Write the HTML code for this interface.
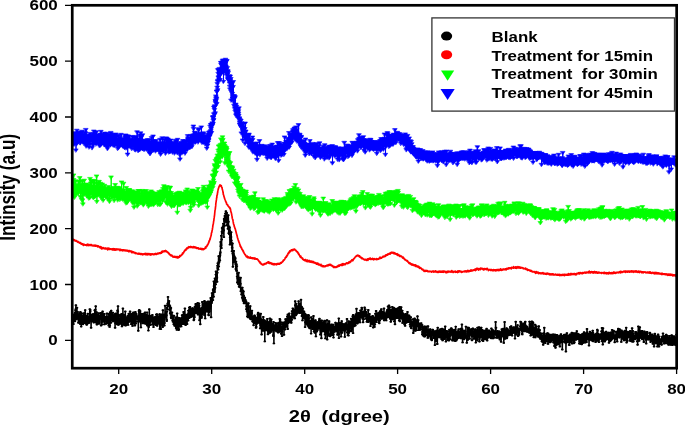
<!DOCTYPE html>
<html><head><meta charset="utf-8"><title>XRD</title><style>html,body{margin:0;padding:0;background:#fff;}svg{display:block;will-change:transform;}body{font-family:"Liberation Sans",sans-serif;}</style></head><body>
<svg width="685" height="426" viewBox="0 0 685 426">
<rect width="685" height="426" fill="#fff"/>
<clipPath id="c"><rect x="72" y="5" width="605" height="363"/></clipPath>
<g clip-path="url(#c)" fill="none" stroke-linejoin="round" stroke-linecap="round">
<path d="M72.2 239.2l0.2 0.9l0.2 -0.9l0.1 0.5l0.2 -0.2l0.2 0.5l0.2 0l0.2 -0.2l0.2 -0.4l0.1 0.5l0.2 0.7l0.2 -0.4l0.2 0.4l0.2 -0.3l0.2 -0.4l0.1 0.8l0.2 0.1l0.2 -0.2l0.2 0.1l0.2 0.3l0.2 -0.2l0.1 0.4l0.2 -0.1l0.2 -0.6l0.2 0.8l0.2 -0.1l0.2 0l0.1 0.5l0.2 -0.2l0.2 0.5l0.2 0.2l0.2 -0.2l0.2 -0.5l0.1 0.4l0.2 0.6l0.2 -0.3l0.2 -0.1l0.2 0.3l0.2 0.3l0.1 0l0.2 0.3l0.2 -0.5l0.2 0.3l0.2 0.1l0.2 0.2l0.1 -0.6l0.2 0.7l0.2 -0.3l0.2 1.1l0.2 0.1l0.2 0.1l0.1 -0.2l0.2 -0.4l0.2 0.6l0.2 -0.3l0.2 0.4l0.2 -0.5l0.1 0.2l0.2 0.4l0.2 0.5l0.2 -0.5l0.2 0.8l0.2 0.2l0.1 -1.3l0.2 0.5l0.2 -0.3l0.2 0.3l0.2 -0.1l0.2 0.2l0.1 0.3l0.2 0.1l0.2 -0.2l0.2 -0.1l0.2 0.1l0.2 0l0.1 0.2l0.2 -0.2l0.2 0.2l0.2 -0.6l0.2 0.7l0.2 0.4l0.1 -0.5l0.2 -0.6l0.2 1l0.2 -0.6l0.2 -0.9l0.2 1l0.1 0.3l0.2 -0.1l0.2 0.3l0.2 -0.2l0.2 -0.1l0.2 -0.7l0.1 0.3l0.2 0.5l0.2 0.1l0.2 -0.5l0.2 0.1l0.2 0.4l0.1 -0.8l0.2 0l0.2 0.6l0.2 0.2l0.2 -0.3l0.2 -0.6l0.1 0.8l0.2 -0.4l0.2 0.7l0.2 -0.3l0.2 0.2l0.2 0.1l0.1 -0.4l0.2 0.5l0.2 0.2l0.2 -0.3l0.2 0.3l0.2 -0.6l0.1 0.5l0.2 -0.2l0.2 -0.4l0.2 0.4l0.2 -0.2l0.2 0l0.1 0.3l0.2 0.3l0.2 -0.4l0.2 0.2l0.2 -0.6l0.2 0.6l0.1 0.4l0.2 -0.1l0.2 -0.1l0.2 -0.3l0.2 -0.1l0.1 0.4l0.2 -0.4l0.2 0l0.2 0.9l0.2 -0.6l0.2 1l0.1 -1.1l0.2 0.7l0.2 -0.5l0.2 0.5l0.2 -0.3l0.2 0.4l0.1 0l0.2 0l0.2 0.4l0.2 0.4l0.2 -0.7l0.2 0.6l0.1 -0.2l0.2 0l0.2 0.9l0.2 -1.5l0.2 0.6l0.2 -0.3l0.1 0.6l0.2 0.1l0.2 1.4l0.2 -1.1l0.2 0.6l0.2 -0.1l0.1 -0.6l0.2 0.4l0.2 0.5l0.2 -0.5l0.2 0.1l0.2 0.1l0.1 -0.6l0.2 0.3l0.2 0.4l0.2 0.1l0.2 -0.4l0.2 0.2l0.1 0.1l0.2 0.1l0.2 0.3l0.2 -0.2l0.2 0.1l0.2 -0.6l0.1 0.2l0.2 0.5l0.2 -0.7l0.2 0.7l0.2 -0.3l0.2 0l0.1 0.5l0.2 -0.5l0.2 0l0.2 0.1l0.2 0.2l0.2 1l0.1 -1.7l0.2 0.8l0.2 -0.1l0.2 0.4l0.2 -0.4l0.2 -0.7l0.1 1.3l0.2 -0.8l0.2 0.3l0.2 -0.4l0.2 0.1l0.2 0.2l0.1 0.5l0.2 0l0.2 -0.5l0.2 0.4l0.2 -0.3l0.2 0.2l0.1 0l0.2 0.2l0.2 -0.4l0.2 0.2l0.2 0.1l0.2 0l0.1 -0.3l0.2 0.9l0.2 -0.8l0.2 0.4l0.2 -0.1l0.2 0.3l0.1 -1.1l0.2 1.4l0.2 -0.7l0.2 -0.4l0.2 0.5l0.2 0.8l0.1 -0.6l0.2 -0.6l0.2 0.2l0.2 0.7l0.2 -1l0.2 0.5l0.1 0l0.2 0.8l0.2 -0.8l0.2 0.6l0.2 -0.7l0.2 0l0.1 0.6l0.2 -0.1l0.2 -0.8l0.2 0.8l0.2 0l0.2 -0.4l0.1 0.3l0.2 0.1l0.2 -0.3l0.2 0l0.2 0l0.2 0.2l0.1 -0.4l0.2 0.5l0.2 -0.5l0.2 0.6l0.2 -0.1l0.2 -0.3l0.1 0.7l0.2 0.4l0.2 -0.2l0.2 -0.9l0.2 0.9l0.1 -0.3l0.2 -0.1l0.2 -0.2l0.2 0.2l0.2 0.6l0.2 -0.3l0.1 -0.3l0.2 -0.1l0.2 0.1l0.2 0.4l0.2 0.5l0.2 -1l0.1 0.3l0.2 -0.1l0.2 -0.1l0.2 0.5l0.2 0l0.2 -0.6l0.1 0.1l0.2 0.8l0.2 -0.3l0.2 0.1l0.2 -0.3l0.2 0.1l0.1 0.3l0.2 -0.3l0.2 -0.2l0.2 0.4l0.2 0.4l0.2 -0.7l0.1 0.8l0.2 -0.1l0.2 -0.5l0.2 0.3l0.2 0l0.2 0.3l0.1 0l0.2 -0.7l0.2 0.1l0.2 0.8l0.2 -0.3l0.2 0.2l0.1 0l0.2 0.4l0.2 -0.9l0.2 0.8l0.2 -0.6l0.2 0.6l0.1 0.2l0.2 -0.9l0.2 0.7l0.2 -0.2l0.2 0l0.2 0.2l0.1 -0.3l0.2 0l0.2 0.7l0.2 0.1l0.2 -0.5l0.2 -0.2l0.1 1.4l0.2 -0.4l0.2 -0.2l0.2 -0.4l0.2 0.2l0.2 0.3l0.1 -0.3l0.2 0.9l0.2 -0.4l0.2 0.1l0.2 -0.4l0.2 0.1l0.1 0.1l0.2 0.4l0.2 -0.1l0.2 0.1l0.2 0.2l0.2 0.1l0.1 0.5l0.2 -0.6l0.2 -0.2l0.2 0.4l0.2 0.6l0.2 -0.6l0.1 0.2l0.2 -0.1l0.2 0.3l0.2 0l0.2 -0.3l0.2 0.3l0.1 0.4l0.2 0.1l0.2 0l0.2 0l0.2 -0.3l0.2 0l0.1 0.5l0.2 -0.7l0.2 0.4l0.2 -0.6l0.2 0.5l0.2 0l0.1 -0.2l0.2 0.6l0.2 -0.4l0.2 0.1l0.2 0.1l0.2 -0.2l0.1 0.8l0.2 -0.7l0.2 0.3l0.2 -0.5l0.2 0.3l0.2 0l0.1 0l0.2 -0.1l0.2 0.3l0.2 0.5l0.2 -0.6l0.2 0l0.1 -0.1l0.2 1l0.2 -0.3l0.2 -0.3l0.2 0l0.2 -0.5l0.1 0.2l0.2 0.2l0.2 -0.1l0.2 -0.3l0.2 0l0.1 0.5l0.2 -0.1l0.2 -0.8l0.2 0.7l0.2 0.5l0.2 -0.7l0.1 0.3l0.2 -0.6l0.2 0.8l0.2 -0.6l0.2 -0.1l0.2 0.3l0.1 1l0.2 -1.1l0.2 -0.2l0.2 0.6l0.2 -0.1l0.2 0.5l0.1 -1l0.2 -0.1l0.2 0.5l0.2 0.2l0.2 0l0.2 0.2l0.1 -0.8l0.2 0.2l0.2 0.2l0.2 0.4l0.2 -0.2l0.2 -0.3l0.1 -0.2l0.2 0.7l0.2 0l0.2 0.6l0.2 -1l0.2 0.6l0.1 -0.9l0.2 0.2l0.2 0l0.2 0l0.2 -0.1l0.2 0.1l0.1 0.2l0.2 -0.2l0.2 0.4l0.2 -0.3l0.2 0.1l0.2 0.5l0.1 -0.4l0.2 -0.1l0.2 -0.1l0.2 0l0.2 0.2l0.2 -0.5l0.1 0.7l0.2 0.1l0.2 -0.1l0.2 -0.6l0.2 -0.4l0.2 0.4l0.1 0.1l0.2 0.2l0.2 -0.3l0.2 -0.1l0.2 0.6l0.2 -0.8l0.1 0.6l0.2 -0.1l0.2 -0.8l0.2 0.6l0.2 -0.3l0.2 -0.2l0.1 -0.3l0.2 0l0.2 0.7l0.2 -0.3l0.2 0.2l0.2 -0.5l0.1 0.2l0.2 0l0.2 -0.5l0.2 -0.1l0.2 0.6l0.2 -0.1l0.1 -0.5l0.2 0.2l0.2 0.1l0.2 0.3l0.2 -1l0.2 0.4l0.1 0.4l0.2 -0.8l0.2 0.4l0.2 -1.5l0.2 1.2l0.2 -0.6l0.1 -0.7l0.2 0.8l0.2 0.1l0.2 -0.1l0.2 -0.1l0.2 -0.5l0.1 -0.3l0.2 0l0.2 0.1l0.2 0.1l0.2 -0.4l0.2 0.1l0.1 0.2l0.2 -0.2l0.2 0.7l0.2 -0.1l0.2 -1.1l0.2 0.3l0.1 -0.3l0.2 0.2l0.2 0.6l0.2 -0.4l0.2 0.1l0.2 0.4l0.1 0.4l0.2 -0.2l0.2 0.1l0.2 0.6l0.2 0l0.2 0.1l0.1 0.3l0.2 -0.5l0.2 0.5l0.2 -0.1l0.2 0.8l0.2 0.1l0.1 -0.4l0.2 1.1l0.2 -0.7l0.2 1.1l0.2 -0.1l0.1 -0.1l0.2 0.1l0.2 0.5l0.2 0.2l0.2 0l0.2 0.5l0.1 -0.6l0.2 0.6l0.2 0.1l0.2 -0.6l0.2 0.8l0.2 -0.4l0.1 -0.4l0.2 0.7l0.2 0.2l0.2 0.5l0.2 -0.4l0.2 0.7l0.1 0l0.2 0l0.2 0.1l0.2 -0.3l0.2 -0.2l0.2 0.5l0.1 0.1l0.2 -0.2l0.2 -0.1l0.2 -0.4l0.2 0.8l0.2 -0.1l0.1 -0.5l0.2 0.5l0.2 0.2l0.2 -0.2l0.2 0.3l0.2 0l0.1 -0.7l0.2 0.4l0.2 0.3l0.2 0.2l0.2 0.2l0.2 -1.2l0.1 0.7l0.2 0.2l0.2 0.2l0.2 0.2l0.2 -1l0.2 0.2l0.1 -0.3l0.2 0.5l0.2 -0.8l0.2 0.8l0.2 -0.2l0.2 -0.3l0.1 -1.1l0.2 0.4l0.2 0.4l0.2 -0.9l0.2 0.2l0.2 -0.1l0.1 0.2l0.2 -0.3l0.2 -0.2l0.2 -0.4l0.2 -0.1l0.2 -0.2l0.1 0.1l0.2 -0.6l0.2 0.2l0.2 -1.2l0.2 0.8l0.2 -0.8l0.1 0.2l0.2 -0.6l0.2 0.1l0.2 0l0.2 -1l0.2 0l0.1 -0.3l0.2 -0.1l0.2 -0.8l0.2 0.2l0.2 -0.2l0.2 -0.4l0.1 -0.1l0.2 -0.6l0.2 0.8l0.2 -0.6l0.2 0.3l0.2 -1.1l0.1 -0.3l0.2 0.3l0.2 -0.9l0.2 0.6l0.2 -0.5l0.2 0l0.1 0l0.2 -0.2l0.2 0.5l0.2 -0.5l0.2 -0.8l0.2 0.6l0.1 -0.9l0.2 0.4l0.2 -0.6l0.2 0.1l0.2 0.7l0.2 -0.7l0.1 0l0.2 0l0.2 0.1l0.2 0.6l0.2 -0.9l0.2 0l0.1 0.6l0.2 -0.7l0.2 0.4l0.2 0.6l0.2 -0.4l0.2 -0.1l0.1 -0.1l0.2 -0.1l0.2 0.2l0.2 0.3l0.2 0.4l0.2 -0.1l0.1 -0.5l0.2 -0.1l0.2 0.6l0.2 -0.9l0.2 0.5l0.1 0.1l0.2 -0.3l0.2 0.1l0.2 0.5l0.2 -0.7l0.2 0.3l0.1 0.1l0.2 0.3l0.2 -0.5l0.2 0.9l0.2 -0.4l0.2 0l0.1 0l0.2 0l0.2 -0.1l0.2 0.8l0.2 -0.3l0.2 -0.1l0.1 0.4l0.2 -0.5l0.2 0.5l0.2 -0.1l0.2 -0.3l0.2 0.6l0.1 -0.7l0.2 0.8l0.2 -0.4l0.2 0.5l0.2 0.4l0.2 -0.3l0.1 -0.3l0.2 0.2l0.2 0l0.2 -0.2l0.2 0l0.2 0.5l0.1 0.2l0.2 -0.8l0.2 0.6l0.2 0.2l0.2 -0.1l0.2 -0.4l0.1 0.8l0.2 -0.8l0.2 0.7l0.2 0.3l0.2 -1.2l0.2 0.8l0.1 0l0.2 0l0.2 -0.3l0.2 0.2l0.2 -0.4l0.2 0.5l0.1 0.2l0.2 -0.5l0.2 -0.1l0.2 0l0.2 0l0.2 -0.1l0.1 -0.2l0.2 -0.2l0.2 -0.7l0.2 -0.7l0.2 0.9l0.2 0.1l0.1 -1.3l0.2 0l0.2 0.1l0.2 0l0.2 -0.3l0.2 -0.1l0.1 -0.7l0.2 -0.1l0.2 -0.4l0.2 -0.6l0.2 0.3l0.2 -0.6l0.1 -0.2l0.2 -0.8l0.2 0.1l0.2 -1.2l0.2 0.1l0.2 -1.5l0.1 0.1l0.2 0.2l0.2 -0.9l0.2 -0.3l0.2 -1.2l0.2 0.5l0.1 -0.9l0.2 -0.9l0.2 -0.6l0.2 -0.7l0.2 -0.4l0.2 -1.2l0.1 -1.4l0.2 -0.4l0.2 -0.4l0.2 -1.1l0.2 -1.2l0.2 -0.6l0.1 -1.2l0.2 -0.8l0.2 -1.9l0.2 -0.9l0.2 -0.6l0.2 -1.5l0.1 -1l0.2 -0.7l0.2 -2l0.2 -1.1l0.2 -1.5l0.2 -1.4l0.1 -1.3l0.2 -2l0.2 -1.8l0.2 -0.5l0.2 -2.1l0.2 -1.2l0.1 -1.9l0.2 -1.5l0.2 -1.3l0.2 -1.3l0.2 -1.9l0.2 -0.4l0.1 -1.8l0.2 -0.8l0.2 -0.2l0.2 -1.9l0.2 -0.5l0.1 -1.6l0.2 -0.5l0.2 -0.9l0.2 -0.5l0.2 -0.9l0.2 -0.6l0.1 0l0.2 -1.1l0.2 -0.2l0.2 0.1l0.2 -0.7l0.2 -0.4l0.1 -0.2l0.2 0.3l0.2 -0.1l0.2 0.2l0.2 0.1l0.2 1l0.1 -0.5l0.2 -0.2l0.2 1.2l0.2 0.3l0.2 0.5l0.2 -0.1l0.1 1.5l0.2 0.3l0.2 0.9l0.2 0.3l0.2 1.7l0.2 0.8l0.1 1.4l0.2 0.2l0.2 0.5l0.2 1.1l0.2 0.3l0.2 1l0.1 0.1l0.2 0.9l0.2 0.4l0.2 0.6l0.2 0.3l0.2 0.4l0.1 0.8l0.2 0.3l0.2 0.7l0.2 0.3l0.2 -0.3l0.2 1.2l0.1 0.8l0.2 0l0.2 0.4l0.2 0.2l0.2 -0.1l0.2 0l0.1 0.9l0.2 0.3l0.2 0.1l0.2 0.2l0.2 0.3l0.2 0.1l0.1 0.3l0.2 0.2l0.2 0.4l0.2 -0.2l0.2 0.4l0.2 0.7l0.1 0l0.2 -0.3l0.2 1.3l0.2 -0.3l0.2 2l0.2 0.3l0.1 0.7l0.2 0.4l0.2 0.7l0.2 1.1l0.2 1l0.2 0.7l0.1 1.2l0.2 1.1l0.2 0.9l0.2 0.3l0.2 0.5l0.2 1.5l0.1 0.5l0.2 1.1l0.2 1l0.2 0.7l0.2 0.2l0.2 0.9l0.1 0.8l0.2 0.1l0.2 0.7l0.2 0.8l0.2 0.3l0.2 0.5l0.1 0.5l0.2 0.9l0.2 0.4l0.2 1.2l0.2 0.3l0.2 1.3l0.1 0.6l0.2 -0.1l0.2 1.4l0.2 0.2l0.2 1.3l0.2 0.4l0.1 0.5l0.2 0.8l0.2 0.3l0.2 0.9l0.2 0.6l0.2 0.4l0.1 0.7l0.2 0.1l0.2 1l0.2 -0.1l0.2 1.1l0.2 0.4l0.1 0.6l0.2 0l0.2 1.6l0.2 -0.6l0.2 0.5l0.2 0.1l0.1 1.2l0.2 -0.3l0.2 0.9l0.2 -0.3l0.2 0.8l0.1 0.1l0.2 0.8l0.2 0l0.2 0.1l0.2 0.8l0.2 -0.2l0.1 0.4l0.2 0.9l0.2 -0.6l0.2 1.3l0.2 -0.1l0.2 0.2l0.1 0.7l0.2 0.4l0.2 0l0.2 0.4l0.2 0.6l0.2 0.3l0.1 0l0.2 0l0.2 0.2l0.2 0.4l0.2 0.6l0.2 0.2l0.1 0.1l0.2 0.5l0.2 -0.4l0.2 0.1l0.2 0.1l0.2 0.9l0.1 -1.3l0.2 0.9l0.2 0.1l0.2 0l0.2 0.8l0.2 -0.3l0.1 -0.1l0.2 -0.5l0.2 0.5l0.2 -0.2l0.2 0.2l0.2 0.1l0.1 -0.2l0.2 0.4l0.2 0.4l0.2 -0.2l0.2 -0.2l0.2 -0.7l0.1 1.1l0.2 0l0.2 -0.3l0.2 -0.1l0.2 0.4l0.2 -0.4l0.1 0.6l0.2 -0.6l0.2 0.1l0.2 0.3l0.2 -0.4l0.2 0.5l0.1 0.2l0.2 -0.6l0.2 0.8l0.2 -0.5l0.2 0.4l0.2 0l0.1 -0.2l0.2 0l0.2 -0.4l0.2 0.4l0.2 0l0.2 0.8l0.1 -0.2l0.2 -0.7l0.2 0.7l0.2 -0.1l0.2 -0.2l0.2 0.4l0.1 0.1l0.2 -0.4l0.2 0.2l0.2 0.2l0.2 -0.3l0.2 0.4l0.1 0l0.2 -0.1l0.2 0l0.2 0.5l0.2 0.4l0.2 0l0.1 -0.1l0.2 0.7l0.2 0.1l0.2 0.4l0.2 0.4l0.2 -0.4l0.1 0.5l0.2 0.1l0.2 0.1l0.2 1.1l0.2 -0.1l0.2 -0.7l0.1 0.9l0.2 -0.1l0.2 0.8l0.2 -0.2l0.2 0.1l0.2 0.3l0.1 0.3l0.2 0l0.2 0.1l0.2 0.1l0.2 0.3l0.2 -0.5l0.1 0.4l0.2 -0.1l0.2 -0.1l0.2 0.4l0.2 -0.7l0.2 0.2l0.1 -0.2l0.2 0.3l0.2 -0.4l0.2 0.1l0.2 0l0.2 -0.7l0.1 0.5l0.2 -0.5l0.2 0.1l0.2 -0.1l0.2 0.2l0.1 -0.1l0.2 0.2l0.2 -0.6l0.2 -0.3l0.2 -0.1l0.2 0.3l0.1 0.2l0.2 -0.5l0.2 -0.3l0.2 0.2l0.2 0l0.2 -0.1l0.1 -0.2l0.2 -0.6l0.2 0.7l0.2 0.5l0.2 -0.2l0.2 -0.8l0.1 0.8l0.2 -0.6l0.2 1.3l0.2 -0.5l0.2 -0.4l0.2 0.7l0.1 -0.4l0.2 0.5l0.2 -0.1l0.2 -0.4l0.2 0.7l0.2 -0.6l0.1 1l0.2 -0.4l0.2 -0.3l0.2 -0.2l0.2 1.2l0.2 0l0.1 -0.8l0.2 1l0.2 -0.4l0.2 -0.1l0.2 0.1l0.2 -0.1l0.1 0.6l0.2 -0.4l0.2 -0.6l0.2 1.3l0.2 -0.4l0.2 -0.7l0.1 0.3l0.2 -0.2l0.2 0.3l0.2 0.1l0.2 -0.1l0.2 -0.3l0.1 0l0.2 0.5l0.2 -0.3l0.2 0.7l0.2 -1l0.2 0.5l0.1 -0.3l0.2 -0.3l0.2 0.7l0.2 -0.4l0.2 -0.4l0.2 0.1l0.1 0.4l0.2 -0.7l0.2 0.8l0.2 -0.3l0.2 -0.3l0.2 0.5l0.1 0.1l0.2 -0.5l0.2 -0.1l0.2 0.5l0.2 -0.2l0.2 -0.8l0.1 0.1l0.2 0l0.2 -0.1l0.2 -0.5l0.2 0.7l0.2 -0.4l0.1 -0.1l0.2 0.3l0.2 -0.8l0.2 0l0.2 -0.1l0.2 -0.4l0.1 -0.1l0.2 0.1l0.2 -0.5l0.2 0.3l0.2 -0.9l0.2 0.1l0.1 -0.8l0.2 0.2l0.2 -0.4l0.2 0.4l0.2 -0.4l0.2 -0.3l0.1 0.2l0.2 -0.4l0.2 -0.5l0.2 -0.7l0.2 -0.4l0.2 0.2l0.1 -0.3l0.2 -0.3l0.2 -0.2l0.2 -0.7l0.2 0.8l0.2 -1.2l0.1 -0.1l0.2 0.1l0.2 -1l0.2 0.5l0.2 -0.3l0.2 -0.7l0.1 -0.6l0.2 -0.1l0.2 -0.8l0.2 0.8l0.2 -0.7l0.2 -0.6l0.1 -0.3l0.2 0.2l0.2 0.1l0.2 -1.1l0.2 0l0.1 -0.6l0.2 0.6l0.2 -0.3l0.2 0.5l0.2 -0.9l0.2 -0.2l0.1 -0.2l0.2 0.5l0.2 -0.9l0.2 0.7l0.2 -0.3l0.2 -0.3l0.1 -0.2l0.2 0.6l0.2 0.2l0.2 -0.9l0.2 0.3l0.2 0.4l0.1 -0.9l0.2 0.1l0.2 -0.3l0.2 0.3l0.2 0l0.2 -0.1l0.1 -0.1l0.2 -0.3l0.2 0.1l0.2 0.2l0.2 0.7l0.2 -0.3l0.1 0l0.2 0.6l0.2 0.2l0.2 -0.3l0.2 0.2l0.2 0.6l0.1 0.1l0.2 -0.2l0.2 0.5l0.2 0.1l0.2 0.6l0.2 -0.5l0.1 0.8l0.2 0.1l0.2 -0.2l0.2 1l0.2 0.2l0.2 -0.4l0.1 1.3l0.2 -0.7l0.2 0.4l0.2 0.4l0.2 0.7l0.2 0.2l0.1 0l0.2 0.8l0.2 -0.1l0.2 0.6l0.2 0.6l0.2 -0.6l0.1 -0.7l0.2 0.9l0.2 0l0.2 0.6l0.2 0.3l0.2 -0.3l0.1 0.3l0.2 0.5l0.2 0.2l0.2 -0.6l0.2 1.3l0.2 -0.1l0.1 0.1l0.2 0.3l0.2 -0.4l0.2 0.5l0.2 0.4l0.2 0.1l0.1 -0.1l0.2 -0.2l0.2 -0.1l0.2 0.8l0.2 -0.2l0.2 -0.3l0.1 -0.5l0.2 0.5l0.2 -0.4l0.2 1.2l0.2 -0.3l0.2 -0.3l0.1 0.2l0.2 1l0.2 -0.4l0.2 -0.9l0.2 0.5l0.2 -0.4l0.1 -0.1l0.2 0.7l0.2 0.8l0.2 -0.3l0.2 -0.5l0.2 -0.1l0.1 0.3l0.2 0.3l0.2 -0.8l0.2 -0.1l0.2 1.3l0.2 -0.5l0.1 0.5l0.2 -0.5l0.2 0.5l0.2 -0.7l0.2 0.5l0.2 0.4l0.1 -0.2l0.2 -0.4l0.2 0.5l0.2 -0.5l0.2 -0.2l0.2 0.7l0.1 0.4l0.2 -0.1l0.2 -0.7l0.2 0.8l0.2 0l0.2 -0.3l0.1 -0.7l0.2 1.3l0.2 0l0.2 -0.1l0.2 -0.7l0.2 0.2l0.1 0.9l0.2 0l0.2 0l0.2 -0.2l0.2 0.3l0.1 -0.3l0.2 0.2l0.2 -0.2l0.2 0.5l0.2 -0.2l0.2 0.6l0.1 -0.1l0.2 -0.4l0.2 1l0.2 -1l0.2 0.6l0.2 0.3l0.1 0.1l0.2 -1.1l0.2 1.2l0.2 0.1l0.2 0.2l0.2 -1.2l0.1 0.6l0.2 0.3l0.2 0l0.2 0.7l0.2 -0.6l0.2 0.7l0.1 -0.1l0.2 -0.7l0.2 0.3l0.2 0.2l0.2 0.3l0.2 0.4l0.1 -0.3l0.2 0.4l0.2 -0.7l0.2 -0.5l0.2 1l0.2 0.4l0.1 -0.2l0.2 -0.2l0.2 0.6l0.2 0.6l0.2 -0.7l0.2 -0.2l0.1 0.1l0.2 1l0.2 -0.7l0.2 0.3l0.2 0.3l0.2 -0.1l0.1 -0.6l0.2 0.7l0.2 -0.1l0.2 -0.1l0.2 0.2l0.2 -0.5l0.1 0.2l0.2 -0.2l0.2 0.4l0.2 -0.5l0.2 0.4l0.2 -0.6l0.1 0.3l0.2 -0.2l0.2 0.1l0.2 0l0.2 -0.2l0.2 -0.1l0.1 -0.7l0.2 1l0.2 -0.7l0.2 0.1l0.2 -0.3l0.2 0.5l0.1 -0.7l0.2 0.4l0.2 0.2l0.2 0.1l0.2 -0.3l0.2 -0.2l0.1 -0.7l0.2 0.8l0.2 0l0.2 -0.2l0.2 0l0.2 -0.3l0.1 -0.2l0.2 0.6l0.2 0.2l0.2 -0.8l0.2 0.8l0.2 -0.1l0.1 0.3l0.2 0l0.2 0.4l0.2 0.1l0.2 0.1l0.2 -0.6l0.1 0.9l0.2 -0.1l0.2 -0.3l0.2 0.8l0.2 -0.6l0.2 0.9l0.1 0.4l0.2 -0.7l0.2 0.5l0.2 -0.1l0.2 0.1l0.2 -0.7l0.1 0.7l0.2 -0.2l0.2 0.2l0.2 -0.3l0.2 0.4l0.2 -0.3l0.1 0.1l0.2 0.1l0.2 -0.4l0.2 0.2l0.2 -0.3l0.2 0l0.1 -0.4l0.2 0.3l0.2 0.1l0.2 -0.5l0.2 0.2l0.2 -0.2l0.1 -0.6l0.2 0.4l0.2 0.2l0.2 -0.7l0.2 -0.5l0.1 0.6l0.2 -0.4l0.2 0.8l0.2 -0.7l0.2 -0.1l0.2 -0.3l0.1 0.3l0.2 -0.4l0.2 -0.1l0.2 0.2l0.2 -0.3l0.2 0.7l0.1 -0.9l0.2 0.3l0.2 -0.3l0.2 -0.2l0.2 1l0.2 -1.4l0.1 1.2l0.2 -1l0.2 0.5l0.2 0.7l0.2 -1.6l0.2 0.2l0.1 0.9l0.2 -0.4l0.2 -0.3l0.2 0.1l0.2 -0.3l0.2 0.3l0.1 0.4l0.2 -0.6l0.2 0.1l0.2 0.3l0.2 0.2l0.2 -0.9l0.1 0.3l0.2 -0.4l0.2 -0.1l0.2 0l0.2 -0.1l0.2 -0.4l0.1 -0.2l0.2 0.4l0.2 0.2l0.2 0.3l0.2 -0.7l0.2 0.1l0.1 0.2l0.2 -0.1l0.2 -0.4l0.2 -0.1l0.2 0.6l0.2 -0.9l0.1 -0.1l0.2 -0.5l0.2 0.6l0.2 -0.3l0.2 0.6l0.2 -0.9l0.1 0.3l0.2 -0.1l0.2 0.2l0.2 -1.2l0.2 0.9l0.2 -0.6l0.1 -0.2l0.2 -0.2l0.2 -0.1l0.2 -0.1l0.2 -0.8l0.2 0.8l0.1 -0.3l0.2 -0.4l0.2 0.1l0.2 0.7l0.2 -0.9l0.2 -0.4l0.1 0.5l0.2 -1l0.2 0l0.2 -0.4l0.2 0l0.2 0.1l0.1 -0.3l0.2 -0.6l0.2 0l0.2 -0.2l0.2 -0.4l0.2 0l0.1 -0.5l0.2 -0.1l0.2 0l0.2 -0.5l0.2 0.3l0.2 -0.3l0.1 -0.4l0.2 0l0.2 -0.1l0.2 0l0.2 0l0.2 -0.2l0.1 -0.2l0.2 0.7l0.2 -0.2l0.2 -0.2l0.2 0.3l0.2 -0.2l0.1 -0.1l0.2 0.2l0.2 1l0.2 -0.5l0.2 0.2l0.2 -0.4l0.1 0.5l0.2 0.7l0.2 -0.5l0.2 0.4l0.2 0.2l0.2 0l0.1 0.5l0.2 -0.4l0.2 0.3l0.2 -0.3l0.2 1.3l0.2 -0.7l0.1 0.1l0.2 0.5l0.2 -0.5l0.2 0.3l0.2 -0.1l0.1 0.4l0.2 0l0.2 0.4l0.2 -0.1l0.2 0l0.2 0.2l0.1 0.2l0.2 -0.1l0.2 0.6l0.2 0l0.2 -0.1l0.2 -0.4l0.1 0.6l0.2 -0.6l0.2 0.5l0.2 -0.1l0.2 -0.2l0.2 -0.1l0.1 0l0.2 0.9l0.2 -0.9l0.2 0l0.2 0.3l0.2 -0.2l0.1 0.2l0.2 -0.9l0.2 0l0.2 1.5l0.2 -1.2l0.2 -0.2l0.1 0.1l0.2 0.3l0.2 -0.8l0.2 0.4l0.2 -0.1l0.2 0.2l0.1 -0.2l0.2 -0.3l0.2 -0.1l0.2 -0.5l0.2 1.1l0.2 -0.8l0.1 0.4l0.2 0.7l0.2 -0.7l0.2 0.4l0.2 -0.3l0.2 0.3l0.1 -0.2l0.2 -0.1l0.2 0.6l0.2 -0.5l0.2 -0.4l0.2 0.4l0.1 0.3l0.2 -0.5l0.2 0.6l0.2 0l0.2 0.5l0.2 -0.9l0.1 0.5l0.2 -0.8l0.2 0.4l0.2 0.2l0.2 0.1l0.2 -0.1l0.1 0l0.2 -0.2l0.2 0.1l0.2 0.2l0.2 0.1l0.2 0l0.1 0.1l0.2 0.1l0.2 -1.1l0.2 0.4l0.2 0.1l0.2 -0.2l0.1 0.6l0.2 -0.2l0.2 -0.3l0.2 0l0.2 0.4l0.2 -0.6l0.1 -0.1l0.2 0.4l0.2 -0.2l0.2 0.2l0.2 -0.4l0.2 0.1l0.1 -0.6l0.2 -0.2l0.2 0.3l0.2 -1l0.2 1l0.2 0.1l0.1 -0.4l0.2 -0.2l0.2 0.4l0.2 -0.5l0.2 0.3l0.2 0.3l0.1 -0.6l0.2 0l0.2 -0.2l0.2 -0.2l0.2 0l0.2 -0.2l0.1 0.3l0.2 -1l0.2 0.4l0.2 0.2l0.2 -0.6l0.2 0.2l0.1 -0.3l0.2 0.3l0.2 0.1l0.2 0.1l0.2 -0.4l0.2 -0.5l0.1 0.3l0.2 0l0.2 0.2l0.2 -1.3l0.2 0.8l0.2 -0.9l0.1 0.8l0.2 -0.2l0.2 -0.1l0.2 0l0.2 -0.2l0.1 -0.5l0.2 0.3l0.2 0.1l0.2 -0.5l0.2 -0.1l0.2 -0.5l0.1 0.7l0.2 -0.7l0.2 -0.1l0.2 0l0.2 -0.3l0.2 0.1l0.1 0.5l0.2 -0.3l0.2 0.1l0.2 0l0.2 -0.9l0.2 0.4l0.1 0.3l0.2 0.2l0.2 -1.4l0.2 0l0.2 0.6l0.2 -0.3l0.1 -0.3l0.2 0.4l0.2 -0.4l0.2 -0.5l0.2 0.7l0.2 0.1l0.1 0.1l0.2 0.1l0.2 -0.2l0.2 -0.1l0.2 -0.1l0.2 -0.3l0.1 0.4l0.2 0.6l0.2 -0.1l0.2 0.5l0.2 -0.6l0.2 -0.5l0.1 1l0.2 0.1l0.2 -0.6l0.2 -0.1l0.2 0.7l0.2 0.3l0.1 -0.6l0.2 0.4l0.2 -0.1l0.2 0l0.2 0l0.2 0.6l0.1 -0.1l0.2 0l0.2 -0.6l0.2 1.6l0.2 -0.9l0.2 0.4l0.1 -0.3l0.2 0.6l0.2 -0.5l0.2 0.6l0.2 0l0.2 0.4l0.1 -0.5l0.2 0.2l0.2 0.2l0.2 0.9l0.2 -1.1l0.2 0.7l0.1 -0.2l0.2 0.4l0.2 0.2l0.2 -0.1l0.2 0.2l0.2 0.1l0.1 -0.2l0.2 0.2l0.2 -0.4l0.2 0.6l0.2 0l0.2 0.2l0.1 0.5l0.2 0l0.2 0.1l0.2 0.4l0.2 -1l0.2 1l0.1 0l0.2 0.1l0.2 -0.2l0.2 0.7l0.2 0.4l0.2 0.1l0.1 -0.2l0.2 0.4l0.2 0.2l0.2 0.5l0.2 -0.1l0.2 -0.2l0.1 0.2l0.2 0.2l0.2 0.1l0.2 0l0.2 0.5l0.2 -0.3l0.1 0.1l0.2 0.6l0.2 -0.2l0.2 0.3l0.2 -0.5l0.2 1.1l0.1 -0.1l0.2 0.1l0.2 0.4l0.2 0l0.2 -0.1l0.2 1l0.1 -0.7l0.2 0.6l0.2 0.5l0.2 -0.7l0.2 0.3l0.2 -0.2l0.1 0.8l0.2 -0.4l0.2 -0.1l0.2 0.9l0.2 0l0.1 -0.6l0.2 0.8l0.2 -0.2l0.2 0.9l0.2 -0.2l0.2 -0.7l0.1 0.2l0.2 -0.1l0.2 0.4l0.2 0l0.2 0.4l0.2 -0.2l0.1 -0.4l0.2 0.3l0.2 0.8l0.2 0l0.2 -0.4l0.2 0.1l0.1 0l0.2 0.2l0.2 -0.5l0.2 0.9l0.2 -0.4l0.2 0.3l0.1 -0.8l0.2 1l0.2 0.4l0.2 -1.1l0.2 1.3l0.2 -0.3l0.1 -0.3l0.2 -0.2l0.2 1l0.2 -0.3l0.2 0.2l0.2 -0.2l0.1 -0.1l0.2 0.7l0.2 -0.6l0.2 0.7l0.2 -0.7l0.2 0.3l0.1 -0.1l0.2 1l0.2 -0.9l0.2 0.3l0.2 0.7l0.2 -0.1l0.1 0.8l0.2 0l0.2 -0.3l0.2 0.1l0.2 -0.7l0.2 0.5l0.1 0.3l0.2 0.2l0.2 -0.3l0.2 0.3l0.2 0.2l0.2 0.7l0.1 0l0.2 -0.2l0.2 0.2l0.2 0.3l0.2 -0.2l0.2 0.3l0.1 -0.4l0.2 0.9l0.2 0.3l0.2 -0.1l0.2 0.1l0.2 0.1l0.1 0.6l0.2 -0.5l0.2 -0.5l0.2 0.2l0.2 0.6l0.2 0.2l0.1 -0.1l0.2 0l0.2 -0.2l0.2 -0.5l0.2 0.3l0.2 -0.4l0.1 0.5l0.2 -0.3l0.2 0.6l0.2 -0.1l0.2 -0.6l0.2 0.9l0.1 0.1l0.2 -0.7l0.2 0.5l0.2 0.2l0.2 -0.3l0.2 0.4l0.1 -0.2l0.2 0.3l0.2 -0.3l0.2 -0.1l0.2 0.3l0.2 0.1l0.1 -0.2l0.2 -0.2l0.2 -0.1l0.2 0.2l0.2 -0.1l0.2 0.3l0.1 0l0.2 -0.1l0.2 0.1l0.2 0l0.2 0.5l0.2 -0.1l0.1 -0.6l0.2 0.4l0.2 -0.3l0.2 0.1l0.2 0l0.2 -0.1l0.1 -0.3l0.2 -0.3l0.2 0.9l0.2 0.3l0.2 -0.7l0.2 0.5l0.1 -0.3l0.2 0.2l0.2 -0.3l0.2 0.2l0.2 0l0.1 -0.7l0.2 0.8l0.2 -0.1l0.2 -0.8l0.2 1.1l0.2 -0.2l0.1 0.1l0.2 0l0.2 -0.2l0.2 -0.3l0.2 0.2l0.2 0l0.1 0.9l0.2 -0.1l0.2 -0.8l0.2 0.1l0.2 0.2l0.2 0.1l0.1 -0.4l0.2 -0.1l0.2 0.9l0.2 -0.3l0.2 -0.8l0.2 -0.1l0.1 0.3l0.2 0.4l0.2 0.1l0.2 -0.3l0.2 -0.5l0.2 0.7l0.1 0.1l0.2 -0.2l0.2 -0.2l0.2 0.4l0.2 -0.2l0.2 -0.4l0.1 0.4l0.2 -0.5l0.2 0.8l0.2 -0.2l0.2 -0.5l0.2 0.5l0.1 0.3l0.2 -1.2l0.2 0.7l0.2 0.6l0.2 -1.1l0.2 0.5l0.1 -0.4l0.2 0.4l0.2 -0.7l0.2 0.2l0.2 0.4l0.2 0.2l0.1 0.1l0.2 0l0.2 0.3l0.2 -0.2l0.2 0l0.2 -0.6l0.1 0.3l0.2 1.1l0.2 -0.3l0.2 -0.5l0.2 0l0.2 0.1l0.1 -0.5l0.2 0.8l0.2 -0.8l0.2 0.1l0.2 0.8l0.2 -1.5l0.1 0.9l0.2 -0.7l0.2 0.3l0.2 0.2l0.2 -0.1l0.2 0.2l0.1 -0.3l0.2 0.2l0.2 -0.4l0.2 0.3l0.2 -0.3l0.2 0.7l0.1 -0.7l0.2 0.7l0.2 -0.4l0.2 0l0.2 0.5l0.2 -0.3l0.1 -0.7l0.2 0.8l0.2 -1.2l0.2 1.1l0.2 -0.2l0.2 -0.4l0.1 0.5l0.2 -0.1l0.2 0.8l0.2 -0.9l0.2 0.9l0.2 -0.2l0.1 -0.7l0.2 -0.1l0.2 0.7l0.2 -0.5l0.2 0.1l0.2 -0.1l0.1 -0.3l0.2 0.2l0.2 -0.2l0.2 -0.2l0.2 0.5l0.2 0.7l0.1 -0.1l0.2 -0.6l0.2 0.1l0.2 0.1l0.2 0.3l0.2 -0.3l0.1 -0.3l0.2 0l0.2 0.5l0.2 0.5l0.2 -1.1l0.2 -0.5l0.1 1l0.2 -0.3l0.2 0.1l0.2 0.4l0.2 -0.5l0.2 -0.4l0.1 -0.3l0.2 0.7l0.2 -0.4l0.2 0.5l0.2 -0.5l0.1 0.3l0.2 -0.4l0.2 0.4l0.2 -0.1l0.2 0.4l0.2 0.3l0.1 -0.6l0.2 -0.2l0.2 1l0.2 -0.6l0.2 0.1l0.2 0l0.1 0.3l0.2 -0.2l0.2 -0.1l0.2 0l0.2 -0.5l0.2 0l0.1 0.2l0.2 0.1l0.2 -0.1l0.2 0.1l0.2 -0.1l0.2 -0.1l0.1 -0.4l0.2 0.8l0.2 -0.1l0.2 -0.5l0.2 0.5l0.2 -0.1l0.1 -0.1l0.2 -0.6l0.2 0.2l0.2 0.2l0.2 0.7l0.2 -0.8l0.1 0.1l0.2 -0.2l0.2 0.2l0.2 0.2l0.2 -0.8l0.2 -0.3l0.1 1.2l0.2 -0.3l0.2 -0.2l0.2 0.5l0.2 0l0.2 -1.1l0.1 0.6l0.2 0.4l0.2 -0.6l0.2 0.1l0.2 0.4l0.2 -0.5l0.1 -0.4l0.2 0.2l0.2 -0.3l0.2 0.6l0.2 -0.8l0.2 0.9l0.1 -1l0.2 0.6l0.2 -0.6l0.2 0.3l0.2 0.5l0.2 0l0.1 0l0.2 -0.6l0.2 0.1l0.2 -0.1l0.2 0.1l0.2 -0.4l0.1 0.5l0.2 -0.3l0.2 0.2l0.2 -0.3l0.2 0.1l0.2 -0.6l0.1 0.1l0.2 -0.4l0.2 0.3l0.2 0l0.2 0.3l0.2 -0.8l0.1 1.6l0.2 -1.2l0.2 0.4l0.2 -0.1l0.2 -1.3l0.2 0.7l0.1 0.6l0.2 -1.4l0.2 1.1l0.2 -0.7l0.2 0.2l0.2 0.2l0.1 -0.8l0.2 0.7l0.2 -0.3l0.2 -0.1l0.2 0.5l0.2 1l0.1 -1.2l0.2 0.1l0.2 -0.3l0.2 -0.2l0.2 0.3l0.2 0.5l0.1 -0.5l0.2 0.2l0.2 -0.4l0.2 1l0.2 -1.5l0.2 0.8l0.1 0l0.2 -0.1l0.2 -0.5l0.2 0l0.2 0.3l0.2 0.2l0.1 -0.5l0.2 0.1l0.2 0.5l0.2 0.2l0.2 -0.5l0.2 -0.1l0.1 0.1l0.2 1.1l0.2 -0.7l0.2 -0.2l0.2 0.4l0.1 0.5l0.2 -0.4l0.2 -0.9l0.2 0.5l0.2 -0.1l0.2 0.1l0.1 -0.3l0.2 0.3l0.2 -0.2l0.2 0.5l0.2 -0.1l0.2 -0.4l0.1 -0.1l0.2 0.4l0.2 0.5l0.2 -0.1l0.2 -0.1l0.2 -1.1l0.1 1l0.2 -0.1l0.2 0.2l0.2 -0.3l0.2 0.3l0.2 0l0.1 1.2l0.2 -0.7l0.2 -0.3l0.2 0.1l0.2 0l0.2 0.1l0.1 -0.2l0.2 0.2l0.2 0.4l0.2 0l0.2 -0.2l0.2 0.4l0.1 -0.4l0.2 -0.4l0.2 -0.2l0.2 0.4l0.2 0.2l0.2 0.2l0.1 0.3l0.2 -0.6l0.2 -0.1l0.2 0.6l0.2 0.2l0.2 -0.6l0.1 0.3l0.2 0.4l0.2 -0.4l0.2 -0.1l0.2 -0.7l0.2 1.2l0.1 -0.2l0.2 -0.2l0.2 -0.2l0.2 -0.3l0.2 0.4l0.2 0l0.1 0.5l0.2 -0.8l0.2 0.9l0.2 -0.5l0.2 0.4l0.2 -0.8l0.1 0.5l0.2 0.3l0.2 -0.4l0.2 -0.6l0.2 0.4l0.2 0.3l0.1 -0.7l0.2 0l0.2 0.6l0.2 -0.4l0.2 0.5l0.2 -0.7l0.1 -0.2l0.2 0.4l0.2 0.7l0.2 -0.8l0.2 0.3l0.2 0l0.1 -0.4l0.2 0.7l0.2 -0.3l0.2 0l0.2 -0.7l0.2 -0.1l0.1 -0.4l0.2 0.9l0.2 0l0.2 0.3l0.2 0.2l0.2 -0.6l0.1 0l0.2 0.2l0.2 0.3l0.2 -0.8l0.2 0.5l0.2 -0.4l0.1 0l0.2 0.3l0.2 -0.6l0.2 -0.1l0.2 0.6l0.2 -0.3l0.1 -0.1l0.2 0l0.2 0.2l0.2 -0.3l0.2 0.3l0.2 -0.1l0.1 0.3l0.2 -0.1l0.2 -0.2l0.2 -0.4l0.2 0.1l0.2 -0.3l0.1 1.2l0.2 -1.1l0.2 0.2l0.2 0.3l0.2 -1l0.2 0.1l0.1 0.1l0.2 -0.2l0.2 -0.1l0.2 0.2l0.2 0.6l0.1 -0.2l0.2 -0.3l0.2 0l0.2 -0.7l0.2 0.8l0.2 -0.1l0.1 -0.6l0.2 0.5l0.2 -0.2l0.2 -0.2l0.2 -0.2l0.2 0.1l0.1 -0.1l0.2 0.5l0.2 -0.1l0.2 -0.1l0.2 -0.2l0.2 -0.1l0.1 0.9l0.2 -1.4l0.2 1l0.2 -0.3l0.2 -0.1l0.2 -0.3l0.1 0.1l0.2 -0.4l0.2 -0.1l0.2 0.5l0.2 -0.6l0.2 0.8l0.1 0.1l0.2 -1.6l0.2 0.6l0.2 0.7l0.2 -0.1l0.2 0l0.1 0l0.2 0.1l0.2 0.1l0.2 0.3l0.2 -0.7l0.2 0.3l0.1 -0.9l0.2 0.5l0.2 -0.4l0.2 1l0.2 0.3l0.2 -0.7l0.1 -0.6l0.2 0.4l0.2 0l0.2 0.1l0.2 0.3l0.2 -0.1l0.1 -1.2l0.2 1.4l0.2 -0.7l0.2 0l0.2 0.7l0.2 -0.6l0.1 -0.4l0.2 0l0.2 0.5l0.2 0.4l0.2 0.2l0.2 -0.6l0.1 -0.1l0.2 0.8l0.2 -0.7l0.2 0.7l0.2 -0.4l0.2 0l0.1 -0.1l0.2 0.2l0.2 -0.2l0.2 0l0.2 0.2l0.2 -0.1l0.1 0.3l0.2 0l0.2 -0.1l0.2 0.1l0.2 0l0.2 0.8l0.1 -0.6l0.2 -0.1l0.2 0.1l0.2 0.4l0.2 -0.2l0.2 0.1l0.1 0l0.2 0.2l0.2 0.2l0.2 0l0.2 -0.6l0.2 0.2l0.1 -0.4l0.2 1.2l0.2 0.2l0.2 0.1l0.2 -0.3l0.2 0.4l0.1 -0.3l0.2 0l0.2 -0.4l0.2 0.3l0.2 0.2l0.2 0.6l0.1 0.3l0.2 -0.7l0.2 0.4l0.2 0.1l0.2 -0.3l0.2 -0.3l0.1 0.4l0.2 -0.2l0.2 0.5l0.2 0.1l0.2 0.1l0.2 0.1l0.1 0.3l0.2 -0.5l0.2 0.7l0.2 -0.8l0.2 0.7l0.2 0.2l0.1 -0.4l0.2 -0.2l0.2 0.9l0.2 -0.4l0.2 0.5l0.1 0.1l0.2 -0.2l0.2 0l0.2 0.4l0.2 -0.1l0.2 -0.4l0.1 0.4l0.2 0.2l0.2 -0.1l0.2 0.1l0.2 -0.1l0.2 0.1l0.1 -0.3l0.2 -0.1l0.2 0.9l0.2 -0.6l0.2 0.4l0.2 -0.6l0.1 0.6l0.2 -0.3l0.2 1.4l0.2 -1.4l0.2 0l0.2 0.7l0.1 0.1l0.2 -1.1l0.2 0.9l0.2 0.3l0.2 -0.7l0.2 0.6l0.1 -0.3l0.2 -0.2l0.2 0.3l0.2 0l0.2 -0.3l0.2 1.3l0.1 -0.9l0.2 -0.1l0.2 0.6l0.2 -0.3l0.2 0.5l0.2 -0.5l0.1 0.2l0.2 0l0.2 0l0.2 -0.1l0.2 0.1l0.2 0.6l0.1 -0.8l0.2 0.1l0.2 0.1l0.2 0.3l0.2 0l0.2 0.2l0.1 -0.8l0.2 0.6l0.2 -0.1l0.2 0l0.2 0.2l0.2 -0.8l0.1 0.8l0.2 0l0.2 -0.5l0.2 0.5l0.2 0.6l0.2 -0.7l0.1 0.4l0.2 -0.3l0.2 -0.1l0.2 -0.1l0.2 0.2l0.2 0.6l0.1 -0.1l0.2 -0.5l0.2 0.6l0.2 -0.4l0.2 -0.1l0.2 0.4l0.1 -0.5l0.2 -0.2l0.2 1l0.2 -1l0.2 0.8l0.2 -0.7l0.1 0.5l0.2 0l0.2 -0.1l0.2 -0.6l0.2 0.8l0.2 0l0.1 -0.3l0.2 0.3l0.2 0.4l0.2 -0.6l0.2 0.4l0.2 -0.5l0.1 0.6l0.2 0.1l0.2 0.6l0.2 -0.5l0.2 -0.1l0.2 0.3l0.1 -0.8l0.2 0.7l0.2 -0.5l0.2 0l0.2 0.6l0.2 -0.3l0.1 0.4l0.2 -0.9l0.2 0.6l0.2 -0.3l0.2 0.1l0.2 -0.5l0.1 1l0.2 -0.3l0.2 -0.4l0.2 -0.1l0.2 0.2l0.2 0.8l0.1 -0.5l0.2 -0.1l0.2 0.3l0.2 -0.1l0.2 0.1l0.2 0.2l0.1 -0.2l0.2 0.2l0.2 -0.7l0.2 0.5l0.2 -0.2l0.1 0.2l0.2 0l0.2 -0.2l0.2 0.1l0.2 0.4l0.2 -0.5l0.1 -0.2l0.2 0.7l0.2 0.1l0.2 -0.4l0.2 0.1l0.2 -0.3l0.1 0.2l0.2 0.5l0.2 -0.1l0.2 -0.2l0.2 -0.2l0.2 -0.4l0.1 0.7l0.2 0l0.2 0.2l0.2 0.4l0.2 -0.6l0.2 0.2l0.1 -0.7l0.2 0.8l0.2 -0.1l0.2 0.2l0.2 -0.3l0.2 0l0.1 0.3l0.2 -0.7l0.2 0.4l0.2 0.2l0.2 -0.7l0.2 -0.1l0.1 0.5l0.2 -0.1l0.2 0.2l0.2 0l0.2 -0.5l0.2 0.4l0.1 0.3l0.2 -0.6l0.2 0.1l0.2 -0.3l0.2 0.6l0.2 0.4l0.1 -1.1l0.2 0.7l0.2 0l0.2 -0.5l0.2 0.1l0.2 -0.3l0.1 0.1l0.2 0.3l0.2 0.2l0.2 -0.2l0.2 0.2l0.2 -0.2l0.1 -0.5l0.2 0.9l0.2 -0.2l0.2 -0.6l0.2 0.8l0.2 -0.4l0.1 -0.2l0.2 0.6l0.2 -1.5l0.2 0.3l0.2 0.7l0.2 -0.3l0.1 -0.3l0.2 0.9l0.2 -0.4l0.2 -0.6l0.2 0.2l0.2 0.5l0.1 0.3l0.2 -1.4l0.2 0.8l0.2 -0.2l0.2 -0.5l0.2 0.5l0.1 -0.5l0.2 0.3l0.2 0.7l0.2 -0.4l0.2 0.1l0.2 -0.1l0.1 -0.1l0.2 0.2l0.2 -0.7l0.2 0.2l0.2 0.4l0.2 -0.6l0.1 0.1l0.2 0.6l0.2 0.1l0.2 -0.8l0.2 -0.1l0.2 0.5l0.1 -0.2l0.2 -0.3l0.2 0.4l0.2 0l0.2 -0.2l0.2 1l0.1 -0.6l0.2 -0.2l0.2 0l0.2 0.7l0.2 -0.7l0.2 -0.6l0.1 0.3l0.2 -0.1l0.2 -0.2l0.2 0.3l0.2 -0.1l0.2 -0.1l0.1 -0.2l0.2 0.5l0.2 -0.9l0.2 0.8l0.2 -0.3l0.2 0.1l0.1 -0.9l0.2 1.4l0.2 -1.2l0.2 0.2l0.2 0.5l0.1 -0.4l0.2 0l0.2 -0.6l0.2 0.6l0.2 0.2l0.2 0.1l0.1 -0.3l0.2 0.1l0.2 0.1l0.2 -0.4l0.2 -0.1l0.2 0.9l0.1 -1l0.2 0.7l0.2 -0.4l0.2 0.5l0.2 -0.8l0.2 0.4l0.1 -0.1l0.2 -0.2l0.2 0.2l0.2 -0.4l0.2 0.2l0.2 -0.2l0.1 0.4l0.2 -0.3l0.2 -0.5l0.2 0.4l0.2 0l0.2 -0.3l0.1 0.8l0.2 -0.3l0.2 0.1l0.2 -0.6l0.2 0.1l0.2 0.5l0.1 -0.9l0.2 0.6l0.2 -0.1l0.2 -0.2l0.2 0.2l0.2 -0.4l0.1 0.4l0.2 -0.5l0.2 -0.1l0.2 0.9l0.2 -0.7l0.2 -0.5l0.1 1.1l0.2 -0.7l0.2 -0.9l0.2 1.2l0.2 0.3l0.2 -0.2l0.1 0.5l0.2 -0.7l0.2 0.3l0.2 -0.6l0.2 0.4l0.2 0.5l0.1 -0.4l0.2 -0.1l0.2 -0.8l0.2 0.6l0.2 -0.3l0.2 0.7l0.1 -0.5l0.2 0.3l0.2 -0.4l0.2 1l0.2 -1.1l0.2 0.5l0.1 0.8l0.2 -0.8l0.2 -0.3l0.2 0.5l0.2 0.1l0.2 0l0.1 -1l0.2 0.8l0.2 -0.8l0.2 1.4l0.2 -0.7l0.2 -0.1l0.1 0.4l0.2 -0.1l0.2 -0.5l0.2 0.9l0.2 -0.6l0.2 -0.5l0.1 1.1l0.2 0.1l0.2 -0.1l0.2 -0.2l0.2 -0.5l0.2 0.6l0.1 0.4l0.2 -0.4l0.2 0.3l0.2 -0.8l0.2 0.6l0.2 0l0.1 -0.8l0.2 0l0.2 0.3l0.2 0.3l0.2 0.1l0.2 -0.2l0.1 0.1l0.2 0l0.2 0.1l0.2 0.2l0.2 0l0.2 -0.2l0.1 0.1l0.2 -0.2l0.2 0.4l0.2 -0.4l0.2 0.7l0.2 -0.5l0.1 0.1l0.2 -0.3l0.2 0.1l0.2 0.2l0.2 0l0.2 -0.2l0.1 -0.2l0.2 0.4l0.2 0.1l0.2 0.1l0.2 0.3l0.2 -0.5l0.1 -0.6l0.2 0.6l0.2 -0.5l0.2 0.2l0.2 0.8l0.1 -0.2l0.2 -0.4l0.2 0l0.2 0.2l0.2 -0.5l0.2 0.7l0.1 -0.2l0.2 0.7l0.2 -1l0.2 0.8l0.2 -0.6l0.2 0.6l0.1 -0.7l0.2 0.6l0.2 -0.4l0.2 -0.2l0.2 0.3l0.2 0.2l0.1 0l0.2 0.4l0.2 -0.3l0.2 -1.2l0.2 0.8l0.2 -0.6l0.1 0.6l0.2 0.3l0.2 -0.7l0.2 0.1l0.2 0.4l0.2 -0.1l0.1 0.6l0.2 -0.5l0.2 0.1l0.2 0.4l0.2 -0.8l0.2 0.2l0.1 -0.4l0.2 0.5l0.2 0.2l0.2 0.1l0.2 -0.5l0.2 -0.2l0.1 -0.1l0.2 -0.2l0.2 0.5l0.2 0.4l0.2 -1.3l0.2 0l0.1 1.3l0.2 -1.1l0.2 0.7l0.2 -0.6l0.2 0.7l0.2 0l0.1 -0.3l0.2 0.2l0.2 -0.3l0.2 0.2l0.2 0.4l0.2 -0.2l0.1 -0.7l0.2 -0.1l0.2 0.2l0.2 0l0.2 0.1l0.2 -0.3l0.1 0.4l0.2 -0.2l0.2 0.1l0.2 -0.1l0.2 0.1l0.2 -0.6l0.1 0.9l0.2 -0.4l0.2 0l0.2 0l0.2 0.2l0.2 -0.2l0.1 -0.2l0.2 -0.1l0.2 -0.6l0.2 0.7l0.2 -0.3l0.2 0l0.1 1l0.2 -1.6l0.2 0.7l0.2 0.4l0.2 -0.1l0.2 0l0.1 -0.9l0.2 0.1l0.2 0.6l0.2 -0.4l0.2 0.7l0.2 -0.5l0.1 -0.1l0.2 0.1l0.2 -0.3l0.2 0.1l0.2 -0.3l0.2 0.2l0.1 -0.1l0.2 0.2l0.2 -0.6l0.2 0l0.2 0.6l0.2 -0.1l0.1 -0.4l0.2 0.3l0.2 -0.4l0.2 1.1l0.2 -1.3l0.2 1.2l0.1 -0.9l0.2 0.4l0.2 -0.3l0.2 0l0.2 0.4l0.2 0l0.1 -0.4l0.2 -0.2l0.2 1l0.2 -0.2l0.2 -0.5l0.2 -0.1l0.1 0.2l0.2 -0.1l0.2 0.4l0.2 -0.8l0.2 0.3l0.1 -0.2l0.2 0.7l0.2 0.2l0.2 -0.7l0.2 0.2l0.2 0.3l0.1 -0.6l0.2 -0.2l0.2 0.7l0.2 -0.2l0.2 -0.2l0.2 0.6l0.1 -0.5l0.2 -0.7l0.2 0.8l0.2 -0.2l0.2 0.7l0.2 -0.6l0.1 -0.1l0.2 0.2l0.2 0l0.2 -0.6l0.2 0.5l0.2 -0.1l0.1 0.6l0.2 0.3l0.2 -1.2l0.2 0.1l0.2 0l0.2 0.1l0.1 0l0.2 0.3l0.2 0.3l0.2 -0.8l0.2 -0.1l0.2 -0.1l0.1 1.1l0.2 0.1l0.2 -1l0.2 -0.1l0.2 0.7l0.2 0.3l0.1 0l0.2 -0.3l0.2 0.2l0.2 -0.1l0.2 -0.3l0.2 0.9l0.1 -0.7l0.2 -0.4l0.2 0.3l0.2 -0.4l0.2 0.6l0.2 0.4l0.1 -0.9l0.2 0.9l0.2 0.3l0.2 -0.5l0.2 -0.6l0.2 0.1l0.1 0.2l0.2 -0.3l0.2 0l0.2 0.4l0.2 0.1l0.2 0.2l0.1 -0.6l0.2 1.1l0.2 -0.3l0.2 0l0.2 -0.5l0.2 0.8l0.1 -0.7l0.2 0.8l0.2 -0.3l0.2 -0.6l0.2 0.1l0.2 0.9l0.1 -0.3l0.2 -0.4l0.2 0.1l0.2 0l0.2 -0.3l0.2 0.2l0.1 -0.1l0.2 0.1l0.2 0.3l0.2 -0.5l0.2 0.6l0.2 -0.2l0.1 0.3l0.2 0l0.2 0.2l0.2 -0.2l0.2 0l0.2 -0.3l0.1 0.3l0.2 -0.5l0.2 0.2l0.2 0.4l0.2 -0.3l0.2 0.2l0.1 -0.5l0.2 0.9l0.2 -0.7l0.2 0.4l0.2 -0.2l0.2 0.4l0.1 -0.5l0.2 -0.2l0.2 -0.3l0.2 0.6l0.2 -0.3l0.2 0.6l0.1 0.4l0.2 -1.3l0.2 0.3l0.2 0.6l0.2 0.3l0.2 -0.3l0.1 0.1l0.2 0l0.2 0.1l0.2 0.4l0.2 -0.4l0.2 -0.6l0.1 0.3l0.2 0.2l0.2 -0.3l0.2 0.2l0.2 -0.1l0.1 0l0.2 0.5l0.2 -0.4l0.2 -0.2l0.2 0.1l0.2 0.3l0.1 0.8l0.2 -0.7l0.2 0.5l0.2 -0.3l0.2 -1l0.2 0.9l0.1 -0.4l0.2 -0.1l0.2 0.1l0.2 1l0.2 -1.1l0.2 0.3l0.1 0.7l0.2 -0.2l0.2 -0.8l0.2 0.6l0.2 -0.2l0.2 0.2l0.1 0.3l0.2 -0.4l0.2 0.1l0.2 0.6l0.2 -1.1l0.2 0.5l0.1 0.4l0.2 -0.6l0.2 0.2l0.2 -0.2l0.2 0.5l0.2 -0.2l0.1 0.5l0.2 0.1l0.2 -0.3l0.2 -0.1l0.2 0.2l0.2 -0.1l0.1 -0.4l0.2 0.8l0.2 -0.2l0.2 0.2l0.2 -0.7l0.2 0.8l0.1 0.4l0.2 -0.5l0.2 -0.7l0.2 0.6l0.2 -0.1l0.2 0.2l0.1 -0.2l0.2 0.3l0.2 -0.3l0.2 0.3l0.2 -0.4l0.2 0.3l0.1 0.4l0.2 -0.5l0.2 0.4l0.2 -0.5l0.2 0.2l0.2 0.1l0.1 0.5l0.2 -0.7l0.2 0.7l0.2 -0.9l0.2 0.5l0.2 0.4l0.1 -0.1l0.2 -0.6l0.2 0l0.2 0.8l0.2 -0.8l0.2 0.7l0.1 -0.4l0.2 0.2l0.2 0.9l0.2 -0.3l0.2 -0.2l0.2 -0.8l0.1 0.7l0.2 -0.1l0.2 -0.1l0.2 0.6l0.2 -1.1l0.2 0.8l0.1 -0.1l0.2 -0.3l0.2 0.9l0.2 -1l0.2 0.5l0.2 0l0.1 -0.8l0.2 0.3l0.2 0.2l0.2 0.6l0.2 0.1l0.2 -0.1l0.1 -0.1l0.2 -0.8l0.2 0.9l0.2 -0.3l0.2 0.6l0.2 0.1l0.1 0.4l0.2 -0.6l0.2 0.1l0.2 -0.6l0.2 0.4l0.2 -0.5l0.1 0.8l0.2 -0.7l0.2 0.4l0.2 -0.2l0.2 0.1l0.2 0.4l0.1 -0.4l0.2 0.3l0.2 -0.4l0.2 0.9l0.2 -0.7l0.2 0.6l0.1 0.4l0.2 -1.6l0.2 0.6" stroke="#f00" stroke-width="1.7"/>
<path d="M72.2 318.7l0.2 1.2l0.2 -2.4l0.1 -2.6l0.2 1.8l0.2 -2.3l0.2 4.4l0.2 5.3l0.2 -7.6l0.1 -0.6l0.2 4.6l0.2 -0.6l0.2 -1l0.2 -4.4l0.2 3.8l0.1 3l0.2 -8.5l0.2 3.6l0.2 -6l0.2 -1.2l0.2 -3.9l0.1 12l0.2 -4.3l0.2 6.4l0.2 -0.4l0.2 -1.5l0.2 -9.7l0.1 8.3l0.2 1.9l0.2 0.8l0.2 -6.9l0.2 4.4l0.2 -2.1l0.1 0.7l0.2 7.8l0.2 -7.8l0.2 3.3l0.2 3.8l0.2 -6.1l0.1 1.9l0.2 1l0.2 0l0.2 -5.6l0.2 5.4l0.2 5.4l0.1 -12.1l0.2 10l0.2 -3.1l0.2 -3.2l0.2 11l0.2 -5.1l0.1 -8.2l0.2 5.3l0.2 2.1l0.2 -3.2l0.2 5.7l0.2 -5.2l0.1 3.1l0.2 3.2l0.2 -8.8l0.2 3.7l0.2 -2.8l0.2 2.5l0.1 -5.5l0.2 2.5l0.2 1.6l0.2 4.6l0.2 1l0.2 -10.3l0.1 2.2l0.2 6l0.2 -10.9l0.2 6.3l0.2 1.6l0.2 5.6l0.1 -2.4l0.2 -4.2l0.2 -1.2l0.2 1.5l0.2 7.4l0.2 -8.1l0.1 0.5l0.2 3.8l0.2 -3l0.2 -0.3l0.2 -3.8l0.2 4.5l0.1 -1.8l0.2 6.7l0.2 -2.1l0.2 -2.8l0.2 2.9l0.2 -4.2l0.1 5.8l0.2 -4.4l0.2 2.4l0.2 -11.5l0.2 11.6l0.2 -9.5l0.1 -1.4l0.2 7.2l0.2 -2.5l0.2 4.4l0.2 8.6l0.2 -12.7l0.1 0.8l0.2 3.5l0.2 1.2l0.2 -2.8l0.2 -0.1l0.2 3.8l0.1 -0.8l0.2 -6.4l0.2 3.9l0.2 0.5l0.2 -4.5l0.2 5.4l0.1 -4.6l0.2 7.6l0.2 -3.2l0.2 -0.5l0.2 -2.8l0.2 2l0.1 -7.8l0.2 3.6l0.2 6.2l0.2 -10.3l0.2 12.3l0.2 -15.8l0.1 15.4l0.2 -6.6l0.2 6.7l0.2 -2.6l0.2 -6.9l0.1 11.5l0.2 0.8l0.2 -6.2l0.2 -0.9l0.2 0.5l0.2 -3.4l0.1 8.6l0.2 -6.8l0.2 2.1l0.2 -3.1l0.2 0.7l0.2 -2.7l0.1 10.5l0.2 -5.8l0.2 4.6l0.2 -3.9l0.2 -2.9l0.2 1.5l0.1 -1l0.2 2.4l0.2 -1.6l0.2 0.3l0.2 -4.4l0.2 2.4l0.1 10.1l0.2 -9.6l0.2 -1.5l0.2 6.7l0.2 3.4l0.2 -11.7l0.1 5.1l0.2 -3.6l0.2 -2.8l0.2 10.3l0.2 -3.1l0.2 0.6l0.1 -3.6l0.2 5l0.2 -4.1l0.2 1.7l0.2 -4l0.2 -0.4l0.1 10.5l0.2 -7.6l0.2 3.3l0.2 -1.3l0.2 -1.7l0.2 -0.3l0.1 4.7l0.2 -3.8l0.2 0.6l0.2 0.8l0.2 4.7l0.2 -2l0.1 -1.2l0.2 -3.9l0.2 -3.3l0.2 9.5l0.2 0.1l0.2 -4.5l0.1 2.8l0.2 1l0.2 0.2l0.2 0.4l0.2 -5.7l0.2 8.2l0.1 -11.4l0.2 8.7l0.2 -1.5l0.2 1.6l0.2 4.1l0.2 -1.6l0.1 -10.8l0.2 -2.2l0.2 10.3l0.2 -7.5l0.2 4.1l0.2 3.5l0.1 -10.2l0.2 -1.9l0.2 9.7l0.2 -0.8l0.2 -1.2l0.2 1.2l0.1 -3.7l0.2 -2.7l0.2 5.6l0.2 -3.3l0.2 -2.8l0.2 8.8l0.1 -2.3l0.2 1.9l0.2 -5.7l0.2 1.4l0.2 -1.4l0.2 0.5l0.1 4.4l0.2 -4l0.2 4.7l0.2 -0.1l0.2 6.9l0.2 -14l0.1 9.4l0.2 -4l0.2 0.3l0.2 -5.9l0.2 4.1l0.2 4.9l0.1 -3.4l0.2 0.7l0.2 -1.5l0.2 5.9l0.2 -4.8l0.2 -8.9l0.1 6.2l0.2 -5.3l0.2 -5.2l0.2 11.1l0.2 7.6l0.2 -5.2l0.1 -5l0.2 1l0.2 8.4l0.2 -4l0.2 -0.4l0.2 -0.4l0.1 0.3l0.2 3.2l0.2 -1.1l0.2 -1.4l0.2 -5.1l0.1 6.3l0.2 -4.9l0.2 7.3l0.2 -9.7l0.2 4.6l0.2 0.5l0.1 -5.4l0.2 12.5l0.2 -1.1l0.2 -7.9l0.2 5l0.2 -1.6l0.1 -12.3l0.2 11.7l0.2 -1.3l0.2 0.6l0.2 -4.8l0.2 3.3l0.1 0.3l0.2 5.6l0.2 -3.5l0.2 -1.4l0.2 6.2l0.2 -8.5l0.1 0.6l0.2 -5.9l0.2 13.8l0.2 0.3l0.2 -3l0.2 -1l0.1 -2.4l0.2 0.4l0.2 -1.9l0.2 0.2l0.2 1l0.2 5.9l0.1 -3.9l0.2 -2.6l0.2 -2.1l0.2 -0.3l0.2 9.1l0.2 -4.5l0.1 -1.8l0.2 -1.7l0.2 -3.2l0.2 4.2l0.2 3.8l0.2 -5.2l0.1 0.7l0.2 0l0.2 1.3l0.2 -7l0.2 5.5l0.2 -2.5l0.1 7.1l0.2 -6.8l0.2 5.4l0.2 3.9l0.2 -7.5l0.2 -1.2l0.1 3.2l0.2 -0.8l0.2 -4.1l0.2 5.9l0.2 6.3l0.2 -9.3l0.1 0.2l0.2 -3.4l0.2 5.5l0.2 -6.4l0.2 0.6l0.2 9.7l0.1 -8.9l0.2 8.1l0.2 1.8l0.2 -5.2l0.2 1.2l0.2 5.7l0.1 -8.8l0.2 -1.6l0.2 -3.1l0.2 5.7l0.2 5.8l0.2 -2.1l0.1 -7.7l0.2 0.3l0.2 1.5l0.2 3.2l0.2 -2l0.2 1.7l0.1 0.4l0.2 -2.4l0.2 0.9l0.2 1.2l0.2 -1.2l0.2 2.4l0.1 11l0.2 -8.9l0.2 -3.8l0.2 -7l0.2 8.4l0.2 -9.4l0.1 2.2l0.2 9.2l0.2 -0.5l0.2 -3.5l0.2 -6.3l0.2 5.5l0.1 -1.2l0.2 5.4l0.2 6.6l0.2 -8.2l0.2 -4l0.2 -1.5l0.1 4.5l0.2 -0.4l0.2 -3.9l0.2 5.2l0.2 -5.1l0.2 9.2l0.1 -0.1l0.2 0.1l0.2 -6.2l0.2 4l0.2 -2.6l0.2 -0.9l0.1 -0.7l0.2 -2.9l0.2 -0.5l0.2 9.1l0.2 -4l0.1 1.7l0.2 3.3l0.2 -11l0.2 3.9l0.2 3.9l0.2 0.9l0.1 -3l0.2 5.7l0.2 -3.2l0.2 -5.7l0.2 1.2l0.2 7l0.1 -1.3l0.2 -9.5l0.2 13.2l0.2 -3l0.2 3l0.2 -6.9l0.1 0.4l0.2 -3.3l0.2 14.8l0.2 -10.9l0.2 7.2l0.2 -9l0.1 3.3l0.2 -12l0.2 8.8l0.2 6.6l0.2 -8.9l0.2 9.4l0.1 -3l0.2 -5.5l0.2 2.2l0.2 0.2l0.2 1.7l0.2 -1.9l0.1 -1.2l0.2 2.1l0.2 -2.8l0.2 -1.1l0.2 5l0.2 3.8l0.1 -9.7l0.2 6.2l0.2 -2.6l0.2 -1.3l0.2 7.3l0.2 -5.5l0.1 8.1l0.2 -9.1l0.2 4.7l0.2 -2.5l0.2 -2.1l0.2 5.4l0.1 -2.9l0.2 3l0.2 -2.6l0.2 -4.1l0.2 3.9l0.2 0.7l0.1 3.6l0.2 -7.5l0.2 3.5l0.2 -6.7l0.2 9.5l0.2 -6.9l0.1 -2.9l0.2 7l0.2 4.7l0.2 -10.5l0.2 1.7l0.2 1.4l0.1 -1.5l0.2 6l0.2 -4.7l0.2 0.3l0.2 5.2l0.2 -5.3l0.1 4.8l0.2 -5.7l0.2 -0.9l0.2 -2.5l0.2 14.8l0.2 -8.7l0.1 2.2l0.2 -1.1l0.2 0.8l0.2 -0.4l0.2 7.4l0.2 -14.7l0.1 0.9l0.2 -0.7l0.2 1.6l0.2 8.3l0.2 0.3l0.2 -7.1l0.1 -1.8l0.2 4.2l0.2 7l0.2 -16.9l0.2 13.3l0.2 -6.5l0.1 8.3l0.2 -8.6l0.2 3l0.2 -5.1l0.2 1.8l0.2 9.2l0.1 -2.6l0.2 -5.2l0.2 -2.3l0.2 -9.8l0.2 11l0.2 0.9l0.1 -0.5l0.2 -0.5l0.2 -4.6l0.2 3.8l0.2 -0.5l0.2 4.5l0.1 1.2l0.2 -9.4l0.2 -4l0.2 1.4l0.2 -3.7l0.2 -1.9l0.1 1.6l0.2 -8.1l0.2 9.1l0.2 -3.4l0.2 1.5l0.2 -1.5l0.1 -1.6l0.2 0.1l0.2 4.1l0.2 0l0.2 4.6l0.1 0.5l0.2 -4.1l0.2 7.1l0.2 -4.5l0.2 3.9l0.2 2l0.1 -6.7l0.2 9.2l0.2 1.1l0.2 -1.2l0.2 -0.6l0.2 0.6l0.1 -4.7l0.2 5.2l0.2 -1.5l0.2 4.5l0.2 -4.8l0.2 6l0.1 0l0.2 -1.2l0.2 -0.5l0.2 4.2l0.2 -8.6l0.2 8.7l0.1 -0.7l0.2 0.4l0.2 1.6l0.2 -5.1l0.2 1.7l0.2 3.6l0.1 -0.7l0.2 -0.9l0.2 -6.8l0.2 8.1l0.2 2.5l0.2 -0.6l0.1 -3.1l0.2 -7.1l0.2 12.5l0.2 -7l0.2 -9.4l0.2 11.4l0.1 -7.4l0.2 0.8l0.2 2.5l0.2 7.5l0.2 -6.5l0.2 2.5l0.1 5.8l0.2 -0.7l0.2 -6.7l0.2 -0.6l0.2 -4.1l0.2 2.2l0.1 4.3l0.2 -0.2l0.2 -1.2l0.2 3.5l0.2 -7.1l0.2 2.8l0.1 3l0.2 -0.6l0.2 1.8l0.2 -2.7l0.2 -2.9l0.2 2.6l0.1 -5.5l0.2 -2.6l0.2 8.7l0.2 -2.6l0.2 1.4l0.2 -8l0.1 5.1l0.2 -1.1l0.2 -1.2l0.2 -5.6l0.2 7.4l0.2 4.7l0.1 -2.3l0.2 -4.1l0.2 2.1l0.2 2.8l0.2 -14.2l0.2 10.2l0.1 2.4l0.2 0.3l0.2 3.8l0.2 -2.5l0.2 -3.5l0.2 -0.4l0.1 1.7l0.2 -5.6l0.2 1.7l0.2 3.6l0.2 3.9l0.2 -8.7l0.1 0.2l0.2 0.7l0.2 4.3l0.2 -5.7l0.2 5.8l0.2 -10l0.1 2.9l0.2 -0.2l0.2 3.8l0.2 0.9l0.2 -10.5l0.2 2.3l0.1 4.9l0.2 -4.1l0.2 -3.6l0.2 10.3l0.2 -2.3l0.2 -0.1l0.1 -4.1l0.2 6l0.2 -5.2l0.2 5.3l0.2 -8.2l0.2 0.1l0.1 4.2l0.2 -3.7l0.2 5.4l0.2 -1.8l0.2 -4.8l0.2 3.9l0.1 -1.8l0.2 5l0.2 -6.3l0.2 0.7l0.2 6.6l0.1 4.1l0.2 -1.1l0.2 -7.9l0.2 0.6l0.2 5.2l0.2 -7.1l0.1 -3.2l0.2 4.4l0.2 1.3l0.2 -5.3l0.2 -3.3l0.2 0.8l0.1 8.4l0.2 -5.8l0.2 2.5l0.2 1.4l0.2 1.6l0.2 -3.9l0.1 3.3l0.2 -8.2l0.2 4.7l0.2 -5.7l0.2 11.6l0.2 -4.7l0.1 -2.9l0.2 1.6l0.2 0.5l0.2 3.7l0.2 -9.3l0.2 2.3l0.1 2.7l0.2 11.7l0.2 -6.3l0.2 -4.3l0.2 3.3l0.2 11.3l0.1 -15.1l0.2 -0.5l0.2 6.4l0.2 -2.9l0.2 0.7l0.2 -4.7l0.1 9.8l0.2 -0.9l0.2 -4.6l0.2 0.5l0.2 -10.9l0.2 12.6l0.1 -5.2l0.2 2.6l0.2 1l0.2 -4.1l0.2 -5.4l0.2 8.3l0.1 -4.5l0.2 1.7l0.2 -1.1l0.2 0.1l0.2 -7l0.2 14.3l0.1 -3.9l0.2 3.5l0.2 3.5l0.2 -7.9l0.2 -7.4l0.2 3.7l0.1 -1.3l0.2 1.5l0.2 3.7l0.2 -8.5l0.2 9.3l0.2 -7.6l0.1 7.1l0.2 -1.8l0.2 -1.9l0.2 1.6l0.2 -3.7l0.2 0.9l0.1 -4.7l0.2 6.4l0.2 7.2l0.2 0.2l0.2 -3l0.2 -2.9l0.1 -6.1l0.2 8.2l0.2 -6.5l0.2 -0.5l0.2 -1.3l0.2 1.1l0.1 -2.6l0.2 1l0.2 -4.6l0.2 2.4l0.2 16.9l0.2 -16.9l0.1 -1.4l0.2 4l0.2 -1.6l0.2 -8.3l0.2 3l0.2 3.8l0.1 -3.5l0.2 -1.4l0.2 5.1l0.2 -10.1l0.2 2.3l0.2 -3.3l0.1 7.7l0.2 -15.3l0.2 4.7l0.2 -0.2l0.2 4.4l0.2 -1l0.1 2.6l0.2 -13.4l0.2 9.2l0.2 -5.3l0.2 -2.4l0.2 4.4l0.1 -9.8l0.2 -3.1l0.2 6.5l0.2 -5.8l0.2 2.7l0.2 3.5l0.1 -1.2l0.2 4.5l0.2 -8.9l0.2 -7l0.2 2.2l0.1 -4.8l0.2 0.3l0.2 6l0.2 -6.1l0.2 -7.3l0.2 10.5l0.1 -5l0.2 0.7l0.2 -2.5l0.2 0.9l0.2 -4.1l0.2 4l0.1 -5.2l0.2 -1.7l0.2 -1.5l0.2 -10.3l0.2 4.3l0.2 -2.1l0.1 1.2l0.2 -9.6l0.2 12.4l0.2 -8.6l0.2 -7.7l0.2 -3.8l0.1 5.4l0.2 -0.5l0.2 -4.3l0.2 2.5l0.2 -4.7l0.2 4.5l0.1 -7.2l0.2 2.3l0.2 4.2l0.2 6.9l0.2 -18.1l0.2 1.9l0.1 -2.5l0.2 7.4l0.2 -9.8l0.2 3.1l0.2 2.3l0.2 -8l0.1 3.4l0.2 2.4l0.2 -7.9l0.2 3.2l0.2 5l0.2 2.7l0.1 -1.6l0.2 -7.7l0.2 6.3l0.2 6.3l0.2 -0.9l0.2 -2.7l0.1 -3.4l0.2 10.2l0.2 -7.3l0.2 -6.1l0.2 6.5l0.2 11.5l0.1 -5.2l0.2 5.3l0.2 -7l0.2 7.8l0.2 -6.4l0.2 2.6l0.1 14.2l0.2 -7.1l0.2 -5l0.2 3.1l0.2 4l0.2 4.2l0.1 -6.8l0.2 -4.7l0.2 8.1l0.2 2.6l0.2 1.6l0.2 6.7l0.1 -3.5l0.2 3.4l0.2 -7.8l0.2 10.1l0.2 13.3l0.2 -11.8l0.1 -1.5l0.2 0.5l0.2 8.3l0.2 -11.4l0.2 4.6l0.2 3.5l0.1 2.1l0.2 -4.4l0.2 4.2l0.2 -1.7l0.2 2.7l0.2 -0.2l0.1 -3.6l0.2 5.9l0.2 5l0.2 -7.2l0.2 4.1l0.2 4.9l0.1 -6.6l0.2 6.4l0.2 -4.5l0.2 10.5l0.2 6l0.2 -0.4l0.1 -8.8l0.2 5l0.2 -1.9l0.2 0.8l0.2 7l0.2 -11.5l0.1 10.9l0.2 -3.9l0.2 7l0.2 -4.4l0.2 -2.9l0.2 4.8l0.1 2.7l0.2 -2.3l0.2 2.7l0.2 -3.6l0.2 -6l0.2 13.4l0.1 -0.1l0.2 -1.2l0.2 -0.1l0.2 4.7l0.2 -5.6l0.1 -0.4l0.2 2.8l0.2 6.3l0.2 -10l0.2 11.2l0.2 -6.9l0.1 -1.4l0.2 10.3l0.2 -5l0.2 -4.4l0.2 4.4l0.2 5.8l0.1 1.6l0.2 -6.1l0.2 3.9l0.2 1.7l0.2 -5l0.2 4.6l0.1 -1.1l0.2 -1.6l0.2 0.7l0.2 2.8l0.2 0.3l0.2 -1.9l0.1 1.1l0.2 6.7l0.2 -3.1l0.2 3.2l0.2 1.8l0.2 -1.9l0.1 7.3l0.2 -11.8l0.2 7.1l0.2 -3.9l0.2 9.2l0.2 -0.1l0.1 -13.9l0.2 4.4l0.2 7l0.2 0.9l0.2 0.3l0.2 -2.8l0.1 2.5l0.2 1.1l0.2 -2.5l0.2 4.5l0.2 -12.5l0.2 11.5l0.1 -6.3l0.2 8l0.2 -4.4l0.2 -2.3l0.2 5.1l0.2 -4.8l0.1 0.2l0.2 -2.4l0.2 6.2l0.2 2.2l0.2 2.2l0.2 -4.7l0.1 5.1l0.2 -3.8l0.2 -0.3l0.2 2.7l0.2 4.9l0.2 -8.1l0.1 0.5l0.2 0.5l0.2 1l0.2 -3.6l0.2 7.5l0.2 -5.3l0.1 3.4l0.2 -4.8l0.2 4.7l0.2 0.2l0.2 -3l0.2 9.5l0.1 -6.2l0.2 5.5l0.2 -3l0.2 -6.1l0.2 1.2l0.2 3.3l0.1 -1.4l0.2 0.1l0.2 -1.2l0.2 -5.7l0.2 6.1l0.2 -7.5l0.1 10l0.2 -4.1l0.2 0.2l0.2 2l0.2 1.9l0.2 -6.4l0.1 -1.1l0.2 -0.1l0.2 -0.8l0.2 4.2l0.2 9.8l0.2 -10l0.1 6.6l0.2 -11.2l0.2 10.1l0.2 -2.3l0.2 1.1l0.2 4l0.1 7.8l0.2 -10.5l0.2 -0.1l0.2 -4.1l0.2 6.1l0.2 -3l0.1 4.2l0.2 -3.2l0.2 6.9l0.2 -13.9l0.2 6.5l0.2 4.7l0.1 -4.5l0.2 -1.5l0.2 2.1l0.2 -4l0.2 5.8l0.2 15.4l0.1 -11.2l0.2 -8.3l0.2 1l0.2 0.8l0.2 6.6l0.1 -9l0.2 2.8l0.2 6.1l0.2 0l0.2 -4.6l0.2 -2.7l0.1 -1.5l0.2 3.2l0.2 -5.7l0.2 11.2l0.2 -5.2l0.2 4.2l0.1 5.2l0.2 -2.6l0.2 -8.7l0.2 7.6l0.2 1.1l0.2 -7.2l0.1 -0.7l0.2 3.1l0.2 -5.5l0.2 11.5l0.2 -14.5l0.2 4.8l0.1 3.2l0.2 0.1l0.2 1.5l0.2 0.4l0.2 -1.8l0.2 5.1l0.1 -12.3l0.2 8l0.2 -2.7l0.2 3.2l0.2 0.4l0.2 -4.3l0.1 1l0.2 5.4l0.2 -1.6l0.2 -3.9l0.2 10.2l0.2 1l0.1 -14.1l0.2 6.6l0.2 14.8l0.2 -13l0.2 -2.1l0.2 -2.2l0.1 -0.7l0.2 1.3l0.2 -1.3l0.2 4.9l0.2 -4.3l0.2 -0.2l0.1 -2.8l0.2 4.3l0.2 -3.2l0.2 2.7l0.2 4.6l0.2 -2.5l0.1 0.5l0.2 0.4l0.2 -2.1l0.2 -0.7l0.2 -0.7l0.2 4l0.1 -6.9l0.2 9.1l0.2 -4.9l0.2 -4.9l0.2 3l0.2 -0.7l0.1 3.5l0.2 -3.7l0.2 7l0.2 -7.2l0.2 -5.6l0.2 5.7l0.1 -4.8l0.2 7.3l0.2 4.1l0.2 -1.6l0.2 -7.4l0.2 2.1l0.1 9.4l0.2 -5.5l0.2 -1.3l0.2 3.9l0.2 5.2l0.2 -4.4l0.1 -4.4l0.2 0.7l0.2 0.9l0.2 -4.7l0.2 -1.7l0.2 4.1l0.1 -3.9l0.2 3.3l0.2 0.5l0.2 8.3l0.2 -12.1l0.2 2.7l0.1 -0.3l0.2 2.2l0.2 2.2l0.2 -5.9l0.2 -1.3l0.2 -3.2l0.1 2.5l0.2 5.3l0.2 -2l0.2 -4.1l0.2 2.2l0.2 1.3l0.1 1.6l0.2 -4.3l0.2 1l0.2 -6.1l0.2 2.3l0.2 10.2l0.1 -14.6l0.2 5.8l0.2 2.8l0.2 -2.5l0.2 -1.9l0.2 2.5l0.1 -0.1l0.2 -0.5l0.2 -7.1l0.2 6.3l0.2 -3l0.1 0.9l0.2 2.7l0.2 1.3l0.2 0.7l0.2 -5.6l0.2 5.1l0.1 0.7l0.2 -0.4l0.2 0.7l0.2 -6.1l0.2 -0.4l0.2 3.5l0.1 -8.7l0.2 5.8l0.2 -3.2l0.2 0.3l0.2 -5.6l0.2 3l0.1 3l0.2 3.1l0.2 0.1l0.2 -4.4l0.2 -0.8l0.2 -2.7l0.1 4.4l0.2 -2.8l0.2 3l0.2 4.1l0.2 -7.2l0.2 -9.9l0.1 3.9l0.2 -0.3l0.2 0.8l0.2 9.5l0.2 -4.4l0.2 -7l0.1 8.2l0.2 2.1l0.2 -6.5l0.2 -1.4l0.2 1.1l0.2 2.2l0.1 1.1l0.2 1.9l0.2 0l0.2 -0.3l0.2 0.5l0.2 -2.8l0.1 -8.7l0.2 5.4l0.2 1.7l0.2 -2.8l0.2 5.1l0.2 -4.9l0.1 -2.1l0.2 9.4l0.2 -2.8l0.2 -1.5l0.2 3.1l0.2 0.8l0.1 -2.4l0.2 -10.4l0.2 7.3l0.2 1.3l0.2 -1.7l0.2 5l0.1 4.3l0.2 -7.4l0.2 -0.7l0.2 12.5l0.2 -9.2l0.2 -2.6l0.1 5.9l0.2 1l0.2 -4.1l0.2 6l0.2 -4.6l0.2 -1.4l0.1 4.4l0.2 2.6l0.2 -5.1l0.2 3.9l0.2 -1.4l0.2 11.3l0.1 -13.1l0.2 8.2l0.2 -5.2l0.2 -0.1l0.2 5.4l0.2 1.3l0.1 -0.7l0.2 -3.3l0.2 -3.3l0.2 -1l0.2 5.6l0.2 0.5l0.1 3.3l0.2 -3.5l0.2 2.6l0.2 1.9l0.2 -4.9l0.2 -5.9l0.1 1.3l0.2 -0.8l0.2 11.6l0.2 -9l0.2 8l0.2 -2.2l0.1 4.4l0.2 -2.4l0.2 -4l0.2 -0.1l0.2 1.5l0.2 0.3l0.1 -2.5l0.2 2.1l0.2 10.5l0.2 -16.3l0.2 7.4l0.2 -4.1l0.1 4.2l0.2 2.6l0.2 -3.1l0.2 3.2l0.2 -8.6l0.2 10.1l0.1 -6.1l0.2 4.6l0.2 -1.5l0.2 -10.1l0.2 6.9l0.2 3.7l0.1 5l0.2 -4.6l0.2 0l0.2 -6.1l0.2 10.6l0.1 1.4l0.2 -6.5l0.2 -0.9l0.2 -5.1l0.2 9.3l0.2 6.8l0.1 -7.3l0.2 2l0.2 -2.6l0.2 -5.6l0.2 8.6l0.2 -9.4l0.1 3.8l0.2 1.8l0.2 2.3l0.2 -1.7l0.2 -0.1l0.2 -4.2l0.1 -1.9l0.2 5l0.2 -2.8l0.2 -2.1l0.2 0.2l0.2 2.8l0.1 -4.9l0.2 -1.6l0.2 2.5l0.2 6.7l0.2 0.8l0.2 5.9l0.1 -12.8l0.2 3.1l0.2 5.8l0.2 -4l0.2 -0.4l0.2 11.9l0.1 -11.8l0.2 -5.9l0.2 2.4l0.2 6.1l0.2 0l0.2 -6.1l0.1 1.5l0.2 7l0.2 -1.2l0.2 -4.4l0.2 4.7l0.2 -0.1l0.1 -8.5l0.2 5.4l0.2 2.7l0.2 -3.5l0.2 -5.7l0.2 6.8l0.1 3.9l0.2 3l0.2 -13.6l0.2 17.5l0.2 -13.6l0.2 7.7l0.1 1l0.2 -0.8l0.2 -3l0.2 -4.8l0.2 6.6l0.2 -4.9l0.1 -6.5l0.2 19.4l0.2 -7.7l0.2 4.1l0.2 -12.2l0.2 10.9l0.1 0.5l0.2 -0.2l0.2 -5.7l0.2 -4.3l0.2 3.7l0.2 -7.3l0.1 1.8l0.2 6.5l0.2 -3.9l0.2 3l0.2 0.2l0.2 7.4l0.1 -2.3l0.2 -4.9l0.2 4.5l0.2 -7.2l0.2 1.6l0.2 4.5l0.1 -7.8l0.2 3.5l0.2 -3.8l0.2 5.2l0.2 5.5l0.2 -8.7l0.1 3.6l0.2 -4.1l0.2 -1l0.2 -0.3l0.2 9.8l0.2 3.2l0.1 -6.8l0.2 -4.4l0.2 5.2l0.2 -3.8l0.2 4.1l0.2 -1.1l0.1 -0.8l0.2 1.1l0.2 -4.3l0.2 0.6l0.2 -4.8l0.2 4.7l0.1 -3.6l0.2 4.6l0.2 -3l0.2 3.8l0.2 1.3l0.2 -6.8l0.1 2.2l0.2 -0.5l0.2 6.1l0.2 3.4l0.2 -3.1l0.2 -4.4l0.1 6.6l0.2 -10.8l0.2 10.9l0.2 -7.9l0.2 -7.7l0.1 19.7l0.2 -4l0.2 -9.4l0.2 4.3l0.2 -1.4l0.2 1.1l0.1 -5.8l0.2 2.9l0.2 4.1l0.2 -0.9l0.2 3.5l0.2 -4.1l0.1 8.2l0.2 -11.1l0.2 3.5l0.2 -7.9l0.2 2.4l0.2 9.3l0.1 -8.3l0.2 5.3l0.2 -2.1l0.2 -3.6l0.2 2.5l0.2 -0.7l0.1 0.1l0.2 4.4l0.2 -0.4l0.2 -4.5l0.2 -1.2l0.2 4.2l0.1 -1.7l0.2 4.3l0.2 5.8l0.2 -6.6l0.2 -3.2l0.2 -0.6l0.1 -2.5l0.2 -0.3l0.2 -0.4l0.2 2.1l0.2 -0.2l0.2 4.2l0.1 -4.2l0.2 0.6l0.2 -6.8l0.2 13.4l0.2 -4.2l0.2 4.5l0.1 -3.6l0.2 6.2l0.2 -10.2l0.2 3.4l0.2 7.1l0.2 -14.3l0.1 11.6l0.2 -1.2l0.2 -4.7l0.2 1.1l0.2 1.8l0.2 -7.2l0.1 3.9l0.2 -4.9l0.2 0.6l0.2 0.1l0.2 1.6l0.2 1l0.1 0.9l0.2 -7.1l0.2 12.5l0.2 -3.2l0.2 -1.8l0.2 -4.3l0.1 0.9l0.2 2.1l0.2 -0.7l0.2 -8l0.2 8.9l0.2 7.9l0.1 -18.1l0.2 10.5l0.2 -2.6l0.2 -2l0.2 5.4l0.2 -9.8l0.1 4.8l0.2 4.7l0.2 -6.4l0.2 -2.2l0.2 2.9l0.2 -2.3l0.1 7.4l0.2 -9.5l0.2 6.6l0.2 -8.2l0.2 7.1l0.2 -3.1l0.1 -9.6l0.2 9.6l0.2 -4.2l0.2 2.2l0.2 7.3l0.2 -10.3l0.1 0l0.2 9.3l0.2 -5.2l0.2 5.2l0.2 -4.8l0.2 -4.8l0.1 3l0.2 4.7l0.2 -1.3l0.2 -3.7l0.2 0l0.2 -0.8l0.1 -1.9l0.2 9.4l0.2 -7.5l0.2 -4.5l0.2 2.4l0.2 4.5l0.1 -0.5l0.2 -3l0.2 -2.1l0.2 2.5l0.2 -6.5l0.2 1.4l0.1 8l0.2 -4.9l0.2 3.2l0.2 3.3l0.2 -2.2l0.1 -2.3l0.2 8.1l0.2 -5.5l0.2 -3.8l0.2 6.2l0.2 -3.1l0.1 -4.7l0.2 3.6l0.2 -0.7l0.2 -6.8l0.2 7l0.2 -0.3l0.1 -0.4l0.2 -4.4l0.2 5l0.2 1.4l0.2 0.7l0.2 -4.6l0.1 6.9l0.2 -6.9l0.2 4l0.2 5.9l0.2 -7.4l0.2 0.8l0.1 6.1l0.2 -5.3l0.2 0.5l0.2 2.2l0.2 3.3l0.2 -12l0.1 5.4l0.2 -0.5l0.2 -0.1l0.2 1.1l0.2 0.2l0.2 5.3l0.1 -7.5l0.2 6.3l0.2 1.1l0.2 -4.1l0.2 3.3l0.2 5.6l0.1 -4.9l0.2 -3.6l0.2 2.1l0.2 -3.1l0.2 4.4l0.2 2.2l0.1 -6.3l0.2 2.2l0.2 4.9l0.2 -6l0.2 2.5l0.2 -4.5l0.1 0.7l0.2 1.1l0.2 9.8l0.2 -9.5l0.2 -0.4l0.2 -0.2l0.1 1.4l0.2 2.9l0.2 -1.7l0.2 6.8l0.2 -6.8l0.2 4.4l0.1 -4.3l0.2 1.1l0.2 -7.5l0.2 4.7l0.2 0.2l0.2 -0.7l0.1 -7l0.2 11l0.2 -4.7l0.2 -0.3l0.2 0.6l0.2 0.1l0.1 2.2l0.2 -6.2l0.2 1.2l0.2 4.4l0.2 -0.6l0.2 -2l0.1 -0.7l0.2 -3.2l0.2 4.9l0.2 4.5l0.2 -8.3l0.2 9.4l0.1 -2.5l0.2 -4.8l0.2 4.4l0.2 -8.3l0.2 -1l0.2 1.6l0.1 3.1l0.2 0.3l0.2 -0.8l0.2 2.2l0.2 -8.2l0.2 9.5l0.1 -7.1l0.2 2.7l0.2 0.9l0.2 -2.8l0.2 -0.9l0.2 1.3l0.1 3.6l0.2 2.1l0.2 -0.2l0.2 -5.8l0.2 0.7l0.2 -0.5l0.1 4.9l0.2 -9.2l0.2 11.9l0.2 -6.3l0.2 -1.2l0.2 4l0.1 2.5l0.2 -2.6l0.2 2.5l0.2 -3.4l0.2 3.9l0.2 0l0.1 -5l0.2 5.6l0.2 -4.8l0.2 -0.3l0.2 -3.8l0.1 2.3l0.2 3.8l0.2 -7.7l0.2 7.1l0.2 -0.2l0.2 -1.2l0.1 -9.2l0.2 7.7l0.2 2.7l0.2 -5.3l0.2 3.1l0.2 -9.1l0.1 11.1l0.2 -5l0.2 5.6l0.2 -10l0.2 9.2l0.2 -3.4l0.1 5.8l0.2 -8.5l0.2 1.1l0.2 10.4l0.2 -11.3l0.2 0.4l0.1 1.5l0.2 -2.8l0.2 8.1l0.2 1.9l0.2 -8.9l0.2 -3.8l0.1 10.6l0.2 -0.3l0.2 1l0.2 -0.9l0.2 -7.4l0.2 2.5l0.1 -4.5l0.2 -0.1l0.2 11.3l0.2 -8.6l0.2 10.9l0.2 -8.1l0.1 -2.6l0.2 5.3l0.2 8.3l0.2 -9.4l0.2 -6.2l0.2 5.8l0.1 3.8l0.2 -6.8l0.2 -1l0.2 6.6l0.2 -3.1l0.2 -4.5l0.1 2.7l0.2 -1.3l0.2 3.9l0.2 -0.6l0.2 3.9l0.2 -1.6l0.1 -8.2l0.2 7.3l0.2 1.9l0.2 -0.4l0.2 1l0.2 -5.7l0.1 -1.3l0.2 9.3l0.2 -9.6l0.2 -3.9l0.2 14.4l0.2 -8.9l0.1 1.6l0.2 -3.9l0.2 0.3l0.2 -2.2l0.2 5.9l0.2 2.8l0.1 -9.6l0.2 11.2l0.2 -7l0.2 0.5l0.2 6.4l0.2 -2.6l0.1 -5.2l0.2 12.3l0.2 -9.7l0.2 4.1l0.2 0.5l0.2 3.9l0.1 -6.6l0.2 5.4l0.2 -6.2l0.2 6.8l0.2 -6.7l0.2 1.5l0.1 8.3l0.2 -4.8l0.2 -1.4l0.2 7.8l0.2 -6.7l0.2 -4.1l0.1 5.7l0.2 -6.8l0.2 8.4l0.2 0.4l0.2 -6.3l0.2 0l0.1 3l0.2 -0.5l0.2 -3.4l0.2 5.6l0.2 -9.2l0.2 5.9l0.1 0.2l0.2 0.6l0.2 2.2l0.2 -5.4l0.2 6.6l0.2 -2.6l0.1 -3.2l0.2 -0.8l0.2 0.7l0.2 5.7l0.2 -4.7l0.2 3.8l0.1 3.7l0.2 0l0.2 2l0.2 -6.6l0.2 -2.7l0.1 7.6l0.2 -2.4l0.2 5.8l0.2 -6.7l0.2 4.3l0.2 -1.1l0.1 -0.4l0.2 -0.7l0.2 0.7l0.2 -1.4l0.2 0l0.2 2.8l0.1 -6.5l0.2 13.7l0.2 -10.8l0.2 3.9l0.2 -3.7l0.2 -0.5l0.1 8.2l0.2 -8.2l0.2 -3.4l0.2 2.1l0.2 1.5l0.2 8.8l0.1 -6.8l0.2 2.7l0.2 -6.8l0.2 4.9l0.2 1.2l0.2 4.1l0.1 -8.8l0.2 4.7l0.2 -1l0.2 -4.6l0.2 3.7l0.2 -0.8l0.1 -7.2l0.2 10.4l0.2 -0.1l0.2 -3.4l0.2 -3l0.2 10l0.1 -4.2l0.2 2.7l0.2 1.5l0.2 -6.7l0.2 4.8l0.2 -3.6l0.1 0.7l0.2 0.1l0.2 0.4l0.2 4l0.2 -3.1l0.2 -1.1l0.1 -0.3l0.2 2.2l0.2 -4.2l0.2 1.5l0.2 1.7l0.2 -1.6l0.1 1.6l0.2 -1.5l0.2 9.2l0.2 -2.2l0.2 -2.9l0.2 -1.6l0.1 8l0.2 -6.3l0.2 -1.2l0.2 1.5l0.2 0.2l0.2 4l0.1 -4.7l0.2 7.5l0.2 -10.1l0.2 5.7l0.2 -5.7l0.2 10l0.1 -7.3l0.2 1.2l0.2 3.6l0.2 1.3l0.2 -8l0.2 2.8l0.1 -3.4l0.2 5.5l0.2 -0.7l0.2 -0.7l0.2 -1l0.2 1.2l0.1 -1.1l0.2 4.5l0.2 3.6l0.2 -11.7l0.2 6.4l0.2 -0.9l0.1 3.3l0.2 -4.8l0.2 3l0.2 -2.9l0.2 6l0.2 -1.9l0.1 -0.7l0.2 1.9l0.2 -2l0.2 -4.3l0.2 7.4l0.2 -0.9l0.1 -1.5l0.2 4l0.2 0.8l0.2 -7.8l0.2 1l0.2 8l0.1 -0.5l0.2 -7.3l0.2 -1.5l0.2 1.8l0.2 0.5l0.2 -3.7l0.1 5.5l0.2 -4.5l0.2 0.3l0.2 7.2l0.2 -5.4l0.2 2l0.1 2.4l0.2 0.6l0.2 -3.9l0.2 1.3l0.2 -3l0.1 13l0.2 -7.9l0.2 -6l0.2 3.7l0.2 2.4l0.2 -0.8l0.1 4.6l0.2 -1.5l0.2 -6.5l0.2 1.5l0.2 -4.1l0.2 5.2l0.1 0l0.2 8.3l0.2 -8.8l0.2 -7.5l0.2 4.8l0.2 2.7l0.1 -4.7l0.2 1.4l0.2 1.7l0.2 2.4l0.2 -1.8l0.2 -2.4l0.1 5.6l0.2 -4.5l0.2 0.1l0.2 -2.9l0.2 2l0.2 4.8l0.1 -7.7l0.2 5.3l0.2 2.6l0.2 -3.7l0.2 2.7l0.2 -5.2l0.1 8.2l0.2 -0.7l0.2 -3l0.2 -6.7l0.2 2.4l0.2 6.8l0.1 2.5l0.2 -4.8l0.2 3.2l0.2 -6.3l0.2 1.4l0.2 0.7l0.1 1.4l0.2 -6.6l0.2 8.3l0.2 1.3l0.2 -8.4l0.2 -0.7l0.1 5.8l0.2 -5l0.2 -4.2l0.2 10.7l0.2 -2.2l0.2 -2.1l0.1 8.7l0.2 -6.7l0.2 -3l0.2 2.9l0.2 -3.9l0.2 0.9l0.1 3.9l0.2 -3.2l0.2 0.4l0.2 7.1l0.2 -2.7l0.2 -0.2l0.1 -1l0.2 -0.1l0.2 3.3l0.2 -5l0.2 6.3l0.2 -9.5l0.1 2.3l0.2 -3.8l0.2 3.5l0.2 2.9l0.2 3.2l0.2 -7.2l0.1 2.3l0.2 -1.3l0.2 -1.3l0.2 -1.5l0.2 4.2l0.2 -6.1l0.1 6.5l0.2 -0.6l0.2 -2.3l0.2 -1.2l0.2 -1.2l0.2 11l0.1 -10.9l0.2 9.8l0.2 -3.3l0.2 -3.2l0.2 -2.7l0.2 7.4l0.1 2.3l0.2 -9l0.2 2.2l0.2 4.5l0.2 -2.4l0.2 5.6l0.1 -8.7l0.2 5l0.2 -7.3l0.2 11.3l0.2 -9.5l0.2 -5l0.1 7l0.2 -0.1l0.2 7l0.2 -8.4l0.2 1.9l0.2 2l0.1 3.4l0.2 -5.8l0.2 3.9l0.2 -1.8l0.2 -2.7l0.2 1.3l0.1 -0.2l0.2 -3.2l0.2 7.2l0.2 -8.8l0.2 8.6l0.2 -0.7l0.1 -3.5l0.2 -2.3l0.2 1.8l0.2 2.4l0.2 0.9l0.1 -1.5l0.2 2.3l0.2 -5.2l0.2 3.2l0.2 -6.6l0.2 9.7l0.1 -3.9l0.2 -1.9l0.2 5.3l0.2 -1.6l0.2 -11.8l0.2 9.6l0.1 -5l0.2 8.5l0.2 4.8l0.2 -10.1l0.2 2l0.2 -1.1l0.1 2l0.2 1l0.2 2.1l0.2 -7.6l0.2 8.6l0.2 -8.4l0.1 4l0.2 3l0.2 -1.5l0.2 -5.6l0.2 0.8l0.2 -0.2l0.1 2.4l0.2 4.1l0.2 -11.3l0.2 9l0.2 0.4l0.2 1.2l0.1 -1.6l0.2 7.1l0.2 -7.1l0.2 1.3l0.2 -1l0.2 4.1l0.1 -12.4l0.2 10.7l0.2 -5.8l0.2 0.6l0.2 -2.4l0.2 -3l0.1 5l0.2 -1l0.2 4l0.2 -6.6l0.2 9.7l0.2 -3.9l0.1 -1.7l0.2 -1.6l0.2 -0.2l0.2 -1.2l0.2 2l0.2 1.8l0.1 -0.6l0.2 -4.1l0.2 3.8l0.2 -2.1l0.2 3.5l0.2 5.7l0.1 -4.1l0.2 -3.1l0.2 -4.4l0.2 0.7l0.2 -0.9l0.2 8l0.1 -5l0.2 2.8l0.2 -2.3l0.2 2.4l0.2 4.4l0.2 -7l0.1 1.2l0.2 -1.6l0.2 5.6l0.2 -6.3l0.2 -0.4l0.2 -0.8l0.1 -0.1l0.2 6.3l0.2 7l0.2 -11.9l0.2 6.5l0.2 -2.4l0.1 -4.5l0.2 2.8l0.2 0.1l0.2 -1.5l0.2 8.8l0.2 -12.9l0.1 7.7l0.2 -0.2l0.2 -4.4l0.2 3.8l0.2 2.4l0.2 -2.4l0.1 0.9l0.2 0.9l0.2 -9.1l0.2 11.7l0.2 2.7l0.2 -4.3l0.1 0.1l0.2 -8.1l0.2 4.3l0.2 -2.3l0.2 0.7l0.2 5.2l0.1 -5.9l0.2 2.3l0.2 -6l0.2 5.5l0.2 1.2l0.2 -2.6l0.1 -0.1l0.2 8.7l0.2 -10.3l0.2 0.5l0.2 0.8l0.2 6.7l0.1 3l0.2 -5.9l0.2 -3.5l0.2 1l0.2 4.9l0.1 -6.5l0.2 7.8l0.2 -0.1l0.2 -4.5l0.2 2l0.2 0.3l0.1 2.7l0.2 -8.7l0.2 7.4l0.2 -6l0.2 -0.5l0.2 2.9l0.1 -1l0.2 -2.6l0.2 -2l0.2 2.2l0.2 7.9l0.2 1.7l0.1 -4.3l0.2 1.7l0.2 -5.6l0.2 1.4l0.2 1.2l0.2 -4.5l0.1 0.3l0.2 3.6l0.2 -2.1l0.2 -1.7l0.2 5.7l0.2 -3.1l0.1 4.3l0.2 -3.4l0.2 -1l0.2 1.4l0.2 -1.4l0.2 -1.2l0.1 0.9l0.2 3.8l0.2 1.1l0.2 0.7l0.2 -9.9l0.2 4.3l0.1 -0.1l0.2 2l0.2 -2.1l0.2 -0.2l0.2 4.3l0.2 -2l0.1 -4.5l0.2 8.3l0.2 -1.1l0.2 -5.2l0.2 4.7l0.2 -5.2l0.1 6.1l0.2 -4.4l0.2 -2l0.2 0.6l0.2 -0.4l0.2 3.1l0.1 0l0.2 -0.5l0.2 -1.9l0.2 -10.3l0.2 12.4l0.2 -6.6l0.1 7.1l0.2 2.9l0.2 -2.8l0.2 -2.2l0.2 0.7l0.2 0.2l0.1 -1.4l0.2 -0.1l0.2 -1.2l0.2 7l0.2 -4l0.2 3.3l0.1 -4l0.2 1l0.2 -0.8l0.2 2.1l0.2 1.2l0.2 -1.9l0.1 -3l0.2 -0.4l0.2 8.1l0.2 -6.4l0.2 -0.1l0.2 5.8l0.1 -1.2l0.2 -0.6l0.2 -4.4l0.2 9.1l0.2 -6.5l0.2 0.5l0.1 -2.4l0.2 -4.1l0.2 0.2l0.2 5.7l0.2 0.9l0.2 -3.1l0.1 -3.1l0.2 -0.9l0.2 3.7l0.2 -3.8l0.2 7.7l0.2 0.9l0.1 5.5l0.2 -6.5l0.2 -4.9l0.2 -1l0.2 -8.5l0.2 9.3l0.1 1.4l0.2 6l0.2 -3.5l0.2 1.2l0.2 -2.6l0.2 1.4l0.1 2.6l0.2 -8.4l0.2 2l0.2 -3.1l0.2 9.9l0.2 -1.1l0.1 -0.1l0.2 -8.3l0.2 4.5l0.2 -1.4l0.2 1l0.1 -0.9l0.2 2.3l0.2 -4l0.2 5l0.2 -2.1l0.2 -1.8l0.1 0.5l0.2 -1.1l0.2 4.1l0.2 -3.6l0.2 1.8l0.2 -2.3l0.1 -3.7l0.2 7.9l0.2 -6.6l0.2 5.7l0.2 0.1l0.2 -7.9l0.1 2.3l0.2 1.4l0.2 -1.1l0.2 -1.2l0.2 8l0.2 -5l0.1 2l0.2 -2.8l0.2 2.4l0.2 -3.6l0.2 2.4l0.2 1.9l0.1 -1.8l0.2 -1.7l0.2 -2.2l0.2 4.1l0.2 0.5l0.2 -2l0.1 -1.8l0.2 4.3l0.2 6.3l0.2 -9.2l0.2 2l0.2 0.1l0.1 -9.8l0.2 8.8l0.2 -2.8l0.2 6.9l0.2 -5.5l0.2 -1.8l0.1 1.3l0.2 1.7l0.2 -2.4l0.2 1.6l0.2 -4.4l0.2 3.7l0.1 3.3l0.2 3.9l0.2 -4.2l0.2 -1.5l0.2 2.9l0.2 -0.6l0.1 2.1l0.2 -2l0.2 -4l0.2 1.2l0.2 -0.3l0.2 0.3l0.1 -0.4l0.2 -3.3l0.2 -4.4l0.2 4.6l0.2 -4.5l0.2 6.9l0.1 -0.3l0.2 -5.6l0.2 7.8l0.2 0.5l0.2 -2.6l0.2 5.2l0.1 0.6l0.2 -10.2l0.2 7.4l0.2 -2l0.2 -0.1l0.2 1.7l0.1 -5.5l0.2 0.4l0.2 -0.8l0.2 0.2l0.2 1.9l0.2 -4.2l0.1 1.3l0.2 6.8l0.2 -3.5l0.2 1.5l0.2 -7.5l0.2 3.6l0.1 0.8l0.2 1.9l0.2 -2l0.2 5.1l0.2 -3.3l0.2 0.2l0.1 0l0.2 2.4l0.2 -3.9l0.2 5.3l0.2 -2.2l0.2 -1l0.1 -0.3l0.2 1.6l0.2 1.6l0.2 -0.2l0.2 -1.9l0.2 1.7l0.1 -2.5l0.2 3.8l0.2 -4.2l0.2 -6.7l0.2 11.3l0.2 -4l0.1 -4.2l0.2 3.2l0.2 -4.3l0.2 12l0.2 -5.3l0.2 -6.8l0.1 7l0.2 -3l0.2 7.6l0.2 -9.7l0.2 -3.9l0.1 7.6l0.2 -1.3l0.2 -0.2l0.2 -5.6l0.2 8.5l0.2 4.2l0.1 -11.7l0.2 10.2l0.2 -5.6l0.2 9.7l0.2 -6.2l0.2 -1.9l0.1 4.3l0.2 -1.7l0.2 -3.6l0.2 4.4l0.2 -3.8l0.2 -4.1l0.1 12.7l0.2 -7.6l0.2 -0.7l0.2 3.2l0.2 -6l0.2 0.8l0.1 3l0.2 0.1l0.2 2.1l0.2 3.5l0.2 -5l0.2 3.3l0.1 0.5l0.2 -5.3l0.2 4.9l0.2 -4.2l0.2 6.7l0.2 -1.9l0.1 -1.2l0.2 -7.3l0.2 7.9l0.2 -4.4l0.2 6.7l0.2 -2.5l0.1 -4l0.2 7.7l0.2 -0.5l0.2 -4.1l0.2 5.8l0.2 -4.5l0.1 0.1l0.2 1.6l0.2 -2.7l0.2 1.1l0.2 1.1l0.2 5.6l0.1 0l0.2 -5.5l0.2 6.1l0.2 -5.2l0.2 1.4l0.2 1.7l0.1 -1.8l0.2 6.9l0.2 -7l0.2 -4.5l0.2 8.1l0.2 -5.5l0.1 -0.3l0.2 -7.9l0.2 12.9l0.2 -0.5l0.2 -0.1l0.2 0.7l0.1 2.3l0.2 -5.6l0.2 3.3l0.2 -5.4l0.2 1.3l0.2 4.6l0.1 -2.1l0.2 -5.5l0.2 5.5l0.2 -1.7l0.2 -2l0.2 4l0.1 -2.6l0.2 -3.7l0.2 1.5l0.2 9.3l0.2 -10.5l0.2 6.1l0.1 2.2l0.2 -1.3l0.2 -5.9l0.2 2.9l0.2 1.5l0.2 2.2l0.1 -4.6l0.2 -1.7l0.2 7l0.2 0.4l0.2 -2.3l0.2 -3.1l0.1 3.3l0.2 -1l0.2 2.4l0.2 -6.7l0.2 4.4l0.2 -0.8l0.1 -3l0.2 4.2l0.2 -0.5l0.2 -1.4l0.2 2.6l0.2 -5.8l0.1 4.4l0.2 1.6l0.2 -0.5l0.2 2.6l0.2 -7.3l0.2 -0.9l0.1 5.6l0.2 0.7l0.2 5.3l0.2 -4.8l0.2 -4.7l0.2 5.4l0.1 -5.3l0.2 -2l0.2 13.1l0.2 -7.3l0.2 1.3l0.1 -0.5l0.2 4l0.2 -4.9l0.2 3l0.2 -7.2l0.2 -1.1l0.1 9l0.2 0.2l0.2 -3.1l0.2 -0.9l0.2 -0.2l0.2 -2.7l0.1 7.1l0.2 -2.8l0.2 -0.5l0.2 -0.4l0.2 2.1l0.2 -1.7l0.1 0.8l0.2 -6.1l0.2 5.3l0.2 5.4l0.2 -8.7l0.2 1.3l0.1 3.2l0.2 0.2l0.2 -1l0.2 -7.2l0.2 6.8l0.2 -5.4l0.1 1.1l0.2 4.4l0.2 -2.7l0.2 3.5l0.2 7.5l0.2 -7.6l0.1 -0.2l0.2 -5.2l0.2 0.8l0.2 -1.3l0.2 1.7l0.2 -1.8l0.1 1.3l0.2 1.5l0.2 -2.6l0.2 -1.3l0.2 0.1l0.2 5.8l0.1 -1.3l0.2 3.1l0.2 0l0.2 -4.4l0.2 3.2l0.2 -6.7l0.1 16.9l0.2 -8.6l0.2 -4.5l0.2 -3l0.2 4.9l0.2 -7.2l0.1 3.5l0.2 4.8l0.2 -2.2l0.2 -1.8l0.2 4.6l0.2 -6.4l0.1 4.2l0.2 -2.5l0.2 -1.1l0.2 4.1l0.2 -4.6l0.2 9.2l0.1 -8l0.2 8.2l0.2 -9.8l0.2 5.3l0.2 -5.7l0.2 -0.5l0.1 4.8l0.2 1.6l0.2 -6.2l0.2 7.7l0.2 -6.3l0.2 3l0.1 0.7l0.2 0.7l0.2 -7.6l0.2 10.8l0.2 -3.4l0.2 -3.1l0.1 -2l0.2 -2.1l0.2 1l0.2 6l0.2 -2.8l0.2 -2.5l0.1 1.9l0.2 6.6l0.2 -6l0.2 -2.2l0.2 7.4l0.2 -2.8l0.1 -1.4l0.2 -2l0.2 -3.1l0.2 1.2l0.2 2.2l0.2 0.8l0.1 1.8l0.2 0.6l0.2 -1.1l0.2 0.5l0.2 -4.4l0.2 -3.6l0.1 5.1l0.2 -1.4l0.2 1l0.2 1.1l0.2 -3.1l0.2 0.4l0.1 3l0.2 0.9l0.2 -2.5l0.2 3.7l0.2 -2.3l0.2 -2.6l0.1 3.4l0.2 5.8l0.2 -8.1l0.2 5.8l0.2 0.6l0.1 0.4l0.2 -7.3l0.2 8.9l0.2 -6l0.2 -1.2l0.2 0.1l0.1 2.6l0.2 -1.8l0.2 -0.7l0.2 7.4l0.2 -9.1l0.2 -1.1l0.1 5.8l0.2 -0.3l0.2 1.3l0.2 -6.9l0.2 6.8l0.2 -0.8l0.1 2.9l0.2 -9.5l0.2 4.6l0.2 -1.6l0.2 -4.1l0.2 2.7l0.1 5.8l0.2 -5l0.2 -0.8l0.2 5l0.2 0.4l0.2 2.1l0.1 -7.8l0.2 2.3l0.2 3.5l0.2 -5.4l0.2 -1.9l0.2 6.6l0.1 2.3l0.2 -8.6l0.2 -4.5l0.2 3.6l0.2 1.3l0.2 2.8l0.1 2.3l0.2 -2.4l0.2 -1.7l0.2 2.7l0.2 -3.6l0.2 2.9l0.1 -1.9l0.2 10.5l0.2 -5.9l0.2 -5.2l0.2 -0.5l0.2 1.7l0.1 -3.8l0.2 2.9l0.2 0l0.2 5l0.2 -4.1l0.2 -1.1l0.1 -1.8l0.2 0.5l0.2 3.5l0.2 -0.5l0.2 4.3l0.2 -5.6l0.1 5.3l0.2 -2.5l0.2 -0.8l0.2 -6.3l0.2 2.2l0.2 6.4l0.1 2l0.2 -3.7l0.2 1.7l0.2 -4.6l0.2 1l0.2 -0.9l0.1 5.1l0.2 -1.9l0.2 -1.9l0.2 -0.3l0.2 2.8l0.2 -0.7l0.1 -3.7l0.2 8l0.2 -4.6l0.2 -0.8l0.2 4.6l0.2 -1.4l0.1 -3.5l0.2 2l0.2 -5.1l0.2 1.4l0.2 -5.1l0.2 10.9l0.1 -9.8l0.2 8.1l0.2 -4.8l0.2 -0.4l0.2 2.4l0.2 1.4l0.1 2.5l0.2 2.2l0.2 -4.4l0.2 1.6l0.2 -4.6l0.2 4.1l0.1 -1.8l0.2 -1.9l0.2 1.1l0.2 0.1l0.2 0.8l0.2 0.7l0.1 -2.9l0.2 -0.7l0.2 4.6l0.2 -7.6l0.2 3.3l0.2 6.8l0.1 -13.3l0.2 6.3l0.2 4.3l0.2 -7.3l0.2 13.2l0.2 -16.2l0.1 12.6l0.2 0.4l0.2 -2l0.2 -3.6l0.2 1.8l0.2 -3.9l0.1 5.3l0.2 -6l0.2 2.6l0.2 6.1l0.2 -8.7l0.1 2.3l0.2 1.6l0.2 -4.7l0.2 7.8l0.2 -2.5l0.2 -5.8l0.1 4.5l0.2 -2.2l0.2 0.3l0.2 2.3l0.2 -2.5l0.2 5.2l0.1 -5.2l0.2 5.3l0.2 -3.2l0.2 2.8l0.2 -4.4l0.2 0.1l0.1 -2l0.2 5.4l0.2 1.1l0.2 3.7l0.2 -2.6l0.2 -3.3l0.1 -1.4l0.2 1.8l0.2 -1.3l0.2 4.7l0.2 0.4l0.2 -7.6l0.1 -1.1l0.2 7.9l0.2 -2.6l0.2 -2.4l0.2 4.4l0.2 -5.7l0.1 1.2l0.2 -0.6l0.2 -4.7l0.2 8.8l0.2 -6.5l0.2 2l0.1 -0.5l0.2 4.5l0.2 -2.4l0.2 0.2l0.2 -5.3l0.2 5l0.1 -4.3l0.2 5.5l0.2 0.2l0.2 -1.2l0.2 6.3l0.2 -4.7l0.1 0.2l0.2 -1.4l0.2 -1l0.2 3.6l0.2 0.4l0.2 -7.5l0.1 7.3l0.2 -1.7l0.2 1.4l0.2 -1.5l0.2 -5.3l0.2 0.2l0.1 9.3l0.2 -4.9l0.2 -5.2l0.2 5.5l0.2 -2.2l0.2 -4.6l0.1 -1.4l0.2 2.1l0.2 5.8l0.2 -1l0.2 -0.6l0.2 1.6l0.1 1l0.2 -8.4l0.2 5.6l0.2 -1.7l0.2 -1.2l0.2 2.1l0.1 1.3l0.2 -0.5l0.2 -3.6l0.2 3l0.2 7.7l0.2 -9.5l0.1 -2l0.2 6.1l0.2 1l0.2 -0.5l0.2 -4.9l0.2 6.6l0.1 -5.5l0.2 -1.1l0.2 1.6l0.2 1.5l0.2 2.6l0.2 -0.3l0.1 -2l0.2 4.9l0.2 -4.6l0.2 2.5l0.2 -7.1l0.2 -0.5l0.1 8.9l0.2 -8.4l0.2 3.4l0.2 0.6l0.2 -1.2l0.2 0.1l0.1 5.7l0.2 -12.1l0.2 12.4l0.2 2.4l0.2 -7l0.2 -0.1l0.1 2.3l0.2 3.3l0.2 -9.3l0.2 4l0.2 -0.9l0.2 2.3l0.1 -1.2l0.2 1.5l0.2 -3.3l0.2 1.4l0.2 -2.2l0.1 0l0.2 1.3l0.2 0.3l0.2 -3.2l0.2 8.4l0.2 -5.2l0.1 -3.9l0.2 10l0.2 -8l0.2 3.8l0.2 -1.6l0.2 0.8l0.1 -0.2l0.2 -2.3l0.2 1.8l0.2 6.2l0.2 -13.2l0.2 7.1l0.1 2.1l0.2 -5.6l0.2 -0.9l0.2 10.8l0.2 -7.8l0.2 7.5l0.1 -4.7l0.2 -1.4l0.2 1.2l0.2 0.5l0.2 1.6l0.2 -2.2l0.1 -0.6l0.2 -0.3l0.2 3.6l0.2 -1.6l0.2 -5.6l0.2 1.1l0.1 3l0.2 -2.9l0.2 0.7l0.2 -1.8l0.2 2.2l0.2 2l0.1 1.8l0.2 -3l0.2 6.3l0.2 -6.6l0.2 10l0.2 -6.7l0.1 -1.6l0.2 -3l0.2 -7.1l0.2 8.1l0.2 1.1l0.2 5.3l0.1 -10.1l0.2 10l0.2 -6.6l0.2 3l0.2 -10l0.2 8.5l0.1 -1.8l0.2 3.2l0.2 -1.8l0.2 -3.8l0.2 6.4l0.2 -0.8l0.1 -0.2l0.2 1.2l0.2 0.3l0.2 -3.4l0.2 -4.1l0.2 0l0.1 8.4l0.2 -2l0.2 -1.8l0.2 -1.6l0.2 1.4l0.2 0l0.1 -1l0.2 -1.1l0.2 8.8l0.2 -5.9l0.2 -2.5l0.2 -2.1l0.1 1.8l0.2 4.5l0.2 0.1l0.2 -2.9l0.2 0.9l0.2 -1.1l0.1 -2.4l0.2 7.4l0.2 -2.8l0.2 6.5l0.2 -9.8l0.2 1.9l0.1 3.2l0.2 -3.4l0.2 -3.4l0.2 1.4l0.2 3.2l0.2 0.8l0.1 -1.3l0.2 3.4l0.2 0l0.2 -1.9l0.2 -0.9l0.2 -0.8l0.1 2.5l0.2 1.2l0.2 -2.5l0.2 1.1l0.2 -2.3l0.2 -3.2l0.1 1.3l0.2 5.4l0.2 -0.9l0.2 3.5l0.2 -4.6l0.2 2.5l0.1 1.4l0.2 -0.9l0.2 -4.9l0.2 1.4l0.2 1l0.2 -3.4l0.1 4.5l0.2 1.7l0.2 -4.5l0.2 7.5l0.2 -6.9l0.1 0.3l0.2 0l0.2 -1.4l0.2 3.4l0.2 -1.1l0.2 8.5l0.1 -6.7l0.2 -0.1l0.2 -2.3l0.2 -3.6l0.2 4.1l0.2 -2.3l0.1 5.5l0.2 -2.9l0.2 5.2l0.2 -2.8l0.2 0.3l0.2 -1.7l0.1 -0.1l0.2 1.4l0.2 0.9l0.2 -4.9l0.2 4.7l0.2 5.4l0.1 -8.1l0.2 -0.5l0.2 -1.3l0.2 -2.2l0.2 8l0.2 -3.4l0.1 1.4l0.2 4.1l0.2 2l0.2 -10.2l0.2 5.9l0.2 -1.3l0.1 -0.6l0.2 0.3l0.2 -1.5l0.2 4.9l0.2 -2.9l0.2 -0.8l0.1 2.7l0.2 -1l0.2 -1.3l0.2 -0.4l0.2 4.4l0.2 -3.8l0.1 -1.8l0.2 -2.3l0.2 1.6l0.2 -2.1l0.2 3.5l0.2 0.5l0.1 -7l0.2 6.3l0.2 1.9l0.2 -1.4l0.2 -3.4l0.2 6.8l0.1 -6l0.2 -1.5l0.2 0.4l0.2 3.3l0.2 3l0.2 0.6l0.1 -2.9l0.2 -4.2l0.2 1.6l0.2 -0.7l0.2 2.2l0.2 -4.8l0.1 6l0.2 1.3l0.2 -2.3l0.2 1.8l0.2 -4.2l0.2 -1.5l0.1 2.5l0.2 5.4l0.2 -0.4l0.2 -4.4l0.2 5l0.2 -4.6l0.1 5.5l0.2 -3l0.2 -2.8l0.2 5.4l0.2 -6.4l0.2 -0.5l0.1 -1.5l0.2 5.2l0.2 -0.9l0.2 -0.1l0.2 -1l0.2 5.6l0.1 -5.6l0.2 -0.9l0.2 5.9l0.2 0.6l0.2 -3.3l0.2 -6.2l0.1 3.4l0.2 3.7l0.2 -1.8l0.2 4.6l0.2 -8.7l0.2 6.1l0.1 -3.9l0.2 5.9l0.2 -4.2l0.2 3.3l0.2 -5l0.2 -2.3l0.1 0.9l0.2 0.3l0.2 0l0.2 6.7l0.2 0.4l0.2 -3.2l0.1 -3.9l0.2 2.7l0.2 -1.7l0.2 6.5l0.2 -3.5l0.2 0.6l0.1 -2.7l0.2 -4.8l0.2 3.7" stroke="#000" stroke-width="1.5"/>
<path d="M71.8 318.7h0.8M72 319.9h0.8M72.2 317.5h0.8M72.3 314.9h0.8M72.5 316.7h0.8M72.7 314.4h0.8M72.9 318.8h0.8M73.1 324.1h0.8M73.3 316.5h0.8M73.4 315.9h0.8M73.6 320.5h0.8M73.8 319.9h0.8M74 318.9h0.8M74.2 314.5h0.8M74.4 318.3h0.8M74.5 321.3h0.8M74.7 312.8h0.8M74.9 316.4h0.8M75.1 310.4h0.8M75.3 309.2h0.8M75.5 305.3h0.8M75.6 317.3h0.8M75.8 313h0.8M76 319.4h0.8M76.2 319h0.8M76.4 317.5h0.8M76.6 307.8h0.8M76.7 316.1h0.8M76.9 318h0.8M77.1 318.8h0.8M77.3 311.9h0.8M77.5 316.3h0.8M77.7 314.2h0.8M77.8 314.9h0.8M78 322.7h0.8M78.2 314.9h0.8M78.4 318.2h0.8M78.6 322h0.8M78.8 315.9h0.8M78.9 317.8h0.8M79.1 318.8h0.8M79.3 318.8h0.8M79.5 313.2h0.8M79.7 318.6h0.8M79.9 324h0.8M80 311.9h0.8M80.2 321.9h0.8M80.4 318.8h0.8M80.6 315.6h0.8M80.8 326.6h0.8M81 321.5h0.8M81.1 313.3h0.8M81.3 318.6h0.8M81.5 320.7h0.8M81.7 317.5h0.8M81.9 323.2h0.8M82.1 318h0.8M82.2 321.1h0.8M82.4 324.3h0.8M82.6 315.5h0.8M82.8 319.2h0.8M83 316.4h0.8M83.2 318.9h0.8M83.3 313.4h0.8M83.5 315.9h0.8M83.7 317.5h0.8M83.9 322.1h0.8M84.1 323.1h0.8M84.3 312.8h0.8M84.4 315h0.8M84.6 321h0.8M84.8 310.1h0.8M85 316.4h0.8M85.2 318h0.8M85.4 323.6h0.8M85.5 321.2h0.8M85.7 317h0.8M85.9 315.8h0.8M86.1 317.3h0.8M86.3 324.7h0.8M86.5 316.6h0.8M86.6 317.1h0.8M86.8 320.9h0.8M87 317.9h0.8M87.2 317.6h0.8M87.4 313.8h0.8M87.6 318.3h0.8M87.7 316.5h0.8M87.9 323.2h0.8M88.1 321.1h0.8M88.3 318.3h0.8M88.5 321.2h0.8M88.7 317h0.8M88.8 322.8h0.8M89 318.4h0.8M89.2 320.8h0.8M89.4 309.3h0.8M89.6 320.9h0.8M89.8 311.4h0.8M89.9 310h0.8M90.1 317.2h0.8M90.3 314.7h0.8M90.5 319.1h0.8M90.7 327.7h0.8M90.9 315h0.8M91 315.8h0.8M91.2 319.3h0.8M91.4 320.5h0.8M91.6 317.7h0.8M91.8 317.6h0.8M92 321.4h0.8M92.1 320.6h0.8M92.3 314.2h0.8M92.5 318.1h0.8M92.7 318.6h0.8M92.9 314.1h0.8M93.1 319.5h0.8M93.2 314.9h0.8M93.4 322.5h0.8M93.6 319.3h0.8M93.8 318.8h0.8M94 316h0.8M94.2 318h0.8M94.3 310.2h0.8M94.5 313.8h0.8M94.7 320h0.8M94.9 309.7h0.8M95.1 322h0.8M95.3 306.2h0.8M95.4 321.6h0.8M95.6 315h0.8M95.8 321.7h0.8M96 319.1h0.8M96.2 312.2h0.8M96.3 323.7h0.8M96.5 324.5h0.8M96.7 318.3h0.8M96.9 317.4h0.8M97.1 317.9h0.8M97.3 314.5h0.8M97.4 323.1h0.8M97.6 316.3h0.8M97.8 318.4h0.8M98 315.3h0.8M98.2 316h0.8M98.4 313.3h0.8M98.5 323.8h0.8M98.7 318h0.8M98.9 322.6h0.8M99.1 318.7h0.8M99.3 315.8h0.8M99.5 317.3h0.8M99.6 316.3h0.8M99.8 318.7h0.8M100 317.1h0.8M100.2 317.4h0.8M100.4 313h0.8M100.6 315.4h0.8M100.7 325.5h0.8M100.9 315.9h0.8M101.1 314.4h0.8M101.3 321.1h0.8M101.5 324.5h0.8M101.7 312.8h0.8M101.8 317.9h0.8M102 314.3h0.8M102.2 311.5h0.8M102.4 321.8h0.8M102.6 318.7h0.8M102.8 319.3h0.8M102.9 315.7h0.8M103.1 320.7h0.8M103.3 316.6h0.8M103.5 318.3h0.8M103.7 314.3h0.8M103.9 313.9h0.8M104 324.4h0.8M104.2 316.8h0.8M104.4 320.1h0.8M104.6 318.8h0.8M104.8 317.1h0.8M105 316.8h0.8M105.1 321.5h0.8M105.3 317.7h0.8M105.5 318.3h0.8M105.7 319.1h0.8M105.9 323.8h0.8M106.1 321.8h0.8M106.2 320.6h0.8M106.4 316.7h0.8M106.6 313.4h0.8M106.8 322.9h0.8M107 323h0.8M107.2 318.5h0.8M107.3 321.3h0.8M107.5 322.3h0.8M107.7 322.5h0.8M107.9 322.9h0.8M108.1 317.2h0.8M108.3 325.4h0.8M108.4 314h0.8M108.6 322.7h0.8M108.8 321.2h0.8M109 322.8h0.8M109.2 326.9h0.8M109.4 325.3h0.8M109.5 314.5h0.8M109.7 312.3h0.8M109.9 322.6h0.8M110.1 315.1h0.8M110.3 319.2h0.8M110.5 322.7h0.8M110.6 312.5h0.8M110.8 310.6h0.8M111 320.3h0.8M111.2 319.5h0.8M111.4 318.3h0.8M111.6 319.5h0.8M111.7 315.8h0.8M111.9 313.1h0.8M112.1 318.7h0.8M112.3 315.4h0.8M112.5 312.6h0.8M112.7 321.4h0.8M112.8 319.1h0.8M113 321h0.8M113.2 315.3h0.8M113.4 316.7h0.8M113.6 315.3h0.8M113.8 315.8h0.8M113.9 320.2h0.8M114.1 316.2h0.8M114.3 320.9h0.8M114.5 320.8h0.8M114.7 327.7h0.8M114.9 313.7h0.8M115 323.1h0.8M115.2 319.1h0.8M115.4 319.4h0.8M115.6 313.5h0.8M115.8 317.6h0.8M116 322.5h0.8M116.1 319.1h0.8M116.3 319.8h0.8M116.5 318.3h0.8M116.7 324.2h0.8M116.9 319.4h0.8M117.1 310.5h0.8M117.2 316.7h0.8M117.4 311.4h0.8M117.6 306.2h0.8M117.8 317.3h0.8M118 324.9h0.8M118.2 319.7h0.8M118.3 314.7h0.8M118.5 315.7h0.8M118.7 324.1h0.8M118.9 320.1h0.8M119.1 319.7h0.8M119.3 319.3h0.8M119.4 319.6h0.8M119.6 322.8h0.8M119.8 321.7h0.8M120 320.3h0.8M120.2 315.2h0.8M120.3 321.5h0.8M120.5 316.6h0.8M120.7 323.9h0.8M120.9 314.2h0.8M121.1 318.8h0.8M121.3 319.3h0.8M121.4 313.9h0.8M121.6 326.4h0.8M121.8 325.3h0.8M122 317.4h0.8M122.2 322.4h0.8M122.4 320.8h0.8M122.5 308.5h0.8M122.7 320.2h0.8M122.9 318.9h0.8M123.1 319.5h0.8M123.3 314.7h0.8M123.5 318h0.8M123.6 318.3h0.8M123.8 323.9h0.8M124 320.4h0.8M124.2 319h0.8M124.4 325.2h0.8M124.6 316.7h0.8M124.7 317.3h0.8M124.9 311.4h0.8M125.1 325.2h0.8M125.3 325.5h0.8M125.5 322.5h0.8M125.7 321.5h0.8M125.8 319.1h0.8M126 319.5h0.8M126.2 317.6h0.8M126.4 317.8h0.8M126.6 318.8h0.8M126.8 324.7h0.8M126.9 320.8h0.8M127.1 318.2h0.8M127.3 316.1h0.8M127.5 315.8h0.8M127.7 324.9h0.8M127.9 320.4h0.8M128 318.6h0.8M128.2 316.9h0.8M128.4 313.7h0.8M128.6 317.9h0.8M128.8 321.7h0.8M129 316.5h0.8M129.1 317.2h0.8M129.3 317.2h0.8M129.5 318.5h0.8M129.7 311.5h0.8M129.9 317h0.8M130.1 314.5h0.8M130.2 321.6h0.8M130.4 314.8h0.8M130.6 320.2h0.8M130.8 324.1h0.8M131 316.6h0.8M131.2 315.4h0.8M131.3 318.6h0.8M131.5 317.8h0.8M131.7 313.7h0.8M131.9 319.6h0.8M132.1 325.9h0.8M132.3 316.6h0.8M132.4 316.8h0.8M132.6 313.4h0.8M132.8 318.9h0.8M133 312.5h0.8M133.2 313.1h0.8M133.4 322.8h0.8M133.5 313.9h0.8M133.7 322h0.8M133.9 323.8h0.8M134.1 318.6h0.8M134.3 319.8h0.8M134.5 325.5h0.8M134.6 316.7h0.8M134.8 315.1h0.8M135 312h0.8M135.2 317.7h0.8M135.4 323.5h0.8M135.6 321.4h0.8M135.7 313.7h0.8M135.9 314h0.8M136.1 315.5h0.8M136.3 318.7h0.8M136.5 316.7h0.8M136.7 318.4h0.8M136.8 318.8h0.8M137 316.4h0.8M137.2 317.3h0.8M137.4 318.5h0.8M137.6 317.3h0.8M137.8 319.7h0.8M137.9 330.7h0.8M138.1 321.8h0.8M138.3 318h0.8M138.5 311h0.8M138.7 319.4h0.8M138.9 310h0.8M139 312.2h0.8M139.2 321.4h0.8M139.4 320.9h0.8M139.6 317.4h0.8M139.8 311.1h0.8M140 316.6h0.8M140.1 315.4h0.8M140.3 320.8h0.8M140.5 327.4h0.8M140.7 319.2h0.8M140.9 315.2h0.8M141.1 313.7h0.8M141.2 318.2h0.8M141.4 317.8h0.8M141.6 313.9h0.8M141.8 319.1h0.8M142 314h0.8M142.2 323.2h0.8M142.3 323.1h0.8M142.5 323.2h0.8M142.7 317h0.8M142.9 321h0.8M143.1 318.4h0.8M143.3 317.5h0.8M143.4 316.8h0.8M143.6 313.9h0.8M143.8 313.4h0.8M144 322.5h0.8M144.2 318.5h0.8M144.3 320.2h0.8M144.5 323.5h0.8M144.7 312.5h0.8M144.9 316.4h0.8M145.1 320.3h0.8M145.3 321.2h0.8M145.4 318.2h0.8M145.6 323.9h0.8M145.8 320.7h0.8M146 315h0.8M146.2 316.2h0.8M146.4 323.2h0.8M146.5 321.9h0.8M146.7 312.4h0.8M146.9 325.6h0.8M147.1 322.6h0.8M147.3 325.6h0.8M147.5 318.7h0.8M147.6 319.1h0.8M147.8 315.8h0.8M148 330.6h0.8M148.2 319.7h0.8M148.4 326.9h0.8M148.6 317.9h0.8M148.7 321.2h0.8M148.9 309.2h0.8M149.1 318h0.8M149.3 324.6h0.8M149.5 315.7h0.8M149.7 325.1h0.8M149.8 322.1h0.8M150 316.6h0.8M150.2 318.8h0.8M150.4 319h0.8M150.6 320.7h0.8M150.8 318.8h0.8M150.9 317.6h0.8M151.1 319.7h0.8M151.3 316.9h0.8M151.5 315.8h0.8M151.7 320.8h0.8M151.9 324.6h0.8M152 314.9h0.8M152.2 321.1h0.8M152.4 318.5h0.8M152.6 317.2h0.8M152.8 324.5h0.8M153 319h0.8M153.1 327.1h0.8M153.3 318h0.8M153.5 322.7h0.8M153.7 320.2h0.8M153.9 318.1h0.8M154.1 323.5h0.8M154.2 320.6h0.8M154.4 323.6h0.8M154.6 321h0.8M154.8 316.9h0.8M155 320.8h0.8M155.2 321.5h0.8M155.3 325.1h0.8M155.5 317.6h0.8M155.7 321.1h0.8M155.9 314.4h0.8M156.1 323.9h0.8M156.3 317h0.8M156.4 314.1h0.8M156.6 321.1h0.8M156.8 325.8h0.8M157 315.3h0.8M157.2 317h0.8M157.4 318.4h0.8M157.5 316.9h0.8M157.7 322.9h0.8M157.9 318.2h0.8M158.1 318.5h0.8M158.3 323.7h0.8M158.5 318.4h0.8M158.6 323.2h0.8M158.8 317.5h0.8M159 316.6h0.8M159.2 314.1h0.8M159.4 328.9h0.8M159.6 320.2h0.8M159.7 322.4h0.8M159.9 321.3h0.8M160.1 322.1h0.8M160.3 321.7h0.8M160.5 329.1h0.8M160.7 314.4h0.8M160.8 315.3h0.8M161 314.6h0.8M161.2 316.2h0.8M161.4 324.5h0.8M161.6 324.8h0.8M161.8 317.7h0.8M161.9 315.9h0.8M162.1 320.1h0.8M162.3 327.1h0.8M162.5 310.2h0.8M162.7 323.5h0.8M162.9 317h0.8M163 325.3h0.8M163.2 316.7h0.8M163.4 319.7h0.8M163.6 314.6h0.8M163.8 316.4h0.8M164 325.6h0.8M164.1 323h0.8M164.3 317.8h0.8M164.5 315.5h0.8M164.7 305.7h0.8M164.9 316.7h0.8M165.1 317.6h0.8M165.2 317.1h0.8M165.4 316.6h0.8M165.6 312h0.8M165.8 315.8h0.8M166 315.3h0.8M166.2 319.8h0.8M166.3 321h0.8M166.5 311.6h0.8M166.7 307.6h0.8M166.9 309h0.8M167.1 305.3h0.8M167.3 303.4h0.8M167.4 305h0.8M167.6 296.9h0.8M167.8 306h0.8M168 302.6h0.8M168.2 304.1h0.8M168.4 302.6h0.8M168.5 301h0.8M168.7 301.1h0.8M168.9 305.2h0.8M169.1 305.2h0.8M169.3 309.8h0.8M169.4 310.3h0.8M169.6 306.2h0.8M169.8 313.3h0.8M170 308.8h0.8M170.2 312.7h0.8M170.4 314.7h0.8M170.5 308h0.8M170.7 317.2h0.8M170.9 318.3h0.8M171.1 317.1h0.8M171.3 316.5h0.8M171.5 317.1h0.8M171.6 312.4h0.8M171.8 317.6h0.8M172 316.1h0.8M172.2 320.6h0.8M172.4 315.8h0.8M172.6 321.8h0.8M172.7 321.8h0.8M172.9 320.6h0.8M173.1 320.1h0.8M173.3 324.3h0.8M173.5 315.7h0.8M173.7 324.4h0.8M173.8 323.7h0.8M174 324.1h0.8M174.2 325.7h0.8M174.4 320.6h0.8M174.6 322.3h0.8M174.8 325.9h0.8M174.9 325.2h0.8M175.1 324.3h0.8M175.3 317.5h0.8M175.5 325.6h0.8M175.7 328.1h0.8M175.9 327.5h0.8M176 324.4h0.8M176.2 317.3h0.8M176.4 329.8h0.8M176.6 322.8h0.8M176.8 313.4h0.8M177 324.8h0.8M177.1 317.4h0.8M177.3 318.2h0.8M177.5 320.7h0.8M177.7 328.2h0.8M177.9 321.7h0.8M178.1 324.2h0.8M178.2 330h0.8M178.4 329.3h0.8M178.6 322.6h0.8M178.8 322h0.8M179 317.9h0.8M179.2 320.1h0.8M179.3 324.4h0.8M179.5 324.2h0.8M179.7 323h0.8M179.9 326.5h0.8M180.1 319.4h0.8M180.3 322.2h0.8M180.4 325.2h0.8M180.6 324.6h0.8M180.8 326.4h0.8M181 323.7h0.8M181.2 320.8h0.8M181.4 323.4h0.8M181.5 317.9h0.8M181.7 315.3h0.8M181.9 324h0.8M182.1 321.4h0.8M182.3 322.8h0.8M182.5 314.8h0.8M182.6 319.9h0.8M182.8 318.8h0.8M183 317.6h0.8M183.2 312h0.8M183.4 319.4h0.8M183.6 324.1h0.8M183.7 321.8h0.8M183.9 317.7h0.8M184.1 319.8h0.8M184.3 322.6h0.8M184.5 308.4h0.8M184.7 318.6h0.8M184.8 321h0.8M185 321.3h0.8M185.2 325.1h0.8M185.4 322.6h0.8M185.6 319.1h0.8M185.8 318.7h0.8M185.9 320.4h0.8M186.1 314.8h0.8M186.3 316.5h0.8M186.5 320.1h0.8M186.7 324h0.8M186.9 315.3h0.8M187 315.5h0.8M187.2 316.2h0.8M187.4 320.5h0.8M187.6 314.8h0.8M187.8 320.6h0.8M188 310.6h0.8M188.1 313.5h0.8M188.3 313.3h0.8M188.5 317.1h0.8M188.7 318h0.8M188.9 307.5h0.8M189.1 309.8h0.8M189.2 314.7h0.8M189.4 310.6h0.8M189.6 307h0.8M189.8 317.3h0.8M190 315h0.8M190.2 314.9h0.8M190.3 310.8h0.8M190.5 316.8h0.8M190.7 311.6h0.8M190.9 316.9h0.8M191.1 308.7h0.8M191.3 308.8h0.8M191.4 313h0.8M191.6 309.3h0.8M191.8 314.7h0.8M192 312.9h0.8M192.2 308.1h0.8M192.4 312h0.8M192.5 310.2h0.8M192.7 315.2h0.8M192.9 308.9h0.8M193.1 309.6h0.8M193.3 316.2h0.8M193.4 320.3h0.8M193.6 319.2h0.8M193.8 311.3h0.8M194 311.9h0.8M194.2 317.1h0.8M194.4 310h0.8M194.5 306.8h0.8M194.7 311.2h0.8M194.9 312.5h0.8M195.1 307.2h0.8M195.3 303.9h0.8M195.5 304.7h0.8M195.6 313.1h0.8M195.8 307.3h0.8M196 309.8h0.8M196.2 311.2h0.8M196.4 312.8h0.8M196.6 308.9h0.8M196.7 312.2h0.8M196.9 304h0.8M197.1 308.7h0.8M197.3 303h0.8M197.5 314.6h0.8M197.7 309.9h0.8M197.8 307h0.8M198 308.6h0.8M198.2 309.1h0.8M198.4 312.8h0.8M198.6 303.5h0.8M198.8 305.8h0.8M198.9 308.5h0.8M199.1 320.2h0.8M199.3 313.9h0.8M199.5 309.6h0.8M199.7 312.9h0.8M199.9 324.2h0.8M200 309.1h0.8M200.2 308.6h0.8M200.4 315h0.8M200.6 312.1h0.8M200.8 312.8h0.8M201 308.1h0.8M201.1 317.9h0.8M201.3 317h0.8M201.5 312.4h0.8M201.7 312.9h0.8M201.9 302h0.8M202.1 314.6h0.8M202.2 309.4h0.8M202.4 312h0.8M202.6 313h0.8M202.8 308.9h0.8M203 303.5h0.8M203.2 311.8h0.8M203.3 307.3h0.8M203.5 309h0.8M203.7 307.9h0.8M203.9 308h0.8M204.1 301h0.8M204.3 315.3h0.8M204.4 311.4h0.8M204.6 314.9h0.8M204.8 318.4h0.8M205 310.5h0.8M205.2 303.1h0.8M205.4 306.8h0.8M205.5 305.5h0.8M205.7 307h0.8M205.9 310.7h0.8M206.1 302.2h0.8M206.3 311.5h0.8M206.5 303.9h0.8M206.6 311h0.8M206.8 309.2h0.8M207 307.3h0.8M207.2 308.9h0.8M207.4 305.2h0.8M207.6 306.1h0.8M207.7 301.4h0.8M207.9 307.8h0.8M208.1 315h0.8M208.3 315.2h0.8M208.5 312.2h0.8M208.7 309.3h0.8M208.8 303.2h0.8M209 311.4h0.8M209.2 304.9h0.8M209.4 304.4h0.8M209.6 303.1h0.8M209.8 304.2h0.8M209.9 301.6h0.8M210.1 302.6h0.8M210.3 298h0.8M210.5 300.4h0.8M210.7 317.3h0.8M210.9 300.4h0.8M211 299h0.8M211.2 303h0.8M211.4 301.4h0.8M211.6 293.1h0.8M211.8 296.1h0.8M212 299.9h0.8M212.1 296.4h0.8M212.3 295h0.8M212.5 300.1h0.8M212.7 290h0.8M212.9 292.3h0.8M213.1 289h0.8M213.2 296.7h0.8M213.4 281.4h0.8M213.6 286.1h0.8M213.8 285.9h0.8M214 290.3h0.8M214.2 289.3h0.8M214.3 291.9h0.8M214.5 278.5h0.8M214.7 287.7h0.8M214.9 282.4h0.8M215.1 280h0.8M215.3 284.4h0.8M215.4 274.6h0.8M215.6 271.5h0.8M215.8 278h0.8M216 272.2h0.8M216.2 274.9h0.8M216.4 278.4h0.8M216.5 277.2h0.8M216.7 281.7h0.8M216.9 272.8h0.8M217.1 265.8h0.8M217.3 268h0.8M217.4 263.2h0.8M217.6 263.5h0.8M217.8 269.5h0.8M218 263.4h0.8M218.2 256.1h0.8M218.4 266.6h0.8M218.5 261.6h0.8M218.7 262.3h0.8M218.9 259.8h0.8M219.1 260.7h0.8M219.3 256.6h0.8M219.5 260.6h0.8M219.6 255.4h0.8M219.8 253.7h0.8M220 252.2h0.8M220.2 241.9h0.8M220.4 246.2h0.8M220.6 244.1h0.8M220.7 245.3h0.8M220.9 235.7h0.8M221.1 248.1h0.8M221.3 239.5h0.8M221.5 231.8h0.8M221.7 228h0.8M221.8 233.4h0.8M222 232.9h0.8M222.2 228.6h0.8M222.4 231.1h0.8M222.6 226.4h0.8M222.8 230.9h0.8M222.9 223.7h0.8M223.1 226h0.8M223.3 230.2h0.8M223.5 237.1h0.8M223.7 219h0.8M223.9 220.9h0.8M224 218.4h0.8M224.2 225.8h0.8M224.4 216h0.8M224.6 219.1h0.8M224.8 221.4h0.8M225 213.4h0.8M225.1 216.8h0.8M225.3 219.2h0.8M225.5 211.3h0.8M225.7 214.5h0.8M225.9 219.5h0.8M226.1 222.2h0.8M226.2 220.6h0.8M226.4 212.9h0.8M226.6 219.2h0.8M226.8 225.5h0.8M227 224.6h0.8M227.2 221.9h0.8M227.3 218.5h0.8M227.5 228.7h0.8M227.7 221.4h0.8M227.9 215.3h0.8M228.1 221.8h0.8M228.3 233.3h0.8M228.4 228.1h0.8M228.6 233.4h0.8M228.8 226.4h0.8M229 234.2h0.8M229.2 227.8h0.8M229.4 230.4h0.8M229.5 244.6h0.8M229.7 237.5h0.8M229.9 232.5h0.8M230.1 235.6h0.8M230.3 239.6h0.8M230.5 243.8h0.8M230.6 237h0.8M230.8 232.3h0.8M231 240.4h0.8M231.2 243h0.8M231.4 244.6h0.8M231.6 251.3h0.8M231.7 247.8h0.8M231.9 251.2h0.8M232.1 243.4h0.8M232.3 253.5h0.8M232.5 266.8h0.8M232.7 255h0.8M232.8 253.5h0.8M233 254h0.8M233.2 262.3h0.8M233.4 250.9h0.8M233.6 255.5h0.8M233.8 259h0.8M233.9 261.1h0.8M234.1 256.7h0.8M234.3 260.9h0.8M234.5 259.2h0.8M234.7 261.9h0.8M234.9 261.7h0.8M235 258.1h0.8M235.2 264h0.8M235.4 269h0.8M235.6 261.8h0.8M235.8 265.9h0.8M236 270.8h0.8M236.1 264.2h0.8M236.3 270.6h0.8M236.5 266.1h0.8M236.7 276.6h0.8M236.9 282.6h0.8M237.1 282.2h0.8M237.2 273.4h0.8M237.4 278.4h0.8M237.6 276.5h0.8M237.8 277.3h0.8M238 284.3h0.8M238.2 272.8h0.8M238.3 283.7h0.8M238.5 279.8h0.8M238.7 286.8h0.8M238.9 282.4h0.8M239.1 279.5h0.8M239.3 284.3h0.8M239.4 287h0.8M239.6 284.7h0.8M239.8 287.4h0.8M240 283.8h0.8M240.2 277.8h0.8M240.4 291.2h0.8M240.5 291.1h0.8M240.7 289.9h0.8M240.9 289.8h0.8M241.1 294.5h0.8M241.3 288.9h0.8M241.4 288.5h0.8M241.6 291.3h0.8M241.8 297.6h0.8M242 287.6h0.8M242.2 298.8h0.8M242.4 291.9h0.8M242.5 290.5h0.8M242.7 300.8h0.8M242.9 295.8h0.8M243.1 291.4h0.8M243.3 295.8h0.8M243.5 301.6h0.8M243.6 303.2h0.8M243.8 297.1h0.8M244 301h0.8M244.2 302.7h0.8M244.4 297.7h0.8M244.6 302.3h0.8M244.7 301.2h0.8M244.9 299.6h0.8M245.1 300.3h0.8M245.3 303.1h0.8M245.5 303.4h0.8M245.7 301.5h0.8M245.8 302.6h0.8M246 309.3h0.8M246.2 306.2h0.8M246.4 309.4h0.8M246.6 311.2h0.8M246.8 309.3h0.8M246.9 316.6h0.8M247.1 304.8h0.8M247.3 311.9h0.8M247.5 308h0.8M247.7 317.2h0.8M247.9 317.1h0.8M248 303.2h0.8M248.2 307.6h0.8M248.4 314.6h0.8M248.6 315.5h0.8M248.8 315.8h0.8M249 313h0.8M249.1 315.5h0.8M249.3 316.6h0.8M249.5 314.1h0.8M249.7 318.6h0.8M249.9 306.1h0.8M250.1 317.6h0.8M250.2 311.3h0.8M250.4 319.3h0.8M250.6 314.9h0.8M250.8 312.6h0.8M251 317.7h0.8M251.2 312.9h0.8M251.3 313.1h0.8M251.5 310.7h0.8M251.7 316.9h0.8M251.9 319.1h0.8M252.1 321.3h0.8M252.3 316.6h0.8M252.4 321.7h0.8M252.6 317.9h0.8M252.8 317.6h0.8M253 320.3h0.8M253.2 325.2h0.8M253.4 317.1h0.8M253.5 317.6h0.8M253.7 318.1h0.8M253.9 319.1h0.8M254.1 315.5h0.8M254.3 323h0.8M254.5 317.7h0.8M254.6 321.1h0.8M254.8 316.3h0.8M255 321h0.8M255.2 321.2h0.8M255.4 318.2h0.8M255.6 327.7h0.8M255.7 321.5h0.8M255.9 327h0.8M256.1 324h0.8M256.3 317.9h0.8M256.5 319.1h0.8M256.7 322.4h0.8M256.8 321h0.8M257 321.1h0.8M257.2 319.9h0.8M257.4 314.2h0.8M257.6 320.3h0.8M257.8 312.8h0.8M257.9 322.8h0.8M258.1 318.7h0.8M258.3 318.9h0.8M258.5 320.9h0.8M258.7 322.8h0.8M258.9 316.4h0.8M259 315.3h0.8M259.2 315.2h0.8M259.4 314.4h0.8M259.6 318.6h0.8M259.8 328.4h0.8M260 318.4h0.8M260.1 325h0.8M260.3 313.8h0.8M260.5 323.9h0.8M260.7 321.6h0.8M260.9 322.7h0.8M261.1 326.7h0.8M261.2 334.5h0.8M261.4 324h0.8M261.6 323.9h0.8M261.8 319.8h0.8M262 325.9h0.8M262.2 322.9h0.8M262.3 327.1h0.8M262.5 323.9h0.8M262.7 330.8h0.8M262.9 316.9h0.8M263.1 323.4h0.8M263.3 328.1h0.8M263.4 323.6h0.8M263.6 322.1h0.8M263.8 324.2h0.8M264 320.2h0.8M264.2 326h0.8M264.4 341.4h0.8M264.5 330.2h0.8M264.7 321.9h0.8M264.9 322.9h0.8M265.1 323.7h0.8M265.3 330.3h0.8M265.4 321.3h0.8M265.6 324.1h0.8M265.8 330.2h0.8M266 330.2h0.8M266.2 325.6h0.8M266.4 322.9h0.8M266.5 321.4h0.8M266.7 324.6h0.8M266.9 318.9h0.8M267.1 330.1h0.8M267.3 324.9h0.8M267.5 329.1h0.8M267.6 334.3h0.8M267.8 331.7h0.8M268 323h0.8M268.2 330.6h0.8M268.4 331.7h0.8M268.6 324.5h0.8M268.7 323.8h0.8M268.9 326.9h0.8M269.1 321.4h0.8M269.3 332.9h0.8M269.5 318.4h0.8M269.7 323.2h0.8M269.8 326.4h0.8M270 326.5h0.8M270.2 328h0.8M270.4 328.4h0.8M270.6 326.6h0.8M270.8 331.7h0.8M270.9 319.4h0.8M271.1 327.4h0.8M271.3 324.7h0.8M271.5 327.9h0.8M271.7 328.3h0.8M271.9 324h0.8M272 325h0.8M272.2 330.4h0.8M272.4 328.8h0.8M272.6 324.9h0.8M272.8 335.1h0.8M273 336.1h0.8M273.1 322h0.8M273.3 328.6h0.8M273.5 343.4h0.8M273.7 330.4h0.8M273.9 328.3h0.8M274.1 326.1h0.8M274.2 325.4h0.8M274.4 326.7h0.8M274.6 325.4h0.8M274.8 330.3h0.8M275 326h0.8M275.2 325.8h0.8M275.3 323h0.8M275.5 327.3h0.8M275.7 324.1h0.8M275.9 326.8h0.8M276.1 331.4h0.8M276.3 328.9h0.8M276.4 329.4h0.8M276.6 329.8h0.8M276.8 327.7h0.8M277 327h0.8M277.2 326.3h0.8M277.4 330.3h0.8M277.5 323.4h0.8M277.7 332.5h0.8M277.9 327.6h0.8M278.1 322.7h0.8M278.3 325.7h0.8M278.5 325h0.8M278.6 328.5h0.8M278.8 324.8h0.8M279 331.8h0.8M279.2 324.6h0.8M279.4 319h0.8M279.6 324.7h0.8M279.7 319.9h0.8M279.9 327.2h0.8M280.1 331.3h0.8M280.3 329.7h0.8M280.5 322.3h0.8M280.7 324.4h0.8M280.8 333.8h0.8M281 328.3h0.8M281.2 327h0.8M281.4 330.9h0.8M281.6 336.1h0.8M281.8 331.7h0.8M281.9 327.3h0.8M282.1 328h0.8M282.3 328.9h0.8M282.5 324.2h0.8M282.7 322.5h0.8M282.9 326.6h0.8M283 322.7h0.8M283.2 326h0.8M283.4 326.5h0.8M283.6 334.8h0.8M283.8 322.7h0.8M284 325.4h0.8M284.1 325.1h0.8M284.3 327.3h0.8M284.5 329.5h0.8M284.7 323.6h0.8M284.9 322.3h0.8M285.1 319.1h0.8M285.2 321.6h0.8M285.4 326.9h0.8M285.6 324.9h0.8M285.8 320.8h0.8M286 323h0.8M286.2 324.3h0.8M286.3 325.9h0.8M286.5 321.6h0.8M286.7 322.6h0.8M286.9 316.5h0.8M287.1 318.8h0.8M287.3 329h0.8M287.4 314.4h0.8M287.6 320.2h0.8M287.8 323h0.8M288 320.5h0.8M288.2 318.6h0.8M288.4 321.1h0.8M288.5 321h0.8M288.7 320.5h0.8M288.9 313.4h0.8M289.1 319.7h0.8M289.3 316.7h0.8M289.4 317.6h0.8M289.6 320.3h0.8M289.8 321.6h0.8M290 322.3h0.8M290.2 316.7h0.8M290.4 321.8h0.8M290.5 322.5h0.8M290.7 322.1h0.8M290.9 322.8h0.8M291.1 316.7h0.8M291.3 316.3h0.8M291.5 319.8h0.8M291.6 311.1h0.8M291.8 316.9h0.8M292 313.7h0.8M292.2 314h0.8M292.4 308.4h0.8M292.6 311.4h0.8M292.7 314.4h0.8M292.9 317.5h0.8M293.1 317.6h0.8M293.3 313.2h0.8M293.5 312.4h0.8M293.7 309.7h0.8M293.8 314.1h0.8M294 311.3h0.8M294.2 314.3h0.8M294.4 318.4h0.8M294.6 311.2h0.8M294.8 301.3h0.8M294.9 305.2h0.8M295.1 304.9h0.8M295.3 305.7h0.8M295.5 315.2h0.8M295.7 310.8h0.8M295.9 303.8h0.8M296 312h0.8M296.2 314.1h0.8M296.4 307.6h0.8M296.6 306.2h0.8M296.8 307.3h0.8M297 309.5h0.8M297.1 310.6h0.8M297.3 312.5h0.8M297.5 312.5h0.8M297.7 312.2h0.8M297.9 312.7h0.8M298.1 309.9h0.8M298.2 301.2h0.8M298.4 306.6h0.8M298.6 308.3h0.8M298.8 305.5h0.8M299 310.6h0.8M299.2 305.7h0.8M299.3 303.6h0.8M299.5 313h0.8M299.7 310.2h0.8M299.9 308.7h0.8M300.1 311.8h0.8M300.3 312.6h0.8M300.4 310.2h0.8M300.6 299.8h0.8M300.8 307.1h0.8M301 308.4h0.8M301.2 306.7h0.8M301.4 311.7h0.8M301.5 316h0.8M301.7 308.6h0.8M301.9 307.9h0.8M302.1 320.4h0.8M302.3 311.2h0.8M302.5 308.6h0.8M302.6 314.5h0.8M302.8 315.5h0.8M303 311.4h0.8M303.2 317.4h0.8M303.4 312.8h0.8M303.6 311.4h0.8M303.7 315.8h0.8M303.9 318.4h0.8M304.1 313.3h0.8M304.3 317.2h0.8M304.5 315.8h0.8M304.7 327.1h0.8M304.8 314h0.8M305 322.2h0.8M305.2 317h0.8M305.4 316.9h0.8M305.6 322.3h0.8M305.8 323.6h0.8M305.9 322.9h0.8M306.1 319.6h0.8M306.3 316.3h0.8M306.5 315.3h0.8M306.7 320.9h0.8M306.9 321.4h0.8M307 324.7h0.8M307.2 321.2h0.8M307.4 323.8h0.8M307.6 325.7h0.8M307.8 320.8h0.8M308 314.9h0.8M308.1 316.2h0.8M308.3 315.4h0.8M308.5 327h0.8M308.7 318h0.8M308.9 326h0.8M309.1 323.8h0.8M309.2 328.2h0.8M309.4 325.8h0.8M309.6 321.8h0.8M309.8 321.7h0.8M310 323.2h0.8M310.2 323.5h0.8M310.3 321h0.8M310.5 323.1h0.8M310.7 333.6h0.8M310.9 317.3h0.8M311.1 324.7h0.8M311.3 320.6h0.8M311.4 324.8h0.8M311.6 327.4h0.8M311.8 324.3h0.8M312 327.5h0.8M312.2 318.9h0.8M312.4 329h0.8M312.5 322.9h0.8M312.7 327.5h0.8M312.9 326h0.8M313.1 315.9h0.8M313.3 322.8h0.8M313.5 326.5h0.8M313.6 331.5h0.8M313.8 326.9h0.8M314 326.9h0.8M314.2 320.8h0.8M314.4 331.4h0.8M314.5 332.8h0.8M314.7 326.3h0.8M314.9 325.4h0.8M315.1 320.3h0.8M315.3 329.6h0.8M315.5 336.4h0.8M315.6 329.1h0.8M315.8 331.1h0.8M316 328.5h0.8M316.2 322.9h0.8M316.4 331.5h0.8M316.6 322.1h0.8M316.7 325.9h0.8M316.9 327.7h0.8M317.1 330h0.8M317.3 328.3h0.8M317.5 328.2h0.8M317.7 324h0.8M317.8 322.1h0.8M318 327.1h0.8M318.2 324.3h0.8M318.4 322.2h0.8M318.6 322.4h0.8M318.8 325.2h0.8M318.9 320.3h0.8M319.1 318.7h0.8M319.3 321.2h0.8M319.5 327.9h0.8M319.7 328.7h0.8M319.9 334.6h0.8M320 321.8h0.8M320.2 324.9h0.8M320.4 330.7h0.8M320.6 326.7h0.8M320.8 326.3h0.8M321 338.2h0.8M321.1 326.4h0.8M321.3 320.5h0.8M321.5 322.9h0.8M321.7 329h0.8M321.9 329h0.8M322.1 322.9h0.8M322.2 324.4h0.8M322.4 331.4h0.8M322.6 330.2h0.8M322.8 325.8h0.8M323 330.5h0.8M323.2 330.4h0.8M323.3 321.9h0.8M323.5 327.3h0.8M323.7 330h0.8M323.9 326.5h0.8M324.1 320.8h0.8M324.3 327.6h0.8M324.4 331.5h0.8M324.6 334.5h0.8M324.8 320.9h0.8M325 338.4h0.8M325.2 324.8h0.8M325.4 332.5h0.8M325.5 333.5h0.8M325.7 332.7h0.8M325.9 329.7h0.8M326.1 324.9h0.8M326.3 331.5h0.8M326.5 326.6h0.8M326.6 320.1h0.8M326.8 339.5h0.8M327 331.8h0.8M327.2 335.9h0.8M327.4 323.7h0.8M327.6 334.6h0.8M327.7 335.1h0.8M327.9 334.9h0.8M328.1 329.2h0.8M328.3 324.9h0.8M328.5 328.6h0.8M328.7 321.3h0.8M328.8 323.1h0.8M329 329.6h0.8M329.2 325.7h0.8M329.4 328.7h0.8M329.6 328.9h0.8M329.8 336.3h0.8M329.9 334h0.8M330.1 329.1h0.8M330.3 333.6h0.8M330.5 326.4h0.8M330.7 328h0.8M330.9 332.5h0.8M331 324.7h0.8M331.2 328.2h0.8M331.4 324.4h0.8M331.6 329.6h0.8M331.8 335.1h0.8M332 326.4h0.8M332.1 330h0.8M332.3 325.9h0.8M332.5 324.9h0.8M332.7 324.6h0.8M332.9 334.4h0.8M333.1 337.6h0.8M333.2 330.8h0.8M333.4 326.4h0.8M333.6 331.6h0.8M333.8 327.8h0.8M334 331.9h0.8M334.2 330.8h0.8M334.3 330h0.8M334.5 331.1h0.8M334.7 326.8h0.8M334.9 327.4h0.8M335.1 322.6h0.8M335.3 327.3h0.8M335.4 323.7h0.8M335.6 328.3h0.8M335.8 325.3h0.8M336 329.1h0.8M336.2 330.4h0.8M336.4 323.6h0.8M336.5 325.8h0.8M336.7 325.3h0.8M336.9 331.4h0.8M337.1 334.8h0.8M337.3 331.7h0.8M337.5 327.3h0.8M337.6 333.9h0.8M337.8 323.1h0.8M338 334h0.8M338.2 326.1h0.8M338.4 318.4h0.8M338.5 338.1h0.8M338.7 334.1h0.8M338.9 324.7h0.8M339.1 329h0.8M339.3 327.6h0.8M339.5 328.7h0.8M339.6 322.9h0.8M339.8 325.8h0.8M340 329.9h0.8M340.2 329h0.8M340.4 332.5h0.8M340.6 328.4h0.8M340.7 336.6h0.8M340.9 325.5h0.8M341.1 329h0.8M341.3 321.1h0.8M341.5 323.5h0.8M341.7 332.8h0.8M341.8 324.5h0.8M342 329.8h0.8M342.2 327.7h0.8M342.4 324.1h0.8M342.6 326.6h0.8M342.8 325.9h0.8M342.9 326h0.8M343.1 330.4h0.8M343.3 330h0.8M343.5 325.5h0.8M343.7 324.3h0.8M343.9 328.5h0.8M344 326.8h0.8M344.2 331.1h0.8M344.4 336.9h0.8M344.6 330.3h0.8M344.8 327.1h0.8M345 326.5h0.8M345.1 324h0.8M345.3 323.7h0.8M345.5 323.3h0.8M345.7 325.4h0.8M345.9 325.2h0.8M346.1 329.4h0.8M346.2 325.2h0.8M346.4 325.8h0.8M346.6 319h0.8M346.8 332.4h0.8M347 328.2h0.8M347.2 332.7h0.8M347.3 329.1h0.8M347.5 335.3h0.8M347.7 325.1h0.8M347.9 328.5h0.8M348.1 335.6h0.8M348.3 321.3h0.8M348.4 332.9h0.8M348.6 331.7h0.8M348.8 327h0.8M349 328.1h0.8M349.2 329.9h0.8M349.4 322.7h0.8M349.5 326.6h0.8M349.7 321.7h0.8M349.9 322.3h0.8M350.1 322.4h0.8M350.3 324h0.8M350.5 325h0.8M350.6 325.9h0.8M350.8 318.8h0.8M351 331.3h0.8M351.2 328.1h0.8M351.4 326.3h0.8M351.6 322h0.8M351.7 322.9h0.8M351.9 325h0.8M352.1 324.3h0.8M352.3 316.3h0.8M352.5 325.2h0.8M352.7 333.1h0.8M352.8 315h0.8M353 325.5h0.8M353.2 322.9h0.8M353.4 320.9h0.8M353.6 326.3h0.8M353.8 316.5h0.8M353.9 321.3h0.8M354.1 326h0.8M354.3 319.6h0.8M354.5 317.4h0.8M354.7 320.3h0.8M354.9 318h0.8M355 325.4h0.8M355.2 315.9h0.8M355.4 322.5h0.8M355.6 314.3h0.8M355.8 321.4h0.8M356 318.3h0.8M356.1 308.7h0.8M356.3 318.3h0.8M356.5 314.1h0.8M356.7 316.3h0.8M356.9 323.6h0.8M357.1 313.3h0.8M357.2 313.3h0.8M357.4 322.6h0.8M357.6 317.4h0.8M357.8 322.6h0.8M358 317.8h0.8M358.2 313h0.8M358.3 316h0.8M358.5 320.7h0.8M358.7 319.4h0.8M358.9 315.7h0.8M359.1 315.7h0.8M359.3 314.9h0.8M359.4 313h0.8M359.6 322.4h0.8M359.8 314.9h0.8M360 310.4h0.8M360.2 312.8h0.8M360.4 317.3h0.8M360.5 316.8h0.8M360.7 313.8h0.8M360.9 311.7h0.8M361.1 314.2h0.8M361.3 307.7h0.8M361.5 309.1h0.8M361.6 317.1h0.8M361.8 312.2h0.8M362 315.4h0.8M362.2 318.7h0.8M362.4 316.5h0.8M362.5 314.2h0.8M362.7 322.3h0.8M362.9 316.8h0.8M363.1 313h0.8M363.3 319.2h0.8M363.5 316.1h0.8M363.6 311.4h0.8M363.8 315h0.8M364 314.3h0.8M364.2 307.5h0.8M364.4 314.5h0.8M364.6 314.2h0.8M364.7 313.8h0.8M364.9 309.4h0.8M365.1 314.4h0.8M365.3 315.8h0.8M365.5 316.5h0.8M365.7 311.9h0.8M365.8 318.8h0.8M366 311.9h0.8M366.2 315.9h0.8M366.4 321.8h0.8M366.6 314.4h0.8M366.8 315.2h0.8M366.9 321.3h0.8M367.1 316h0.8M367.3 316.5h0.8M367.5 318.7h0.8M367.7 322h0.8M367.9 310h0.8M368 315.4h0.8M368.2 314.9h0.8M368.4 314.8h0.8M368.6 315.9h0.8M368.8 316.1h0.8M369 321.4h0.8M369.1 313.9h0.8M369.3 320.2h0.8M369.5 321.3h0.8M369.7 317.2h0.8M369.9 320.5h0.8M370.1 326.1h0.8M370.2 321.2h0.8M370.4 317.6h0.8M370.6 319.7h0.8M370.8 316.6h0.8M371 321h0.8M371.2 323.2h0.8M371.3 316.9h0.8M371.5 319.1h0.8M371.7 324h0.8M371.9 318h0.8M372.1 320.5h0.8M372.3 316h0.8M372.4 316.7h0.8M372.6 317.8h0.8M372.8 327.6h0.8M373 318.1h0.8M373.2 317.7h0.8M373.4 317.5h0.8M373.5 318.9h0.8M373.7 321.8h0.8M373.9 320.1h0.8M374.1 326.9h0.8M374.3 320.1h0.8M374.5 324.5h0.8M374.6 320.2h0.8M374.8 321.3h0.8M375 313.8h0.8M375.2 318.5h0.8M375.4 318.7h0.8M375.6 318h0.8M375.7 311h0.8M375.9 322h0.8M376.1 317.3h0.8M376.3 317h0.8M376.5 317.6h0.8M376.7 317.7h0.8M376.8 319.9h0.8M377 313.7h0.8M377.2 314.9h0.8M377.4 319.3h0.8M377.6 318.7h0.8M377.8 316.7h0.8M377.9 316h0.8M378.1 312.8h0.8M378.3 317.7h0.8M378.5 322.2h0.8M378.7 313.9h0.8M378.9 323.3h0.8M379 320.8h0.8M379.2 316h0.8M379.4 320.4h0.8M379.6 312.1h0.8M379.8 311.1h0.8M380 312.7h0.8M380.1 315.8h0.8M380.3 316.1h0.8M380.5 315.3h0.8M380.7 317.5h0.8M380.9 309.3h0.8M381.1 318.8h0.8M381.2 311.7h0.8M381.4 314.4h0.8M381.6 315.3h0.8M381.8 312.5h0.8M382 311.6h0.8M382.2 312.9h0.8M382.3 316.5h0.8M382.5 318.6h0.8M382.7 318.4h0.8M382.9 312.6h0.8M383.1 313.3h0.8M383.3 312.8h0.8M383.4 317.7h0.8M383.6 308.5h0.8M383.8 320.4h0.8M384 314.1h0.8M384.2 312.9h0.8M384.4 316.9h0.8M384.5 319.4h0.8M384.7 316.8h0.8M384.9 319.3h0.8M385.1 315.9h0.8M385.3 319.8h0.8M385.5 319.8h0.8M385.6 314.8h0.8M385.8 320.4h0.8M386 315.6h0.8M386.2 315.3h0.8M386.4 311.5h0.8M386.5 313.8h0.8M386.7 317.6h0.8M386.9 309.9h0.8M387.1 317h0.8M387.3 316.8h0.8M387.5 315.6h0.8M387.6 306.4h0.8M387.8 314.1h0.8M388 316.8h0.8M388.2 311.5h0.8M388.4 314.6h0.8M388.6 305.5h0.8M388.7 316.6h0.8M388.9 311.6h0.8M389.1 317.2h0.8M389.3 307.2h0.8M389.5 316.4h0.8M389.7 313h0.8M389.8 318.8h0.8M390 310.3h0.8M390.2 311.4h0.8M390.4 321.8h0.8M390.6 310.5h0.8M390.8 310.9h0.8M390.9 312.4h0.8M391.1 309.6h0.8M391.3 317.7h0.8M391.5 319.6h0.8M391.7 310.7h0.8M391.9 306.9h0.8M392 317.5h0.8M392.2 317.2h0.8M392.4 318.2h0.8M392.6 317.3h0.8M392.8 309.9h0.8M393 312.4h0.8M393.1 307.9h0.8M393.3 307.8h0.8M393.5 319.1h0.8M393.7 310.5h0.8M393.9 321.4h0.8M394.1 313.3h0.8M394.2 310.7h0.8M394.4 316h0.8M394.6 324.3h0.8M394.8 314.9h0.8M395 308.7h0.8M395.2 314.5h0.8M395.3 318.3h0.8M395.5 311.5h0.8M395.7 310.5h0.8M395.9 317.1h0.8M396.1 314h0.8M396.3 309.5h0.8M396.4 312.2h0.8M396.6 310.9h0.8M396.8 314.8h0.8M397 314.2h0.8M397.2 318.1h0.8M397.4 316.5h0.8M397.5 308.3h0.8M397.7 315.6h0.8M397.9 317.5h0.8M398.1 317.1h0.8M398.3 318.1h0.8M398.5 312.4h0.8M398.6 311.1h0.8M398.8 320.4h0.8M399 310.8h0.8M399.2 306.9h0.8M399.4 321.3h0.8M399.6 312.4h0.8M399.7 314h0.8M399.9 310.1h0.8M400.1 310.4h0.8M400.3 308.2h0.8M400.5 314.1h0.8M400.7 316.9h0.8M400.8 307.3h0.8M401 318.5h0.8M401.2 311.5h0.8M401.4 312h0.8M401.6 318.4h0.8M401.8 315.8h0.8M401.9 310.6h0.8M402.1 322.9h0.8M402.3 313.2h0.8M402.5 317.3h0.8M402.7 317.8h0.8M402.9 321.7h0.8M403 315.1h0.8M403.2 320.5h0.8M403.4 314.3h0.8M403.6 321.1h0.8M403.8 314.4h0.8M404 315.9h0.8M404.1 324.2h0.8M404.3 319.4h0.8M404.5 318h0.8M404.7 325.8h0.8M404.9 319.1h0.8M405.1 315h0.8M405.2 320.7h0.8M405.4 313.9h0.8M405.6 322.3h0.8M405.8 322.7h0.8M406 316.4h0.8M406.2 316.4h0.8M406.3 319.4h0.8M406.5 318.9h0.8M406.7 315.5h0.8M406.9 321.1h0.8M407.1 311.9h0.8M407.3 317.8h0.8M407.4 318h0.8M407.6 318.6h0.8M407.8 320.8h0.8M408 315.4h0.8M408.2 322h0.8M408.4 319.4h0.8M408.5 316.2h0.8M408.7 315.4h0.8M408.9 316.1h0.8M409.1 321.8h0.8M409.3 317.1h0.8M409.5 320.9h0.8M409.6 324.6h0.8M409.8 324.6h0.8M410 326.6h0.8M410.2 320h0.8M410.4 317.3h0.8M410.5 324.9h0.8M410.7 322.5h0.8M410.9 328.3h0.8M411.1 321.6h0.8M411.3 325.9h0.8M411.5 324.8h0.8M411.6 324.4h0.8M411.8 323.7h0.8M412 324.4h0.8M412.2 323h0.8M412.4 323h0.8M412.6 325.8h0.8M412.7 319.3h0.8M412.9 333h0.8M413.1 322.2h0.8M413.3 326.1h0.8M413.5 322.4h0.8M413.7 321.9h0.8M413.8 330.1h0.8M414 321.9h0.8M414.2 318.5h0.8M414.4 320.6h0.8M414.6 322.1h0.8M414.8 330.9h0.8M414.9 324.1h0.8M415.1 326.8h0.8M415.3 320h0.8M415.5 324.9h0.8M415.7 326.1h0.8M415.9 330.2h0.8M416 321.4h0.8M416.2 326.1h0.8M416.4 325.1h0.8M416.6 320.5h0.8M416.8 324.2h0.8M417 323.4h0.8M417.1 316.2h0.8M417.3 326.6h0.8M417.5 326.5h0.8M417.7 323.1h0.8M417.9 320.1h0.8M418.1 330.1h0.8M418.2 325.9h0.8M418.4 328.6h0.8M418.6 330.1h0.8M418.8 323.4h0.8M419 328.2h0.8M419.2 324.6h0.8M419.3 325.3h0.8M419.5 325.4h0.8M419.7 325.8h0.8M419.9 329.8h0.8M420.1 326.7h0.8M420.3 325.6h0.8M420.4 325.3h0.8M420.6 327.5h0.8M420.8 323.3h0.8M421 324.8h0.8M421.2 326.5h0.8M421.4 324.9h0.8M421.5 326.5h0.8M421.7 325h0.8M421.9 334.2h0.8M422.1 332h0.8M422.3 329.1h0.8M422.5 327.5h0.8M422.6 335.5h0.8M422.8 329.2h0.8M423 328h0.8M423.2 329.5h0.8M423.4 329.7h0.8M423.6 333.7h0.8M423.7 329h0.8M423.9 336.5h0.8M424.1 326.4h0.8M424.3 332.1h0.8M424.5 326.4h0.8M424.7 336.4h0.8M424.8 329.1h0.8M425 330.3h0.8M425.2 333.9h0.8M425.4 335.2h0.8M425.6 327.2h0.8M425.8 330h0.8M425.9 326.6h0.8M426.1 332.1h0.8M426.3 331.4h0.8M426.5 330.7h0.8M426.7 329.7h0.8M426.9 330.9h0.8M427 329.8h0.8M427.2 334.3h0.8M427.4 337.9h0.8M427.6 326.2h0.8M427.8 332.6h0.8M428 331.7h0.8M428.1 335h0.8M428.3 330.2h0.8M428.5 333.2h0.8M428.7 330.3h0.8M428.9 336.3h0.8M429.1 334.4h0.8M429.2 333.7h0.8M429.4 335.6h0.8M429.6 333.6h0.8M429.8 329.3h0.8M430 336.7h0.8M430.2 335.8h0.8M430.3 334.3h0.8M430.5 338.3h0.8M430.7 339.1h0.8M430.9 331.3h0.8M431.1 332.3h0.8M431.3 340.3h0.8M431.4 339.8h0.8M431.6 332.5h0.8M431.8 331h0.8M432 332.8h0.8M432.2 333.3h0.8M432.4 329.6h0.8M432.5 335.1h0.8M432.7 330.6h0.8M432.9 330.9h0.8M433.1 338.1h0.8M433.3 332.7h0.8M433.5 334.7h0.8M433.6 337.1h0.8M433.8 337.7h0.8M434 333.8h0.8M434.2 335.1h0.8M434.4 332.1h0.8M434.5 345.1h0.8M434.7 337.2h0.8M434.9 331.2h0.8M435.1 334.9h0.8M435.3 337.3h0.8M435.5 336.5h0.8M435.6 341.1h0.8M435.8 339.6h0.8M436 333.1h0.8M436.2 334.6h0.8M436.4 330.5h0.8M436.6 335.7h0.8M436.7 335.7h0.8M436.9 344h0.8M437.1 335.2h0.8M437.3 327.7h0.8M437.5 332.5h0.8M437.7 335.2h0.8M437.8 330.5h0.8M438 331.9h0.8M438.2 333.6h0.8M438.4 336h0.8M438.6 334.2h0.8M438.8 331.8h0.8M438.9 337.4h0.8M439.1 332.9h0.8M439.3 333h0.8M439.5 330.1h0.8M439.7 332.1h0.8M439.9 336.9h0.8M440 329.2h0.8M440.2 334.5h0.8M440.4 337.1h0.8M440.6 333.4h0.8M440.8 336.1h0.8M441 330.9h0.8M441.1 339.1h0.8M441.3 338.4h0.8M441.5 335.4h0.8M441.7 328.7h0.8M441.9 331.1h0.8M442.1 337.9h0.8M442.2 340.4h0.8M442.4 335.6h0.8M442.6 338.8h0.8M442.8 332.5h0.8M443 333.9h0.8M443.2 334.6h0.8M443.3 336h0.8M443.5 329.4h0.8M443.7 337.7h0.8M443.9 339h0.8M444.1 330.6h0.8M444.3 329.9h0.8M444.4 335.7h0.8M444.6 330.7h0.8M444.8 326.5h0.8M445 337.2h0.8M445.2 335h0.8M445.4 332.9h0.8M445.5 341.6h0.8M445.7 334.9h0.8M445.9 331.9h0.8M446.1 334.8h0.8M446.3 330.9h0.8M446.5 331.8h0.8M446.6 335.7h0.8M446.8 332.5h0.8M447 332.9h0.8M447.2 340h0.8M447.4 337.3h0.8M447.6 337.1h0.8M447.7 336.1h0.8M447.9 336h0.8M448.1 339.3h0.8M448.3 334.3h0.8M448.5 340.6h0.8M448.7 331.1h0.8M448.8 333.4h0.8M449 329.6h0.8M449.2 333.1h0.8M449.4 336h0.8M449.6 339.2h0.8M449.8 332h0.8M449.9 334.3h0.8M450.1 333h0.8M450.3 331.7h0.8M450.5 330.2h0.8M450.7 334.4h0.8M450.9 328.3h0.8M451 334.8h0.8M451.2 334.2h0.8M451.4 331.9h0.8M451.6 330.7h0.8M451.8 329.5h0.8M452 340.5h0.8M452.1 329.6h0.8M452.3 339.4h0.8M452.5 336.1h0.8M452.7 332.9h0.8M452.9 330.2h0.8M453.1 337.6h0.8M453.2 339.9h0.8M453.4 330.9h0.8M453.6 333.1h0.8M453.8 337.6h0.8M454 335.2h0.8M454.2 340.8h0.8M454.3 332.1h0.8M454.5 337.1h0.8M454.7 329.8h0.8M454.9 341.1h0.8M455.1 331.6h0.8M455.3 326.6h0.8M455.4 333.6h0.8M455.6 333.5h0.8M455.8 340.5h0.8M456 332.1h0.8M456.2 334h0.8M456.4 336h0.8M456.5 339.4h0.8M456.7 333.6h0.8M456.9 337.5h0.8M457.1 335.7h0.8M457.3 333h0.8M457.5 334.3h0.8M457.6 334.1h0.8M457.8 330.9h0.8M458 338.1h0.8M458.2 329.3h0.8M458.4 337.9h0.8M458.6 337.2h0.8M458.7 333.7h0.8M458.9 331.4h0.8M459.1 333.2h0.8M459.3 335.6h0.8M459.5 336.5h0.8M459.6 335h0.8M459.8 337.3h0.8M460 332.1h0.8M460.2 335.3h0.8M460.4 328.7h0.8M460.6 338.4h0.8M460.7 334.5h0.8M460.9 332.6h0.8M461.1 337.9h0.8M461.3 336.3h0.8M461.5 324.5h0.8M461.7 334.1h0.8M461.8 329.1h0.8M462 337.6h0.8M462.2 342.4h0.8M462.4 332.3h0.8M462.6 334.3h0.8M462.8 333.2h0.8M462.9 335.2h0.8M463.1 336.2h0.8M463.3 338.3h0.8M463.5 330.7h0.8M463.7 339.3h0.8M463.9 330.9h0.8M464 334.9h0.8M464.2 337.9h0.8M464.4 336.4h0.8M464.6 330.8h0.8M464.8 331.6h0.8M465 331.4h0.8M465.1 333.8h0.8M465.3 337.9h0.8M465.5 326.6h0.8M465.7 335.6h0.8M465.9 336h0.8M466.1 337.2h0.8M466.2 335.6h0.8M466.4 342.7h0.8M466.6 335.6h0.8M466.8 336.9h0.8M467 335.9h0.8M467.2 340h0.8M467.3 327.6h0.8M467.5 338.3h0.8M467.7 332.5h0.8M467.9 333.1h0.8M468.1 330.7h0.8M468.3 327.7h0.8M468.4 332.7h0.8M468.6 331.7h0.8M468.8 335.7h0.8M469 329.1h0.8M469.2 338.8h0.8M469.4 334.9h0.8M469.5 333.2h0.8M469.7 331.6h0.8M469.9 331.4h0.8M470.1 330.2h0.8M470.3 332.2h0.8M470.5 334h0.8M470.6 333.4h0.8M470.8 329.3h0.8M471 333.1h0.8M471.2 331h0.8M471.4 334.5h0.8M471.6 340.2h0.8M471.7 336.1h0.8M471.9 333h0.8M472.1 328.6h0.8M472.3 329.3h0.8M472.5 328.4h0.8M472.7 336.4h0.8M472.8 331.4h0.8M473 334.2h0.8M473.2 331.9h0.8M473.4 334.3h0.8M473.6 338.7h0.8M473.8 331.7h0.8M473.9 332.9h0.8M474.1 331.3h0.8M474.3 336.9h0.8M474.5 330.6h0.8M474.7 330.2h0.8M474.9 329.4h0.8M475 329.3h0.8M475.2 335.6h0.8M475.4 342.6h0.8M475.6 330.7h0.8M475.8 337.2h0.8M476 334.8h0.8M476.1 330.3h0.8M476.3 333.1h0.8M476.5 333.2h0.8M476.7 331.7h0.8M476.9 340.5h0.8M477.1 327.6h0.8M477.2 335.3h0.8M477.4 335.1h0.8M477.6 330.7h0.8M477.8 334.5h0.8M478 336.9h0.8M478.2 334.5h0.8M478.3 335.4h0.8M478.5 336.3h0.8M478.7 327.2h0.8M478.9 338.9h0.8M479.1 341.6h0.8M479.3 337.3h0.8M479.4 337.4h0.8M479.6 329.3h0.8M479.8 333.6h0.8M480 331.3h0.8M480.2 332h0.8M480.4 337.2h0.8M480.5 331.3h0.8M480.7 333.6h0.8M480.9 327.6h0.8M481.1 333.1h0.8M481.3 334.3h0.8M481.5 331.7h0.8M481.6 331.6h0.8M481.8 340.3h0.8M482 330h0.8M482.2 330.5h0.8M482.4 331.3h0.8M482.6 338h0.8M482.7 341h0.8M482.9 335.1h0.8M483.1 331.6h0.8M483.3 332.6h0.8M483.5 337.5h0.8M483.6 331h0.8M483.8 338.8h0.8M484 338.7h0.8M484.2 334.2h0.8M484.4 336.2h0.8M484.6 336.5h0.8M484.7 339.2h0.8M484.9 330.5h0.8M485.1 337.9h0.8M485.3 331.9h0.8M485.5 331.4h0.8M485.7 334.3h0.8M485.8 333.3h0.8M486 330.7h0.8M486.2 328.7h0.8M486.4 330.9h0.8M486.6 338.8h0.8M486.8 340.5h0.8M486.9 336.2h0.8M487.1 337.9h0.8M487.3 332.3h0.8M487.5 333.7h0.8M487.7 334.9h0.8M487.9 330.4h0.8M488 330.7h0.8M488.2 334.3h0.8M488.4 332.2h0.8M488.6 330.5h0.8M488.8 336.2h0.8M489 333.1h0.8M489.1 337.4h0.8M489.3 334h0.8M489.5 333h0.8M489.7 334.4h0.8M489.9 333h0.8M490.1 331.8h0.8M490.2 332.7h0.8M490.4 336.5h0.8M490.6 337.6h0.8M490.8 338.3h0.8M491 328.4h0.8M491.2 332.7h0.8M491.3 332.6h0.8M491.5 334.6h0.8M491.7 332.5h0.8M491.9 332.3h0.8M492.1 336.6h0.8M492.3 334.6h0.8M492.4 330.1h0.8M492.6 338.4h0.8M492.8 337.3h0.8M493 332.1h0.8M493.2 336.8h0.8M493.4 331.6h0.8M493.5 337.7h0.8M493.7 333.3h0.8M493.9 331.3h0.8M494.1 331.9h0.8M494.3 331.5h0.8M494.5 334.6h0.8M494.6 334.6h0.8M494.8 334.1h0.8M495 332.2h0.8M495.2 321.9h0.8M495.4 334.3h0.8M495.6 327.7h0.8M495.7 334.8h0.8M495.9 337.7h0.8M496.1 334.9h0.8M496.3 332.7h0.8M496.5 333.4h0.8M496.7 333.6h0.8M496.8 332.2h0.8M497 332.1h0.8M497.2 330.9h0.8M497.4 337.9h0.8M497.6 333.9h0.8M497.8 337.2h0.8M497.9 333.2h0.8M498.1 334.2h0.8M498.3 333.4h0.8M498.5 335.5h0.8M498.7 336.7h0.8M498.9 334.8h0.8M499 331.8h0.8M499.2 331.4h0.8M499.4 339.5h0.8M499.6 333.1h0.8M499.8 333h0.8M500 338.8h0.8M500.1 337.6h0.8M500.3 337h0.8M500.5 332.6h0.8M500.7 341.7h0.8M500.9 335.2h0.8M501.1 335.7h0.8M501.2 333.3h0.8M501.4 329.2h0.8M501.6 329.4h0.8M501.8 335.1h0.8M502 336h0.8M502.2 332.9h0.8M502.3 329.8h0.8M502.5 328.9h0.8M502.7 332.6h0.8M502.9 328.8h0.8M503.1 336.5h0.8M503.3 337.4h0.8M503.4 342.9h0.8M503.6 336.4h0.8M503.8 331.5h0.8M504 330.5h0.8M504.2 322h0.8M504.4 331.3h0.8M504.5 332.7h0.8M504.7 338.7h0.8M504.9 335.2h0.8M505.1 336.4h0.8M505.3 333.8h0.8M505.5 335.2h0.8M505.6 337.8h0.8M505.8 329.4h0.8M506 331.4h0.8M506.2 328.3h0.8M506.4 338.2h0.8M506.6 337.1h0.8M506.7 337h0.8M506.9 328.7h0.8M507.1 333.2h0.8M507.3 331.8h0.8M507.5 332.8h0.8M507.6 331.9h0.8M507.8 334.2h0.8M508 330.2h0.8M508.2 335.2h0.8M508.4 333.1h0.8M508.6 331.3h0.8M508.7 331.8h0.8M508.9 330.7h0.8M509.1 334.8h0.8M509.3 331.2h0.8M509.5 333h0.8M509.7 330.7h0.8M509.8 327h0.8M510 334.9h0.8M510.2 328.3h0.8M510.4 334h0.8M510.6 334.1h0.8M510.8 326.2h0.8M510.9 328.5h0.8M511.1 329.9h0.8M511.3 328.8h0.8M511.5 327.6h0.8M511.7 335.6h0.8M511.9 330.6h0.8M512 332.6h0.8M512.2 329.8h0.8M512.4 332.2h0.8M512.6 328.6h0.8M512.8 331h0.8M513 332.9h0.8M513.1 331.1h0.8M513.3 329.4h0.8M513.5 327.2h0.8M513.7 331.3h0.8M513.9 331.8h0.8M514.1 329.8h0.8M514.2 328h0.8M514.4 332.3h0.8M514.6 338.6h0.8M514.8 329.4h0.8M515 331.4h0.8M515.2 331.5h0.8M515.3 321.7h0.8M515.5 330.5h0.8M515.7 327.7h0.8M515.9 334.6h0.8M516.1 329.1h0.8M516.3 327.3h0.8M516.4 328.6h0.8M516.6 330.3h0.8M516.8 327.9h0.8M517 329.5h0.8M517.2 325.1h0.8M517.4 328.8h0.8M517.5 332.1h0.8M517.7 336h0.8M517.9 331.8h0.8M518.1 330.3h0.8M518.3 333.2h0.8M518.5 332.6h0.8M518.6 334.7h0.8M518.8 332.7h0.8M519 328.7h0.8M519.2 329.9h0.8M519.4 329.6h0.8M519.6 329.9h0.8M519.7 329.5h0.8M519.9 326.2h0.8M520.1 321.8h0.8M520.3 326.4h0.8M520.5 321.9h0.8M520.7 328.8h0.8M520.8 328.5h0.8M521 322.9h0.8M521.2 330.7h0.8M521.4 331.2h0.8M521.6 328.6h0.8M521.8 333.8h0.8M521.9 334.4h0.8M522.1 324.2h0.8M522.3 331.6h0.8M522.5 329.6h0.8M522.7 329.5h0.8M522.9 331.2h0.8M523 325.7h0.8M523.2 326.1h0.8M523.4 325.3h0.8M523.6 325.5h0.8M523.8 327.4h0.8M524 323.2h0.8M524.1 324.5h0.8M524.3 331.3h0.8M524.5 327.8h0.8M524.7 329.3h0.8M524.9 321.8h0.8M525.1 325.4h0.8M525.2 326.2h0.8M525.4 328.1h0.8M525.6 326.1h0.8M525.8 331.2h0.8M526 327.9h0.8M526.2 328.1h0.8M526.3 328.1h0.8M526.5 330.5h0.8M526.7 326.6h0.8M526.9 331.9h0.8M527.1 329.7h0.8M527.3 328.7h0.8M527.4 328.4h0.8M527.6 330h0.8M527.8 331.6h0.8M528 331.4h0.8M528.2 329.5h0.8M528.4 331.2h0.8M528.5 328.7h0.8M528.7 332.5h0.8M528.9 328.3h0.8M529.1 321.6h0.8M529.3 332.9h0.8M529.5 328.9h0.8M529.6 324.7h0.8M529.8 327.9h0.8M530 323.6h0.8M530.2 335.6h0.8M530.4 330.3h0.8M530.6 323.5h0.8M530.7 330.5h0.8M530.9 327.5h0.8M531.1 335.1h0.8M531.3 325.4h0.8M531.5 321.5h0.8M531.6 329.1h0.8M531.8 327.8h0.8M532 327.6h0.8M532.2 322h0.8M532.4 330.5h0.8M532.6 334.7h0.8M532.7 323h0.8M532.9 333.2h0.8M533.1 327.6h0.8M533.3 337.3h0.8M533.5 331.1h0.8M533.7 329.2h0.8M533.8 333.5h0.8M534 331.8h0.8M534.2 328.2h0.8M534.4 332.6h0.8M534.6 328.8h0.8M534.8 324.7h0.8M534.9 337.4h0.8M535.1 329.8h0.8M535.3 329.1h0.8M535.5 332.3h0.8M535.7 326.3h0.8M535.9 327.1h0.8M536 330.1h0.8M536.2 330.2h0.8M536.4 332.3h0.8M536.6 335.8h0.8M536.8 330.8h0.8M537 334.1h0.8M537.1 334.6h0.8M537.3 329.3h0.8M537.5 334.2h0.8M537.7 330h0.8M537.9 336.7h0.8M538.1 334.8h0.8M538.2 333.6h0.8M538.4 326.3h0.8M538.6 334.2h0.8M538.8 329.8h0.8M539 336.5h0.8M539.2 334h0.8M539.3 330h0.8M539.5 337.7h0.8M539.7 337.2h0.8M539.9 333.1h0.8M540.1 338.9h0.8M540.3 334.4h0.8M540.4 334.5h0.8M540.6 336.1h0.8M540.8 333.4h0.8M541 334.5h0.8M541.2 335.6h0.8M541.4 341.2h0.8M541.5 341.2h0.8M541.7 335.7h0.8M541.9 341.8h0.8M542.1 336.6h0.8M542.3 338h0.8M542.5 339.7h0.8M542.6 337.9h0.8M542.8 344.8h0.8M543 337.8h0.8M543.2 333.3h0.8M543.4 341.4h0.8M543.6 335.9h0.8M543.7 335.6h0.8M543.9 327.7h0.8M544.1 340.6h0.8M544.3 340.1h0.8M544.5 340h0.8M544.7 340.7h0.8M544.8 343h0.8M545 337.4h0.8M545.2 340.7h0.8M545.4 335.3h0.8M545.6 336.6h0.8M545.8 341.2h0.8M545.9 339.1h0.8M546.1 333.6h0.8M546.3 339.1h0.8M546.5 337.4h0.8M546.7 335.4h0.8M546.9 339.4h0.8M547 336.8h0.8M547.2 333.1h0.8M547.4 334.6h0.8M547.6 343.9h0.8M547.8 333.4h0.8M548 339.5h0.8M548.1 341.7h0.8M548.3 340.4h0.8M548.5 334.5h0.8M548.7 337.4h0.8M548.9 338.9h0.8M549.1 341.1h0.8M549.2 336.5h0.8M549.4 334.8h0.8M549.6 341.8h0.8M549.8 342.2h0.8M550 339.9h0.8M550.2 336.8h0.8M550.3 340.1h0.8M550.5 339.1h0.8M550.7 341.5h0.8M550.9 334.8h0.8M551.1 339.2h0.8M551.3 338.4h0.8M551.4 335.4h0.8M551.6 339.6h0.8M551.8 339.1h0.8M552 337.7h0.8M552.2 340.3h0.8M552.4 334.5h0.8M552.5 338.9h0.8M552.7 340.5h0.8M552.9 340h0.8M553.1 342.6h0.8M553.3 335.3h0.8M553.5 334.4h0.8M553.6 340h0.8M553.8 340.7h0.8M554 346h0.8M554.2 341.2h0.8M554.4 336.5h0.8M554.6 341.9h0.8M554.7 336.6h0.8M554.9 334.6h0.8M555.1 347.7h0.8M555.3 340.4h0.8M555.5 341.7h0.8M555.6 341.2h0.8M555.8 345.2h0.8M556 340.3h0.8M556.2 343.3h0.8M556.4 336.1h0.8M556.6 335h0.8M556.7 344h0.8M556.9 344.2h0.8M557.1 341.1h0.8M557.3 340.2h0.8M557.5 340h0.8M557.7 337.3h0.8M557.8 344.4h0.8M558 341.6h0.8M558.2 341.1h0.8M558.4 340.7h0.8M558.6 342.8h0.8M558.8 341.1h0.8M558.9 341.9h0.8M559.1 335.8h0.8M559.3 341.1h0.8M559.5 346.5h0.8M559.7 337.8h0.8M559.9 339.1h0.8M560 342.3h0.8M560.2 342.5h0.8M560.4 341.5h0.8M560.6 334.3h0.8M560.8 341.1h0.8M561 335.7h0.8M561.1 336.8h0.8M561.3 341.2h0.8M561.5 338.5h0.8M561.7 342h0.8M561.9 349.5h0.8M562.1 341.9h0.8M562.2 341.7h0.8M562.4 336.5h0.8M562.6 337.3h0.8M562.8 336h0.8M563 337.7h0.8M563.2 335.9h0.8M563.3 337.2h0.8M563.5 338.7h0.8M563.7 336.1h0.8M563.9 334.8h0.8M564.1 334.9h0.8M564.3 340.7h0.8M564.4 339.4h0.8M564.6 342.5h0.8M564.8 342.5h0.8M565 338.1h0.8M565.2 341.3h0.8M565.4 334.6h0.8M565.5 351.5h0.8M565.7 342.9h0.8M565.9 338.4h0.8M566.1 335.4h0.8M566.3 340.3h0.8M566.5 333.1h0.8M566.6 336.6h0.8M566.8 341.4h0.8M567 339.2h0.8M567.2 337.4h0.8M567.4 342h0.8M567.6 335.6h0.8M567.7 339.8h0.8M567.9 337.3h0.8M568.1 336.2h0.8M568.3 340.3h0.8M568.5 335.7h0.8M568.7 344.9h0.8M568.8 336.9h0.8M569 345.1h0.8M569.2 335.3h0.8M569.4 340.6h0.8M569.6 334.9h0.8M569.8 334.4h0.8M569.9 339.2h0.8M570.1 340.8h0.8M570.3 334.6h0.8M570.5 342.3h0.8M570.7 336h0.8M570.9 339h0.8M571 339.7h0.8M571.2 340.4h0.8M571.4 332.8h0.8M571.6 343.6h0.8M571.8 340.2h0.8M572 337.1h0.8M572.1 335.1h0.8M572.3 333h0.8M572.5 334h0.8M572.7 340h0.8M572.9 337.2h0.8M573.1 334.7h0.8M573.2 336.6h0.8M573.4 343.2h0.8M573.6 337.2h0.8M573.8 335h0.8M574 342.4h0.8M574.2 339.6h0.8M574.3 338.2h0.8M574.5 336.2h0.8M574.7 333.1h0.8M574.9 334.3h0.8M575.1 336.5h0.8M575.3 337.3h0.8M575.4 339.1h0.8M575.6 339.7h0.8M575.8 338.6h0.8M576 339.1h0.8M576.2 334.7h0.8M576.4 331.1h0.8M576.5 336.2h0.8M576.7 334.8h0.8M576.9 335.8h0.8M577.1 336.9h0.8M577.3 333.8h0.8M577.5 334.2h0.8M577.6 337.2h0.8M577.8 338.1h0.8M578 335.6h0.8M578.2 339.3h0.8M578.4 337h0.8M578.6 334.4h0.8M578.7 337.8h0.8M578.9 343.6h0.8M579.1 335.5h0.8M579.3 341.3h0.8M579.5 341.9h0.8M579.6 342.3h0.8M579.8 335h0.8M580 343.9h0.8M580.2 337.9h0.8M580.4 336.7h0.8M580.6 336.8h0.8M580.7 339.4h0.8M580.9 337.6h0.8M581.1 336.9h0.8M581.3 344.3h0.8M581.5 335.2h0.8M581.7 334.1h0.8M581.8 339.9h0.8M582 339.6h0.8M582.2 340.9h0.8M582.4 334h0.8M582.6 340.8h0.8M582.8 340h0.8M582.9 342.9h0.8M583.1 333.4h0.8M583.3 338h0.8M583.5 336.4h0.8M583.7 332.3h0.8M583.9 335h0.8M584 340.8h0.8M584.2 335.8h0.8M584.4 335h0.8M584.6 340h0.8M584.8 340.4h0.8M585 342.5h0.8M585.1 334.7h0.8M585.3 337h0.8M585.5 340.5h0.8M585.7 335.1h0.8M585.9 333.2h0.8M586.1 339.8h0.8M586.2 342.1h0.8M586.4 333.5h0.8M586.6 329h0.8M586.8 332.6h0.8M587 333.9h0.8M587.2 336.7h0.8M587.3 339h0.8M587.5 336.6h0.8M587.7 334.9h0.8M587.9 337.6h0.8M588.1 334h0.8M588.3 336.9h0.8M588.4 335h0.8M588.6 345.5h0.8M588.8 339.6h0.8M589 334.4h0.8M589.2 333.9h0.8M589.4 335.6h0.8M589.5 331.8h0.8M589.7 334.7h0.8M589.9 334.7h0.8M590.1 339.7h0.8M590.3 335.6h0.8M590.5 334.5h0.8M590.6 332.7h0.8M590.8 333.2h0.8M591 336.7h0.8M591.2 336.2h0.8M591.4 340.5h0.8M591.6 334.9h0.8M591.7 340.2h0.8M591.9 337.7h0.8M592.1 336.9h0.8M592.3 330.6h0.8M592.5 332.8h0.8M592.7 339.2h0.8M592.8 341.2h0.8M593 337.5h0.8M593.2 339.2h0.8M593.4 334.6h0.8M593.6 335.6h0.8M593.8 334.7h0.8M593.9 339.8h0.8M594.1 337.9h0.8M594.3 336h0.8M594.5 335.7h0.8M594.7 338.5h0.8M594.9 337.8h0.8M595 334.1h0.8M595.2 342.1h0.8M595.4 337.5h0.8M595.6 336.7h0.8M595.8 341.3h0.8M596 339.9h0.8M596.1 336.4h0.8M596.3 338.4h0.8M596.5 333.3h0.8M596.7 334.7h0.8M596.9 329.6h0.8M597.1 340.5h0.8M597.2 330.7h0.8M597.4 338.8h0.8M597.6 334h0.8M597.8 333.6h0.8M598 336h0.8M598.2 337.4h0.8M598.3 339.9h0.8M598.5 342.1h0.8M598.7 337.7h0.8M598.9 339.3h0.8M599.1 334.7h0.8M599.3 338.8h0.8M599.4 337h0.8M599.6 335.1h0.8M599.8 336.2h0.8M600 336.3h0.8M600.2 337.1h0.8M600.4 337.8h0.8M600.5 334.9h0.8M600.7 334.2h0.8M600.9 338.8h0.8M601.1 331.2h0.8M601.3 334.5h0.8M601.5 341.3h0.8M601.6 328h0.8M601.8 334.3h0.8M602 338.6h0.8M602.2 331.3h0.8M602.4 344.5h0.8M602.6 328.3h0.8M602.7 340.9h0.8M602.9 341.3h0.8M603.1 339.3h0.8M603.3 335.7h0.8M603.5 337.5h0.8M603.7 333.6h0.8M603.8 338.9h0.8M604 332.9h0.8M604.2 335.5h0.8M604.4 341.6h0.8M604.6 332.9h0.8M604.7 335.2h0.8M604.9 336.8h0.8M605.1 332.1h0.8M605.3 339.9h0.8M605.5 337.4h0.8M605.7 331.6h0.8M605.8 336.1h0.8M606 333.9h0.8M606.2 334.2h0.8M606.4 336.5h0.8M606.6 334h0.8M606.8 339.2h0.8M606.9 334h0.8M607.1 339.3h0.8M607.3 336.1h0.8M607.5 338.9h0.8M607.7 334.5h0.8M607.9 334.6h0.8M608 332.6h0.8M608.2 338h0.8M608.4 339.1h0.8M608.6 342.8h0.8M608.8 340.2h0.8M609 336.9h0.8M609.1 335.5h0.8M609.3 337.3h0.8M609.5 336h0.8M609.7 340.7h0.8M609.9 341.1h0.8M610.1 333.5h0.8M610.2 332.4h0.8M610.4 340.3h0.8M610.6 337.7h0.8M610.8 335.3h0.8M611 339.7h0.8M611.2 334h0.8M611.3 335.2h0.8M611.5 334.6h0.8M611.7 329.9h0.8M611.9 338.7h0.8M612.1 332.2h0.8M612.3 334.2h0.8M612.4 333.7h0.8M612.6 338.2h0.8M612.8 335.8h0.8M613 336h0.8M613.2 330.7h0.8M613.4 335.7h0.8M613.5 331.4h0.8M613.7 336.9h0.8M613.9 337.1h0.8M614.1 335.9h0.8M614.3 342.2h0.8M614.5 337.5h0.8M614.6 337.7h0.8M614.8 336.3h0.8M615 335.3h0.8M615.2 338.9h0.8M615.4 339.3h0.8M615.6 331.8h0.8M615.7 339.1h0.8M615.9 337.4h0.8M616.1 338.8h0.8M616.3 337.3h0.8M616.5 332h0.8M616.7 332.2h0.8M616.8 341.5h0.8M617 336.6h0.8M617.2 331.4h0.8M617.4 336.9h0.8M617.6 334.7h0.8M617.8 330.1h0.8M617.9 328.7h0.8M618.1 330.8h0.8M618.3 336.6h0.8M618.5 335.6h0.8M618.7 335h0.8M618.9 336.6h0.8M619 337.6h0.8M619.2 329.2h0.8M619.4 334.8h0.8M619.6 333.1h0.8M619.8 331.9h0.8M620 334h0.8M620.1 335.3h0.8M620.3 334.8h0.8M620.5 331.2h0.8M620.7 334.2h0.8M620.9 341.9h0.8M621.1 332.4h0.8M621.2 330.4h0.8M621.4 336.5h0.8M621.6 337.5h0.8M621.8 337h0.8M622 332.1h0.8M622.2 338.7h0.8M622.3 333.2h0.8M622.5 332.1h0.8M622.7 333.7h0.8M622.9 335.2h0.8M623.1 337.8h0.8M623.3 337.5h0.8M623.4 335.5h0.8M623.6 340.4h0.8M623.8 335.8h0.8M624 338.3h0.8M624.2 331.2h0.8M624.4 330.7h0.8M624.5 339.6h0.8M624.7 331.2h0.8M624.9 334.6h0.8M625.1 335.2h0.8M625.3 334h0.8M625.5 334.1h0.8M625.6 339.8h0.8M625.8 327.7h0.8M626 340.1h0.8M626.2 342.5h0.8M626.4 335.5h0.8M626.6 335.4h0.8M626.7 337.7h0.8M626.9 341h0.8M627.1 331.7h0.8M627.3 335.7h0.8M627.5 334.8h0.8M627.7 337.1h0.8M627.8 335.9h0.8M628 337.4h0.8M628.2 334.1h0.8M628.4 335.5h0.8M628.6 333.3h0.8M628.7 333.3h0.8M628.9 334.6h0.8M629.1 334.9h0.8M629.3 331.7h0.8M629.5 340.1h0.8M629.7 334.9h0.8M629.8 331h0.8M630 341h0.8M630.2 333h0.8M630.4 336.8h0.8M630.6 335.2h0.8M630.8 336h0.8M630.9 335.8h0.8M631.1 333.5h0.8M631.3 335.3h0.8M631.5 341.5h0.8M631.7 328.3h0.8M631.9 335.4h0.8M632 337.5h0.8M632.2 331.9h0.8M632.4 331h0.8M632.6 341.8h0.8M632.8 334h0.8M633 341.5h0.8M633.1 336.8h0.8M633.3 335.4h0.8M633.5 336.6h0.8M633.7 337.1h0.8M633.9 338.7h0.8M634.1 336.5h0.8M634.2 335.9h0.8M634.4 335.6h0.8M634.6 339.2h0.8M634.8 337.6h0.8M635 332h0.8M635.2 333.1h0.8M635.3 336.1h0.8M635.5 333.2h0.8M635.7 333.9h0.8M635.9 332.1h0.8M636.1 334.3h0.8M636.3 336.3h0.8M636.4 338.1h0.8M636.6 335.1h0.8M636.8 341.4h0.8M637 334.8h0.8M637.2 344.8h0.8M637.4 338.1h0.8M637.5 336.5h0.8M637.7 333.5h0.8M637.9 326.4h0.8M638.1 334.5h0.8M638.3 335.6h0.8M638.5 340.9h0.8M638.6 330.8h0.8M638.8 340.8h0.8M639 334.2h0.8M639.2 337.2h0.8M639.4 327.2h0.8M639.6 335.7h0.8M639.7 333.9h0.8M639.9 337.1h0.8M640.1 335.3h0.8M640.3 331.5h0.8M640.5 337.9h0.8M640.7 337.1h0.8M640.8 336.9h0.8M641 338.1h0.8M641.2 338.4h0.8M641.4 335h0.8M641.6 330.9h0.8M641.8 330.9h0.8M641.9 339.3h0.8M642.1 337.3h0.8M642.3 335.5h0.8M642.5 333.9h0.8M642.7 335.3h0.8M642.9 335.3h0.8M643 334.3h0.8M643.2 333.2h0.8M643.4 342h0.8M643.6 336.1h0.8M643.8 333.6h0.8M644 331.5h0.8M644.1 333.3h0.8M644.3 337.8h0.8M644.5 337.9h0.8M644.7 335h0.8M644.9 335.9h0.8M645.1 334.8h0.8M645.2 332.4h0.8M645.4 339.8h0.8M645.6 337h0.8M645.8 343.5h0.8M646 333.7h0.8M646.2 335.6h0.8M646.3 338.8h0.8M646.5 335.4h0.8M646.7 332h0.8M646.9 333.4h0.8M647.1 336.6h0.8M647.3 337.4h0.8M647.4 336.1h0.8M647.6 339.5h0.8M647.8 339.5h0.8M648 337.6h0.8M648.2 336.7h0.8M648.4 335.9h0.8M648.5 338.4h0.8M648.7 339.6h0.8M648.9 337.1h0.8M649.1 338.2h0.8M649.3 335.9h0.8M649.5 332.7h0.8M649.6 334h0.8M649.8 339.4h0.8M650 338.5h0.8M650.2 342h0.8M650.4 337.4h0.8M650.6 339.9h0.8M650.7 341.3h0.8M650.9 340.4h0.8M651.1 335.5h0.8M651.3 336.9h0.8M651.5 337.9h0.8M651.7 334.5h0.8M651.8 339h0.8M652 340.7h0.8M652.2 336.2h0.8M652.4 343.7h0.8M652.6 336.8h0.8M652.7 337.1h0.8M652.9 337.1h0.8M653.1 335.7h0.8M653.3 339.1h0.8M653.5 338h0.8M653.7 346.5h0.8M653.8 339.8h0.8M654 339.7h0.8M654.2 337.4h0.8M654.4 333.8h0.8M654.6 337.9h0.8M654.8 335.6h0.8M654.9 341.1h0.8M655.1 338.2h0.8M655.3 343.4h0.8M655.5 340.6h0.8M655.7 340.9h0.8M655.9 339.2h0.8M656 339.1h0.8M656.2 340.5h0.8M656.4 341.4h0.8M656.6 336.5h0.8M656.8 341.2h0.8M657 346.6h0.8M657.1 338.5h0.8M657.3 338h0.8M657.5 336.7h0.8M657.7 334.5h0.8M657.9 342.5h0.8M658.1 339.1h0.8M658.2 340.5h0.8M658.4 344.6h0.8M658.6 346.6h0.8M658.8 336.4h0.8M659 342.3h0.8M659.2 341h0.8M659.3 340.4h0.8M659.5 340.7h0.8M659.7 339.2h0.8M659.9 344.1h0.8M660.1 341.2h0.8M660.3 340.4h0.8M660.4 343.1h0.8M660.6 342.1h0.8M660.8 340.8h0.8M661 340.4h0.8M661.2 344.8h0.8M661.4 341h0.8M661.5 339.2h0.8M661.7 336.9h0.8M661.9 338.5h0.8M662.1 336.4h0.8M662.3 339.9h0.8M662.5 340.4h0.8M662.6 333.4h0.8M662.8 339.7h0.8M663 341.6h0.8M663.2 340.2h0.8M663.4 336.8h0.8M663.6 343.6h0.8M663.7 337.6h0.8M663.9 336.1h0.8M664.1 336.5h0.8M664.3 339.8h0.8M664.5 342.8h0.8M664.7 343.4h0.8M664.8 340.5h0.8M665 336.3h0.8M665.2 337.9h0.8M665.4 337.2h0.8M665.6 339.4h0.8M665.8 334.6h0.8M665.9 340.6h0.8M666.1 341.9h0.8M666.3 339.6h0.8M666.5 341.4h0.8M666.7 337.2h0.8M666.9 335.7h0.8M667 338.2h0.8M667.2 343.6h0.8M667.4 343.2h0.8M667.6 338.8h0.8M667.8 343.8h0.8M668 339.2h0.8M668.1 344.7h0.8M668.3 341.7h0.8M668.5 338.9h0.8M668.7 344.3h0.8M668.9 337.9h0.8M669.1 337.4h0.8M669.2 335.9h0.8M669.4 341.1h0.8M669.6 340.2h0.8M669.8 340.1h0.8M670 339.1h0.8M670.2 344.7h0.8M670.3 339.1h0.8M670.5 338.2h0.8M670.7 344.1h0.8M670.9 344.7h0.8M671.1 341.4h0.8M671.3 335.2h0.8M671.4 338.6h0.8M671.6 342.3h0.8M671.8 340.5h0.8M672 345.1h0.8M672.2 336.4h0.8M672.4 342.5h0.8M672.5 338.6h0.8M672.7 344.5h0.8M672.9 340.3h0.8M673.1 343.6h0.8M673.3 338.6h0.8M673.5 336.3h0.8M673.6 337.2h0.8M673.8 337.5h0.8M674 337.5h0.8M674.2 344.2h0.8M674.4 344.6h0.8M674.6 341.4h0.8M674.7 337.5h0.8M674.9 340.2h0.8M675.1 338.5h0.8M675.3 345h0.8M675.5 341.5h0.8M675.7 342.1h0.8M675.8 339.4h0.8M676 334.6h0.8M676.2 338.3h0.8" stroke="#000" stroke-width="1.9"/>
<path d="M72.2 187.1l0.2 5.9l0.2 -8.3l0.1 5l0.2 -4.7l0.2 5.5l0.2 -7.5l0.2 11.4l0.2 -18.9l0.1 4.7l0.2 15.8l0.2 -7l0.2 -6.9l0.2 15.6l0.2 -4.8l0.1 0.3l0.2 -6.5l0.2 4.4l0.2 -0.4l0.2 -9.2l0.2 9.6l0.1 -3.3l0.2 6.3l0.2 0.1l0.2 -8.2l0.2 0.2l0.2 3.4l0.1 2l0.2 -4.5l0.2 1.3l0.2 3.1l0.2 -0.8l0.2 3.1l0.1 -3.8l0.2 -4.8l0.2 -3.7l0.2 11l0.2 -4.8l0.2 -0.1l0.1 0.3l0.2 -5.4l0.2 5l0.2 -9.3l0.2 9.3l0.2 -2l0.1 11.6l0.2 -5.9l0.2 -2.7l0.2 2.2l0.2 1.8l0.2 -6.3l0.1 2.3l0.2 -0.5l0.2 12l0.2 -10.1l0.2 -8.6l0.2 11.7l0.1 7.5l0.2 -14.9l0.2 18.8l0.2 -15l0.2 4.6l0.2 -6.6l0.1 1.3l0.2 -4.1l0.2 0.8l0.2 -4.6l0.2 13.9l0.2 -9.6l0.1 6.4l0.2 -0.1l0.2 -4.1l0.2 2.9l0.2 -0.6l0.2 -1.6l0.1 2.3l0.2 0l0.2 -4.4l0.2 -1.2l0.2 1.9l0.2 4.1l0.1 5.4l0.2 0.3l0.2 -4.8l0.2 2.7l0.2 -2.9l0.2 3.6l0.1 -4.1l0.2 1.2l0.2 -2.9l0.2 1.2l0.2 8.1l0.2 -13l0.1 5l0.2 -2.4l0.2 6.5l0.2 3.6l0.2 -8.9l0.2 -10.3l0.1 14.3l0.2 0l0.2 -9.6l0.2 6l0.2 0.8l0.2 -9.4l0.1 12.5l0.2 -0.9l0.2 -0.8l0.2 -5.5l0.2 1.5l0.2 0.4l0.1 4.6l0.2 -6.1l0.2 10.3l0.2 -4.5l0.2 -10.7l0.2 16.2l0.1 -6.4l0.2 -2.9l0.2 2.7l0.2 -8l0.2 8.4l0.2 -11l0.1 6l0.2 10l0.2 -0.4l0.2 -6.7l0.2 -2.6l0.2 8l0.1 -4.1l0.2 1.9l0.2 0.9l0.2 -7.1l0.2 7.9l0.1 -18.2l0.2 25.4l0.2 -17l0.2 3.9l0.2 -0.1l0.2 5.8l0.1 0.1l0.2 -1.6l0.2 2.5l0.2 -2l0.2 -2.3l0.2 -7.6l0.1 -1.6l0.2 0l0.2 9.4l0.2 -0.7l0.2 0.3l0.2 1.6l0.1 -1.9l0.2 -3.2l0.2 -2.1l0.2 -1.6l0.2 13l0.2 -1.3l0.1 -9.4l0.2 4.5l0.2 4.4l0.2 3.4l0.2 -9.1l0.2 3.2l0.1 4.1l0.2 -12l0.2 4.2l0.2 2.9l0.2 -2.8l0.2 11.8l0.1 -5.2l0.2 -2.8l0.2 -4.8l0.2 7.6l0.2 -0.9l0.2 -4.8l0.1 0.4l0.2 -4.3l0.2 5.8l0.2 3.9l0.2 0.6l0.2 -1.8l0.1 1.1l0.2 -5.9l0.2 0.5l0.2 7l0.2 -3.1l0.2 -5.2l0.1 5.4l0.2 1.4l0.2 -0.5l0.2 -2.5l0.2 -2.6l0.2 3.8l0.1 5.4l0.2 -6.4l0.2 -3.3l0.2 4.1l0.2 -6.4l0.2 6l0.1 -2.2l0.2 5.2l0.2 -3.5l0.2 7l0.2 2.1l0.2 -10.3l0.1 -2.6l0.2 5.4l0.2 -2.3l0.2 1l0.2 -3l0.2 4.7l0.1 -2l0.2 -15.2l0.2 14l0.2 2.4l0.2 3.5l0.2 -7.2l0.1 -0.9l0.2 8l0.2 -7.2l0.2 3.3l0.2 1.2l0.2 1.1l0.1 -3l0.2 -4.6l0.2 8.7l0.2 -5.9l0.2 -0.3l0.2 10.3l0.1 -4.5l0.2 -7.9l0.2 1l0.2 2.3l0.2 -2l0.2 -4.7l0.1 11.1l0.2 -0.1l0.2 -2.2l0.2 -2.6l0.2 2.5l0.2 3.7l0.1 -8.7l0.2 2.9l0.2 -0.9l0.2 5.1l0.2 -1.7l0.2 -6.3l0.1 2.8l0.2 9.7l0.2 -11.1l0.2 4.6l0.2 -3.1l0.2 7.6l0.1 -5.3l0.2 -1.5l0.2 -2.9l0.2 3.8l0.2 4.4l0.2 -0.6l0.1 -8l0.2 11.6l0.2 -7.2l0.2 -3.2l0.2 4.8l0.1 -3l0.2 0.2l0.2 -0.1l0.2 2.2l0.2 -1.6l0.2 -9.5l0.1 13.7l0.2 -4.1l0.2 6.9l0.2 -2.6l0.2 0.4l0.2 -1.2l0.1 4l0.2 -6.4l0.2 -2.6l0.2 5.3l0.2 -12.1l0.2 9.4l0.1 2.4l0.2 -2.5l0.2 6.7l0.2 -2.1l0.2 -2.3l0.2 -3l0.1 7l0.2 -6.9l0.2 1.1l0.2 4.6l0.2 -0.5l0.2 5.7l0.1 -8.8l0.2 -6.5l0.2 10l0.2 2.4l0.2 -5.5l0.2 6.8l0.1 1l0.2 -9.6l0.2 0.8l0.2 -2.9l0.2 7l0.2 2.8l0.1 -2.4l0.2 -7.1l0.2 1.9l0.2 -2.6l0.2 -0.6l0.2 1.1l0.1 -0.9l0.2 5.5l0.2 2.5l0.2 0.8l0.2 -2.5l0.2 -2.4l0.1 2.6l0.2 2.3l0.2 -3.3l0.2 1.4l0.2 -1.3l0.2 -0.8l0.1 2.2l0.2 -4.4l0.2 8.4l0.2 -10l0.2 7.8l0.2 -6.9l0.1 11.1l0.2 -2.5l0.2 -6.4l0.2 1.5l0.2 -2.6l0.2 4.2l0.1 1.8l0.2 8.3l0.2 -15l0.2 10l0.2 -6.9l0.2 3.3l0.1 2.3l0.2 -1.2l0.2 -0.4l0.2 -2.4l0.2 0.8l0.2 0.6l0.1 4.1l0.2 -10.1l0.2 3.7l0.2 -2.8l0.2 1.1l0.2 0.6l0.1 7.2l0.2 4l0.2 -2.9l0.2 -9.6l0.2 4.7l0.2 -7.5l0.1 9l0.2 3.1l0.2 -2.5l0.2 1l0.2 -3.8l0.2 -6.9l0.1 0l0.2 7.1l0.2 2.6l0.2 2.6l0.2 -6.1l0.2 1.6l0.1 0.7l0.2 3l0.2 -4.3l0.2 -3.8l0.2 8.2l0.2 -2.6l0.1 -0.1l0.2 -6.2l0.2 4.8l0.2 -6.5l0.2 -1.1l0.2 6.7l0.1 -0.7l0.2 5.2l0.2 1.8l0.2 -5.5l0.2 6.8l0.2 -8.9l0.1 5.1l0.2 -7.7l0.2 5.3l0.2 -1.7l0.2 0.4l0.1 4.6l0.2 -10.9l0.2 7.5l0.2 -3.5l0.2 3.5l0.2 1.1l0.1 -2.9l0.2 0l0.2 -6l0.2 9.5l0.2 -6.4l0.2 6l0.1 -7.1l0.2 10.5l0.2 -8.9l0.2 8.1l0.2 -6l0.2 3.7l0.1 -2.6l0.2 3.1l0.2 -2.5l0.2 8.1l0.2 -5.6l0.2 0l0.1 3.7l0.2 -8.8l0.2 7.4l0.2 -4.6l0.2 -5.8l0.2 7.4l0.1 -2.6l0.2 7.1l0.2 -8.2l0.2 2.1l0.2 0.6l0.2 -7.9l0.1 9l0.2 -5.6l0.2 8.9l0.2 1l0.2 -6.3l0.2 -5.9l0.1 6.6l0.2 0l0.2 2l0.2 -3.7l0.2 -3.4l0.2 3.9l0.1 -2.9l0.2 10.1l0.2 -9.3l0.2 0.2l0.2 2.3l0.2 -4.5l0.1 3l0.2 1.1l0.2 -1.3l0.2 0.9l0.2 5.6l0.2 -1.9l0.1 -7.7l0.2 3.3l0.2 4.4l0.2 -5.2l0.2 2.9l0.2 -0.6l0.1 2.1l0.2 -2.7l0.2 0.2l0.2 -2.7l0.2 4.5l0.2 -4.7l0.1 9.8l0.2 -6.5l0.2 -0.8l0.2 3.8l0.2 -3.3l0.2 0.5l0.1 -0.6l0.2 -2.6l0.2 -3.2l0.2 1.3l0.2 11.5l0.2 -9.7l0.1 0.7l0.2 -0.3l0.2 4.1l0.2 4.7l0.2 -11l0.2 5.3l0.1 -1.7l0.2 -1.8l0.2 2.9l0.2 -6.8l0.2 7.8l0.2 -1.9l0.1 -5.4l0.2 9.6l0.2 -3l0.2 0.9l0.2 -10.2l0.2 4.3l0.1 -1.2l0.2 5.8l0.2 0.9l0.2 -12.7l0.2 7.2l0.2 -0.7l0.1 4.2l0.2 -4.1l0.2 -4.8l0.2 4.2l0.2 -3.2l0.2 1.1l0.1 3.3l0.2 -1.9l0.2 3.2l0.2 -6.7l0.2 14.9l0.2 -0.4l0.1 -5.1l0.2 -7.4l0.2 -2.9l0.2 5.2l0.2 2.6l0.2 9.5l0.1 -3.2l0.2 -8l0.2 8l0.2 0.2l0.2 -4.4l0.2 4.6l0.1 -3.2l0.2 -3.6l0.2 -1.8l0.2 4l0.2 4.2l0.1 -8.6l0.2 -5l0.2 12.2l0.2 -11.9l0.2 16.8l0.2 -8.3l0.1 4.4l0.2 4.2l0.2 -12l0.2 1.5l0.2 12.2l0.2 -9.2l0.1 0.6l0.2 1.4l0.2 3.1l0.2 1.1l0.2 -4.4l0.2 -1.6l0.1 1.1l0.2 1.4l0.2 3.7l0.2 -4.2l0.2 6.2l0.2 -9.7l0.1 5.1l0.2 4.5l0.2 -1.7l0.2 -3.4l0.2 -4.3l0.2 0.6l0.1 2.1l0.2 1.7l0.2 -2.6l0.2 -3.7l0.2 2.6l0.2 4.6l0.1 1.1l0.2 -8l0.2 3.7l0.2 -4.7l0.2 4l0.2 14.9l0.1 -12.6l0.2 -1.4l0.2 -0.9l0.2 -2.3l0.2 -2.3l0.2 6.5l0.1 -0.8l0.2 6.3l0.2 -11.2l0.2 7.4l0.2 3.2l0.2 -11.9l0.1 9.4l0.2 -8.2l0.2 7.7l0.2 3.4l0.2 -5.4l0.2 1.1l0.1 -3.6l0.2 3.5l0.2 3l0.2 -4.8l0.2 0.1l0.2 1.9l0.1 1.5l0.2 -8.9l0.2 6.1l0.2 -2.8l0.2 4.2l0.2 1.9l0.1 -2.6l0.2 3.5l0.2 -8.4l0.2 2.1l0.2 -2.2l0.2 3.8l0.1 0.1l0.2 -1.2l0.2 -3.7l0.2 4l0.2 -1.3l0.2 3.7l0.1 -3.2l0.2 5.1l0.2 -3.4l0.2 -7.7l0.2 6.1l0.2 -4.7l0.1 8.7l0.2 1.6l0.2 -5.3l0.2 1.6l0.2 -6.9l0.2 -3l0.1 6.1l0.2 1l0.2 -4.6l0.2 5.8l0.2 0.7l0.2 1.2l0.1 3.2l0.2 -2.7l0.2 -4.4l0.2 1.7l0.2 1.7l0.2 -6l0.1 8.6l0.2 -1.6l0.2 -4.2l0.2 -1.5l0.2 16.2l0.2 -10.9l0.1 0.3l0.2 7.7l0.2 -7.6l0.2 -2.9l0.2 1.8l0.2 -6l0.1 6l0.2 -8.3l0.2 7.1l0.2 0.5l0.2 -7.8l0.2 12.8l0.1 -11.3l0.2 8l0.2 -5.8l0.2 3.1l0.2 -3.6l0.1 11.6l0.2 -5.4l0.2 2.9l0.2 -3.8l0.2 -0.3l0.2 -2l0.1 -1.4l0.2 3.1l0.2 -1.6l0.2 -1.2l0.2 -4.4l0.2 3.9l0.1 3.3l0.2 -5l0.2 4.1l0.2 -1.7l0.2 -3.3l0.2 0.5l0.1 0.6l0.2 1l0.2 0.8l0.2 5.1l0.2 -8.1l0.2 -3.5l0.1 10l0.2 -4.1l0.2 1.2l0.2 9.8l0.2 -3.9l0.2 -3.2l0.1 1.3l0.2 -2.6l0.2 2.7l0.2 -5.7l0.2 -0.4l0.2 1l0.1 7.4l0.2 0l0.2 -7.9l0.2 6.5l0.2 -4.8l0.2 7.3l0.1 -7.9l0.2 4.7l0.2 -3.9l0.2 -0.6l0.2 1l0.2 0.6l0.1 -2.6l0.2 -2.9l0.2 11.1l0.2 -7.5l0.2 -5.2l0.2 -1.6l0.1 -2l0.2 8l0.2 7.2l0.2 -10.9l0.2 4.7l0.2 -5.6l0.1 10.7l0.2 -2.8l0.2 -0.3l0.2 3.7l0.2 0.9l0.2 -2.3l0.1 -6.1l0.2 -2.9l0.2 0.9l0.2 -2.8l0.2 12.9l0.2 -7.5l0.1 1l0.2 0l0.2 11.9l0.2 -15.1l0.2 6.3l0.2 -3.5l0.1 -1.9l0.2 -6.8l0.2 10.3l0.2 -6.5l0.2 0.8l0.2 2.2l0.1 -0.8l0.2 3.5l0.2 -7.2l0.2 2.8l0.2 0l0.2 -1.4l0.1 2.1l0.2 -4.1l0.2 5.2l0.2 -7.9l0.2 -3.3l0.2 4.9l0.1 4.2l0.2 -7.1l0.2 -1l0.2 0.5l0.2 1.5l0.2 -2l0.1 2.3l0.2 -9.9l0.2 12.3l0.2 -4.5l0.2 -6.7l0.2 8.3l0.1 -4.6l0.2 3.4l0.2 -12l0.2 11l0.2 -7.7l0.2 -9.9l0.1 11.1l0.2 -5.4l0.2 -4l0.2 2.6l0.2 -8.5l0.2 12.2l0.1 -6.3l0.2 -1.1l0.2 6.7l0.2 -7l0.2 -5.9l0.2 -0.2l0.1 3.2l0.2 4.3l0.2 -8.4l0.2 -3l0.2 8.3l0.1 -4.8l0.2 -1.2l0.2 9.2l0.2 -16.4l0.2 6l0.2 -10.1l0.1 6.3l0.2 3.7l0.2 2l0.2 -12.2l0.2 9.6l0.2 -0.8l0.1 -5l0.2 12.2l0.2 -12.6l0.2 -4.8l0.2 6.1l0.2 -11.6l0.1 16.8l0.2 -3.1l0.2 -7.1l0.2 4.9l0.2 -0.6l0.2 6.9l0.1 -12.8l0.2 -3.4l0.2 -3.7l0.2 8.7l0.2 -6.2l0.2 7l0.1 3.1l0.2 -4l0.2 -2.3l0.2 10.8l0.2 -6.7l0.2 2.5l0.1 3.9l0.2 -10.5l0.2 2.4l0.2 17.2l0.2 -12.7l0.2 -3.3l0.1 4.3l0.2 -1l0.2 -2.7l0.2 4.5l0.2 2.4l0.2 0.5l0.1 3.2l0.2 -10.2l0.2 1.6l0.2 11.3l0.2 -5.3l0.2 8.3l0.1 -3.7l0.2 -7.4l0.2 9.5l0.2 -6.6l0.2 6.3l0.2 4.9l0.1 4.5l0.2 -9.4l0.2 4l0.2 -1.3l0.2 2.7l0.2 -14.5l0.1 10.2l0.2 3.5l0.2 1.3l0.2 -4.9l0.2 7.4l0.2 1.7l0.1 -4l0.2 -0.8l0.2 -0.1l0.2 2.6l0.2 5l0.2 1.8l0.1 -7.9l0.2 -1.5l0.2 1l0.2 8.1l0.2 -2l0.2 0l0.1 1.2l0.2 0l0.2 -1.6l0.2 -3.4l0.2 2.3l0.2 3.5l0.1 1.6l0.2 -2.7l0.2 0.3l0.2 7.7l0.2 -7l0.2 3.2l0.1 -1.7l0.2 -1.7l0.2 -2.2l0.2 4.4l0.2 -2.9l0.2 9.2l0.1 -7.4l0.2 3.3l0.2 4.6l0.2 -2.6l0.2 2.8l0.2 1.7l0.1 -9.3l0.2 5.3l0.2 -4.2l0.2 11.7l0.2 -5.2l0.2 2.7l0.1 5l0.2 -7.5l0.2 2.3l0.2 1.4l0.2 -2.2l0.2 9.5l0.1 -4.7l0.2 1l0.2 -3.2l0.2 -1.1l0.2 0.3l0.2 0.4l0.1 -4.4l0.2 8.7l0.2 0.9l0.2 -2.6l0.2 -1.5l0.1 2.2l0.2 1l0.2 0.6l0.2 5.6l0.2 -9.2l0.2 4.6l0.1 1.4l0.2 -1.9l0.2 -0.8l0.2 -2.6l0.2 1.8l0.2 4.9l0.1 2.9l0.2 -7.2l0.2 4.2l0.2 0.4l0.2 2l0.2 -2.4l0.1 0.9l0.2 1.8l0.2 -6.9l0.2 4.4l0.2 -6l0.2 -0.5l0.1 4.2l0.2 -2.3l0.2 7.2l0.2 1.9l0.2 -4.3l0.2 0.8l0.1 -0.6l0.2 0.5l0.2 1.5l0.2 0.9l0.2 -2.6l0.2 -0.9l0.1 1l0.2 4.5l0.2 -3.9l0.2 6.3l0.2 -5.5l0.2 5.5l0.1 -8.4l0.2 1.8l0.2 4l0.2 0.1l0.2 -2l0.2 7.3l0.1 -6.4l0.2 0.9l0.2 -2.8l0.2 7.4l0.2 -2.5l0.2 -1.4l0.1 -6.6l0.2 6.6l0.2 -2.6l0.2 2.9l0.2 1.8l0.2 -5.4l0.1 3.3l0.2 2.2l0.2 -2.3l0.2 -1.5l0.2 -2.3l0.2 1.4l0.1 -4.7l0.2 12.5l0.2 -5.1l0.2 -4.2l0.2 3.9l0.2 -4l0.1 -6.4l0.2 14.5l0.2 0l0.2 -8.5l0.2 2.5l0.2 3.1l0.1 -1.9l0.2 -1.4l0.2 1.1l0.2 1l0.2 -1l0.2 2.5l0.1 -1.3l0.2 -1.7l0.2 2.6l0.2 -5.3l0.2 13.2l0.2 -13.4l0.1 5.4l0.2 2.2l0.2 -0.6l0.2 -0.4l0.2 6.1l0.2 -10.4l0.1 3.3l0.2 0.7l0.2 -2l0.2 -0.2l0.2 5.9l0.2 -6.3l0.1 0.8l0.2 0.6l0.2 0.3l0.2 1.1l0.2 -1.1l0.2 1.8l0.1 -0.7l0.2 1.1l0.2 2.8l0.2 -6.9l0.2 7.8l0.2 -6.6l0.1 3.6l0.2 -1.6l0.2 -1.4l0.2 -5.3l0.2 11.3l0.2 -7.4l0.1 -0.1l0.2 5.8l0.2 -3.1l0.2 5.7l0.2 -0.6l0.2 -3.1l0.1 -1.4l0.2 1.6l0.2 -6.5l0.2 4.7l0.2 -0.1l0.1 -1.9l0.2 2.3l0.2 -5.4l0.2 7.4l0.2 1.2l0.2 -8l0.1 4.5l0.2 4.3l0.2 -3.5l0.2 -4.5l0.2 0.2l0.2 5.7l0.1 3.1l0.2 -9.1l0.2 3.5l0.2 -2.5l0.2 1.5l0.2 1.9l0.1 -1.1l0.2 -2l0.2 8.7l0.2 -7l0.2 -0.1l0.2 4l0.1 -3.4l0.2 -0.7l0.2 3.6l0.2 -6.1l0.2 5.5l0.2 0.9l0.1 -1.2l0.2 -2.5l0.2 0.5l0.2 -5.3l0.2 4.9l0.2 1.3l0.1 1.8l0.2 -2.2l0.2 -1.7l0.2 -1.3l0.2 2.4l0.2 0.9l0.1 3l0.2 -3.7l0.2 -1.6l0.2 1.2l0.2 -1.1l0.2 0.7l0.1 -6l0.2 1.9l0.2 1.2l0.2 6.1l0.2 -2.7l0.2 0.7l0.1 3.1l0.2 -6.7l0.2 6.7l0.2 -2.4l0.2 -3.4l0.2 6.8l0.1 -9l0.2 0.9l0.2 2.8l0.2 1.9l0.2 -1.9l0.2 -6l0.1 5.6l0.2 0.6l0.2 8l0.2 -3.6l0.2 -3.9l0.2 -6l0.1 6.6l0.2 -4.7l0.2 4.2l0.2 0.4l0.2 -2.4l0.2 1.9l0.1 -1.8l0.2 -0.8l0.2 6.4l0.2 -3l0.2 -2.8l0.2 -1.5l0.1 2.8l0.2 1.1l0.2 0.8l0.2 1.9l0.2 -3.2l0.2 -5l0.1 9.7l0.2 -2.8l0.2 -1.1l0.2 1.5l0.2 -8.8l0.2 3.3l0.1 -0.5l0.2 5.2l0.2 -7.4l0.2 2.6l0.2 5.6l0.2 -2.8l0.1 -3.3l0.2 6.9l0.2 -10.1l0.2 5.4l0.2 -2.2l0.2 2.1l0.1 -2.5l0.2 -1.9l0.2 3.1l0.2 -4.9l0.2 5.6l0.2 -2.9l0.1 5.8l0.2 -6.5l0.2 -0.9l0.2 3.2l0.2 2.5l0.2 -10.6l0.1 6.7l0.2 1.4l0.2 -6.6l0.2 1.5l0.2 4.6l0.2 -4.8l0.1 0.4l0.2 7.3l0.2 -8.7l0.2 0.1l0.2 -4.9l0.1 3.7l0.2 -3.4l0.2 12l0.2 -1.8l0.2 -8.2l0.2 10.2l0.1 -4.1l0.2 -3.4l0.2 3l0.2 -1.6l0.2 -4l0.2 -3.4l0.1 2.5l0.2 2.8l0.2 -1.4l0.2 -1.4l0.2 5.5l0.2 -6.9l0.1 8.3l0.2 -6.8l0.2 1.8l0.2 -4.3l0.2 3.5l0.2 -2.7l0.1 -3.3l0.2 5.6l0.2 -0.2l0.2 2.9l0.2 -1.8l0.2 -4.3l0.1 1.3l0.2 -6.1l0.2 4.6l0.2 8.2l0.2 4.4l0.2 -5.9l0.1 -1.3l0.2 1.1l0.2 -0.2l0.2 -7.1l0.2 3l0.2 7l0.1 0.1l0.2 -2.9l0.2 -1.5l0.2 0l0.2 -0.3l0.2 -1l0.1 -2.9l0.2 6.9l0.2 -1.6l0.2 1l0.2 6.5l0.2 -3.3l0.1 -3.9l0.2 4.3l0.2 -6.3l0.2 8.3l0.2 -2.3l0.2 -1.2l0.1 2.6l0.2 3l0.2 -5.9l0.2 -1.4l0.2 9.9l0.2 -6.3l0.1 4.8l0.2 -6.6l0.2 3.5l0.2 -3l0.2 4.2l0.2 -2.7l0.1 -2.4l0.2 8.5l0.2 -3.6l0.2 -7.1l0.2 5.7l0.2 -1.9l0.1 -0.8l0.2 2.1l0.2 0.5l0.2 1.7l0.2 -2.4l0.2 -3.2l0.1 4.2l0.2 4.4l0.2 -6.7l0.2 6.1l0.2 -0.4l0.2 -2.7l0.1 2.4l0.2 -3.2l0.2 1.1l0.2 -1.8l0.2 4.5l0.2 2.8l0.1 -7.6l0.2 7.2l0.2 -10l0.2 3.8l0.2 -0.3l0.2 8.3l0.1 -7l0.2 4.2l0.2 -8.5l0.2 6.6l0.2 1.4l0.2 -1.8l0.1 -8l0.2 9.1l0.2 1.6l0.2 1.6l0.2 -1.9l0.2 -7.1l0.1 4.5l0.2 3.4l0.2 -5.1l0.2 4.2l0.2 -3.1l0.2 1.7l0.1 2.1l0.2 -4.4l0.2 10.7l0.2 -8l0.2 0.6l0.2 -3.2l0.1 2.4l0.2 -0.9l0.2 -3.6l0.2 -0.1l0.2 5.4l0.2 -1.1l0.1 -7.5l0.2 1.5l0.2 5.5l0.2 0.7l0.2 2.1l0.1 -5.5l0.2 5.5l0.2 -2.7l0.2 -0.5l0.2 1.1l0.2 3.4l0.1 -0.1l0.2 -0.2l0.2 -4.6l0.2 1.2l0.2 -2.6l0.2 0.7l0.1 1.7l0.2 -0.2l0.2 3.5l0.2 -0.8l0.2 1l0.2 -1.6l0.1 2.6l0.2 -2.6l0.2 2.3l0.2 -1.4l0.2 0.8l0.2 -2.4l0.1 -3.4l0.2 -0.6l0.2 10l0.2 -4.6l0.2 0.2l0.2 -1.8l0.1 -0.8l0.2 9.8l0.2 -11.7l0.2 3.1l0.2 0.1l0.2 -3.2l0.1 -0.4l0.2 1.7l0.2 1.1l0.2 -0.4l0.2 3.8l0.2 -5.9l0.1 4.7l0.2 3.2l0.2 -1.7l0.2 -6l0.2 -5.3l0.2 11.2l0.1 -1l0.2 -3.2l0.2 5.5l0.2 -5l0.2 1.5l0.2 -3.3l0.1 4l0.2 -2.2l0.2 -0.2l0.2 4.6l0.2 -2.5l0.2 -5l0.1 6.4l0.2 0.4l0.2 -4.8l0.2 1.2l0.2 1.4l0.2 -0.9l0.1 1.1l0.2 1.5l0.2 -3.3l0.2 7.5l0.2 -8.2l0.2 0.5l0.1 7.3l0.2 1.3l0.2 -6.9l0.2 -0.6l0.2 -2.6l0.2 6.4l0.1 -2.8l0.2 -3l0.2 3.7l0.2 2.8l0.2 -2l0.2 4.4l0.1 -3l0.2 -2.1l0.2 -1.4l0.2 1.7l0.2 1.9l0.2 -1l0.1 0.5l0.2 -2.4l0.2 1.6l0.2 1.3l0.2 -4l0.2 -5.9l0.1 11.4l0.2 -3.3l0.2 -3l0.2 1.9l0.2 -1.4l0.2 -4.2l0.1 4.4l0.2 -3.6l0.2 4.7l0.2 -0.9l0.2 3.6l0.2 -3.6l0.1 1.4l0.2 -2l0.2 -0.2l0.2 -3l0.2 7l0.2 -2.4l0.1 -2.2l0.2 2.3l0.2 -1.8l0.2 -0.9l0.2 2.8l0.2 2.8l0.1 -4.3l0.2 -3.4l0.2 1.1l0.2 8.2l0.2 -7.5l0.2 5.8l0.1 -4.2l0.2 2.9l0.2 -2.5l0.2 -4.3l0.2 3.4l0.1 7.3l0.2 -6.5l0.2 2l0.2 -2.6l0.2 0.6l0.2 1.3l0.1 0.4l0.2 5l0.2 -6.4l0.2 -0.5l0.2 -1.4l0.2 -1.9l0.1 -0.9l0.2 7.9l0.2 -8.6l0.2 9.4l0.2 -1.6l0.2 -3.3l0.1 -2.5l0.2 3.4l0.2 0l0.2 3.2l0.2 -5.5l0.2 1.1l0.1 0.9l0.2 -0.6l0.2 -1.1l0.2 -3.1l0.2 0.2l0.2 2.8l0.1 1.3l0.2 3.5l0.2 3.8l0.2 -1.8l0.2 -3.8l0.2 4.3l0.1 -5.8l0.2 -1.2l0.2 8.2l0.2 -9.8l0.2 1.9l0.2 0.4l0.1 4.9l0.2 -5.9l0.2 3.9l0.2 -3.4l0.2 -2.4l0.2 4.1l0.1 -0.2l0.2 -3.9l0.2 0.8l0.2 0.1l0.2 5l0.2 -1.5l0.1 -0.7l0.2 0.6l0.2 -2.8l0.2 2.7l0.2 -3.3l0.2 -2.2l0.1 1.8l0.2 2.5l0.2 -0.4l0.2 2.7l0.2 -8.1l0.2 4.2l0.1 1.7l0.2 -4l0.2 3.4l0.2 -2l0.2 -4.5l0.2 8.7l0.1 -7.4l0.2 6.9l0.2 -4.3l0.2 -1.6l0.2 0.1l0.2 0.3l0.1 -0.4l0.2 3.7l0.2 -7l0.2 9.1l0.2 -1.3l0.2 1.5l0.1 -7l0.2 -4.1l0.2 4.9l0.2 1.3l0.2 1.3l0.2 -2.5l0.1 1.1l0.2 0.6l0.2 -5.1l0.2 13.6l0.2 -12.6l0.2 4.5l0.1 1.8l0.2 -5.7l0.2 2.2l0.2 4.7l0.2 -5.8l0.2 3.8l0.1 -2.4l0.2 -0.3l0.2 1.4l0.2 -3l0.2 -0.1l0.2 3.4l0.1 -2.2l0.2 1.7l0.2 -6.3l0.2 3.5l0.2 3.5l0.2 -1l0.1 -1.8l0.2 -2.6l0.2 -1.7l0.2 4.4l0.2 2.9l0.2 -4.2l0.1 3.8l0.2 -4.9l0.2 4.6l0.2 -6.7l0.2 3.6l0.2 -6l0.1 7.5l0.2 -0.2l0.2 -4.6l0.2 0.7l0.2 0.9l0.1 -6.2l0.2 4.9l0.2 0.2l0.2 5l0.2 1.9l0.2 -5.4l0.1 0.5l0.2 1.6l0.2 -2.1l0.2 0.8l0.2 3.4l0.2 -1.8l0.1 -0.9l0.2 -1.4l0.2 9.3l0.2 -9.3l0.2 2.3l0.2 -3.4l0.1 1.3l0.2 2.1l0.2 -1.4l0.2 2.8l0.2 -1.4l0.2 -4.2l0.1 -2.8l0.2 9.9l0.2 -4.7l0.2 6.1l0.2 -4.3l0.2 -2.3l0.1 3.9l0.2 -2.4l0.2 0.9l0.2 -2.8l0.2 4.6l0.2 1.4l0.1 -4.8l0.2 6.9l0.2 -7l0.2 2.4l0.2 -5.5l0.2 -0.8l0.1 11.9l0.2 -2l0.2 -0.8l0.2 -8.4l0.2 5.7l0.2 0.5l0.1 -1l0.2 0.7l0.2 -3.6l0.2 2.2l0.2 -5.2l0.2 4.7l0.1 2.1l0.2 -3.4l0.2 1.5l0.2 -1.3l0.2 2.2l0.2 2.6l0.1 -2l0.2 0.5l0.2 -5.4l0.2 2.4l0.2 4.2l0.2 -5l0.1 1.3l0.2 -1.6l0.2 6.7l0.2 -5.2l0.2 -0.9l0.2 4l0.1 1.3l0.2 -1.8l0.2 1.4l0.2 -2.3l0.2 -1l0.2 -0.9l0.1 -0.3l0.2 -1.5l0.2 4l0.2 -1.4l0.2 0.5l0.2 2.8l0.1 -3.3l0.2 -3.9l0.2 1.7l0.2 -1l0.2 -2.4l0.2 5.9l0.1 -3.9l0.2 -0.3l0.2 0.6l0.2 5.7l0.2 -3.6l0.2 3.9l0.1 -3.3l0.2 -1.1l0.2 3l0.2 0l0.2 -1.5l0.2 -3.4l0.1 1.7l0.2 -2.2l0.2 2.7l0.2 1l0.2 4l0.2 -0.2l0.1 -2.2l0.2 0.7l0.2 -2.1l0.2 7.4l0.2 -3.7l0.2 3.3l0.1 -6.7l0.2 0l0.2 1.9l0.2 -2.6l0.2 0.3l0.2 -3.9l0.1 5.7l0.2 -2.4l0.2 2l0.2 -3.1l0.2 -4.7l0.2 7.8l0.1 0.9l0.2 -7.3l0.2 0.9l0.2 1.9l0.2 0.1l0.1 -4.3l0.2 10.2l0.2 -2.3l0.2 -4.8l0.2 -3.6l0.2 6.4l0.1 4.8l0.2 -3.5l0.2 0.9l0.2 -6.3l0.2 4l0.2 -5.7l0.1 10.3l0.2 -4.2l0.2 -8l0.2 0.7l0.2 6.9l0.2 -1l0.1 -1.4l0.2 2.7l0.2 4.1l0.2 -4.9l0.2 -6.5l0.2 4.9l0.1 -3.5l0.2 -0.2l0.2 5l0.2 -1.5l0.2 -4.9l0.2 5.3l0.1 -2.4l0.2 4l0.2 -2.3l0.2 1.8l0.2 -1.9l0.2 3l0.1 -2.7l0.2 0.4l0.2 -1.7l0.2 2.1l0.2 -5.7l0.2 13.2l0.1 -9.9l0.2 2.3l0.2 -1.7l0.2 -0.1l0.2 2.7l0.2 -2.7l0.1 0.2l0.2 -2.8l0.2 1.4l0.2 -3.2l0.2 11.3l0.2 -9.2l0.1 0.8l0.2 3.8l0.2 3.7l0.2 -9.2l0.2 0.4l0.2 5l0.1 0.7l0.2 -8.1l0.2 1.9l0.2 2.6l0.2 5l0.2 -2.2l0.1 2.4l0.2 -2.5l0.2 0.3l0.2 2l0.2 -2.1l0.2 1.1l0.1 -3.3l0.2 1l0.2 3.2l0.2 -2l0.2 -1.4l0.2 4.2l0.1 -0.3l0.2 -1.5l0.2 -2.2l0.2 6.7l0.2 3l0.2 -9.6l0.1 -2l0.2 2.3l0.2 -0.4l0.2 -0.9l0.2 0.3l0.2 6l0.1 0.1l0.2 4.8l0.2 -5l0.2 -3.4l0.2 4.5l0.2 -4.8l0.1 0.8l0.2 -2.2l0.2 6.9l0.2 -0.5l0.2 -4.2l0.2 0.6l0.1 1l0.2 0.6l0.2 1.9l0.2 -2.1l0.2 1l0.2 -5.3l0.1 2.9l0.2 -3.5l0.2 10.2l0.2 -1l0.2 -1.8l0.2 1.2l0.1 2.6l0.2 -2.9l0.2 -7l0.2 4l0.2 -6l0.2 4.5l0.1 -1.1l0.2 3.5l0.2 1.3l0.2 -3.6l0.2 1.9l0.2 1.6l0.1 -1.1l0.2 0.1l0.2 -6.1l0.2 5.5l0.2 3.6l0.1 -1.4l0.2 -4.7l0.2 3.4l0.2 1.6l0.2 -3.3l0.2 4.7l0.1 -4l0.2 1.4l0.2 0.7l0.2 6.5l0.2 -7.6l0.2 0.1l0.1 3.6l0.2 -3.1l0.2 1.9l0.2 -6.6l0.2 7.1l0.2 -0.8l0.1 -3.4l0.2 7.4l0.2 -4.3l0.2 0.2l0.2 -2.9l0.2 -0.7l0.1 3l0.2 -2.5l0.2 5.5l0.2 1.2l0.2 -4l0.2 -2.5l0.1 2.6l0.2 -0.9l0.2 3.4l0.2 0.1l0.2 -1.5l0.2 1.5l0.1 2.7l0.2 1.8l0.2 -5.8l0.2 3.4l0.2 -2.5l0.2 -2.1l0.1 6.4l0.2 -2.3l0.2 -0.6l0.2 0.7l0.2 -1.3l0.2 -2.3l0.1 7.5l0.2 -2.2l0.2 -1.6l0.2 1.9l0.2 0.9l0.2 -3.8l0.1 2.1l0.2 -2.4l0.2 3.8l0.2 -3.5l0.2 7.2l0.2 -7.3l0.1 2.3l0.2 -0.1l0.2 -2l0.2 3.4l0.2 -2.9l0.2 -0.6l0.1 1.1l0.2 -1.9l0.2 5.2l0.2 -1.5l0.2 1l0.2 -6.1l0.1 4.3l0.2 -2.7l0.2 2.4l0.2 3l0.2 -2.6l0.2 -1.1l0.1 3.4l0.2 -0.2l0.2 2.2l0.2 -9.6l0.2 5.7l0.2 -1.9l0.1 -1.1l0.2 2.5l0.2 -3.2l0.2 -2.8l0.2 3.5l0.2 1.7l0.1 5.5l0.2 -6.7l0.2 -1.1l0.2 -2.1l0.2 3.5l0.2 1.1l0.1 1l0.2 -4.1l0.2 1.8l0.2 -3.9l0.2 6.3l0.2 -4.5l0.1 -3l0.2 12.1l0.2 -3.7l0.2 -0.4l0.2 0.1l0.2 -3.6l0.1 5.4l0.2 -7.4l0.2 9.6l0.2 -4.3l0.2 -5.3l0.2 7l0.1 2.8l0.2 -5.7l0.2 3.4l0.2 -3.2l0.2 -1.1l0.2 -5l0.1 9.8l0.2 -4.3l0.2 2.2l0.2 -3.9l0.2 0.6l0.2 5.2l0.1 -3.9l0.2 0l0.2 -4.5l0.2 6.1l0.2 1.5l0.1 -3.2l0.2 0.7l0.2 -2.6l0.2 6.7l0.2 -5.2l0.2 1.2l0.1 4.7l0.2 -4.8l0.2 -3.4l0.2 1.6l0.2 1.4l0.2 5.5l0.1 -4l0.2 -1.1l0.2 2.7l0.2 1.2l0.2 -5.2l0.2 8.1l0.1 -4l0.2 -1l0.2 -7.2l0.2 6.5l0.2 3.1l0.2 -4.3l0.1 6.6l0.2 -5.7l0.2 -2.8l0.2 4.1l0.2 -0.7l0.2 1.4l0.1 -2.7l0.2 3.9l0.2 -4.8l0.2 1.8l0.2 -3.6l0.2 -0.3l0.1 4l0.2 -2.1l0.2 0.5l0.2 0.6l0.2 1.2l0.2 1.3l0.1 0l0.2 0.6l0.2 -2l0.2 -2l0.2 -2.6l0.2 3.1l0.1 -2.6l0.2 -1.1l0.2 8.8l0.2 -8.9l0.2 5.6l0.2 0.5l0.1 -2l0.2 7.2l0.2 -6.5l0.2 -2l0.2 6.4l0.2 -6.5l0.1 -1.6l0.2 -0.8l0.2 2.8l0.2 1.7l0.2 0.8l0.2 -4.8l0.1 4.8l0.2 4.8l0.2 -7.5l0.2 1.5l0.2 2.1l0.2 1.3l0.1 -4.8l0.2 -0.7l0.2 -0.2l0.2 5.4l0.2 -0.5l0.2 -7.8l0.1 0.1l0.2 2.3l0.2 -0.7l0.2 5.5l0.2 -1.1l0.2 7.9l0.1 -6.5l0.2 -1.7l0.2 2.7l0.2 -5.3l0.2 -1.3l0.2 3.7l0.1 2.3l0.2 -6.5l0.2 6.4l0.2 -0.1l0.2 -3.5l0.2 1.7l0.1 -1.1l0.2 0.9l0.2 1.8l0.2 -4.1l0.2 4.7l0.2 -0.4l0.1 1.7l0.2 -8.9l0.2 0.2l0.2 6.5l0.2 -3.2l0.2 -0.3l0.1 -0.2l0.2 -1.4l0.2 2.6l0.2 -1.1l0.2 0.2l0.2 2.9l0.1 -4.2l0.2 5.8l0.2 -8.5l0.2 12l0.2 -9.8l0.2 4.9l0.1 0.9l0.2 -2.4l0.2 1.9l0.2 -2.1l0.2 -4.2l0.2 5.3l0.1 4l0.2 -6.3l0.2 -2.9l0.2 2.8l0.2 2.3l0.2 0l0.1 2l0.2 -1.4l0.2 -0.1l0.2 -6.4l0.2 10.8l0.1 -5.6l0.2 2.1l0.2 -3.1l0.2 0.5l0.2 0.6l0.2 3.8l0.1 -0.2l0.2 -2.2l0.2 3.4l0.2 -6l0.2 2.3l0.2 -2.5l0.1 4.5l0.2 -3.2l0.2 2.4l0.2 1.9l0.2 -9.7l0.2 10.8l0.1 -4.7l0.2 -1.6l0.2 -4.1l0.2 4.1l0.2 -5l0.2 6l0.1 -0.7l0.2 5.1l0.2 -5.5l0.2 3.6l0.2 0.2l0.2 2.3l0.1 -5.9l0.2 2.6l0.2 -5.8l0.2 1l0.2 2.2l0.2 0.6l0.1 -3l0.2 2l0.2 2.8l0.2 -2.9l0.2 0.8l0.2 -1.9l0.1 5.7l0.2 1l0.2 -3.9l0.2 -0.9l0.2 4.5l0.2 -3l0.1 -2.9l0.2 -1.7l0.2 1.9l0.2 7.1l0.2 -7.1l0.2 8.8l0.1 -7.3l0.2 -0.5l0.2 3.9l0.2 -4l0.2 1.6l0.2 -3.6l0.1 -0.5l0.2 1.2l0.2 2.8l0.2 -2.6l0.2 -3.3l0.2 6.2l0.1 -1.6l0.2 -0.3l0.2 -0.9l0.2 -4.1l0.2 9.7l0.2 -5.2l0.1 3.4l0.2 1.3l0.2 -0.7l0.2 -2.3l0.2 -0.5l0.2 0.7l0.1 1.5l0.2 -0.8l0.2 -2.6l0.2 2.3l0.2 -0.2l0.2 0.8l0.1 -1.2l0.2 2.9l0.2 -2.6l0.2 1.4l0.2 -2.2l0.2 -1.5l0.1 -1l0.2 2l0.2 1.8l0.2 4l0.2 -5.6l0.2 -1.1l0.1 0l0.2 4.5l0.2 -2.9l0.2 -2.4l0.2 4l0.2 -5.2l0.1 3.6l0.2 -0.4l0.2 -0.3l0.2 -2.5l0.2 5.3l0.2 1.8l0.1 -7.6l0.2 3.7l0.2 1.3l0.2 4l0.2 -6.7l0.2 -1.3l0.1 2.3l0.2 5.1l0.2 -4.9l0.2 0.5l0.2 3.8l0.2 -9.8l0.1 -0.1l0.2 7.7l0.2 -0.3l0.2 -5.5l0.2 4.8l0.2 -1.1l0.1 0.3l0.2 -2.5l0.2 0.9l0.2 -1.1l0.2 2.3l0.1 -0.7l0.2 4.8l0.2 -2.7l0.2 -5.5l0.2 5l0.2 2.5l0.1 -2.9l0.2 2.1l0.2 -2.9l0.2 1.9l0.2 -4.1l0.2 4.3l0.1 -5.4l0.2 6.6l0.2 -7l0.2 -1.5l0.2 6.6l0.2 -1.7l0.1 0.7l0.2 0.7l0.2 -1.1l0.2 -2.1l0.2 2.7l0.2 0.3l0.1 0.4l0.2 3.7l0.2 -6.8l0.2 2l0.2 1.2l0.2 -2.5l0.1 -1.9l0.2 1.6l0.2 4l0.2 -3.3l0.2 2.2l0.2 -3.3l0.1 2.9l0.2 -2.8l0.2 -0.4l0.2 2.3l0.2 -0.1l0.2 3.5l0.1 -7.7l0.2 5.3l0.2 2.7l0.2 1.8l0.2 -6.7l0.2 -0.8l0.1 0.5l0.2 1.9l0.2 -0.3l0.2 0.4l0.2 0.6l0.2 -4.1l0.1 -2.1l0.2 1.7l0.2 -0.3l0.2 3.1l0.2 1l0.2 5.5l0.1 -5l0.2 -1.2l0.2 3.4l0.2 -5.3l0.2 2.6l0.2 1.6l0.1 -0.5l0.2 -1l0.2 -1.8l0.2 -2.2l0.2 2.6l0.2 -1.1l0.1 4.4l0.2 -3.2l0.2 1.7l0.2 -5.4l0.2 6.4l0.2 -4.5l0.1 -4.5l0.2 3.1l0.2 0.8l0.2 5.4l0.2 -1l0.2 -6.7l0.1 5.1l0.2 -0.5l0.2 -6.3l0.2 4.1l0.2 -2.6l0.2 2.9l0.1 -4.4l0.2 4.6l0.2 -0.4l0.2 0.3l0.2 0l0.2 4.9l0.1 -3.8l0.2 1.9l0.2 0.8l0.2 0.4l0.2 0.6l0.2 -4.2l0.1 -1.4l0.2 0.8l0.2 0.7l0.2 1.2l0.2 -0.2l0.2 2.9l0.1 -3l0.2 4.7l0.2 -1.9l0.2 -3.8l0.2 3.3l0.2 -9.2l0.1 10.5l0.2 -2.4l0.2 0.6l0.2 -5.8l0.2 10.4l0.2 -6.9l0.1 0.3l0.2 3.1l0.2 -3.3l0.2 -1.6l0.2 3.7l0.2 -4.2l0.1 4.3l0.2 -1.2l0.2 2.1l0.2 -5.7l0.2 6l0.1 -2.4l0.2 4.1l0.2 -6.4l0.2 6.1l0.2 -2.9l0.2 0.2l0.1 -3.7l0.2 3.1l0.2 0.2l0.2 -5.1l0.2 0.6l0.2 0.9l0.1 5.5l0.2 -3.3l0.2 3.5l0.2 -3.2l0.2 -0.4l0.2 0.2l0.1 -1.6l0.2 4l0.2 -2.3l0.2 -0.2l0.2 -4l0.2 4.1l0.1 -2.4l0.2 0.4l0.2 3.7l0.2 -5.2l0.2 2.1l0.2 2l0.1 1.3l0.2 -4.1l0.2 2l0.2 -0.1l0.2 -3.5l0.2 -2.5l0.1 0.5l0.2 6.2l0.2 -1.3l0.2 -3.6l0.2 1.7l0.2 0.6l0.1 0.1l0.2 0.8l0.2 5.4l0.2 -7.3l0.2 2.2l0.2 -2.3l0.1 0.4l0.2 -0.7l0.2 1.6l0.2 -0.8l0.2 2.8l0.2 -0.6l0.1 -3.1l0.2 6.9l0.2 -9.6l0.2 5.7l0.2 4.5l0.2 -7.1l0.1 5l0.2 0.2l0.2 -2.6l0.2 -5.4l0.2 8l0.2 -3.3l0.1 -2.5l0.2 5.4l0.2 -4.9l0.2 4.4l0.2 -3.9l0.2 2.6l0.1 -3.9l0.2 1.6l0.2 -1.2l0.2 0.5l0.2 2.2l0.2 -0.9l0.1 0.9l0.2 2.7l0.2 -3.4l0.2 -4.2l0.2 3.8l0.2 1l0.1 4l0.2 -1.7l0.2 -0.1l0.2 -2.9l0.2 2.2l0.2 -5.1l0.1 6.7l0.2 -2l0.2 0.2l0.2 -2.2l0.2 1.1l0.2 -1.7l0.1 3l0.2 -4.5l0.2 5.6l0.2 -1l0.2 3.6l0.2 -5l0.1 0l0.2 0.7l0.2 -0.4l0.2 -0.3l0.2 -2.3l0.2 0l0.1 1.4l0.2 0.7l0.2 -2.1l0.2 0.1l0.2 2.1l0.2 2.5l0.1 -2.2l0.2 2.2l0.2 0.7l0.2 -0.4l0.2 -2.8l0.2 0.1l0.1 -3.4l0.2 1.7l0.2 4l0.2 -5.4l0.2 7.7l0.2 0.3l0.1 -4.2l0.2 3.1l0.2 -5.4l0.2 0.9l0.2 1.7l0.1 1.1l0.2 -0.4l0.2 -1.5l0.2 6.8l0.2 -3.9l0.2 0.1l0.1 1.1l0.2 -0.8l0.2 -1.6l0.2 -0.2l0.2 -2.5l0.2 7.5l0.1 -7.1l0.2 -0.1l0.2 2.1l0.2 -1.8l0.2 8.4l0.2 -3.7l0.1 4.8l0.2 -2.1l0.2 -2l0.2 0.1l0.2 -2.9l0.2 1.5l0.1 -2.1l0.2 2.5l0.2 -1.7l0.2 4.6l0.2 -1.1l0.2 -1.9l0.1 -3.6l0.2 5.5l0.2 0.5l0.2 -2.1l0.2 -2.7l0.2 3.9l0.1 1.5l0.2 -6.8l0.2 5.7l0.2 -5.4l0.2 4.4l0.2 3.9l0.1 -3.8l0.2 1l0.2 -2.3l0.2 1.3l0.2 9.1l0.2 -6l0.1 -3.7l0.2 -0.1l0.2 0.9l0.2 5l0.2 -4.5l0.2 2.1l0.1 -3.3l0.2 -2l0.2 5.9l0.2 -3.1l0.2 -1.6l0.2 -0.9l0.1 1.2l0.2 0.2l0.2 -2.1l0.2 6.2l0.2 -1.8l0.2 1.4l0.1 -3l0.2 1.6l0.2 -0.4l0.2 2.3l0.2 -0.8l0.2 -1l0.1 -2.2l0.2 -1.3l0.2 1l0.2 0.4l0.2 0.2l0.2 -1.6l0.1 6.6l0.2 -3.1l0.2 -5.2l0.2 0.4l0.2 1.2l0.2 3.6l0.1 1.9l0.2 -4.6l0.2 3.6l0.2 -2l0.2 3.2l0.2 0.6l0.1 -2.4l0.2 0.9l0.2 -1.6l0.2 -0.8l0.2 -1.8l0.2 3.4l0.1 -0.9l0.2 -0.6l0.2 0.7l0.2 -0.3l0.2 -1.9l0.2 1.2l0.1 3.8l0.2 -3.1l0.2 3.7l0.2 -5.8l0.2 -0.4l0.2 3.3l0.1 1.5l0.2 -3.2l0.2 2.9l0.2 0.7l0.2 0.3l0.2 -2.6l0.1 0.1l0.2 -6.1l0.2 6.3l0.2 0.6l0.2 2.5l0.2 -6l0.1 1l0.2 -0.4l0.2 4.3l0.2 -7.6l0.2 3.2l0.2 7l0.1 -3.1l0.2 -4.5l0.2 2.9l0.2 2l0.2 -0.7l0.1 -1.7l0.2 -1.3l0.2 3.6l0.2 -1.8l0.2 1.8l0.2 -0.9l0.1 -1.9l0.2 4.2l0.2 -4.3l0.2 2l0.2 -2.3l0.2 0.9l0.1 -0.1l0.2 -0.9l0.2 2l0.2 2.4l0.2 1.2l0.2 -1l0.1 -3.5l0.2 3.6l0.2 -2.3l0.2 3l0.2 -6.8l0.2 6.1l0.1 -4.6l0.2 3.9l0.2 -3.6l0.2 3l0.2 -2.6l0.2 -3.6l0.1 2l0.2 1.6l0.2 0.6l0.2 -5l0.2 2.3l0.2 1l0.1 1.2l0.2 0.9l0.2 -2.3l0.2 -1.5l0.2 4l0.2 -1.4l0.1 2.6l0.2 -3.1l0.2 2.6l0.2 -3.4l0.2 2.5l0.2 -0.4l0.1 0.8l0.2 -3l0.2 1.8l0.2 -1.6l0.2 1.5l0.2 1.7l0.1 5.1l0.2 -6.4l0.2 1.4l0.2 -1.3l0.2 2.2l0.2 -1.5l0.1 1.3l0.2 -1.5l0.2 4.5l0.2 -2.3l0.2 -6.7l0.2 4.3l0.1 -0.5l0.2 -8.3l0.2 6.3l0.2 0.8l0.2 -0.6l0.2 1.9l0.1 -4.2l0.2 5.5l0.2 0.1l0.2 -0.9l0.2 -1.5l0.2 0.7l0.1 -1.1l0.2 3.5l0.2 -1.4l0.2 3.3l0.2 -5.2l0.2 4l0.1 -4.5l0.2 0.9l0.2 -1.9l0.2 4.2l0.2 -2.1l0.2 1.5l0.1 1.9l0.2 -3.4l0.2 0.9l0.2 1.2l0.2 -2.1l0.2 -1.1l0.1 2l0.2 0.3l0.2 0.6l0.2 0.1l0.2 -3.3l0.2 2.4l0.1 1.7l0.2 -3.7l0.2 1.8l0.2 -2.1l0.2 1.7l0.2 3.3l0.1 -3.4l0.2 -2.4l0.2 2.8l0.2 -0.3l0.2 1.9l0.2 -5.3l0.1 0.9l0.2 1.8l0.2 -3.2l0.2 5.8l0.2 -6.8l0.2 2.6l0.1 -1.4l0.2 1.7l0.2 3.1l0.2 -0.4l0.2 0.7l0.2 -0.7l0.1 -5.7l0.2 5l0.2 -4.6l0.2 2.8l0.2 0.2l0.1 -0.3l0.2 2.2l0.2 -2.8l0.2 5.4l0.2 -2.4l0.2 1.2l0.1 -0.9l0.2 0.3l0.2 -2.1l0.2 4.3l0.2 -6.4l0.2 3.9l0.1 -1.7l0.2 -0.5l0.2 1.1l0.2 -2.3l0.2 3.5l0.2 -0.2l0.1 -1.5l0.2 1.4l0.2 -3.8l0.2 -1.7l0.2 2.6l0.2 0.7l0.1 5.8l0.2 -5.8l0.2 2.7l0.2 -0.4l0.2 2.6l0.2 -4.2l0.1 1.1l0.2 -1.8l0.2 -1.4l0.2 -0.4l0.2 0.5l0.2 4.7l0.1 -2.5l0.2 -1.1l0.2 0.5l0.2 -1.2l0.2 1.1l0.2 0l0.1 1.4l0.2 0.6l0.2 -5.4l0.2 3.9l0.2 2.4l0.2 -5.1l0.1 1.7l0.2 0.8l0.2 3.7l0.2 -2.8l0.2 -1.7l0.2 1.5l0.1 1.1l0.2 -1.4l0.2 3.1l0.2 -3l0.2 -3.1l0.2 0.5l0.1 1.4l0.2 -0.5l0.2 3l0.2 -1.5l0.2 2.9l0.2 -1.9l0.1 1.4l0.2 -4.8l0.2 0.7l0.2 2.4l0.2 -1.3l0.2 1.2l0.1 -0.8l0.2 -1.9l0.2 4.9l0.2 -1.2l0.2 -5.6l0.2 1.9l0.1 1.4l0.2 1.4l0.2 -1.6l0.2 -2.7l0.2 4.6l0.2 -2.2l0.1 3l0.2 -1.9l0.2 2.9l0.2 -1.8l0.2 0.1l0.2 -2.9l0.1 3.2l0.2 -1.7l0.2 -3.1l0.2 1.8l0.2 0.1l0.2 1.7l0.1 0.5l0.2 -3.8l0.2 3.9l0.2 -1.7l0.2 -2.1l0.2 5.2l0.1 -4.5l0.2 -2.7l0.2 5.8l0.2 0.3l0.2 -3.2l0.2 3.6l0.1 -0.1l0.2 -3.2l0.2 5.2l0.2 -4.3l0.2 0.6l0.2 -5.4l0.1 6.3l0.2 -2.6l0.2 2.2l0.2 -4.5l0.2 6l0.2 0.6l0.1 0.9l0.2 -10.1l0.2 7.4l0.2 -0.5l0.2 -7l0.2 4.8l0.1 1.3l0.2 3.2l0.2 -4.7l0.2 2.1l0.2 -0.5l0.2 0.9l0.1 -1.6l0.2 4l0.2 -1.2l0.2 -4.8l0.2 5.1l0.1 -3.8l0.2 1l0.2 2.9l0.2 -2.2l0.2 1l0.2 0.5l0.1 -0.4l0.2 -2.4l0.2 -0.8l0.2 3.4l0.2 0.1l0.2 -0.8l0.1 -1.1l0.2 2.1l0.2 -1.8l0.2 -2.8l0.2 3.4l0.2 0.5l0.1 0.6l0.2 -3.5l0.2 0.3l0.2 2.3l0.2 -1.6l0.2 0.7l0.1 2.1l0.2 -1.1l0.2 3l0.2 -3.2l0.2 2.9l0.2 -1.3l0.1 3.1l0.2 -5.2l0.2 -0.2l0.2 2.8l0.2 -3.7l0.2 0.1l0.1 1.5l0.2 0.2l0.2 -3.6l0.2 3.4l0.2 -1.2l0.2 0.6l0.1 0.4l0.2 -0.7l0.2 2.6l0.2 -1.2l0.2 -1.4l0.2 0.6l0.1 1.9l0.2 -0.5l0.2 1l0.2 -2.9l0.2 0.6l0.2 3.8l0.1 -4.1l0.2 3.5l0.2 -1.7l0.2 -2.6l0.2 -2l0.2 5.2l0.1 -3.8l0.2 0l0.2 -2.1l0.2 6l0.2 -2.2l0.2 -0.2l0.1 1.5l0.2 -1l0.2 -0.3l0.2 0.8l0.2 -1.6l0.2 -4.6l0.1 6.7l0.2 -0.6l0.2 -0.8l0.2 3.1l0.2 -6l0.2 -3.1l0.1 8.9l0.2 -2.1l0.2 -4.2l0.2 2.5l0.2 2.1l0.2 -3.7l0.1 3.6l0.2 3.1l0.2 -1.5l0.2 -2.8l0.2 1.3l0.2 -3.2l0.1 2.2l0.2 -0.9l0.2 -1.4l0.2 -2.4l0.2 8.4l0.2 -3.8l0.1 -2.2l0.2 1.2l0.2 3.9l0.2 0.2l0.2 -4.5l0.2 1.7l0.1 1.4l0.2 -2.5l0.2 -1.7l0.2 0.4l0.2 2l0.2 -1.6l0.1 -1l0.2 2.1l0.2 2.4l0.2 -0.5l0.2 -1.9l0.2 4.3l0.1 -6.3l0.2 2.4l0.2 -2.6l0.2 4.3l0.2 -1.8l0.2 -3.2l0.1 1.8l0.2 5.2l0.2 -2.1l0.2 -1.3l0.2 1.6l0.2 -5l0.1 1.6l0.2 -1l0.2 1l0.2 0.9l0.2 2.7l0.1 0.1l0.2 -0.1l0.2 3.4l0.2 -6.9l0.2 1.5l0.2 1.1l0.1 -2.7l0.2 1.1l0.2 1.4l0.2 -2.6l0.2 3.5l0.2 0.7l0.1 -4.7l0.2 -2.3l0.2 4.7l0.2 -2.2l0.2 2.8l0.2 -1.6l0.1 1.5l0.2 1.6l0.2 0.7l0.2 -3.6l0.2 -1.6l0.2 -2.7l0.1 0.7l0.2 2.7l0.2 1.8l0.2 -1.6l0.2 0.2l0.2 -2l0.1 -0.1l0.2 -0.2l0.2 4.7l0.2 -5.2l0.2 5.3l0.2 -3.1l0.1 2.8l0.2 -0.6l0.2 1.1l0.2 0.8l0.2 -3.9l0.2 -0.4l0.1 1.1l0.2 -0.7l0.2 2.9l0.2 -1.6l0.2 0.2l0.2 0.9l0.1 -1.8l0.2 3.1l0.2 -8.3l0.2 6.6l0.2 1.2l0.2 -3.2l0.1 0.2l0.2 3.1l0.2 -2.4l0.2 -3.1l0.2 1.1l0.2 4.7l0.1 -3.8l0.2 4.4l0.2 0.1l0.2 -3.4l0.2 1.8l0.2 -2.8l0.1 0.9l0.2 -0.6l0.2 2.6l0.2 -3.7l0.2 2.2l0.2 0.4l0.1 0.9l0.2 -8.1l0.2 3.6l0.2 1.8l0.2 1.3l0.2 0.7l0.1 0.1l0.2 3.6l0.2 -2.7l0.2 -0.1l0.2 -2.1l0.2 2.5l0.1 -0.2l0.2 0l0.2 -1.6l0.2 1.5l0.2 1.8l0.2 -4.6l0.1 -2.7l0.2 5.9l0.2 -0.2l0.2 -1.9l0.2 -0.4l0.2 6.3l0.1 -6.3l0.2 -1.5l0.2 1.5l0.2 1.9l0.2 -2.2l0.2 0.5l0.1 1.3l0.2 -1.4l0.2 1.1l0.2 -0.3l0.2 -2l0.2 2.2l0.1 -2.4l0.2 4.1l0.2 -3.6l0.2 1.3l0.2 -3.1l0.2 2.7l0.1 -1.5l0.2 5.3l0.2 -3.1l0.2 1.2l0.2 -4.4l0.2 1l0.1 2.1l0.2 -2.3l0.2 4.9l0.2 -3l0.2 1.1l0.2 0.3l0.1 -0.9l0.2 1.8l0.2 -2.8l0.2 2l0.2 1.6l0.1 -1.9l0.2 -0.2l0.2 -0.8l0.2 0.7l0.2 1.2l0.2 -1.8l0.1 -2.7l0.2 3.6l0.2 -0.6l0.2 1.2l0.2 -0.9l0.2 3l0.1 -5.4l0.2 0.5l0.2 3.1l0.2 -3.2l0.2 2.6l0.2 -0.6l0.1 -3.8l0.2 5.1l0.2 3.1l0.2 -4l0.2 -3.1l0.2 4.2l0.1 -3.5l0.2 1.8l0.2 1l0.2 -2.2l0.2 -1.8l0.2 3l0.1 0.2l0.2 -1.6l0.2 0.2l0.2 2.9l0.2 -1.6l0.2 -0.7l0.1 -1.1l0.2 2.3l0.2 -0.1l0.2 -0.5l0.2 -2.3l0.2 1.9l0.1 -0.5l0.2 1.4l0.2 2l0.2 0.9l0.2 -1l0.2 -1.8l0.1 -0.8l0.2 1.2l0.2 -1.5l0.2 0.2l0.2 -0.9l0.2 1.5l0.1 0l0.2 3.6l0.2 -2.4l0.2 -1.8l0.2 2.2l0.2 -2.4l0.1 2.8l0.2 -0.4l0.2 4l0.2 -7.5l0.2 1.9l0.2 0l0.1 0.7l0.2 0.8l0.2 -3.1l0.2 0.4l0.2 2l0.2 1.2l0.1 -5.4l0.2 0.7l0.2 5.1l0.2 -0.6l0.2 0.5l0.2 -3.9l0.1 1.5l0.2 0.8l0.2 0.4l0.2 -1l0.2 0.1l0.2 2l0.1 -2.7l0.2 -0.2l0.2 0.2l0.2 -0.1l0.2 1.2l0.2 -0.6l0.1 -0.5l0.2 3.5l0.2 -1.7l0.2 -1.5l0.2 2.9l0.2 -3.3l0.1 1l0.2 -0.2l0.2 -0.8l0.2 0.3l0.2 0.9l0.2 -4.7l0.1 3.8l0.2 1.2l0.2 0.1l0.2 0l0.2 3.8l0.2 -3.1l0.1 -1.5l0.2 0.1l0.2 0.2l0.2 0.8l0.2 -1.3l0.2 3.3l0.1 -4.8l0.2 3.2l0.2 0.4l0.2 -3.6l0.2 3.2l0.2 -0.1l0.1 -2.2l0.2 5.4l0.2 -2.9l0.2 -1.9l0.2 -0.3l0.2 -1.4l0.1 2.8l0.2 -0.4l0.2 -2.6" stroke="#0f0" stroke-width="1"/>
<path d="M70 185.5h4.4l-2.2 3.2zM70.2 191.4h4.4l-2.2 3.2zM70.4 183.1h4.4l-2.2 3.2zM70.5 188.1h4.4l-2.2 3.2zM70.7 183.4h4.4l-2.2 3.2zM70.9 188.9h4.4l-2.2 3.2zM71.1 181.4h4.4l-2.2 3.2zM71.3 192.8h4.4l-2.2 3.2zM71.5 173.9h4.4l-2.2 3.2zM71.6 178.6h4.4l-2.2 3.2zM71.8 194.4h4.4l-2.2 3.2zM72 187.4h4.4l-2.2 3.2zM72.2 180.5h4.4l-2.2 3.2zM72.4 196.1h4.4l-2.2 3.2zM72.6 191.3h4.4l-2.2 3.2zM72.7 191.6h4.4l-2.2 3.2zM72.9 185.1h4.4l-2.2 3.2zM73.1 189.5h4.4l-2.2 3.2zM73.3 189.1h4.4l-2.2 3.2zM73.5 179.9h4.4l-2.2 3.2zM73.7 189.5h4.4l-2.2 3.2zM73.8 186.2h4.4l-2.2 3.2zM74 192.5h4.4l-2.2 3.2zM74.2 192.6h4.4l-2.2 3.2zM74.4 184.4h4.4l-2.2 3.2zM74.6 184.6h4.4l-2.2 3.2zM74.8 188h4.4l-2.2 3.2zM74.9 190h4.4l-2.2 3.2zM75.1 185.5h4.4l-2.2 3.2zM75.3 186.8h4.4l-2.2 3.2zM75.5 189.9h4.4l-2.2 3.2zM75.7 189.1h4.4l-2.2 3.2zM75.9 192.2h4.4l-2.2 3.2zM76 188.4h4.4l-2.2 3.2zM76.2 183.6h4.4l-2.2 3.2zM76.4 179.9h4.4l-2.2 3.2zM76.6 190.9h4.4l-2.2 3.2zM76.8 186.1h4.4l-2.2 3.2zM77 186h4.4l-2.2 3.2zM77.1 186.3h4.4l-2.2 3.2zM77.3 180.9h4.4l-2.2 3.2zM77.5 185.9h4.4l-2.2 3.2zM77.7 176.6h4.4l-2.2 3.2zM77.9 185.9h4.4l-2.2 3.2zM78.1 183.9h4.4l-2.2 3.2zM78.2 195.5h4.4l-2.2 3.2zM78.4 189.6h4.4l-2.2 3.2zM78.6 186.9h4.4l-2.2 3.2zM78.8 189.1h4.4l-2.2 3.2zM79 190.9h4.4l-2.2 3.2zM79.2 184.6h4.4l-2.2 3.2zM79.3 186.9h4.4l-2.2 3.2zM79.5 186.4h4.4l-2.2 3.2zM79.7 198.4h4.4l-2.2 3.2zM79.9 188.3h4.4l-2.2 3.2zM80.1 179.7h4.4l-2.2 3.2zM80.3 191.4h4.4l-2.2 3.2zM80.4 198.9h4.4l-2.2 3.2zM80.6 184h4.4l-2.2 3.2zM80.8 202.8h4.4l-2.2 3.2zM81 187.8h4.4l-2.2 3.2zM81.2 192.4h4.4l-2.2 3.2zM81.4 185.8h4.4l-2.2 3.2zM81.5 187.1h4.4l-2.2 3.2zM81.7 183h4.4l-2.2 3.2zM81.9 183.8h4.4l-2.2 3.2zM82.1 179.2h4.4l-2.2 3.2zM82.3 193.1h4.4l-2.2 3.2zM82.5 183.5h4.4l-2.2 3.2zM82.6 189.9h4.4l-2.2 3.2zM82.8 189.8h4.4l-2.2 3.2zM83 185.7h4.4l-2.2 3.2zM83.2 188.6h4.4l-2.2 3.2zM83.4 188h4.4l-2.2 3.2zM83.6 186.4h4.4l-2.2 3.2zM83.7 188.7h4.4l-2.2 3.2zM83.9 188.7h4.4l-2.2 3.2zM84.1 184.3h4.4l-2.2 3.2zM84.3 183.1h4.4l-2.2 3.2zM84.5 185h4.4l-2.2 3.2zM84.7 189.1h4.4l-2.2 3.2zM84.8 194.5h4.4l-2.2 3.2zM85 194.8h4.4l-2.2 3.2zM85.2 190h4.4l-2.2 3.2zM85.4 192.7h4.4l-2.2 3.2zM85.6 189.8h4.4l-2.2 3.2zM85.8 193.4h4.4l-2.2 3.2zM85.9 189.3h4.4l-2.2 3.2zM86.1 190.5h4.4l-2.2 3.2zM86.3 187.6h4.4l-2.2 3.2zM86.5 188.8h4.4l-2.2 3.2zM86.7 196.9h4.4l-2.2 3.2zM86.9 183.9h4.4l-2.2 3.2zM87 188.9h4.4l-2.2 3.2zM87.2 186.5h4.4l-2.2 3.2zM87.4 193h4.4l-2.2 3.2zM87.6 196.6h4.4l-2.2 3.2zM87.8 187.7h4.4l-2.2 3.2zM88 177.4h4.4l-2.2 3.2zM88.1 191.7h4.4l-2.2 3.2zM88.3 191.7h4.4l-2.2 3.2zM88.5 182.1h4.4l-2.2 3.2zM88.7 188.1h4.4l-2.2 3.2zM88.9 188.9h4.4l-2.2 3.2zM89.1 179.5h4.4l-2.2 3.2zM89.2 192h4.4l-2.2 3.2zM89.4 191.1h4.4l-2.2 3.2zM89.6 190.3h4.4l-2.2 3.2zM89.8 184.8h4.4l-2.2 3.2zM90 186.3h4.4l-2.2 3.2zM90.2 186.7h4.4l-2.2 3.2zM90.3 191.3h4.4l-2.2 3.2zM90.5 185.2h4.4l-2.2 3.2zM90.7 195.5h4.4l-2.2 3.2zM90.9 191h4.4l-2.2 3.2zM91.1 180.3h4.4l-2.2 3.2zM91.3 196.5h4.4l-2.2 3.2zM91.4 190.1h4.4l-2.2 3.2zM91.6 187.2h4.4l-2.2 3.2zM91.8 189.9h4.4l-2.2 3.2zM92 181.9h4.4l-2.2 3.2zM92.2 190.3h4.4l-2.2 3.2zM92.4 179.3h4.4l-2.2 3.2zM92.5 185.3h4.4l-2.2 3.2zM92.7 195.3h4.4l-2.2 3.2zM92.9 194.9h4.4l-2.2 3.2zM93.1 188.2h4.4l-2.2 3.2zM93.3 185.6h4.4l-2.2 3.2zM93.5 193.6h4.4l-2.2 3.2zM93.6 189.5h4.4l-2.2 3.2zM93.8 191.4h4.4l-2.2 3.2zM94 192.3h4.4l-2.2 3.2zM94.2 185.2h4.4l-2.2 3.2zM94.4 193.1h4.4l-2.2 3.2zM94.5 174.9h4.4l-2.2 3.2zM94.7 200.3h4.4l-2.2 3.2zM94.9 183.3h4.4l-2.2 3.2zM95.1 187.2h4.4l-2.2 3.2zM95.3 187.1h4.4l-2.2 3.2zM95.5 192.9h4.4l-2.2 3.2zM95.6 193h4.4l-2.2 3.2zM95.8 191.4h4.4l-2.2 3.2zM96 193.9h4.4l-2.2 3.2zM96.2 191.9h4.4l-2.2 3.2zM96.4 189.6h4.4l-2.2 3.2zM96.6 182h4.4l-2.2 3.2zM96.7 180.4h4.4l-2.2 3.2zM96.9 180.4h4.4l-2.2 3.2zM97.1 189.8h4.4l-2.2 3.2zM97.3 189.1h4.4l-2.2 3.2zM97.5 189.4h4.4l-2.2 3.2zM97.7 191h4.4l-2.2 3.2zM97.8 189.1h4.4l-2.2 3.2zM98 185.9h4.4l-2.2 3.2zM98.2 183.8h4.4l-2.2 3.2zM98.4 182.2h4.4l-2.2 3.2zM98.6 195.2h4.4l-2.2 3.2zM98.8 193.9h4.4l-2.2 3.2zM98.9 184.5h4.4l-2.2 3.2zM99.1 189h4.4l-2.2 3.2zM99.3 193.4h4.4l-2.2 3.2zM99.5 196.8h4.4l-2.2 3.2zM99.7 187.7h4.4l-2.2 3.2zM99.9 190.9h4.4l-2.2 3.2zM100 195h4.4l-2.2 3.2zM100.2 183h4.4l-2.2 3.2zM100.4 187.2h4.4l-2.2 3.2zM100.6 190.1h4.4l-2.2 3.2zM100.8 187.3h4.4l-2.2 3.2zM101 199.1h4.4l-2.2 3.2zM101.1 193.9h4.4l-2.2 3.2zM101.3 191.1h4.4l-2.2 3.2zM101.5 186.3h4.4l-2.2 3.2zM101.7 193.9h4.4l-2.2 3.2zM101.9 193h4.4l-2.2 3.2zM102.1 188.2h4.4l-2.2 3.2zM102.2 188.6h4.4l-2.2 3.2zM102.4 184.3h4.4l-2.2 3.2zM102.6 190.1h4.4l-2.2 3.2zM102.8 194h4.4l-2.2 3.2zM103 194.6h4.4l-2.2 3.2zM103.2 192.8h4.4l-2.2 3.2zM103.3 193.9h4.4l-2.2 3.2zM103.5 188h4.4l-2.2 3.2zM103.7 188.5h4.4l-2.2 3.2zM103.9 195.5h4.4l-2.2 3.2zM104.1 192.4h4.4l-2.2 3.2zM104.3 187.2h4.4l-2.2 3.2zM104.4 192.6h4.4l-2.2 3.2zM104.6 194h4.4l-2.2 3.2zM104.8 193.5h4.4l-2.2 3.2zM105 191h4.4l-2.2 3.2zM105.2 188.4h4.4l-2.2 3.2zM105.4 192.2h4.4l-2.2 3.2zM105.5 197.6h4.4l-2.2 3.2zM105.7 191.2h4.4l-2.2 3.2zM105.9 187.9h4.4l-2.2 3.2zM106.1 192h4.4l-2.2 3.2zM106.3 185.6h4.4l-2.2 3.2zM106.5 191.6h4.4l-2.2 3.2zM106.6 189.4h4.4l-2.2 3.2zM106.8 194.6h4.4l-2.2 3.2zM107 191.1h4.4l-2.2 3.2zM107.2 198.1h4.4l-2.2 3.2zM107.4 200.2h4.4l-2.2 3.2zM107.6 189.9h4.4l-2.2 3.2zM107.7 187.3h4.4l-2.2 3.2zM107.9 192.7h4.4l-2.2 3.2zM108.1 190.4h4.4l-2.2 3.2zM108.3 191.4h4.4l-2.2 3.2zM108.5 188.4h4.4l-2.2 3.2zM108.7 193.1h4.4l-2.2 3.2zM108.8 191.1h4.4l-2.2 3.2zM109 175.9h4.4l-2.2 3.2zM109.2 189.9h4.4l-2.2 3.2zM109.4 192.3h4.4l-2.2 3.2zM109.6 195.8h4.4l-2.2 3.2zM109.8 188.6h4.4l-2.2 3.2zM109.9 187.7h4.4l-2.2 3.2zM110.1 195.7h4.4l-2.2 3.2zM110.3 188.5h4.4l-2.2 3.2zM110.5 191.8h4.4l-2.2 3.2zM110.7 193h4.4l-2.2 3.2zM110.9 194.1h4.4l-2.2 3.2zM111 191.1h4.4l-2.2 3.2zM111.2 186.5h4.4l-2.2 3.2zM111.4 195.2h4.4l-2.2 3.2zM111.6 189.3h4.4l-2.2 3.2zM111.8 189h4.4l-2.2 3.2zM112 199.3h4.4l-2.2 3.2zM112.1 194.8h4.4l-2.2 3.2zM112.3 186.9h4.4l-2.2 3.2zM112.5 187.9h4.4l-2.2 3.2zM112.7 190.2h4.4l-2.2 3.2zM112.9 188.2h4.4l-2.2 3.2zM113.1 183.5h4.4l-2.2 3.2zM113.2 194.6h4.4l-2.2 3.2zM113.4 194.5h4.4l-2.2 3.2zM113.6 192.3h4.4l-2.2 3.2zM113.8 189.7h4.4l-2.2 3.2zM114 192.2h4.4l-2.2 3.2zM114.2 195.9h4.4l-2.2 3.2zM114.3 187.2h4.4l-2.2 3.2zM114.5 190.1h4.4l-2.2 3.2zM114.7 189.2h4.4l-2.2 3.2zM114.9 194.3h4.4l-2.2 3.2zM115.1 192.6h4.4l-2.2 3.2zM115.3 186.3h4.4l-2.2 3.2zM115.4 189.1h4.4l-2.2 3.2zM115.6 198.8h4.4l-2.2 3.2zM115.8 187.7h4.4l-2.2 3.2zM116 192.3h4.4l-2.2 3.2zM116.2 189.2h4.4l-2.2 3.2zM116.4 196.8h4.4l-2.2 3.2zM116.5 191.5h4.4l-2.2 3.2zM116.7 190h4.4l-2.2 3.2zM116.9 187.1h4.4l-2.2 3.2zM117.1 190.9h4.4l-2.2 3.2zM117.3 195.3h4.4l-2.2 3.2zM117.5 194.7h4.4l-2.2 3.2zM117.6 186.7h4.4l-2.2 3.2zM117.8 198.3h4.4l-2.2 3.2zM118 191.1h4.4l-2.2 3.2zM118.2 187.9h4.4l-2.2 3.2zM118.4 192.7h4.4l-2.2 3.2zM118.5 189.7h4.4l-2.2 3.2zM118.7 189.9h4.4l-2.2 3.2zM118.9 189.8h4.4l-2.2 3.2zM119.1 192h4.4l-2.2 3.2zM119.3 190.4h4.4l-2.2 3.2zM119.5 180.9h4.4l-2.2 3.2zM119.6 194.6h4.4l-2.2 3.2zM119.8 190.5h4.4l-2.2 3.2zM120 197.4h4.4l-2.2 3.2zM120.2 194.8h4.4l-2.2 3.2zM120.4 195.2h4.4l-2.2 3.2zM120.6 194h4.4l-2.2 3.2zM120.7 198h4.4l-2.2 3.2zM120.9 191.6h4.4l-2.2 3.2zM121.1 189h4.4l-2.2 3.2zM121.3 194.3h4.4l-2.2 3.2zM121.5 182.2h4.4l-2.2 3.2zM121.7 191.6h4.4l-2.2 3.2zM121.8 194h4.4l-2.2 3.2zM122 191.5h4.4l-2.2 3.2zM122.2 198.2h4.4l-2.2 3.2zM122.4 196.1h4.4l-2.2 3.2zM122.6 193.8h4.4l-2.2 3.2zM122.8 190.8h4.4l-2.2 3.2zM122.9 197.8h4.4l-2.2 3.2zM123.1 190.9h4.4l-2.2 3.2zM123.3 192h4.4l-2.2 3.2zM123.5 196.6h4.4l-2.2 3.2zM123.7 196.1h4.4l-2.2 3.2zM123.9 201.8h4.4l-2.2 3.2zM124 193h4.4l-2.2 3.2zM124.2 186.5h4.4l-2.2 3.2zM124.4 196.5h4.4l-2.2 3.2zM124.6 198.9h4.4l-2.2 3.2zM124.8 193.4h4.4l-2.2 3.2zM125 200.2h4.4l-2.2 3.2zM125.1 201.2h4.4l-2.2 3.2zM125.3 191.6h4.4l-2.2 3.2zM125.5 192.4h4.4l-2.2 3.2zM125.7 189.5h4.4l-2.2 3.2zM125.9 196.5h4.4l-2.2 3.2zM126.1 199.3h4.4l-2.2 3.2zM126.2 196.9h4.4l-2.2 3.2zM126.4 189.8h4.4l-2.2 3.2zM126.6 191.7h4.4l-2.2 3.2zM126.8 189.1h4.4l-2.2 3.2zM127 188.5h4.4l-2.2 3.2zM127.2 189.6h4.4l-2.2 3.2zM127.3 188.7h4.4l-2.2 3.2zM127.5 194.2h4.4l-2.2 3.2zM127.7 196.7h4.4l-2.2 3.2zM127.9 197.5h4.4l-2.2 3.2zM128.1 195h4.4l-2.2 3.2zM128.3 192.6h4.4l-2.2 3.2zM128.4 195.2h4.4l-2.2 3.2zM128.6 197.5h4.4l-2.2 3.2zM128.8 194.2h4.4l-2.2 3.2zM129 195.6h4.4l-2.2 3.2zM129.2 194.3h4.4l-2.2 3.2zM129.4 193.5h4.4l-2.2 3.2zM129.5 195.7h4.4l-2.2 3.2zM129.7 191.3h4.4l-2.2 3.2zM129.9 199.7h4.4l-2.2 3.2zM130.1 189.7h4.4l-2.2 3.2zM130.3 197.5h4.4l-2.2 3.2zM130.5 190.6h4.4l-2.2 3.2zM130.6 201.7h4.4l-2.2 3.2zM130.8 199.2h4.4l-2.2 3.2zM131 192.8h4.4l-2.2 3.2zM131.2 194.3h4.4l-2.2 3.2zM131.4 191.7h4.4l-2.2 3.2zM131.6 195.9h4.4l-2.2 3.2zM131.7 197.7h4.4l-2.2 3.2zM131.9 206h4.4l-2.2 3.2zM132.1 191h4.4l-2.2 3.2zM132.3 201h4.4l-2.2 3.2zM132.5 194.1h4.4l-2.2 3.2zM132.7 197.4h4.4l-2.2 3.2zM132.8 199.7h4.4l-2.2 3.2zM133 198.5h4.4l-2.2 3.2zM133.2 198.1h4.4l-2.2 3.2zM133.4 195.7h4.4l-2.2 3.2zM133.6 196.5h4.4l-2.2 3.2zM133.8 197.1h4.4l-2.2 3.2zM133.9 201.2h4.4l-2.2 3.2zM134.1 191.1h4.4l-2.2 3.2zM134.3 194.8h4.4l-2.2 3.2zM134.5 192h4.4l-2.2 3.2zM134.7 193.1h4.4l-2.2 3.2zM134.9 193.7h4.4l-2.2 3.2zM135 200.9h4.4l-2.2 3.2zM135.2 204.9h4.4l-2.2 3.2zM135.4 202h4.4l-2.2 3.2zM135.6 192.4h4.4l-2.2 3.2zM135.8 197.1h4.4l-2.2 3.2zM136 189.6h4.4l-2.2 3.2zM136.1 198.6h4.4l-2.2 3.2zM136.3 201.7h4.4l-2.2 3.2zM136.5 199.2h4.4l-2.2 3.2zM136.7 200.2h4.4l-2.2 3.2zM136.9 196.4h4.4l-2.2 3.2zM137.1 189.5h4.4l-2.2 3.2zM137.2 189.5h4.4l-2.2 3.2zM137.4 196.6h4.4l-2.2 3.2zM137.6 199.2h4.4l-2.2 3.2zM137.8 201.8h4.4l-2.2 3.2zM138 195.7h4.4l-2.2 3.2zM138.2 197.3h4.4l-2.2 3.2zM138.3 198h4.4l-2.2 3.2zM138.5 201h4.4l-2.2 3.2zM138.7 196.7h4.4l-2.2 3.2zM138.9 192.9h4.4l-2.2 3.2zM139.1 201.1h4.4l-2.2 3.2zM139.3 198.5h4.4l-2.2 3.2zM139.4 198.4h4.4l-2.2 3.2zM139.6 192.2h4.4l-2.2 3.2zM139.8 197h4.4l-2.2 3.2zM140 190.5h4.4l-2.2 3.2zM140.2 189.4h4.4l-2.2 3.2zM140.4 196.1h4.4l-2.2 3.2zM140.5 195.4h4.4l-2.2 3.2zM140.7 200.6h4.4l-2.2 3.2zM140.9 202.4h4.4l-2.2 3.2zM141.1 196.9h4.4l-2.2 3.2zM141.3 203.7h4.4l-2.2 3.2zM141.5 194.8h4.4l-2.2 3.2zM141.6 199.9h4.4l-2.2 3.2zM141.8 192.2h4.4l-2.2 3.2zM142 197.5h4.4l-2.2 3.2zM142.2 195.8h4.4l-2.2 3.2zM142.4 196.2h4.4l-2.2 3.2zM142.5 200.8h4.4l-2.2 3.2zM142.7 189.9h4.4l-2.2 3.2zM142.9 197.4h4.4l-2.2 3.2zM143.1 193.9h4.4l-2.2 3.2zM143.3 197.4h4.4l-2.2 3.2zM143.5 198.5h4.4l-2.2 3.2zM143.6 195.6h4.4l-2.2 3.2zM143.8 195.6h4.4l-2.2 3.2zM144 189.6h4.4l-2.2 3.2zM144.2 199.1h4.4l-2.2 3.2zM144.4 192.7h4.4l-2.2 3.2zM144.6 198.7h4.4l-2.2 3.2zM144.7 191.6h4.4l-2.2 3.2zM144.9 202.1h4.4l-2.2 3.2zM145.1 193.2h4.4l-2.2 3.2zM145.3 201.3h4.4l-2.2 3.2zM145.5 195.3h4.4l-2.2 3.2zM145.7 199h4.4l-2.2 3.2zM145.8 196.4h4.4l-2.2 3.2zM146 199.5h4.4l-2.2 3.2zM146.2 197h4.4l-2.2 3.2zM146.4 205.1h4.4l-2.2 3.2zM146.6 199.5h4.4l-2.2 3.2zM146.8 199.5h4.4l-2.2 3.2zM146.9 203.2h4.4l-2.2 3.2zM147.1 194.4h4.4l-2.2 3.2zM147.3 201.8h4.4l-2.2 3.2zM147.5 197.2h4.4l-2.2 3.2zM147.7 191.4h4.4l-2.2 3.2zM147.9 198.8h4.4l-2.2 3.2zM148 196.2h4.4l-2.2 3.2zM148.2 203.3h4.4l-2.2 3.2zM148.4 195.1h4.4l-2.2 3.2zM148.6 197.2h4.4l-2.2 3.2zM148.8 197.8h4.4l-2.2 3.2zM149 189.9h4.4l-2.2 3.2zM149.1 198.9h4.4l-2.2 3.2zM149.3 193.3h4.4l-2.2 3.2zM149.5 202.2h4.4l-2.2 3.2zM149.7 203.2h4.4l-2.2 3.2zM149.9 196.9h4.4l-2.2 3.2zM150.1 191h4.4l-2.2 3.2zM150.2 197.6h4.4l-2.2 3.2zM150.4 197.6h4.4l-2.2 3.2zM150.6 199.6h4.4l-2.2 3.2zM150.8 195.9h4.4l-2.2 3.2zM151 192.5h4.4l-2.2 3.2zM151.2 196.4h4.4l-2.2 3.2zM151.3 193.5h4.4l-2.2 3.2zM151.5 203.6h4.4l-2.2 3.2zM151.7 194.3h4.4l-2.2 3.2zM151.9 194.5h4.4l-2.2 3.2zM152.1 196.8h4.4l-2.2 3.2zM152.3 192.3h4.4l-2.2 3.2zM152.4 195.3h4.4l-2.2 3.2zM152.6 196.4h4.4l-2.2 3.2zM152.8 195.1h4.4l-2.2 3.2zM153 196h4.4l-2.2 3.2zM153.2 201.6h4.4l-2.2 3.2zM153.4 199.7h4.4l-2.2 3.2zM153.5 192h4.4l-2.2 3.2zM153.7 195.3h4.4l-2.2 3.2zM153.9 199.7h4.4l-2.2 3.2zM154.1 194.5h4.4l-2.2 3.2zM154.3 197.4h4.4l-2.2 3.2zM154.5 196.8h4.4l-2.2 3.2zM154.6 198.9h4.4l-2.2 3.2zM154.8 196.2h4.4l-2.2 3.2zM155 196.4h4.4l-2.2 3.2zM155.2 193.7h4.4l-2.2 3.2zM155.4 198.2h4.4l-2.2 3.2zM155.6 193.5h4.4l-2.2 3.2zM155.7 203.3h4.4l-2.2 3.2zM155.9 196.8h4.4l-2.2 3.2zM156.1 196h4.4l-2.2 3.2zM156.3 199.8h4.4l-2.2 3.2zM156.5 196.5h4.4l-2.2 3.2zM156.7 197h4.4l-2.2 3.2zM156.8 196.4h4.4l-2.2 3.2zM157 193.8h4.4l-2.2 3.2zM157.2 190.6h4.4l-2.2 3.2zM157.4 191.9h4.4l-2.2 3.2zM157.6 203.4h4.4l-2.2 3.2zM157.8 193.7h4.4l-2.2 3.2zM157.9 194.4h4.4l-2.2 3.2zM158.1 194.1h4.4l-2.2 3.2zM158.3 198.2h4.4l-2.2 3.2zM158.5 202.9h4.4l-2.2 3.2zM158.7 191.9h4.4l-2.2 3.2zM158.9 197.2h4.4l-2.2 3.2zM159 195.5h4.4l-2.2 3.2zM159.2 193.7h4.4l-2.2 3.2zM159.4 196.6h4.4l-2.2 3.2zM159.6 189.8h4.4l-2.2 3.2zM159.8 197.6h4.4l-2.2 3.2zM160 195.7h4.4l-2.2 3.2zM160.1 190.3h4.4l-2.2 3.2zM160.3 199.9h4.4l-2.2 3.2zM160.5 196.9h4.4l-2.2 3.2zM160.7 197.8h4.4l-2.2 3.2zM160.9 187.6h4.4l-2.2 3.2zM161.1 191.9h4.4l-2.2 3.2zM161.2 190.7h4.4l-2.2 3.2zM161.4 196.5h4.4l-2.2 3.2zM161.6 197.4h4.4l-2.2 3.2zM161.8 184.7h4.4l-2.2 3.2zM162 191.9h4.4l-2.2 3.2zM162.2 191.2h4.4l-2.2 3.2zM162.3 195.4h4.4l-2.2 3.2zM162.5 191.3h4.4l-2.2 3.2zM162.7 186.5h4.4l-2.2 3.2zM162.9 190.7h4.4l-2.2 3.2zM163.1 187.5h4.4l-2.2 3.2zM163.3 188.6h4.4l-2.2 3.2zM163.4 191.9h4.4l-2.2 3.2zM163.6 190h4.4l-2.2 3.2zM163.8 193.2h4.4l-2.2 3.2zM164 186.5h4.4l-2.2 3.2zM164.2 201.4h4.4l-2.2 3.2zM164.4 201h4.4l-2.2 3.2zM164.5 195.9h4.4l-2.2 3.2zM164.7 188.5h4.4l-2.2 3.2zM164.9 185.6h4.4l-2.2 3.2zM165.1 190.8h4.4l-2.2 3.2zM165.3 193.4h4.4l-2.2 3.2zM165.5 202.9h4.4l-2.2 3.2zM165.6 199.7h4.4l-2.2 3.2zM165.8 191.7h4.4l-2.2 3.2zM166 199.7h4.4l-2.2 3.2zM166.2 199.9h4.4l-2.2 3.2zM166.4 195.5h4.4l-2.2 3.2zM166.6 200.1h4.4l-2.2 3.2zM166.7 196.9h4.4l-2.2 3.2zM166.9 193.3h4.4l-2.2 3.2zM167.1 191.5h4.4l-2.2 3.2zM167.3 195.5h4.4l-2.2 3.2zM167.5 199.7h4.4l-2.2 3.2zM167.6 191.1h4.4l-2.2 3.2zM167.8 186.1h4.4l-2.2 3.2zM168 198.3h4.4l-2.2 3.2zM168.2 186.4h4.4l-2.2 3.2zM168.4 203.2h4.4l-2.2 3.2zM168.6 194.9h4.4l-2.2 3.2zM168.7 199.3h4.4l-2.2 3.2zM168.9 203.5h4.4l-2.2 3.2zM169.1 191.5h4.4l-2.2 3.2zM169.3 193h4.4l-2.2 3.2zM169.5 205.2h4.4l-2.2 3.2zM169.7 196h4.4l-2.2 3.2zM169.8 196.6h4.4l-2.2 3.2zM170 198h4.4l-2.2 3.2zM170.2 201.1h4.4l-2.2 3.2zM170.4 202.2h4.4l-2.2 3.2zM170.6 197.8h4.4l-2.2 3.2zM170.8 196.2h4.4l-2.2 3.2zM170.9 197.3h4.4l-2.2 3.2zM171.1 198.7h4.4l-2.2 3.2zM171.3 202.4h4.4l-2.2 3.2zM171.5 198.2h4.4l-2.2 3.2zM171.7 204.4h4.4l-2.2 3.2zM171.9 194.7h4.4l-2.2 3.2zM172 199.8h4.4l-2.2 3.2zM172.2 204.3h4.4l-2.2 3.2zM172.4 202.6h4.4l-2.2 3.2zM172.6 199.2h4.4l-2.2 3.2zM172.8 194.9h4.4l-2.2 3.2zM173 195.5h4.4l-2.2 3.2zM173.1 197.6h4.4l-2.2 3.2zM173.3 199.3h4.4l-2.2 3.2zM173.5 196.7h4.4l-2.2 3.2zM173.7 193h4.4l-2.2 3.2zM173.9 195.6h4.4l-2.2 3.2zM174.1 200.2h4.4l-2.2 3.2zM174.2 201.3h4.4l-2.2 3.2zM174.4 193.3h4.4l-2.2 3.2zM174.6 197h4.4l-2.2 3.2zM174.8 192.3h4.4l-2.2 3.2zM175 196.3h4.4l-2.2 3.2zM175.2 211.2h4.4l-2.2 3.2zM175.3 198.6h4.4l-2.2 3.2zM175.5 197.2h4.4l-2.2 3.2zM175.7 196.3h4.4l-2.2 3.2zM175.9 194h4.4l-2.2 3.2zM176.1 191.7h4.4l-2.2 3.2zM176.3 198.2h4.4l-2.2 3.2zM176.4 197.4h4.4l-2.2 3.2zM176.6 203.7h4.4l-2.2 3.2zM176.8 192.5h4.4l-2.2 3.2zM177 199.9h4.4l-2.2 3.2zM177.2 203.1h4.4l-2.2 3.2zM177.4 191.2h4.4l-2.2 3.2zM177.5 200.6h4.4l-2.2 3.2zM177.7 192.4h4.4l-2.2 3.2zM177.9 200.1h4.4l-2.2 3.2zM178.1 203.5h4.4l-2.2 3.2zM178.3 198.1h4.4l-2.2 3.2zM178.5 199.2h4.4l-2.2 3.2zM178.6 195.6h4.4l-2.2 3.2zM178.8 199.1h4.4l-2.2 3.2zM179 202.1h4.4l-2.2 3.2zM179.2 197.3h4.4l-2.2 3.2zM179.4 197.4h4.4l-2.2 3.2zM179.6 199.3h4.4l-2.2 3.2zM179.7 200.8h4.4l-2.2 3.2zM179.9 191.9h4.4l-2.2 3.2zM180.1 198h4.4l-2.2 3.2zM180.3 195.2h4.4l-2.2 3.2zM180.5 199.4h4.4l-2.2 3.2zM180.7 201.3h4.4l-2.2 3.2zM180.8 198.7h4.4l-2.2 3.2zM181 202.2h4.4l-2.2 3.2zM181.2 193.8h4.4l-2.2 3.2zM181.4 195.9h4.4l-2.2 3.2zM181.6 193.7h4.4l-2.2 3.2zM181.8 197.5h4.4l-2.2 3.2zM181.9 197.6h4.4l-2.2 3.2zM182.1 196.4h4.4l-2.2 3.2zM182.3 192.7h4.4l-2.2 3.2zM182.5 196.7h4.4l-2.2 3.2zM182.7 195.4h4.4l-2.2 3.2zM182.9 199.1h4.4l-2.2 3.2zM183 195.9h4.4l-2.2 3.2zM183.2 201h4.4l-2.2 3.2zM183.4 197.6h4.4l-2.2 3.2zM183.6 189.9h4.4l-2.2 3.2zM183.8 196h4.4l-2.2 3.2zM184 191.3h4.4l-2.2 3.2zM184.1 200h4.4l-2.2 3.2zM184.3 201.6h4.4l-2.2 3.2zM184.5 196.3h4.4l-2.2 3.2zM184.7 197.9h4.4l-2.2 3.2zM184.9 191h4.4l-2.2 3.2zM185.1 188h4.4l-2.2 3.2zM185.2 194.1h4.4l-2.2 3.2zM185.4 195.1h4.4l-2.2 3.2zM185.6 190.5h4.4l-2.2 3.2zM185.8 196.3h4.4l-2.2 3.2zM186 197h4.4l-2.2 3.2zM186.2 198.2h4.4l-2.2 3.2zM186.3 201.4h4.4l-2.2 3.2zM186.5 198.7h4.4l-2.2 3.2zM186.7 194.3h4.4l-2.2 3.2zM186.9 196h4.4l-2.2 3.2zM187.1 197.7h4.4l-2.2 3.2zM187.3 191.7h4.4l-2.2 3.2zM187.4 200.3h4.4l-2.2 3.2zM187.6 198.7h4.4l-2.2 3.2zM187.8 194.5h4.4l-2.2 3.2zM188 193h4.4l-2.2 3.2zM188.2 209.2h4.4l-2.2 3.2zM188.4 198.3h4.4l-2.2 3.2zM188.5 198.6h4.4l-2.2 3.2zM188.7 206.3h4.4l-2.2 3.2zM188.9 198.7h4.4l-2.2 3.2zM189.1 195.8h4.4l-2.2 3.2zM189.3 197.6h4.4l-2.2 3.2zM189.5 191.6h4.4l-2.2 3.2zM189.6 197.6h4.4l-2.2 3.2zM189.8 189.3h4.4l-2.2 3.2zM190 196.4h4.4l-2.2 3.2zM190.2 196.9h4.4l-2.2 3.2zM190.4 189.1h4.4l-2.2 3.2zM190.6 201.9h4.4l-2.2 3.2zM190.7 190.6h4.4l-2.2 3.2zM190.9 198.6h4.4l-2.2 3.2zM191.1 192.8h4.4l-2.2 3.2zM191.3 195.9h4.4l-2.2 3.2zM191.5 192.3h4.4l-2.2 3.2zM191.6 203.9h4.4l-2.2 3.2zM191.8 198.5h4.4l-2.2 3.2zM192 201.4h4.4l-2.2 3.2zM192.2 197.6h4.4l-2.2 3.2zM192.4 197.3h4.4l-2.2 3.2zM192.6 195.3h4.4l-2.2 3.2zM192.7 193.9h4.4l-2.2 3.2zM192.9 197h4.4l-2.2 3.2zM193.1 195.4h4.4l-2.2 3.2zM193.3 194.2h4.4l-2.2 3.2zM193.5 189.8h4.4l-2.2 3.2zM193.7 193.7h4.4l-2.2 3.2zM193.8 197h4.4l-2.2 3.2zM194 192h4.4l-2.2 3.2zM194.2 196.1h4.4l-2.2 3.2zM194.4 194.4h4.4l-2.2 3.2zM194.6 191.1h4.4l-2.2 3.2zM194.8 191.6h4.4l-2.2 3.2zM194.9 192.2h4.4l-2.2 3.2zM195.1 193.2h4.4l-2.2 3.2zM195.3 194h4.4l-2.2 3.2zM195.5 199.1h4.4l-2.2 3.2zM195.7 191h4.4l-2.2 3.2zM195.9 187.5h4.4l-2.2 3.2zM196 197.5h4.4l-2.2 3.2zM196.2 193.4h4.4l-2.2 3.2zM196.4 194.6h4.4l-2.2 3.2zM196.6 204.4h4.4l-2.2 3.2zM196.8 200.5h4.4l-2.2 3.2zM197 197.3h4.4l-2.2 3.2zM197.1 198.6h4.4l-2.2 3.2zM197.3 196h4.4l-2.2 3.2zM197.5 198.7h4.4l-2.2 3.2zM197.7 193h4.4l-2.2 3.2zM197.9 192.6h4.4l-2.2 3.2zM198.1 193.6h4.4l-2.2 3.2zM198.2 201h4.4l-2.2 3.2zM198.4 201h4.4l-2.2 3.2zM198.6 193.1h4.4l-2.2 3.2zM198.8 199.6h4.4l-2.2 3.2zM199 194.8h4.4l-2.2 3.2zM199.2 202.1h4.4l-2.2 3.2zM199.3 194.2h4.4l-2.2 3.2zM199.5 198.9h4.4l-2.2 3.2zM199.7 195h4.4l-2.2 3.2zM199.9 194.4h4.4l-2.2 3.2zM200.1 195.4h4.4l-2.2 3.2zM200.3 196h4.4l-2.2 3.2zM200.4 193.4h4.4l-2.2 3.2zM200.6 190.5h4.4l-2.2 3.2zM200.8 201.6h4.4l-2.2 3.2zM201 194.1h4.4l-2.2 3.2zM201.2 188.9h4.4l-2.2 3.2zM201.4 187.3h4.4l-2.2 3.2zM201.5 185.3h4.4l-2.2 3.2zM201.7 193.3h4.4l-2.2 3.2zM201.9 200.5h4.4l-2.2 3.2zM202.1 189.6h4.4l-2.2 3.2zM202.3 194.3h4.4l-2.2 3.2zM202.5 188.7h4.4l-2.2 3.2zM202.6 199.4h4.4l-2.2 3.2zM202.8 196.6h4.4l-2.2 3.2zM203 196.3h4.4l-2.2 3.2zM203.2 200h4.4l-2.2 3.2zM203.4 200.9h4.4l-2.2 3.2zM203.6 198.6h4.4l-2.2 3.2zM203.7 192.5h4.4l-2.2 3.2zM203.9 189.6h4.4l-2.2 3.2zM204.1 190.5h4.4l-2.2 3.2zM204.3 187.7h4.4l-2.2 3.2zM204.5 200.6h4.4l-2.2 3.2zM204.7 193.1h4.4l-2.2 3.2zM204.8 194.1h4.4l-2.2 3.2zM205 194.1h4.4l-2.2 3.2zM205.2 206h4.4l-2.2 3.2zM205.4 190.9h4.4l-2.2 3.2zM205.6 197.2h4.4l-2.2 3.2zM205.8 193.7h4.4l-2.2 3.2zM205.9 191.8h4.4l-2.2 3.2zM206.1 185h4.4l-2.2 3.2zM206.3 195.3h4.4l-2.2 3.2zM206.5 188.8h4.4l-2.2 3.2zM206.7 189.6h4.4l-2.2 3.2zM206.9 191.8h4.4l-2.2 3.2zM207 191h4.4l-2.2 3.2zM207.2 194.5h4.4l-2.2 3.2zM207.4 187.3h4.4l-2.2 3.2zM207.6 190.1h4.4l-2.2 3.2zM207.8 190.1h4.4l-2.2 3.2zM208 188.7h4.4l-2.2 3.2zM208.1 190.8h4.4l-2.2 3.2zM208.3 186.7h4.4l-2.2 3.2zM208.5 191.9h4.4l-2.2 3.2zM208.7 184h4.4l-2.2 3.2zM208.9 180.7h4.4l-2.2 3.2zM209.1 185.6h4.4l-2.2 3.2zM209.2 189.8h4.4l-2.2 3.2zM209.4 182.7h4.4l-2.2 3.2zM209.6 181.7h4.4l-2.2 3.2zM209.8 182.2h4.4l-2.2 3.2zM210 183.7h4.4l-2.2 3.2zM210.2 181.7h4.4l-2.2 3.2zM210.3 184h4.4l-2.2 3.2zM210.5 174.1h4.4l-2.2 3.2zM210.7 186.4h4.4l-2.2 3.2zM210.9 181.9h4.4l-2.2 3.2zM211.1 175.2h4.4l-2.2 3.2zM211.3 183.5h4.4l-2.2 3.2zM211.4 178.9h4.4l-2.2 3.2zM211.6 182.3h4.4l-2.2 3.2zM211.8 170.3h4.4l-2.2 3.2zM212 181.3h4.4l-2.2 3.2zM212.2 173.6h4.4l-2.2 3.2zM212.4 163.7h4.4l-2.2 3.2zM212.5 174.8h4.4l-2.2 3.2zM212.7 169.4h4.4l-2.2 3.2zM212.9 165.4h4.4l-2.2 3.2zM213.1 168h4.4l-2.2 3.2zM213.3 159.5h4.4l-2.2 3.2zM213.5 171.7h4.4l-2.2 3.2zM213.6 165.4h4.4l-2.2 3.2zM213.8 164.3h4.4l-2.2 3.2zM214 171h4.4l-2.2 3.2zM214.2 164h4.4l-2.2 3.2zM214.4 158.1h4.4l-2.2 3.2zM214.6 157.9h4.4l-2.2 3.2zM214.7 161.1h4.4l-2.2 3.2zM214.9 165.4h4.4l-2.2 3.2zM215.1 157h4.4l-2.2 3.2zM215.3 154h4.4l-2.2 3.2zM215.5 162.3h4.4l-2.2 3.2zM215.6 157.5h4.4l-2.2 3.2zM215.8 156.3h4.4l-2.2 3.2zM216 165.5h4.4l-2.2 3.2zM216.2 149.1h4.4l-2.2 3.2zM216.4 155.1h4.4l-2.2 3.2zM216.6 145h4.4l-2.2 3.2zM216.7 151.3h4.4l-2.2 3.2zM216.9 155h4.4l-2.2 3.2zM217.1 157h4.4l-2.2 3.2zM217.3 144.8h4.4l-2.2 3.2zM217.5 154.4h4.4l-2.2 3.2zM217.7 153.6h4.4l-2.2 3.2zM217.8 148.6h4.4l-2.2 3.2zM218 160.8h4.4l-2.2 3.2zM218.2 148.2h4.4l-2.2 3.2zM218.4 143.4h4.4l-2.2 3.2zM218.6 149.5h4.4l-2.2 3.2zM218.8 137.9h4.4l-2.2 3.2zM218.9 154.7h4.4l-2.2 3.2zM219.1 151.6h4.4l-2.2 3.2zM219.3 144.5h4.4l-2.2 3.2zM219.5 149.4h4.4l-2.2 3.2zM219.7 148.8h4.4l-2.2 3.2zM219.9 155.7h4.4l-2.2 3.2zM220 142.9h4.4l-2.2 3.2zM220.2 139.5h4.4l-2.2 3.2zM220.4 135.8h4.4l-2.2 3.2zM220.6 144.5h4.4l-2.2 3.2zM220.8 138.3h4.4l-2.2 3.2zM221 145.3h4.4l-2.2 3.2zM221.1 148.4h4.4l-2.2 3.2zM221.3 144.4h4.4l-2.2 3.2zM221.5 142.1h4.4l-2.2 3.2zM221.7 152.9h4.4l-2.2 3.2zM221.9 146.2h4.4l-2.2 3.2zM222.1 148.7h4.4l-2.2 3.2zM222.2 152.6h4.4l-2.2 3.2zM222.4 142.1h4.4l-2.2 3.2zM222.6 144.5h4.4l-2.2 3.2zM222.8 161.7h4.4l-2.2 3.2zM223 149h4.4l-2.2 3.2zM223.2 145.7h4.4l-2.2 3.2zM223.3 150h4.4l-2.2 3.2zM223.5 149h4.4l-2.2 3.2zM223.7 146.3h4.4l-2.2 3.2zM223.9 150.8h4.4l-2.2 3.2zM224.1 153.2h4.4l-2.2 3.2zM224.3 153.7h4.4l-2.2 3.2zM224.4 156.9h4.4l-2.2 3.2zM224.6 146.7h4.4l-2.2 3.2zM224.8 148.3h4.4l-2.2 3.2zM225 159.6h4.4l-2.2 3.2zM225.2 154.3h4.4l-2.2 3.2zM225.4 162.6h4.4l-2.2 3.2zM225.5 158.9h4.4l-2.2 3.2zM225.7 151.5h4.4l-2.2 3.2zM225.9 161h4.4l-2.2 3.2zM226.1 154.4h4.4l-2.2 3.2zM226.3 160.7h4.4l-2.2 3.2zM226.5 165.6h4.4l-2.2 3.2zM226.6 170.1h4.4l-2.2 3.2zM226.8 160.7h4.4l-2.2 3.2zM227 164.7h4.4l-2.2 3.2zM227.2 163.4h4.4l-2.2 3.2zM227.4 166.1h4.4l-2.2 3.2zM227.6 151.6h4.4l-2.2 3.2zM227.7 161.8h4.4l-2.2 3.2zM227.9 165.3h4.4l-2.2 3.2zM228.1 166.6h4.4l-2.2 3.2zM228.3 161.7h4.4l-2.2 3.2zM228.5 169.1h4.4l-2.2 3.2zM228.7 170.8h4.4l-2.2 3.2zM228.8 166.8h4.4l-2.2 3.2zM229 166h4.4l-2.2 3.2zM229.2 165.9h4.4l-2.2 3.2zM229.4 168.5h4.4l-2.2 3.2zM229.6 173.5h4.4l-2.2 3.2zM229.8 175.3h4.4l-2.2 3.2zM229.9 167.4h4.4l-2.2 3.2zM230.1 165.9h4.4l-2.2 3.2zM230.3 166.9h4.4l-2.2 3.2zM230.5 175h4.4l-2.2 3.2zM230.7 173h4.4l-2.2 3.2zM230.9 173h4.4l-2.2 3.2zM231 174.2h4.4l-2.2 3.2zM231.2 174.2h4.4l-2.2 3.2zM231.4 172.6h4.4l-2.2 3.2zM231.6 169.2h4.4l-2.2 3.2zM231.8 171.5h4.4l-2.2 3.2zM232 175h4.4l-2.2 3.2zM232.1 176.6h4.4l-2.2 3.2zM232.3 173.9h4.4l-2.2 3.2zM232.5 174.2h4.4l-2.2 3.2zM232.7 181.9h4.4l-2.2 3.2zM232.9 174.9h4.4l-2.2 3.2zM233.1 178.1h4.4l-2.2 3.2zM233.2 176.4h4.4l-2.2 3.2zM233.4 174.7h4.4l-2.2 3.2zM233.6 172.5h4.4l-2.2 3.2zM233.8 176.9h4.4l-2.2 3.2zM234 174h4.4l-2.2 3.2zM234.2 183.2h4.4l-2.2 3.2zM234.3 175.8h4.4l-2.2 3.2zM234.5 179.1h4.4l-2.2 3.2zM234.7 183.7h4.4l-2.2 3.2zM234.9 181.1h4.4l-2.2 3.2zM235.1 183.9h4.4l-2.2 3.2zM235.3 185.6h4.4l-2.2 3.2zM235.4 176.3h4.4l-2.2 3.2zM235.6 181.6h4.4l-2.2 3.2zM235.8 177.4h4.4l-2.2 3.2zM236 189.1h4.4l-2.2 3.2zM236.2 183.9h4.4l-2.2 3.2zM236.4 186.6h4.4l-2.2 3.2zM236.5 191.6h4.4l-2.2 3.2zM236.7 184.1h4.4l-2.2 3.2zM236.9 186.4h4.4l-2.2 3.2zM237.1 187.8h4.4l-2.2 3.2zM237.3 185.6h4.4l-2.2 3.2zM237.5 195.1h4.4l-2.2 3.2zM237.6 190.4h4.4l-2.2 3.2zM237.8 191.4h4.4l-2.2 3.2zM238 188.2h4.4l-2.2 3.2zM238.2 187.1h4.4l-2.2 3.2zM238.4 187.4h4.4l-2.2 3.2zM238.6 187.8h4.4l-2.2 3.2zM238.7 183.4h4.4l-2.2 3.2zM238.9 192.1h4.4l-2.2 3.2zM239.1 193h4.4l-2.2 3.2zM239.3 190.4h4.4l-2.2 3.2zM239.5 188.9h4.4l-2.2 3.2zM239.6 191.1h4.4l-2.2 3.2zM239.8 192.1h4.4l-2.2 3.2zM240 192.7h4.4l-2.2 3.2zM240.2 198.3h4.4l-2.2 3.2zM240.4 189.1h4.4l-2.2 3.2zM240.6 193.7h4.4l-2.2 3.2zM240.7 195.1h4.4l-2.2 3.2zM240.9 193.2h4.4l-2.2 3.2zM241.1 192.4h4.4l-2.2 3.2zM241.3 189.8h4.4l-2.2 3.2zM241.5 191.6h4.4l-2.2 3.2zM241.7 196.5h4.4l-2.2 3.2zM241.8 199.4h4.4l-2.2 3.2zM242 192.2h4.4l-2.2 3.2zM242.2 196.4h4.4l-2.2 3.2zM242.4 196.8h4.4l-2.2 3.2zM242.6 198.8h4.4l-2.2 3.2zM242.8 196.4h4.4l-2.2 3.2zM242.9 197.3h4.4l-2.2 3.2zM243.1 199.1h4.4l-2.2 3.2zM243.3 192.2h4.4l-2.2 3.2zM243.5 196.6h4.4l-2.2 3.2zM243.7 190.6h4.4l-2.2 3.2zM243.9 190.1h4.4l-2.2 3.2zM244 194.3h4.4l-2.2 3.2zM244.2 192h4.4l-2.2 3.2zM244.4 199.2h4.4l-2.2 3.2zM244.6 201.1h4.4l-2.2 3.2zM244.8 196.8h4.4l-2.2 3.2zM245 197.6h4.4l-2.2 3.2zM245.1 197h4.4l-2.2 3.2zM245.3 197.5h4.4l-2.2 3.2zM245.5 199h4.4l-2.2 3.2zM245.7 199.9h4.4l-2.2 3.2zM245.9 197.3h4.4l-2.2 3.2zM246.1 196.4h4.4l-2.2 3.2zM246.2 197.4h4.4l-2.2 3.2zM246.4 201.9h4.4l-2.2 3.2zM246.6 198h4.4l-2.2 3.2zM246.8 204.3h4.4l-2.2 3.2zM247 198.8h4.4l-2.2 3.2zM247.2 204.3h4.4l-2.2 3.2zM247.3 195.9h4.4l-2.2 3.2zM247.5 197.7h4.4l-2.2 3.2zM247.7 201.7h4.4l-2.2 3.2zM247.9 201.8h4.4l-2.2 3.2zM248.1 199.8h4.4l-2.2 3.2zM248.3 207.1h4.4l-2.2 3.2zM248.4 200.7h4.4l-2.2 3.2zM248.6 201.6h4.4l-2.2 3.2zM248.8 198.8h4.4l-2.2 3.2zM249 206.2h4.4l-2.2 3.2zM249.2 203.7h4.4l-2.2 3.2zM249.4 202.3h4.4l-2.2 3.2zM249.5 195.7h4.4l-2.2 3.2zM249.7 202.3h4.4l-2.2 3.2zM249.9 199.7h4.4l-2.2 3.2zM250.1 202.6h4.4l-2.2 3.2zM250.3 204.4h4.4l-2.2 3.2zM250.5 199h4.4l-2.2 3.2zM250.6 202.3h4.4l-2.2 3.2zM250.8 204.5h4.4l-2.2 3.2zM251 202.2h4.4l-2.2 3.2zM251.2 200.7h4.4l-2.2 3.2zM251.4 198.4h4.4l-2.2 3.2zM251.6 199.8h4.4l-2.2 3.2zM251.7 195.1h4.4l-2.2 3.2zM251.9 207.6h4.4l-2.2 3.2zM252.1 202.5h4.4l-2.2 3.2zM252.3 198.3h4.4l-2.2 3.2zM252.5 202.2h4.4l-2.2 3.2zM252.7 198.2h4.4l-2.2 3.2zM252.8 191.8h4.4l-2.2 3.2zM253 206.3h4.4l-2.2 3.2zM253.2 206.3h4.4l-2.2 3.2zM253.4 197.8h4.4l-2.2 3.2zM253.6 200.3h4.4l-2.2 3.2zM253.8 203.4h4.4l-2.2 3.2zM253.9 201.5h4.4l-2.2 3.2zM254.1 200.1h4.4l-2.2 3.2zM254.3 201.2h4.4l-2.2 3.2zM254.5 202.2h4.4l-2.2 3.2zM254.7 201.2h4.4l-2.2 3.2zM254.9 203.7h4.4l-2.2 3.2zM255 202.4h4.4l-2.2 3.2zM255.2 200.7h4.4l-2.2 3.2zM255.4 203.3h4.4l-2.2 3.2zM255.6 198h4.4l-2.2 3.2zM255.8 211.2h4.4l-2.2 3.2zM256 197.8h4.4l-2.2 3.2zM256.1 203.2h4.4l-2.2 3.2zM256.3 205.4h4.4l-2.2 3.2zM256.5 204.8h4.4l-2.2 3.2zM256.7 204.4h4.4l-2.2 3.2zM256.9 210.5h4.4l-2.2 3.2zM257.1 200.1h4.4l-2.2 3.2zM257.2 203.4h4.4l-2.2 3.2zM257.4 204.1h4.4l-2.2 3.2zM257.6 202.1h4.4l-2.2 3.2zM257.8 201.9h4.4l-2.2 3.2zM258 207.8h4.4l-2.2 3.2zM258.2 201.5h4.4l-2.2 3.2zM258.3 202.3h4.4l-2.2 3.2zM258.5 202.9h4.4l-2.2 3.2zM258.7 203.2h4.4l-2.2 3.2zM258.9 204.3h4.4l-2.2 3.2zM259.1 203.2h4.4l-2.2 3.2zM259.3 205h4.4l-2.2 3.2zM259.4 204.3h4.4l-2.2 3.2zM259.6 205.4h4.4l-2.2 3.2zM259.8 208.2h4.4l-2.2 3.2zM260 201.3h4.4l-2.2 3.2zM260.2 209.1h4.4l-2.2 3.2zM260.4 202.5h4.4l-2.2 3.2zM260.5 206.1h4.4l-2.2 3.2zM260.7 204.5h4.4l-2.2 3.2zM260.9 203.1h4.4l-2.2 3.2zM261.1 197.8h4.4l-2.2 3.2zM261.3 209.1h4.4l-2.2 3.2zM261.5 201.7h4.4l-2.2 3.2zM261.6 201.6h4.4l-2.2 3.2zM261.8 207.4h4.4l-2.2 3.2zM262 204.3h4.4l-2.2 3.2zM262.2 210h4.4l-2.2 3.2zM262.4 209.4h4.4l-2.2 3.2zM262.6 206.3h4.4l-2.2 3.2zM262.7 204.9h4.4l-2.2 3.2zM262.9 206.5h4.4l-2.2 3.2zM263.1 200h4.4l-2.2 3.2zM263.3 204.7h4.4l-2.2 3.2zM263.5 204.6h4.4l-2.2 3.2zM263.6 202.7h4.4l-2.2 3.2zM263.8 205h4.4l-2.2 3.2zM264 199.6h4.4l-2.2 3.2zM264.2 207h4.4l-2.2 3.2zM264.4 208.2h4.4l-2.2 3.2zM264.6 200.2h4.4l-2.2 3.2zM264.7 204.7h4.4l-2.2 3.2zM264.9 209h4.4l-2.2 3.2zM265.1 205.5h4.4l-2.2 3.2zM265.3 201h4.4l-2.2 3.2zM265.5 201.2h4.4l-2.2 3.2zM265.7 206.9h4.4l-2.2 3.2zM265.8 210h4.4l-2.2 3.2zM266 200.9h4.4l-2.2 3.2zM266.2 204.4h4.4l-2.2 3.2zM266.4 201.9h4.4l-2.2 3.2zM266.6 203.4h4.4l-2.2 3.2zM266.8 205.3h4.4l-2.2 3.2zM266.9 204.2h4.4l-2.2 3.2zM267.1 202.2h4.4l-2.2 3.2zM267.3 210.9h4.4l-2.2 3.2zM267.5 203.9h4.4l-2.2 3.2zM267.7 203.8h4.4l-2.2 3.2zM267.9 207.8h4.4l-2.2 3.2zM268 204.4h4.4l-2.2 3.2zM268.2 203.7h4.4l-2.2 3.2zM268.4 207.3h4.4l-2.2 3.2zM268.6 201.2h4.4l-2.2 3.2zM268.8 206.7h4.4l-2.2 3.2zM269 207.6h4.4l-2.2 3.2zM269.1 206.4h4.4l-2.2 3.2zM269.3 203.9h4.4l-2.2 3.2zM269.5 204.4h4.4l-2.2 3.2zM269.7 199.1h4.4l-2.2 3.2zM269.9 204h4.4l-2.2 3.2zM270.1 205.3h4.4l-2.2 3.2zM270.2 207.1h4.4l-2.2 3.2zM270.4 204.9h4.4l-2.2 3.2zM270.6 203.2h4.4l-2.2 3.2zM270.8 201.9h4.4l-2.2 3.2zM271 204.3h4.4l-2.2 3.2zM271.2 205.2h4.4l-2.2 3.2zM271.3 208.2h4.4l-2.2 3.2zM271.5 204.5h4.4l-2.2 3.2zM271.7 202.9h4.4l-2.2 3.2zM271.9 204.1h4.4l-2.2 3.2zM272.1 203h4.4l-2.2 3.2zM272.3 203.7h4.4l-2.2 3.2zM272.4 197.7h4.4l-2.2 3.2zM272.6 199.6h4.4l-2.2 3.2zM272.8 200.8h4.4l-2.2 3.2zM273 206.9h4.4l-2.2 3.2zM273.2 204.2h4.4l-2.2 3.2zM273.4 204.9h4.4l-2.2 3.2zM273.5 208h4.4l-2.2 3.2zM273.7 201.3h4.4l-2.2 3.2zM273.9 208h4.4l-2.2 3.2zM274.1 205.6h4.4l-2.2 3.2zM274.3 202.2h4.4l-2.2 3.2zM274.5 209h4.4l-2.2 3.2zM274.6 200h4.4l-2.2 3.2zM274.8 200.9h4.4l-2.2 3.2zM275 203.7h4.4l-2.2 3.2zM275.2 205.6h4.4l-2.2 3.2zM275.4 203.7h4.4l-2.2 3.2zM275.6 197.7h4.4l-2.2 3.2zM275.7 203.3h4.4l-2.2 3.2zM275.9 203.9h4.4l-2.2 3.2zM276.1 211.9h4.4l-2.2 3.2zM276.3 208.3h4.4l-2.2 3.2zM276.5 204.4h4.4l-2.2 3.2zM276.7 198.4h4.4l-2.2 3.2zM276.8 205h4.4l-2.2 3.2zM277 200.3h4.4l-2.2 3.2zM277.2 204.5h4.4l-2.2 3.2zM277.4 204.9h4.4l-2.2 3.2zM277.6 202.5h4.4l-2.2 3.2zM277.8 204.4h4.4l-2.2 3.2zM277.9 202.6h4.4l-2.2 3.2zM278.1 201.8h4.4l-2.2 3.2zM278.3 208.2h4.4l-2.2 3.2zM278.5 205.2h4.4l-2.2 3.2zM278.7 202.4h4.4l-2.2 3.2zM278.9 200.9h4.4l-2.2 3.2zM279 203.7h4.4l-2.2 3.2zM279.2 204.8h4.4l-2.2 3.2zM279.4 205.6h4.4l-2.2 3.2zM279.6 207.5h4.4l-2.2 3.2zM279.8 204.3h4.4l-2.2 3.2zM280 199.3h4.4l-2.2 3.2zM280.1 209h4.4l-2.2 3.2zM280.3 206.2h4.4l-2.2 3.2zM280.5 205.1h4.4l-2.2 3.2zM280.7 206.6h4.4l-2.2 3.2zM280.9 197.8h4.4l-2.2 3.2zM281.1 201.1h4.4l-2.2 3.2zM281.2 200.6h4.4l-2.2 3.2zM281.4 205.8h4.4l-2.2 3.2zM281.6 198.4h4.4l-2.2 3.2zM281.8 201h4.4l-2.2 3.2zM282 206.6h4.4l-2.2 3.2zM282.2 203.8h4.4l-2.2 3.2zM282.3 200.5h4.4l-2.2 3.2zM282.5 207.4h4.4l-2.2 3.2zM282.7 197.3h4.4l-2.2 3.2zM282.9 202.7h4.4l-2.2 3.2zM283.1 200.5h4.4l-2.2 3.2zM283.3 202.6h4.4l-2.2 3.2zM283.4 200.1h4.4l-2.2 3.2zM283.6 198.2h4.4l-2.2 3.2zM283.8 201.3h4.4l-2.2 3.2zM284 196.4h4.4l-2.2 3.2zM284.2 202h4.4l-2.2 3.2zM284.4 199.1h4.4l-2.2 3.2zM284.5 204.9h4.4l-2.2 3.2zM284.7 198.4h4.4l-2.2 3.2zM284.9 197.5h4.4l-2.2 3.2zM285.1 200.7h4.4l-2.2 3.2zM285.3 203.2h4.4l-2.2 3.2zM285.5 192.6h4.4l-2.2 3.2zM285.6 199.3h4.4l-2.2 3.2zM285.8 200.7h4.4l-2.2 3.2zM286 194.1h4.4l-2.2 3.2zM286.2 195.6h4.4l-2.2 3.2zM286.4 200.2h4.4l-2.2 3.2zM286.6 195.4h4.4l-2.2 3.2zM286.7 195.8h4.4l-2.2 3.2zM286.9 203.1h4.4l-2.2 3.2zM287.1 194.4h4.4l-2.2 3.2zM287.3 194.5h4.4l-2.2 3.2zM287.5 189.6h4.4l-2.2 3.2zM287.6 193.3h4.4l-2.2 3.2zM287.8 189.9h4.4l-2.2 3.2zM288 201.9h4.4l-2.2 3.2zM288.2 200.1h4.4l-2.2 3.2zM288.4 191.9h4.4l-2.2 3.2zM288.6 202.1h4.4l-2.2 3.2zM288.7 198h4.4l-2.2 3.2zM288.9 194.6h4.4l-2.2 3.2zM289.1 197.6h4.4l-2.2 3.2zM289.3 196h4.4l-2.2 3.2zM289.5 192h4.4l-2.2 3.2zM289.7 188.6h4.4l-2.2 3.2zM289.8 191.1h4.4l-2.2 3.2zM290 193.9h4.4l-2.2 3.2zM290.2 192.5h4.4l-2.2 3.2zM290.4 191.1h4.4l-2.2 3.2zM290.6 196.6h4.4l-2.2 3.2zM290.8 189.7h4.4l-2.2 3.2zM290.9 198h4.4l-2.2 3.2zM291.1 191.2h4.4l-2.2 3.2zM291.3 193h4.4l-2.2 3.2zM291.5 188.7h4.4l-2.2 3.2zM291.7 192.2h4.4l-2.2 3.2zM291.9 189.5h4.4l-2.2 3.2zM292 186.2h4.4l-2.2 3.2zM292.2 191.8h4.4l-2.2 3.2zM292.4 191.6h4.4l-2.2 3.2zM292.6 194.5h4.4l-2.2 3.2zM292.8 192.7h4.4l-2.2 3.2zM293 188.4h4.4l-2.2 3.2zM293.1 189.7h4.4l-2.2 3.2zM293.3 183.6h4.4l-2.2 3.2zM293.5 188.2h4.4l-2.2 3.2zM293.7 196.4h4.4l-2.2 3.2zM293.9 200.8h4.4l-2.2 3.2zM294.1 194.9h4.4l-2.2 3.2zM294.2 193.6h4.4l-2.2 3.2zM294.4 194.7h4.4l-2.2 3.2zM294.6 194.5h4.4l-2.2 3.2zM294.8 187.4h4.4l-2.2 3.2zM295 190.4h4.4l-2.2 3.2zM295.2 197.4h4.4l-2.2 3.2zM295.3 197.5h4.4l-2.2 3.2zM295.5 194.6h4.4l-2.2 3.2zM295.7 193.1h4.4l-2.2 3.2zM295.9 193.1h4.4l-2.2 3.2zM296.1 192.8h4.4l-2.2 3.2zM296.3 191.8h4.4l-2.2 3.2zM296.4 188.9h4.4l-2.2 3.2zM296.6 195.8h4.4l-2.2 3.2zM296.8 194.2h4.4l-2.2 3.2zM297 195.2h4.4l-2.2 3.2zM297.2 201.7h4.4l-2.2 3.2zM297.4 198.4h4.4l-2.2 3.2zM297.5 194.5h4.4l-2.2 3.2zM297.7 198.8h4.4l-2.2 3.2zM297.9 192.5h4.4l-2.2 3.2zM298.1 200.8h4.4l-2.2 3.2zM298.3 198.5h4.4l-2.2 3.2zM298.5 197.3h4.4l-2.2 3.2zM298.6 199.9h4.4l-2.2 3.2zM298.8 202.9h4.4l-2.2 3.2zM299 197h4.4l-2.2 3.2zM299.2 195.6h4.4l-2.2 3.2zM299.4 205.5h4.4l-2.2 3.2zM299.6 199.2h4.4l-2.2 3.2zM299.7 204h4.4l-2.2 3.2zM299.9 197.4h4.4l-2.2 3.2zM300.1 200.9h4.4l-2.2 3.2zM300.3 197.9h4.4l-2.2 3.2zM300.5 202.1h4.4l-2.2 3.2zM300.7 199.4h4.4l-2.2 3.2zM300.8 197h4.4l-2.2 3.2zM301 205.5h4.4l-2.2 3.2zM301.2 201.9h4.4l-2.2 3.2zM301.4 194.8h4.4l-2.2 3.2zM301.6 200.5h4.4l-2.2 3.2zM301.8 198.6h4.4l-2.2 3.2zM301.9 197.8h4.4l-2.2 3.2zM302.1 199.9h4.4l-2.2 3.2zM302.3 200.4h4.4l-2.2 3.2zM302.5 202.1h4.4l-2.2 3.2zM302.7 199.7h4.4l-2.2 3.2zM302.9 196.5h4.4l-2.2 3.2zM303 200.7h4.4l-2.2 3.2zM303.2 205.1h4.4l-2.2 3.2zM303.4 198.4h4.4l-2.2 3.2zM303.6 204.5h4.4l-2.2 3.2zM303.8 204.1h4.4l-2.2 3.2zM304 201.4h4.4l-2.2 3.2zM304.1 203.8h4.4l-2.2 3.2zM304.3 200.6h4.4l-2.2 3.2zM304.5 201.7h4.4l-2.2 3.2zM304.7 199.9h4.4l-2.2 3.2zM304.9 204.4h4.4l-2.2 3.2zM305.1 207.2h4.4l-2.2 3.2zM305.2 199.6h4.4l-2.2 3.2zM305.4 206.8h4.4l-2.2 3.2zM305.6 196.8h4.4l-2.2 3.2zM305.8 200.6h4.4l-2.2 3.2zM306 200.3h4.4l-2.2 3.2zM306.2 208.6h4.4l-2.2 3.2zM306.3 201.6h4.4l-2.2 3.2zM306.5 205.8h4.4l-2.2 3.2zM306.7 197.3h4.4l-2.2 3.2zM306.9 203.9h4.4l-2.2 3.2zM307.1 205.3h4.4l-2.2 3.2zM307.3 203.5h4.4l-2.2 3.2zM307.4 195.5h4.4l-2.2 3.2zM307.6 204.6h4.4l-2.2 3.2zM307.8 206.2h4.4l-2.2 3.2zM308 207.8h4.4l-2.2 3.2zM308.2 205.9h4.4l-2.2 3.2zM308.4 198.8h4.4l-2.2 3.2zM308.5 203.3h4.4l-2.2 3.2zM308.7 206.7h4.4l-2.2 3.2zM308.9 201.6h4.4l-2.2 3.2zM309.1 205.8h4.4l-2.2 3.2zM309.3 202.7h4.4l-2.2 3.2zM309.5 204.4h4.4l-2.2 3.2zM309.6 206.5h4.4l-2.2 3.2zM309.8 202.1h4.4l-2.2 3.2zM310 212.8h4.4l-2.2 3.2zM310.2 204.8h4.4l-2.2 3.2zM310.4 205.4h4.4l-2.2 3.2zM310.6 202.2h4.4l-2.2 3.2zM310.7 204.6h4.4l-2.2 3.2zM310.9 203.7h4.4l-2.2 3.2zM311.1 200.1h4.4l-2.2 3.2zM311.3 200h4.4l-2.2 3.2zM311.5 205.4h4.4l-2.2 3.2zM311.7 204.3h4.4l-2.2 3.2zM311.8 196.8h4.4l-2.2 3.2zM312 198.3h4.4l-2.2 3.2zM312.2 203.8h4.4l-2.2 3.2zM312.4 204.5h4.4l-2.2 3.2zM312.6 206.6h4.4l-2.2 3.2zM312.7 201.1h4.4l-2.2 3.2zM312.9 206.6h4.4l-2.2 3.2zM313.1 203.9h4.4l-2.2 3.2zM313.3 203.4h4.4l-2.2 3.2zM313.5 204.5h4.4l-2.2 3.2zM313.7 207.9h4.4l-2.2 3.2zM313.8 207.8h4.4l-2.2 3.2zM314 207.6h4.4l-2.2 3.2zM314.2 203h4.4l-2.2 3.2zM314.4 204.2h4.4l-2.2 3.2zM314.6 201.6h4.4l-2.2 3.2zM314.8 202.3h4.4l-2.2 3.2zM314.9 204h4.4l-2.2 3.2zM315.1 203.8h4.4l-2.2 3.2zM315.3 207.3h4.4l-2.2 3.2zM315.5 206.5h4.4l-2.2 3.2zM315.7 207.5h4.4l-2.2 3.2zM315.9 205.9h4.4l-2.2 3.2zM316 208.5h4.4l-2.2 3.2zM316.2 205.9h4.4l-2.2 3.2zM316.4 208.2h4.4l-2.2 3.2zM316.6 206.8h4.4l-2.2 3.2zM316.8 207.6h4.4l-2.2 3.2zM317 205.2h4.4l-2.2 3.2zM317.1 201.8h4.4l-2.2 3.2zM317.3 201.2h4.4l-2.2 3.2zM317.5 211.2h4.4l-2.2 3.2zM317.7 206.6h4.4l-2.2 3.2zM317.9 206.8h4.4l-2.2 3.2zM318.1 205h4.4l-2.2 3.2zM318.2 204.2h4.4l-2.2 3.2zM318.4 214h4.4l-2.2 3.2zM318.6 202.3h4.4l-2.2 3.2zM318.8 205.4h4.4l-2.2 3.2zM319 205.5h4.4l-2.2 3.2zM319.2 202.3h4.4l-2.2 3.2zM319.3 201.9h4.4l-2.2 3.2zM319.5 203.6h4.4l-2.2 3.2zM319.7 204.7h4.4l-2.2 3.2zM319.9 204.3h4.4l-2.2 3.2zM320.1 208.1h4.4l-2.2 3.2zM320.3 202.2h4.4l-2.2 3.2zM320.4 206.9h4.4l-2.2 3.2zM320.6 210.1h4.4l-2.2 3.2zM320.8 208.4h4.4l-2.2 3.2zM321 202.4h4.4l-2.2 3.2zM321.2 197.1h4.4l-2.2 3.2zM321.4 208.3h4.4l-2.2 3.2zM321.5 207.3h4.4l-2.2 3.2zM321.7 204.1h4.4l-2.2 3.2zM321.9 209.6h4.4l-2.2 3.2zM322.1 204.6h4.4l-2.2 3.2zM322.3 206.1h4.4l-2.2 3.2zM322.5 202.8h4.4l-2.2 3.2zM322.6 206.8h4.4l-2.2 3.2zM322.8 204.6h4.4l-2.2 3.2zM323 204.4h4.4l-2.2 3.2zM323.2 209h4.4l-2.2 3.2zM323.4 206.5h4.4l-2.2 3.2zM323.6 201.5h4.4l-2.2 3.2zM323.7 207.9h4.4l-2.2 3.2zM323.9 208.3h4.4l-2.2 3.2zM324.1 203.5h4.4l-2.2 3.2zM324.3 204.7h4.4l-2.2 3.2zM324.5 206.1h4.4l-2.2 3.2zM324.7 205.2h4.4l-2.2 3.2zM324.8 206.3h4.4l-2.2 3.2zM325 207.8h4.4l-2.2 3.2zM325.2 204.5h4.4l-2.2 3.2zM325.4 212h4.4l-2.2 3.2zM325.6 203.8h4.4l-2.2 3.2zM325.8 204.3h4.4l-2.2 3.2zM325.9 211.6h4.4l-2.2 3.2zM326.1 212.9h4.4l-2.2 3.2zM326.3 206h4.4l-2.2 3.2zM326.5 205.4h4.4l-2.2 3.2zM326.7 202.8h4.4l-2.2 3.2zM326.9 209.2h4.4l-2.2 3.2zM327 206.4h4.4l-2.2 3.2zM327.2 203.4h4.4l-2.2 3.2zM327.4 207.1h4.4l-2.2 3.2zM327.6 209.9h4.4l-2.2 3.2zM327.8 207.9h4.4l-2.2 3.2zM328 212.3h4.4l-2.2 3.2zM328.1 209.3h4.4l-2.2 3.2zM328.3 207.2h4.4l-2.2 3.2zM328.5 205.8h4.4l-2.2 3.2zM328.7 207.5h4.4l-2.2 3.2zM328.9 209.4h4.4l-2.2 3.2zM329.1 208.4h4.4l-2.2 3.2zM329.2 208.9h4.4l-2.2 3.2zM329.4 206.5h4.4l-2.2 3.2zM329.6 208.1h4.4l-2.2 3.2zM329.8 209.4h4.4l-2.2 3.2zM330 205.4h4.4l-2.2 3.2zM330.2 199.5h4.4l-2.2 3.2zM330.3 210.9h4.4l-2.2 3.2zM330.5 207.6h4.4l-2.2 3.2zM330.7 204.6h4.4l-2.2 3.2zM330.9 206.5h4.4l-2.2 3.2zM331.1 205.1h4.4l-2.2 3.2zM331.3 200.9h4.4l-2.2 3.2zM331.4 205.3h4.4l-2.2 3.2zM331.6 201.7h4.4l-2.2 3.2zM331.8 206.4h4.4l-2.2 3.2zM332 205.5h4.4l-2.2 3.2zM332.2 209.1h4.4l-2.2 3.2zM332.4 205.5h4.4l-2.2 3.2zM332.5 206.9h4.4l-2.2 3.2zM332.7 204.9h4.4l-2.2 3.2zM332.9 204.7h4.4l-2.2 3.2zM333.1 201.7h4.4l-2.2 3.2zM333.3 208.7h4.4l-2.2 3.2zM333.5 206.3h4.4l-2.2 3.2zM333.6 204.1h4.4l-2.2 3.2zM333.8 206.4h4.4l-2.2 3.2zM334 204.6h4.4l-2.2 3.2zM334.2 203.7h4.4l-2.2 3.2zM334.4 206.5h4.4l-2.2 3.2zM334.6 209.3h4.4l-2.2 3.2zM334.7 205h4.4l-2.2 3.2zM334.9 201.6h4.4l-2.2 3.2zM335.1 202.7h4.4l-2.2 3.2zM335.3 210.9h4.4l-2.2 3.2zM335.5 203.4h4.4l-2.2 3.2zM335.7 209.2h4.4l-2.2 3.2zM335.8 205h4.4l-2.2 3.2zM336 207.9h4.4l-2.2 3.2zM336.2 205.4h4.4l-2.2 3.2zM336.4 201.1h4.4l-2.2 3.2zM336.6 204.5h4.4l-2.2 3.2zM336.7 211.8h4.4l-2.2 3.2zM336.9 205.3h4.4l-2.2 3.2zM337.1 207.3h4.4l-2.2 3.2zM337.3 204.7h4.4l-2.2 3.2zM337.5 205.3h4.4l-2.2 3.2zM337.7 206.6h4.4l-2.2 3.2zM337.8 207h4.4l-2.2 3.2zM338 212h4.4l-2.2 3.2zM338.2 205.6h4.4l-2.2 3.2zM338.4 205.1h4.4l-2.2 3.2zM338.6 203.7h4.4l-2.2 3.2zM338.8 201.8h4.4l-2.2 3.2zM338.9 200.9h4.4l-2.2 3.2zM339.1 208.8h4.4l-2.2 3.2zM339.3 200.2h4.4l-2.2 3.2zM339.5 209.6h4.4l-2.2 3.2zM339.7 208h4.4l-2.2 3.2zM339.9 204.7h4.4l-2.2 3.2zM340 202.2h4.4l-2.2 3.2zM340.2 205.6h4.4l-2.2 3.2zM340.4 205.6h4.4l-2.2 3.2zM340.6 208.8h4.4l-2.2 3.2zM340.8 203.3h4.4l-2.2 3.2zM341 204.4h4.4l-2.2 3.2zM341.1 205.3h4.4l-2.2 3.2zM341.3 204.7h4.4l-2.2 3.2zM341.5 203.6h4.4l-2.2 3.2zM341.7 200.5h4.4l-2.2 3.2zM341.9 200.7h4.4l-2.2 3.2zM342.1 203.5h4.4l-2.2 3.2zM342.2 204.8h4.4l-2.2 3.2zM342.4 208.3h4.4l-2.2 3.2zM342.6 212.1h4.4l-2.2 3.2zM342.8 210.3h4.4l-2.2 3.2zM343 206.5h4.4l-2.2 3.2zM343.2 210.8h4.4l-2.2 3.2zM343.3 205h4.4l-2.2 3.2zM343.5 203.8h4.4l-2.2 3.2zM343.7 212h4.4l-2.2 3.2zM343.9 202.2h4.4l-2.2 3.2zM344.1 204.1h4.4l-2.2 3.2zM344.3 204.5h4.4l-2.2 3.2zM344.4 209.4h4.4l-2.2 3.2zM344.6 203.5h4.4l-2.2 3.2zM344.8 207.4h4.4l-2.2 3.2zM345 204h4.4l-2.2 3.2zM345.2 201.6h4.4l-2.2 3.2zM345.4 205.7h4.4l-2.2 3.2zM345.5 205.5h4.4l-2.2 3.2zM345.7 201.6h4.4l-2.2 3.2zM345.9 202.4h4.4l-2.2 3.2zM346.1 202.5h4.4l-2.2 3.2zM346.3 207.5h4.4l-2.2 3.2zM346.5 206h4.4l-2.2 3.2zM346.6 205.3h4.4l-2.2 3.2zM346.8 205.9h4.4l-2.2 3.2zM347 203.1h4.4l-2.2 3.2zM347.2 205.8h4.4l-2.2 3.2zM347.4 202.5h4.4l-2.2 3.2zM347.6 200.3h4.4l-2.2 3.2zM347.7 202.1h4.4l-2.2 3.2zM347.9 204.6h4.4l-2.2 3.2zM348.1 204.2h4.4l-2.2 3.2zM348.3 206.9h4.4l-2.2 3.2zM348.5 198.8h4.4l-2.2 3.2zM348.7 203h4.4l-2.2 3.2zM348.8 204.7h4.4l-2.2 3.2zM349 200.7h4.4l-2.2 3.2zM349.2 204.1h4.4l-2.2 3.2zM349.4 202.1h4.4l-2.2 3.2zM349.6 197.6h4.4l-2.2 3.2zM349.8 206.3h4.4l-2.2 3.2zM349.9 198.9h4.4l-2.2 3.2zM350.1 205.8h4.4l-2.2 3.2zM350.3 201.5h4.4l-2.2 3.2zM350.5 199.9h4.4l-2.2 3.2zM350.7 200h4.4l-2.2 3.2zM350.9 200.3h4.4l-2.2 3.2zM351 199.9h4.4l-2.2 3.2zM351.2 203.6h4.4l-2.2 3.2zM351.4 196.6h4.4l-2.2 3.2zM351.6 205.7h4.4l-2.2 3.2zM351.8 204.4h4.4l-2.2 3.2zM352 205.9h4.4l-2.2 3.2zM352.1 198.9h4.4l-2.2 3.2zM352.3 194.8h4.4l-2.2 3.2zM352.5 199.7h4.4l-2.2 3.2zM352.7 201h4.4l-2.2 3.2zM352.9 202.3h4.4l-2.2 3.2zM353.1 199.8h4.4l-2.2 3.2zM353.2 200.9h4.4l-2.2 3.2zM353.4 201.5h4.4l-2.2 3.2zM353.6 196.4h4.4l-2.2 3.2zM353.8 210h4.4l-2.2 3.2zM354 197.4h4.4l-2.2 3.2zM354.2 201.9h4.4l-2.2 3.2zM354.3 203.7h4.4l-2.2 3.2zM354.5 198h4.4l-2.2 3.2zM354.7 200.2h4.4l-2.2 3.2zM354.9 204.9h4.4l-2.2 3.2zM355.1 199.1h4.4l-2.2 3.2zM355.3 202.9h4.4l-2.2 3.2zM355.4 200.5h4.4l-2.2 3.2zM355.6 200.2h4.4l-2.2 3.2zM355.8 201.6h4.4l-2.2 3.2zM356 198.6h4.4l-2.2 3.2zM356.2 198.5h4.4l-2.2 3.2zM356.4 201.9h4.4l-2.2 3.2zM356.5 199.7h4.4l-2.2 3.2zM356.7 201.4h4.4l-2.2 3.2zM356.9 195.1h4.4l-2.2 3.2zM357.1 198.6h4.4l-2.2 3.2zM357.3 202.1h4.4l-2.2 3.2zM357.5 201.1h4.4l-2.2 3.2zM357.6 199.3h4.4l-2.2 3.2zM357.8 196.7h4.4l-2.2 3.2zM358 195h4.4l-2.2 3.2zM358.2 199.4h4.4l-2.2 3.2zM358.4 202.3h4.4l-2.2 3.2zM358.6 198.1h4.4l-2.2 3.2zM358.7 201.9h4.4l-2.2 3.2zM358.9 197h4.4l-2.2 3.2zM359.1 201.6h4.4l-2.2 3.2zM359.3 194.9h4.4l-2.2 3.2zM359.5 198.5h4.4l-2.2 3.2zM359.7 192.5h4.4l-2.2 3.2zM359.8 200h4.4l-2.2 3.2zM360 199.8h4.4l-2.2 3.2zM360.2 195.2h4.4l-2.2 3.2zM360.4 195.9h4.4l-2.2 3.2zM360.6 196.8h4.4l-2.2 3.2zM360.7 190.6h4.4l-2.2 3.2zM360.9 195.5h4.4l-2.2 3.2zM361.1 195.7h4.4l-2.2 3.2zM361.3 200.7h4.4l-2.2 3.2zM361.5 202.6h4.4l-2.2 3.2zM361.7 197.2h4.4l-2.2 3.2zM361.8 197.7h4.4l-2.2 3.2zM362 199.3h4.4l-2.2 3.2zM362.2 197.2h4.4l-2.2 3.2zM362.4 198h4.4l-2.2 3.2zM362.6 201.4h4.4l-2.2 3.2zM362.8 199.6h4.4l-2.2 3.2zM362.9 198.7h4.4l-2.2 3.2zM363.1 197.3h4.4l-2.2 3.2zM363.3 206.6h4.4l-2.2 3.2zM363.5 197.3h4.4l-2.2 3.2zM363.7 199.6h4.4l-2.2 3.2zM363.9 196.2h4.4l-2.2 3.2zM364 197.5h4.4l-2.2 3.2zM364.2 199.6h4.4l-2.2 3.2zM364.4 198.2h4.4l-2.2 3.2zM364.6 201h4.4l-2.2 3.2zM364.8 199.6h4.4l-2.2 3.2zM365 195.4h4.4l-2.2 3.2zM365.1 192.6h4.4l-2.2 3.2zM365.3 202.5h4.4l-2.2 3.2zM365.5 197.8h4.4l-2.2 3.2zM365.7 203.9h4.4l-2.2 3.2zM365.9 199.6h4.4l-2.2 3.2zM366.1 197.3h4.4l-2.2 3.2zM366.2 201.2h4.4l-2.2 3.2zM366.4 198.8h4.4l-2.2 3.2zM366.6 199.7h4.4l-2.2 3.2zM366.8 196.9h4.4l-2.2 3.2zM367 201.5h4.4l-2.2 3.2zM367.2 202.9h4.4l-2.2 3.2zM367.3 198.1h4.4l-2.2 3.2zM367.5 205h4.4l-2.2 3.2zM367.7 198h4.4l-2.2 3.2zM367.9 200.4h4.4l-2.2 3.2zM368.1 194.9h4.4l-2.2 3.2zM368.3 194.1h4.4l-2.2 3.2zM368.4 206h4.4l-2.2 3.2zM368.6 204h4.4l-2.2 3.2zM368.8 203.2h4.4l-2.2 3.2zM369 194.8h4.4l-2.2 3.2zM369.2 200.5h4.4l-2.2 3.2zM369.4 201h4.4l-2.2 3.2zM369.5 200h4.4l-2.2 3.2zM369.7 200.7h4.4l-2.2 3.2zM369.9 197.1h4.4l-2.2 3.2zM370.1 199.3h4.4l-2.2 3.2zM370.3 194.1h4.4l-2.2 3.2zM370.5 198.8h4.4l-2.2 3.2zM370.6 200.9h4.4l-2.2 3.2zM370.8 197.5h4.4l-2.2 3.2zM371 199h4.4l-2.2 3.2zM371.2 197.7h4.4l-2.2 3.2zM371.4 199.9h4.4l-2.2 3.2zM371.6 202.5h4.4l-2.2 3.2zM371.7 200.5h4.4l-2.2 3.2zM371.9 201h4.4l-2.2 3.2zM372.1 195.6h4.4l-2.2 3.2zM372.3 198h4.4l-2.2 3.2zM372.5 202.2h4.4l-2.2 3.2zM372.7 197.2h4.4l-2.2 3.2zM372.8 198.5h4.4l-2.2 3.2zM373 196.9h4.4l-2.2 3.2zM373.2 203.6h4.4l-2.2 3.2zM373.4 198.4h4.4l-2.2 3.2zM373.6 197.5h4.4l-2.2 3.2zM373.8 201.5h4.4l-2.2 3.2zM373.9 202.8h4.4l-2.2 3.2zM374.1 201h4.4l-2.2 3.2zM374.3 202.4h4.4l-2.2 3.2zM374.5 200.1h4.4l-2.2 3.2zM374.7 199.1h4.4l-2.2 3.2zM374.9 198.2h4.4l-2.2 3.2zM375 197.9h4.4l-2.2 3.2zM375.2 196.4h4.4l-2.2 3.2zM375.4 200.4h4.4l-2.2 3.2zM375.6 199h4.4l-2.2 3.2zM375.8 199.5h4.4l-2.2 3.2zM376 202.3h4.4l-2.2 3.2zM376.1 199h4.4l-2.2 3.2zM376.3 195.1h4.4l-2.2 3.2zM376.5 196.8h4.4l-2.2 3.2zM376.7 195.8h4.4l-2.2 3.2zM376.9 193.4h4.4l-2.2 3.2zM377.1 199.3h4.4l-2.2 3.2zM377.2 195.4h4.4l-2.2 3.2zM377.4 195.1h4.4l-2.2 3.2zM377.6 195.7h4.4l-2.2 3.2zM377.8 201.4h4.4l-2.2 3.2zM378 197.8h4.4l-2.2 3.2zM378.2 201.7h4.4l-2.2 3.2zM378.3 198.4h4.4l-2.2 3.2zM378.5 197.3h4.4l-2.2 3.2zM378.7 200.3h4.4l-2.2 3.2zM378.9 200.3h4.4l-2.2 3.2zM379.1 198.8h4.4l-2.2 3.2zM379.3 195.4h4.4l-2.2 3.2zM379.4 197.1h4.4l-2.2 3.2zM379.6 194.9h4.4l-2.2 3.2zM379.8 197.6h4.4l-2.2 3.2zM380 198.6h4.4l-2.2 3.2zM380.2 202.6h4.4l-2.2 3.2zM380.4 202.4h4.4l-2.2 3.2zM380.5 200.2h4.4l-2.2 3.2zM380.7 200.9h4.4l-2.2 3.2zM380.9 198.8h4.4l-2.2 3.2zM381.1 206.2h4.4l-2.2 3.2zM381.3 202.5h4.4l-2.2 3.2zM381.5 205.8h4.4l-2.2 3.2zM381.6 199.1h4.4l-2.2 3.2zM381.8 199.1h4.4l-2.2 3.2zM382 201h4.4l-2.2 3.2zM382.2 198.4h4.4l-2.2 3.2zM382.4 198.7h4.4l-2.2 3.2zM382.6 194.8h4.4l-2.2 3.2zM382.7 200.5h4.4l-2.2 3.2zM382.9 198.1h4.4l-2.2 3.2zM383.1 200.1h4.4l-2.2 3.2zM383.3 197h4.4l-2.2 3.2zM383.5 192.3h4.4l-2.2 3.2zM383.7 200.1h4.4l-2.2 3.2zM383.8 201h4.4l-2.2 3.2zM384 193.7h4.4l-2.2 3.2zM384.2 194.6h4.4l-2.2 3.2zM384.4 196.5h4.4l-2.2 3.2zM384.6 196.6h4.4l-2.2 3.2zM384.7 192.3h4.4l-2.2 3.2zM384.9 202.5h4.4l-2.2 3.2zM385.1 200.2h4.4l-2.2 3.2zM385.3 195.4h4.4l-2.2 3.2zM385.5 191.8h4.4l-2.2 3.2zM385.7 198.2h4.4l-2.2 3.2zM385.8 203h4.4l-2.2 3.2zM386 199.5h4.4l-2.2 3.2zM386.2 200.4h4.4l-2.2 3.2zM386.4 194.1h4.4l-2.2 3.2zM386.6 198.1h4.4l-2.2 3.2zM386.8 192.4h4.4l-2.2 3.2zM386.9 202.7h4.4l-2.2 3.2zM387.1 198.5h4.4l-2.2 3.2zM387.3 190.5h4.4l-2.2 3.2zM387.5 191.2h4.4l-2.2 3.2zM387.7 198.1h4.4l-2.2 3.2zM387.9 197.1h4.4l-2.2 3.2zM388 195.7h4.4l-2.2 3.2zM388.2 198.4h4.4l-2.2 3.2zM388.4 202.5h4.4l-2.2 3.2zM388.6 197.6h4.4l-2.2 3.2zM388.8 191.1h4.4l-2.2 3.2zM389 196h4.4l-2.2 3.2zM389.1 192.5h4.4l-2.2 3.2zM389.3 192.3h4.4l-2.2 3.2zM389.5 197.3h4.4l-2.2 3.2zM389.7 195.8h4.4l-2.2 3.2zM389.9 190.9h4.4l-2.2 3.2zM390.1 196.2h4.4l-2.2 3.2zM390.2 193.8h4.4l-2.2 3.2zM390.4 197.8h4.4l-2.2 3.2zM390.6 195.5h4.4l-2.2 3.2zM390.8 197.3h4.4l-2.2 3.2zM391 195.4h4.4l-2.2 3.2zM391.2 198.4h4.4l-2.2 3.2zM391.3 195.7h4.4l-2.2 3.2zM391.5 196.1h4.4l-2.2 3.2zM391.7 194.4h4.4l-2.2 3.2zM391.9 196.5h4.4l-2.2 3.2zM392.1 190.8h4.4l-2.2 3.2zM392.3 204h4.4l-2.2 3.2zM392.4 194.1h4.4l-2.2 3.2zM392.6 196.4h4.4l-2.2 3.2zM392.8 194.7h4.4l-2.2 3.2zM393 194.6h4.4l-2.2 3.2zM393.2 197.3h4.4l-2.2 3.2zM393.4 194.6h4.4l-2.2 3.2zM393.5 194.8h4.4l-2.2 3.2zM393.7 192h4.4l-2.2 3.2zM393.9 193.4h4.4l-2.2 3.2zM394.1 190.2h4.4l-2.2 3.2zM394.3 201.5h4.4l-2.2 3.2zM394.5 192.3h4.4l-2.2 3.2zM394.6 193.1h4.4l-2.2 3.2zM394.8 196.9h4.4l-2.2 3.2zM395 200.6h4.4l-2.2 3.2zM395.2 191.4h4.4l-2.2 3.2zM395.4 191.8h4.4l-2.2 3.2zM395.6 196.8h4.4l-2.2 3.2zM395.7 197.5h4.4l-2.2 3.2zM395.9 189.4h4.4l-2.2 3.2zM396.1 191.3h4.4l-2.2 3.2zM396.3 193.9h4.4l-2.2 3.2zM396.5 198.9h4.4l-2.2 3.2zM396.7 196.7h4.4l-2.2 3.2zM396.8 199.1h4.4l-2.2 3.2zM397 196.6h4.4l-2.2 3.2zM397.2 196.9h4.4l-2.2 3.2zM397.4 198.9h4.4l-2.2 3.2zM397.6 196.8h4.4l-2.2 3.2zM397.8 197.9h4.4l-2.2 3.2zM397.9 194.6h4.4l-2.2 3.2zM398.1 195.6h4.4l-2.2 3.2zM398.3 198.8h4.4l-2.2 3.2zM398.5 196.8h4.4l-2.2 3.2zM398.7 195.4h4.4l-2.2 3.2zM398.9 199.6h4.4l-2.2 3.2zM399 199.3h4.4l-2.2 3.2zM399.2 197.8h4.4l-2.2 3.2zM399.4 195.6h4.4l-2.2 3.2zM399.6 202.3h4.4l-2.2 3.2zM399.8 205.3h4.4l-2.2 3.2zM400 195.7h4.4l-2.2 3.2zM400.1 193.7h4.4l-2.2 3.2zM400.3 196h4.4l-2.2 3.2zM400.5 195.6h4.4l-2.2 3.2zM400.7 194.7h4.4l-2.2 3.2zM400.9 195h4.4l-2.2 3.2zM401.1 201h4.4l-2.2 3.2zM401.2 201.1h4.4l-2.2 3.2zM401.4 205.9h4.4l-2.2 3.2zM401.6 200.9h4.4l-2.2 3.2zM401.8 197.5h4.4l-2.2 3.2zM402 202h4.4l-2.2 3.2zM402.2 197.2h4.4l-2.2 3.2zM402.3 198h4.4l-2.2 3.2zM402.5 195.8h4.4l-2.2 3.2zM402.7 202.7h4.4l-2.2 3.2zM402.9 202.2h4.4l-2.2 3.2zM403.1 198h4.4l-2.2 3.2zM403.3 198.6h4.4l-2.2 3.2zM403.4 199.6h4.4l-2.2 3.2zM403.6 200.2h4.4l-2.2 3.2zM403.8 202.1h4.4l-2.2 3.2zM404 200h4.4l-2.2 3.2zM404.2 201h4.4l-2.2 3.2zM404.4 195.7h4.4l-2.2 3.2zM404.5 198.6h4.4l-2.2 3.2zM404.7 195.1h4.4l-2.2 3.2zM404.9 205.3h4.4l-2.2 3.2zM405.1 204.3h4.4l-2.2 3.2zM405.3 202.5h4.4l-2.2 3.2zM405.5 203.7h4.4l-2.2 3.2zM405.6 206.3h4.4l-2.2 3.2zM405.8 203.4h4.4l-2.2 3.2zM406 196.4h4.4l-2.2 3.2zM406.2 200.4h4.4l-2.2 3.2zM406.4 194.4h4.4l-2.2 3.2zM406.6 198.9h4.4l-2.2 3.2zM406.7 197.8h4.4l-2.2 3.2zM406.9 201.3h4.4l-2.2 3.2zM407.1 202.6h4.4l-2.2 3.2zM407.3 199h4.4l-2.2 3.2zM407.5 200.9h4.4l-2.2 3.2zM407.7 202.5h4.4l-2.2 3.2zM407.8 201.4h4.4l-2.2 3.2zM408 201.5h4.4l-2.2 3.2zM408.2 195.4h4.4l-2.2 3.2zM408.4 200.9h4.4l-2.2 3.2zM408.6 204.5h4.4l-2.2 3.2zM408.7 203.1h4.4l-2.2 3.2zM408.9 198.4h4.4l-2.2 3.2zM409.1 201.8h4.4l-2.2 3.2zM409.3 203.4h4.4l-2.2 3.2zM409.5 200.1h4.4l-2.2 3.2zM409.7 204.8h4.4l-2.2 3.2zM409.8 200.8h4.4l-2.2 3.2zM410 202.2h4.4l-2.2 3.2zM410.2 202.9h4.4l-2.2 3.2zM410.4 209.4h4.4l-2.2 3.2zM410.6 201.8h4.4l-2.2 3.2zM410.8 201.9h4.4l-2.2 3.2zM410.9 205.5h4.4l-2.2 3.2zM411.1 202.4h4.4l-2.2 3.2zM411.3 204.3h4.4l-2.2 3.2zM411.5 197.7h4.4l-2.2 3.2zM411.7 204.8h4.4l-2.2 3.2zM411.9 204h4.4l-2.2 3.2zM412 200.6h4.4l-2.2 3.2zM412.2 208h4.4l-2.2 3.2zM412.4 203.7h4.4l-2.2 3.2zM412.6 203.9h4.4l-2.2 3.2zM412.8 201h4.4l-2.2 3.2zM413 200.3h4.4l-2.2 3.2zM413.1 203.3h4.4l-2.2 3.2zM413.3 200.8h4.4l-2.2 3.2zM413.5 206.3h4.4l-2.2 3.2zM413.7 207.5h4.4l-2.2 3.2zM413.9 203.5h4.4l-2.2 3.2zM414.1 201h4.4l-2.2 3.2zM414.2 203.6h4.4l-2.2 3.2zM414.4 202.7h4.4l-2.2 3.2zM414.6 206.1h4.4l-2.2 3.2zM414.8 206.2h4.4l-2.2 3.2zM415 204.7h4.4l-2.2 3.2zM415.2 206.2h4.4l-2.2 3.2zM415.3 208.9h4.4l-2.2 3.2zM415.5 210.7h4.4l-2.2 3.2zM415.7 204.9h4.4l-2.2 3.2zM415.9 208.3h4.4l-2.2 3.2zM416.1 205.8h4.4l-2.2 3.2zM416.3 203.7h4.4l-2.2 3.2zM416.4 210.1h4.4l-2.2 3.2zM416.6 207.8h4.4l-2.2 3.2zM416.8 207.2h4.4l-2.2 3.2zM417 207.9h4.4l-2.2 3.2zM417.2 206.6h4.4l-2.2 3.2zM417.4 204.3h4.4l-2.2 3.2zM417.5 211.8h4.4l-2.2 3.2zM417.7 209.6h4.4l-2.2 3.2zM417.9 208h4.4l-2.2 3.2zM418.1 209.9h4.4l-2.2 3.2zM418.3 210.8h4.4l-2.2 3.2zM418.5 207h4.4l-2.2 3.2zM418.6 209.1h4.4l-2.2 3.2zM418.8 206.7h4.4l-2.2 3.2zM419 210.5h4.4l-2.2 3.2zM419.2 207h4.4l-2.2 3.2zM419.4 214.2h4.4l-2.2 3.2zM419.6 206.9h4.4l-2.2 3.2zM419.7 209.2h4.4l-2.2 3.2zM419.9 209.1h4.4l-2.2 3.2zM420.1 207.1h4.4l-2.2 3.2zM420.3 210.5h4.4l-2.2 3.2zM420.5 207.6h4.4l-2.2 3.2zM420.7 207h4.4l-2.2 3.2zM420.8 208.1h4.4l-2.2 3.2zM421 206.2h4.4l-2.2 3.2zM421.2 211.4h4.4l-2.2 3.2zM421.4 209.9h4.4l-2.2 3.2zM421.6 210.9h4.4l-2.2 3.2zM421.8 204.8h4.4l-2.2 3.2zM421.9 209.1h4.4l-2.2 3.2zM422.1 206.4h4.4l-2.2 3.2zM422.3 208.8h4.4l-2.2 3.2zM422.5 211.8h4.4l-2.2 3.2zM422.7 209.2h4.4l-2.2 3.2zM422.9 208.1h4.4l-2.2 3.2zM423 211.5h4.4l-2.2 3.2zM423.2 211.3h4.4l-2.2 3.2zM423.4 213.5h4.4l-2.2 3.2zM423.6 203.9h4.4l-2.2 3.2zM423.8 209.6h4.4l-2.2 3.2zM424 207.7h4.4l-2.2 3.2zM424.1 206.6h4.4l-2.2 3.2zM424.3 209.1h4.4l-2.2 3.2zM424.5 205.9h4.4l-2.2 3.2zM424.7 203.1h4.4l-2.2 3.2zM424.9 206.6h4.4l-2.2 3.2zM425.1 208.3h4.4l-2.2 3.2zM425.2 213.8h4.4l-2.2 3.2zM425.4 207.1h4.4l-2.2 3.2zM425.6 206h4.4l-2.2 3.2zM425.8 203.9h4.4l-2.2 3.2zM426 207.4h4.4l-2.2 3.2zM426.2 208.5h4.4l-2.2 3.2zM426.3 209.5h4.4l-2.2 3.2zM426.5 205.4h4.4l-2.2 3.2zM426.7 207.2h4.4l-2.2 3.2zM426.9 203.3h4.4l-2.2 3.2zM427.1 209.6h4.4l-2.2 3.2zM427.3 205.1h4.4l-2.2 3.2zM427.4 202.1h4.4l-2.2 3.2zM427.6 214.2h4.4l-2.2 3.2zM427.8 210.5h4.4l-2.2 3.2zM428 210.1h4.4l-2.2 3.2zM428.2 210.2h4.4l-2.2 3.2zM428.4 206.6h4.4l-2.2 3.2zM428.5 212h4.4l-2.2 3.2zM428.7 204.6h4.4l-2.2 3.2zM428.9 214.2h4.4l-2.2 3.2zM429.1 209.9h4.4l-2.2 3.2zM429.3 204.6h4.4l-2.2 3.2zM429.5 211.6h4.4l-2.2 3.2zM429.6 214.4h4.4l-2.2 3.2zM429.8 208.7h4.4l-2.2 3.2zM430 212.1h4.4l-2.2 3.2zM430.2 208.9h4.4l-2.2 3.2zM430.4 207.8h4.4l-2.2 3.2zM430.6 202.8h4.4l-2.2 3.2zM430.7 212.6h4.4l-2.2 3.2zM430.9 208.3h4.4l-2.2 3.2zM431.1 210.5h4.4l-2.2 3.2zM431.3 206.6h4.4l-2.2 3.2zM431.5 207.2h4.4l-2.2 3.2zM431.7 212.4h4.4l-2.2 3.2zM431.8 208.5h4.4l-2.2 3.2zM432 208.5h4.4l-2.2 3.2zM432.2 204h4.4l-2.2 3.2zM432.4 210.1h4.4l-2.2 3.2zM432.6 211.6h4.4l-2.2 3.2zM432.7 208.4h4.4l-2.2 3.2zM432.9 209.1h4.4l-2.2 3.2zM433.1 206.5h4.4l-2.2 3.2zM433.3 213.2h4.4l-2.2 3.2zM433.5 208h4.4l-2.2 3.2zM433.7 209.2h4.4l-2.2 3.2zM433.8 213.9h4.4l-2.2 3.2zM434 209.1h4.4l-2.2 3.2zM434.2 205.7h4.4l-2.2 3.2zM434.4 207.3h4.4l-2.2 3.2zM434.6 208.7h4.4l-2.2 3.2zM434.8 214.2h4.4l-2.2 3.2zM434.9 210.2h4.4l-2.2 3.2zM435.1 209.1h4.4l-2.2 3.2zM435.3 211.8h4.4l-2.2 3.2zM435.5 213h4.4l-2.2 3.2zM435.7 207.8h4.4l-2.2 3.2zM435.9 215.9h4.4l-2.2 3.2zM436 211.9h4.4l-2.2 3.2zM436.2 210.9h4.4l-2.2 3.2zM436.4 203.7h4.4l-2.2 3.2zM436.6 210.2h4.4l-2.2 3.2zM436.8 213.3h4.4l-2.2 3.2zM437 209h4.4l-2.2 3.2zM437.1 215.6h4.4l-2.2 3.2zM437.3 209.9h4.4l-2.2 3.2zM437.5 207.1h4.4l-2.2 3.2zM437.7 211.2h4.4l-2.2 3.2zM437.9 210.5h4.4l-2.2 3.2zM438.1 211.9h4.4l-2.2 3.2zM438.2 209.2h4.4l-2.2 3.2zM438.4 213.1h4.4l-2.2 3.2zM438.6 208.3h4.4l-2.2 3.2zM438.8 210.1h4.4l-2.2 3.2zM439 206.5h4.4l-2.2 3.2zM439.2 206.2h4.4l-2.2 3.2zM439.3 210.2h4.4l-2.2 3.2zM439.5 208.1h4.4l-2.2 3.2zM439.7 208.6h4.4l-2.2 3.2zM439.9 209.2h4.4l-2.2 3.2zM440.1 210.4h4.4l-2.2 3.2zM440.3 211.7h4.4l-2.2 3.2zM440.4 211.7h4.4l-2.2 3.2zM440.6 212.3h4.4l-2.2 3.2zM440.8 210.3h4.4l-2.2 3.2zM441 208.3h4.4l-2.2 3.2zM441.2 205.7h4.4l-2.2 3.2zM441.4 208.8h4.4l-2.2 3.2zM441.5 206.2h4.4l-2.2 3.2zM441.7 205.1h4.4l-2.2 3.2zM441.9 213.9h4.4l-2.2 3.2zM442.1 205h4.4l-2.2 3.2zM442.3 210.6h4.4l-2.2 3.2zM442.5 211.1h4.4l-2.2 3.2zM442.6 209.1h4.4l-2.2 3.2zM442.8 216.3h4.4l-2.2 3.2zM443 209.8h4.4l-2.2 3.2zM443.2 207.8h4.4l-2.2 3.2zM443.4 214.2h4.4l-2.2 3.2zM443.6 207.7h4.4l-2.2 3.2zM443.7 206.1h4.4l-2.2 3.2zM443.9 205.3h4.4l-2.2 3.2zM444.1 208.1h4.4l-2.2 3.2zM444.3 209.8h4.4l-2.2 3.2zM444.5 210.6h4.4l-2.2 3.2zM444.7 205.8h4.4l-2.2 3.2zM444.8 210.6h4.4l-2.2 3.2zM445 215.4h4.4l-2.2 3.2zM445.2 207.9h4.4l-2.2 3.2zM445.4 209.4h4.4l-2.2 3.2zM445.6 211.5h4.4l-2.2 3.2zM445.8 212.8h4.4l-2.2 3.2zM445.9 208h4.4l-2.2 3.2zM446.1 207.3h4.4l-2.2 3.2zM446.3 207.1h4.4l-2.2 3.2zM446.5 212.5h4.4l-2.2 3.2zM446.7 212h4.4l-2.2 3.2zM446.9 204.2h4.4l-2.2 3.2zM447 204.3h4.4l-2.2 3.2zM447.2 206.6h4.4l-2.2 3.2zM447.4 205.9h4.4l-2.2 3.2zM447.6 211.4h4.4l-2.2 3.2zM447.8 210.3h4.4l-2.2 3.2zM448 218.2h4.4l-2.2 3.2zM448.1 211.7h4.4l-2.2 3.2zM448.3 210h4.4l-2.2 3.2zM448.5 212.7h4.4l-2.2 3.2zM448.7 207.4h4.4l-2.2 3.2zM448.9 206.1h4.4l-2.2 3.2zM449.1 209.8h4.4l-2.2 3.2zM449.2 212.1h4.4l-2.2 3.2zM449.4 205.6h4.4l-2.2 3.2zM449.6 212h4.4l-2.2 3.2zM449.8 211.9h4.4l-2.2 3.2zM450 208.4h4.4l-2.2 3.2zM450.2 210.1h4.4l-2.2 3.2zM450.3 209h4.4l-2.2 3.2zM450.5 209.9h4.4l-2.2 3.2zM450.7 211.7h4.4l-2.2 3.2zM450.9 207.6h4.4l-2.2 3.2zM451.1 212.3h4.4l-2.2 3.2zM451.3 211.9h4.4l-2.2 3.2zM451.4 213.6h4.4l-2.2 3.2zM451.6 204.7h4.4l-2.2 3.2zM451.8 204.9h4.4l-2.2 3.2zM452 211.4h4.4l-2.2 3.2zM452.2 208.2h4.4l-2.2 3.2zM452.4 207.9h4.4l-2.2 3.2zM452.5 207.7h4.4l-2.2 3.2zM452.7 206.3h4.4l-2.2 3.2zM452.9 208.9h4.4l-2.2 3.2zM453.1 207.8h4.4l-2.2 3.2zM453.3 208h4.4l-2.2 3.2zM453.5 210.9h4.4l-2.2 3.2zM453.6 206.7h4.4l-2.2 3.2zM453.8 212.5h4.4l-2.2 3.2zM454 204h4.4l-2.2 3.2zM454.2 216h4.4l-2.2 3.2zM454.4 206.2h4.4l-2.2 3.2zM454.6 211.1h4.4l-2.2 3.2zM454.7 212h4.4l-2.2 3.2zM454.9 209.6h4.4l-2.2 3.2zM455.1 211.5h4.4l-2.2 3.2zM455.3 209.4h4.4l-2.2 3.2zM455.5 205.2h4.4l-2.2 3.2zM455.7 210.5h4.4l-2.2 3.2zM455.8 214.5h4.4l-2.2 3.2zM456 208.2h4.4l-2.2 3.2zM456.2 205.3h4.4l-2.2 3.2zM456.4 208.1h4.4l-2.2 3.2zM456.6 210.4h4.4l-2.2 3.2zM456.8 210.4h4.4l-2.2 3.2zM456.9 212.4h4.4l-2.2 3.2zM457.1 211h4.4l-2.2 3.2zM457.3 210.9h4.4l-2.2 3.2zM457.5 204.5h4.4l-2.2 3.2zM457.7 215.3h4.4l-2.2 3.2zM457.8 209.7h4.4l-2.2 3.2zM458 211.8h4.4l-2.2 3.2zM458.2 208.7h4.4l-2.2 3.2zM458.4 209.2h4.4l-2.2 3.2zM458.6 209.8h4.4l-2.2 3.2zM458.8 213.6h4.4l-2.2 3.2zM458.9 213.4h4.4l-2.2 3.2zM459.1 211.2h4.4l-2.2 3.2zM459.3 214.6h4.4l-2.2 3.2zM459.5 208.6h4.4l-2.2 3.2zM459.7 210.9h4.4l-2.2 3.2zM459.9 208.4h4.4l-2.2 3.2zM460 212.9h4.4l-2.2 3.2zM460.2 209.7h4.4l-2.2 3.2zM460.4 212.1h4.4l-2.2 3.2zM460.6 214h4.4l-2.2 3.2zM460.8 204.3h4.4l-2.2 3.2zM461 215.1h4.4l-2.2 3.2zM461.1 210.4h4.4l-2.2 3.2zM461.3 208.8h4.4l-2.2 3.2zM461.5 204.7h4.4l-2.2 3.2zM461.7 208.8h4.4l-2.2 3.2zM461.9 203.8h4.4l-2.2 3.2zM462.1 209.8h4.4l-2.2 3.2zM462.2 209.1h4.4l-2.2 3.2zM462.4 214.2h4.4l-2.2 3.2zM462.6 208.7h4.4l-2.2 3.2zM462.8 212.3h4.4l-2.2 3.2zM463 212.5h4.4l-2.2 3.2zM463.2 214.8h4.4l-2.2 3.2zM463.3 208.9h4.4l-2.2 3.2zM463.5 211.5h4.4l-2.2 3.2zM463.7 205.7h4.4l-2.2 3.2zM463.9 206.7h4.4l-2.2 3.2zM464.1 208.9h4.4l-2.2 3.2zM464.3 209.5h4.4l-2.2 3.2zM464.4 206.5h4.4l-2.2 3.2zM464.6 208.5h4.4l-2.2 3.2zM464.8 211.3h4.4l-2.2 3.2zM465 208.4h4.4l-2.2 3.2zM465.2 209.2h4.4l-2.2 3.2zM465.4 207.3h4.4l-2.2 3.2zM465.5 213h4.4l-2.2 3.2zM465.7 214h4.4l-2.2 3.2zM465.9 210.1h4.4l-2.2 3.2zM466.1 209.2h4.4l-2.2 3.2zM466.3 213.7h4.4l-2.2 3.2zM466.5 210.7h4.4l-2.2 3.2zM466.6 207.8h4.4l-2.2 3.2zM466.8 206.1h4.4l-2.2 3.2zM467 208h4.4l-2.2 3.2zM467.2 215.1h4.4l-2.2 3.2zM467.4 208h4.4l-2.2 3.2zM467.6 216.8h4.4l-2.2 3.2zM467.7 209.5h4.4l-2.2 3.2zM467.9 209h4.4l-2.2 3.2zM468.1 212.9h4.4l-2.2 3.2zM468.3 208.9h4.4l-2.2 3.2zM468.5 210.5h4.4l-2.2 3.2zM468.7 206.9h4.4l-2.2 3.2zM468.8 206.4h4.4l-2.2 3.2zM469 207.6h4.4l-2.2 3.2zM469.2 210.4h4.4l-2.2 3.2zM469.4 207.8h4.4l-2.2 3.2zM469.6 204.5h4.4l-2.2 3.2zM469.8 210.7h4.4l-2.2 3.2zM469.9 209.1h4.4l-2.2 3.2zM470.1 208.8h4.4l-2.2 3.2zM470.3 207.9h4.4l-2.2 3.2zM470.5 203.8h4.4l-2.2 3.2zM470.7 213.5h4.4l-2.2 3.2zM470.9 208.3h4.4l-2.2 3.2zM471 211.7h4.4l-2.2 3.2zM471.2 213h4.4l-2.2 3.2zM471.4 212.3h4.4l-2.2 3.2zM471.6 210h4.4l-2.2 3.2zM471.8 209.5h4.4l-2.2 3.2zM472 210.2h4.4l-2.2 3.2zM472.1 211.7h4.4l-2.2 3.2zM472.3 210.9h4.4l-2.2 3.2zM472.5 208.3h4.4l-2.2 3.2zM472.7 210.6h4.4l-2.2 3.2zM472.9 210.4h4.4l-2.2 3.2zM473.1 211.2h4.4l-2.2 3.2zM473.2 210h4.4l-2.2 3.2zM473.4 212.9h4.4l-2.2 3.2zM473.6 210.3h4.4l-2.2 3.2zM473.8 211.7h4.4l-2.2 3.2zM474 209.5h4.4l-2.2 3.2zM474.2 208h4.4l-2.2 3.2zM474.3 207h4.4l-2.2 3.2zM474.5 209h4.4l-2.2 3.2zM474.7 210.8h4.4l-2.2 3.2zM474.9 214.8h4.4l-2.2 3.2zM475.1 209.2h4.4l-2.2 3.2zM475.3 208.1h4.4l-2.2 3.2zM475.4 208.1h4.4l-2.2 3.2zM475.6 212.6h4.4l-2.2 3.2zM475.8 209.7h4.4l-2.2 3.2zM476 207.3h4.4l-2.2 3.2zM476.2 211.3h4.4l-2.2 3.2zM476.4 206.1h4.4l-2.2 3.2zM476.5 209.7h4.4l-2.2 3.2zM476.7 209.3h4.4l-2.2 3.2zM476.9 209h4.4l-2.2 3.2zM477.1 206.5h4.4l-2.2 3.2zM477.3 211.8h4.4l-2.2 3.2zM477.5 213.6h4.4l-2.2 3.2zM477.6 206h4.4l-2.2 3.2zM477.8 209.7h4.4l-2.2 3.2zM478 211h4.4l-2.2 3.2zM478.2 215h4.4l-2.2 3.2zM478.4 208.3h4.4l-2.2 3.2zM478.6 207h4.4l-2.2 3.2zM478.7 209.3h4.4l-2.2 3.2zM478.9 214.4h4.4l-2.2 3.2zM479.1 209.5h4.4l-2.2 3.2zM479.3 210h4.4l-2.2 3.2zM479.5 213.8h4.4l-2.2 3.2zM479.7 204h4.4l-2.2 3.2zM479.8 203.9h4.4l-2.2 3.2zM480 211.6h4.4l-2.2 3.2zM480.2 211.3h4.4l-2.2 3.2zM480.4 205.8h4.4l-2.2 3.2zM480.6 210.6h4.4l-2.2 3.2zM480.8 209.5h4.4l-2.2 3.2zM480.9 209.8h4.4l-2.2 3.2zM481.1 207.3h4.4l-2.2 3.2zM481.3 208.2h4.4l-2.2 3.2zM481.5 207.1h4.4l-2.2 3.2zM481.7 209.4h4.4l-2.2 3.2zM481.8 208.7h4.4l-2.2 3.2zM482 213.5h4.4l-2.2 3.2zM482.2 210.8h4.4l-2.2 3.2zM482.4 205.3h4.4l-2.2 3.2zM482.6 210.3h4.4l-2.2 3.2zM482.8 212.8h4.4l-2.2 3.2zM482.9 209.9h4.4l-2.2 3.2zM483.1 212h4.4l-2.2 3.2zM483.3 209.1h4.4l-2.2 3.2zM483.5 211h4.4l-2.2 3.2zM483.7 206.9h4.4l-2.2 3.2zM483.9 211.2h4.4l-2.2 3.2zM484 205.8h4.4l-2.2 3.2zM484.2 212.4h4.4l-2.2 3.2zM484.4 205.4h4.4l-2.2 3.2zM484.6 203.9h4.4l-2.2 3.2zM484.8 210.5h4.4l-2.2 3.2zM485 208.8h4.4l-2.2 3.2zM485.1 209.5h4.4l-2.2 3.2zM485.3 210.2h4.4l-2.2 3.2zM485.5 209.1h4.4l-2.2 3.2zM485.7 207h4.4l-2.2 3.2zM485.9 209.7h4.4l-2.2 3.2zM486.1 210h4.4l-2.2 3.2zM486.2 210.4h4.4l-2.2 3.2zM486.4 214.1h4.4l-2.2 3.2zM486.6 207.3h4.4l-2.2 3.2zM486.8 209.3h4.4l-2.2 3.2zM487 210.5h4.4l-2.2 3.2zM487.2 208h4.4l-2.2 3.2zM487.3 206.1h4.4l-2.2 3.2zM487.5 207.7h4.4l-2.2 3.2zM487.7 211.7h4.4l-2.2 3.2zM487.9 208.4h4.4l-2.2 3.2zM488.1 210.6h4.4l-2.2 3.2zM488.3 207.3h4.4l-2.2 3.2zM488.4 210.2h4.4l-2.2 3.2zM488.6 207.4h4.4l-2.2 3.2zM488.8 207h4.4l-2.2 3.2zM489 209.3h4.4l-2.2 3.2zM489.2 209.2h4.4l-2.2 3.2zM489.4 212.7h4.4l-2.2 3.2zM489.5 205h4.4l-2.2 3.2zM489.7 210.3h4.4l-2.2 3.2zM489.9 213h4.4l-2.2 3.2zM490.1 214.8h4.4l-2.2 3.2zM490.3 208.1h4.4l-2.2 3.2zM490.5 207.3h4.4l-2.2 3.2zM490.6 207.8h4.4l-2.2 3.2zM490.8 209.7h4.4l-2.2 3.2zM491 209.4h4.4l-2.2 3.2zM491.2 209.8h4.4l-2.2 3.2zM491.4 210.4h4.4l-2.2 3.2zM491.6 206.3h4.4l-2.2 3.2zM491.7 204.2h4.4l-2.2 3.2zM491.9 205.9h4.4l-2.2 3.2zM492.1 205.6h4.4l-2.2 3.2zM492.3 208.7h4.4l-2.2 3.2zM492.5 209.7h4.4l-2.2 3.2zM492.7 215.2h4.4l-2.2 3.2zM492.8 210.2h4.4l-2.2 3.2zM493 209h4.4l-2.2 3.2zM493.2 212.4h4.4l-2.2 3.2zM493.4 207.1h4.4l-2.2 3.2zM493.6 209.7h4.4l-2.2 3.2zM493.8 211.3h4.4l-2.2 3.2zM493.9 210.8h4.4l-2.2 3.2zM494.1 209.8h4.4l-2.2 3.2zM494.3 208h4.4l-2.2 3.2zM494.5 205.8h4.4l-2.2 3.2zM494.7 208.4h4.4l-2.2 3.2zM494.9 207.3h4.4l-2.2 3.2zM495 211.7h4.4l-2.2 3.2zM495.2 208.5h4.4l-2.2 3.2zM495.4 210.2h4.4l-2.2 3.2zM495.6 204.8h4.4l-2.2 3.2zM495.8 211.2h4.4l-2.2 3.2zM496 206.7h4.4l-2.2 3.2zM496.1 202.2h4.4l-2.2 3.2zM496.3 205.3h4.4l-2.2 3.2zM496.5 206.1h4.4l-2.2 3.2zM496.7 211.5h4.4l-2.2 3.2zM496.9 210.5h4.4l-2.2 3.2zM497.1 203.8h4.4l-2.2 3.2zM497.2 208.9h4.4l-2.2 3.2zM497.4 208.4h4.4l-2.2 3.2zM497.6 202.1h4.4l-2.2 3.2zM497.8 206.2h4.4l-2.2 3.2zM498 203.6h4.4l-2.2 3.2zM498.2 206.5h4.4l-2.2 3.2zM498.3 202.1h4.4l-2.2 3.2zM498.5 206.7h4.4l-2.2 3.2zM498.7 206.3h4.4l-2.2 3.2zM498.9 206.6h4.4l-2.2 3.2zM499.1 206.6h4.4l-2.2 3.2zM499.3 211.5h4.4l-2.2 3.2zM499.4 207.7h4.4l-2.2 3.2zM499.6 209.6h4.4l-2.2 3.2zM499.8 210.4h4.4l-2.2 3.2zM500 210.8h4.4l-2.2 3.2zM500.2 211.4h4.4l-2.2 3.2zM500.4 207.2h4.4l-2.2 3.2zM500.5 205.8h4.4l-2.2 3.2zM500.7 206.6h4.4l-2.2 3.2zM500.9 207.3h4.4l-2.2 3.2zM501.1 208.5h4.4l-2.2 3.2zM501.3 208.3h4.4l-2.2 3.2zM501.5 211.2h4.4l-2.2 3.2zM501.6 208.2h4.4l-2.2 3.2zM501.8 212.9h4.4l-2.2 3.2zM502 211h4.4l-2.2 3.2zM502.2 207.2h4.4l-2.2 3.2zM502.4 210.5h4.4l-2.2 3.2zM502.6 201.3h4.4l-2.2 3.2zM502.7 211.8h4.4l-2.2 3.2zM502.9 209.4h4.4l-2.2 3.2zM503.1 210h4.4l-2.2 3.2zM503.3 204.2h4.4l-2.2 3.2zM503.5 214.6h4.4l-2.2 3.2zM503.7 207.7h4.4l-2.2 3.2zM503.8 208h4.4l-2.2 3.2zM504 211.1h4.4l-2.2 3.2zM504.2 207.8h4.4l-2.2 3.2zM504.4 206.2h4.4l-2.2 3.2zM504.6 209.9h4.4l-2.2 3.2zM504.8 205.7h4.4l-2.2 3.2zM504.9 210h4.4l-2.2 3.2zM505.1 208.8h4.4l-2.2 3.2zM505.3 210.9h4.4l-2.2 3.2zM505.5 205.2h4.4l-2.2 3.2zM505.7 211.2h4.4l-2.2 3.2zM505.8 208.8h4.4l-2.2 3.2zM506 212.9h4.4l-2.2 3.2zM506.2 206.5h4.4l-2.2 3.2zM506.4 212.6h4.4l-2.2 3.2zM506.6 209.7h4.4l-2.2 3.2zM506.8 209.9h4.4l-2.2 3.2zM506.9 206.2h4.4l-2.2 3.2zM507.1 209.3h4.4l-2.2 3.2zM507.3 209.5h4.4l-2.2 3.2zM507.5 204.4h4.4l-2.2 3.2zM507.7 205h4.4l-2.2 3.2zM507.9 205.9h4.4l-2.2 3.2zM508 211.4h4.4l-2.2 3.2zM508.2 208.1h4.4l-2.2 3.2zM508.4 211.6h4.4l-2.2 3.2zM508.6 208.4h4.4l-2.2 3.2zM508.8 208h4.4l-2.2 3.2zM509 208.2h4.4l-2.2 3.2zM509.1 206.6h4.4l-2.2 3.2zM509.3 210.6h4.4l-2.2 3.2zM509.5 208.3h4.4l-2.2 3.2zM509.7 208.1h4.4l-2.2 3.2zM509.9 204.1h4.4l-2.2 3.2zM510.1 208.2h4.4l-2.2 3.2zM510.2 205.8h4.4l-2.2 3.2zM510.4 206.2h4.4l-2.2 3.2zM510.6 209.9h4.4l-2.2 3.2zM510.8 204.7h4.4l-2.2 3.2zM511 206.8h4.4l-2.2 3.2zM511.2 208.8h4.4l-2.2 3.2zM511.3 210.1h4.4l-2.2 3.2zM511.5 206h4.4l-2.2 3.2zM511.7 208h4.4l-2.2 3.2zM511.9 207.9h4.4l-2.2 3.2zM512.1 204.4h4.4l-2.2 3.2zM512.3 201.9h4.4l-2.2 3.2zM512.4 202.4h4.4l-2.2 3.2zM512.6 208.6h4.4l-2.2 3.2zM512.8 207.3h4.4l-2.2 3.2zM513 203.7h4.4l-2.2 3.2zM513.2 205.4h4.4l-2.2 3.2zM513.4 206h4.4l-2.2 3.2zM513.5 206.1h4.4l-2.2 3.2zM513.7 206.9h4.4l-2.2 3.2zM513.9 212.3h4.4l-2.2 3.2zM514.1 205h4.4l-2.2 3.2zM514.3 207.2h4.4l-2.2 3.2zM514.5 204.9h4.4l-2.2 3.2zM514.6 205.3h4.4l-2.2 3.2zM514.8 204.6h4.4l-2.2 3.2zM515 206.2h4.4l-2.2 3.2zM515.2 205.4h4.4l-2.2 3.2zM515.4 208.2h4.4l-2.2 3.2zM515.6 207.6h4.4l-2.2 3.2zM515.7 204.5h4.4l-2.2 3.2zM515.9 211.4h4.4l-2.2 3.2zM516.1 201.8h4.4l-2.2 3.2zM516.3 207.5h4.4l-2.2 3.2zM516.5 212h4.4l-2.2 3.2zM516.7 204.9h4.4l-2.2 3.2zM516.8 209.9h4.4l-2.2 3.2zM517 210.1h4.4l-2.2 3.2zM517.2 207.5h4.4l-2.2 3.2zM517.4 202.1h4.4l-2.2 3.2zM517.6 210.1h4.4l-2.2 3.2zM517.8 206.8h4.4l-2.2 3.2zM517.9 204.3h4.4l-2.2 3.2zM518.1 209.7h4.4l-2.2 3.2zM518.3 204.8h4.4l-2.2 3.2zM518.5 209.2h4.4l-2.2 3.2zM518.7 205.3h4.4l-2.2 3.2zM518.9 207.9h4.4l-2.2 3.2zM519 204h4.4l-2.2 3.2zM519.2 205.6h4.4l-2.2 3.2zM519.4 204.4h4.4l-2.2 3.2zM519.6 204.9h4.4l-2.2 3.2zM519.8 207.1h4.4l-2.2 3.2zM520 206.2h4.4l-2.2 3.2zM520.1 207.1h4.4l-2.2 3.2zM520.3 209.8h4.4l-2.2 3.2zM520.5 206.4h4.4l-2.2 3.2zM520.7 202.2h4.4l-2.2 3.2zM520.9 206h4.4l-2.2 3.2zM521.1 207h4.4l-2.2 3.2zM521.2 211h4.4l-2.2 3.2zM521.4 209.3h4.4l-2.2 3.2zM521.6 209.2h4.4l-2.2 3.2zM521.8 206.3h4.4l-2.2 3.2zM522 208.5h4.4l-2.2 3.2zM522.2 203.4h4.4l-2.2 3.2zM522.3 210.1h4.4l-2.2 3.2zM522.5 208.1h4.4l-2.2 3.2zM522.7 208.3h4.4l-2.2 3.2zM522.9 206.1h4.4l-2.2 3.2zM523.1 207.2h4.4l-2.2 3.2zM523.3 205.5h4.4l-2.2 3.2zM523.4 208.5h4.4l-2.2 3.2zM523.6 204h4.4l-2.2 3.2zM523.8 209.6h4.4l-2.2 3.2zM524 208.6h4.4l-2.2 3.2zM524.2 212.2h4.4l-2.2 3.2zM524.4 207.2h4.4l-2.2 3.2zM524.5 207.2h4.4l-2.2 3.2zM524.7 207.9h4.4l-2.2 3.2zM524.9 207.5h4.4l-2.2 3.2zM525.1 207.2h4.4l-2.2 3.2zM525.3 204.9h4.4l-2.2 3.2zM525.5 204.9h4.4l-2.2 3.2zM525.6 206.3h4.4l-2.2 3.2zM525.8 207h4.4l-2.2 3.2zM526 204.9h4.4l-2.2 3.2zM526.2 205h4.4l-2.2 3.2zM526.4 207.1h4.4l-2.2 3.2zM526.6 209.6h4.4l-2.2 3.2zM526.7 207.4h4.4l-2.2 3.2zM526.9 209.6h4.4l-2.2 3.2zM527.1 210.3h4.4l-2.2 3.2zM527.3 209.9h4.4l-2.2 3.2zM527.5 207.1h4.4l-2.2 3.2zM527.7 207.2h4.4l-2.2 3.2zM527.8 203.8h4.4l-2.2 3.2zM528 205.5h4.4l-2.2 3.2zM528.2 209.5h4.4l-2.2 3.2zM528.4 204.1h4.4l-2.2 3.2zM528.6 211.8h4.4l-2.2 3.2zM528.8 212.1h4.4l-2.2 3.2zM528.9 207.9h4.4l-2.2 3.2zM529.1 211h4.4l-2.2 3.2zM529.3 205.6h4.4l-2.2 3.2zM529.5 206.5h4.4l-2.2 3.2zM529.7 208.2h4.4l-2.2 3.2zM529.8 209.3h4.4l-2.2 3.2zM530 208.9h4.4l-2.2 3.2zM530.2 207.4h4.4l-2.2 3.2zM530.4 214.2h4.4l-2.2 3.2zM530.6 210.3h4.4l-2.2 3.2zM530.8 210.4h4.4l-2.2 3.2zM530.9 211.5h4.4l-2.2 3.2zM531.1 210.7h4.4l-2.2 3.2zM531.3 209.1h4.4l-2.2 3.2zM531.5 208.9h4.4l-2.2 3.2zM531.7 206.4h4.4l-2.2 3.2zM531.9 213.9h4.4l-2.2 3.2zM532 206.8h4.4l-2.2 3.2zM532.2 206.7h4.4l-2.2 3.2zM532.4 208.8h4.4l-2.2 3.2zM532.6 207h4.4l-2.2 3.2zM532.8 215.4h4.4l-2.2 3.2zM533 211.7h4.4l-2.2 3.2zM533.1 216.5h4.4l-2.2 3.2zM533.3 214.4h4.4l-2.2 3.2zM533.5 212.4h4.4l-2.2 3.2zM533.7 212.5h4.4l-2.2 3.2zM533.9 209.6h4.4l-2.2 3.2zM534.1 211.1h4.4l-2.2 3.2zM534.2 209h4.4l-2.2 3.2zM534.4 211.5h4.4l-2.2 3.2zM534.6 209.8h4.4l-2.2 3.2zM534.8 214.4h4.4l-2.2 3.2zM535 213.3h4.4l-2.2 3.2zM535.2 211.4h4.4l-2.2 3.2zM535.3 207.8h4.4l-2.2 3.2zM535.5 213.3h4.4l-2.2 3.2zM535.7 213.8h4.4l-2.2 3.2zM535.9 211.7h4.4l-2.2 3.2zM536.1 209h4.4l-2.2 3.2zM536.3 212.9h4.4l-2.2 3.2zM536.4 214.4h4.4l-2.2 3.2zM536.6 207.6h4.4l-2.2 3.2zM536.8 213.3h4.4l-2.2 3.2zM537 207.9h4.4l-2.2 3.2zM537.2 212.3h4.4l-2.2 3.2zM537.4 216.2h4.4l-2.2 3.2zM537.5 212.4h4.4l-2.2 3.2zM537.7 213.4h4.4l-2.2 3.2zM537.9 211.1h4.4l-2.2 3.2zM538.1 212.4h4.4l-2.2 3.2zM538.3 221.5h4.4l-2.2 3.2zM538.5 215.5h4.4l-2.2 3.2zM538.6 211.8h4.4l-2.2 3.2zM538.8 211.7h4.4l-2.2 3.2zM539 212.6h4.4l-2.2 3.2zM539.2 217.6h4.4l-2.2 3.2zM539.4 213.1h4.4l-2.2 3.2zM539.6 215.2h4.4l-2.2 3.2zM539.7 211.9h4.4l-2.2 3.2zM539.9 209.9h4.4l-2.2 3.2zM540.1 215.8h4.4l-2.2 3.2zM540.3 212.7h4.4l-2.2 3.2zM540.5 211.1h4.4l-2.2 3.2zM540.7 210.2h4.4l-2.2 3.2zM540.8 211.4h4.4l-2.2 3.2zM541 211.6h4.4l-2.2 3.2zM541.2 209.5h4.4l-2.2 3.2zM541.4 215.7h4.4l-2.2 3.2zM541.6 213.9h4.4l-2.2 3.2zM541.8 215.3h4.4l-2.2 3.2zM541.9 212.3h4.4l-2.2 3.2zM542.1 213.9h4.4l-2.2 3.2zM542.3 213.5h4.4l-2.2 3.2zM542.5 215.8h4.4l-2.2 3.2zM542.7 215h4.4l-2.2 3.2zM542.9 214h4.4l-2.2 3.2zM543 211.8h4.4l-2.2 3.2zM543.2 210.5h4.4l-2.2 3.2zM543.4 211.5h4.4l-2.2 3.2zM543.6 211.9h4.4l-2.2 3.2zM543.8 212.1h4.4l-2.2 3.2zM544 210.5h4.4l-2.2 3.2zM544.1 217.1h4.4l-2.2 3.2zM544.3 214h4.4l-2.2 3.2zM544.5 208.8h4.4l-2.2 3.2zM544.7 209.2h4.4l-2.2 3.2zM544.9 210.4h4.4l-2.2 3.2zM545.1 214h4.4l-2.2 3.2zM545.2 215.9h4.4l-2.2 3.2zM545.4 211.3h4.4l-2.2 3.2zM545.6 214.9h4.4l-2.2 3.2zM545.8 212.9h4.4l-2.2 3.2zM546 216.1h4.4l-2.2 3.2zM546.2 216.7h4.4l-2.2 3.2zM546.3 214.3h4.4l-2.2 3.2zM546.5 215.2h4.4l-2.2 3.2zM546.7 213.6h4.4l-2.2 3.2zM546.9 212.8h4.4l-2.2 3.2zM547.1 211h4.4l-2.2 3.2zM547.3 214.4h4.4l-2.2 3.2zM547.4 213.5h4.4l-2.2 3.2zM547.6 212.9h4.4l-2.2 3.2zM547.8 213.6h4.4l-2.2 3.2zM548 213.3h4.4l-2.2 3.2zM548.2 211.4h4.4l-2.2 3.2zM548.4 212.6h4.4l-2.2 3.2zM548.5 216.4h4.4l-2.2 3.2zM548.7 213.3h4.4l-2.2 3.2zM548.9 217h4.4l-2.2 3.2zM549.1 211.2h4.4l-2.2 3.2zM549.3 210.8h4.4l-2.2 3.2zM549.5 214.1h4.4l-2.2 3.2zM549.6 215.6h4.4l-2.2 3.2zM549.8 212.4h4.4l-2.2 3.2zM550 215.3h4.4l-2.2 3.2zM550.2 216h4.4l-2.2 3.2zM550.4 216.3h4.4l-2.2 3.2zM550.6 213.7h4.4l-2.2 3.2zM550.7 213.8h4.4l-2.2 3.2zM550.9 207.7h4.4l-2.2 3.2zM551.1 214h4.4l-2.2 3.2zM551.3 214.6h4.4l-2.2 3.2zM551.5 217.1h4.4l-2.2 3.2zM551.7 211.1h4.4l-2.2 3.2zM551.8 212.1h4.4l-2.2 3.2zM552 211.7h4.4l-2.2 3.2zM552.2 216h4.4l-2.2 3.2zM552.4 208.4h4.4l-2.2 3.2zM552.6 211.6h4.4l-2.2 3.2zM552.8 218.6h4.4l-2.2 3.2zM552.9 215.5h4.4l-2.2 3.2zM553.1 211h4.4l-2.2 3.2zM553.3 213.9h4.4l-2.2 3.2zM553.5 215.9h4.4l-2.2 3.2zM553.7 215.2h4.4l-2.2 3.2zM553.8 213.5h4.4l-2.2 3.2zM554 212.2h4.4l-2.2 3.2zM554.2 215.8h4.4l-2.2 3.2zM554.4 214h4.4l-2.2 3.2zM554.6 215.8h4.4l-2.2 3.2zM554.8 214.9h4.4l-2.2 3.2zM554.9 213h4.4l-2.2 3.2zM555.1 217.2h4.4l-2.2 3.2zM555.3 212.9h4.4l-2.2 3.2zM555.5 214.9h4.4l-2.2 3.2zM555.7 212.6h4.4l-2.2 3.2zM555.9 213.5h4.4l-2.2 3.2zM556 213.4h4.4l-2.2 3.2zM556.2 212.5h4.4l-2.2 3.2zM556.4 214.5h4.4l-2.2 3.2zM556.6 216.9h4.4l-2.2 3.2zM556.8 218.1h4.4l-2.2 3.2zM557 217.1h4.4l-2.2 3.2zM557.1 213.6h4.4l-2.2 3.2zM557.3 217.2h4.4l-2.2 3.2zM557.5 214.9h4.4l-2.2 3.2zM557.7 217.9h4.4l-2.2 3.2zM557.9 211.1h4.4l-2.2 3.2zM558.1 217.2h4.4l-2.2 3.2zM558.2 212.6h4.4l-2.2 3.2zM558.4 216.5h4.4l-2.2 3.2zM558.6 212.9h4.4l-2.2 3.2zM558.8 215.9h4.4l-2.2 3.2zM559 213.3h4.4l-2.2 3.2zM559.2 209.7h4.4l-2.2 3.2zM559.3 211.7h4.4l-2.2 3.2zM559.5 213.3h4.4l-2.2 3.2zM559.7 213.9h4.4l-2.2 3.2zM559.9 208.9h4.4l-2.2 3.2zM560.1 211.2h4.4l-2.2 3.2zM560.3 212.2h4.4l-2.2 3.2zM560.4 213.4h4.4l-2.2 3.2zM560.6 214.3h4.4l-2.2 3.2zM560.8 212h4.4l-2.2 3.2zM561 210.5h4.4l-2.2 3.2zM561.2 214.5h4.4l-2.2 3.2zM561.4 213.1h4.4l-2.2 3.2zM561.5 215.7h4.4l-2.2 3.2zM561.7 212.6h4.4l-2.2 3.2zM561.9 215.2h4.4l-2.2 3.2zM562.1 211.8h4.4l-2.2 3.2zM562.3 214.3h4.4l-2.2 3.2zM562.5 213.9h4.4l-2.2 3.2zM562.6 214.7h4.4l-2.2 3.2zM562.8 211.7h4.4l-2.2 3.2zM563 213.5h4.4l-2.2 3.2zM563.2 211.9h4.4l-2.2 3.2zM563.4 213.4h4.4l-2.2 3.2zM563.6 215.1h4.4l-2.2 3.2zM563.7 220.2h4.4l-2.2 3.2zM563.9 213.8h4.4l-2.2 3.2zM564.1 215.2h4.4l-2.2 3.2zM564.3 213.9h4.4l-2.2 3.2zM564.5 216.1h4.4l-2.2 3.2zM564.7 214.6h4.4l-2.2 3.2zM564.8 215.9h4.4l-2.2 3.2zM565 214.4h4.4l-2.2 3.2zM565.2 218.9h4.4l-2.2 3.2zM565.4 216.6h4.4l-2.2 3.2zM565.6 209.9h4.4l-2.2 3.2zM565.8 214.2h4.4l-2.2 3.2zM565.9 213.7h4.4l-2.2 3.2zM566.1 205.4h4.4l-2.2 3.2zM566.3 211.7h4.4l-2.2 3.2zM566.5 212.5h4.4l-2.2 3.2zM566.7 211.9h4.4l-2.2 3.2zM566.9 213.8h4.4l-2.2 3.2zM567 209.6h4.4l-2.2 3.2zM567.2 215.1h4.4l-2.2 3.2zM567.4 215.2h4.4l-2.2 3.2zM567.6 214.3h4.4l-2.2 3.2zM567.8 212.8h4.4l-2.2 3.2zM568 213.5h4.4l-2.2 3.2zM568.1 212.4h4.4l-2.2 3.2zM568.3 215.9h4.4l-2.2 3.2zM568.5 214.5h4.4l-2.2 3.2zM568.7 217.8h4.4l-2.2 3.2zM568.9 212.6h4.4l-2.2 3.2zM569.1 216.6h4.4l-2.2 3.2zM569.2 212.1h4.4l-2.2 3.2zM569.4 213h4.4l-2.2 3.2zM569.6 211.1h4.4l-2.2 3.2zM569.8 215.3h4.4l-2.2 3.2zM570 213.2h4.4l-2.2 3.2zM570.2 214.7h4.4l-2.2 3.2zM570.3 216.6h4.4l-2.2 3.2zM570.5 213.2h4.4l-2.2 3.2zM570.7 214.1h4.4l-2.2 3.2zM570.9 215.3h4.4l-2.2 3.2zM571.1 213.2h4.4l-2.2 3.2zM571.3 212.1h4.4l-2.2 3.2zM571.4 214.1h4.4l-2.2 3.2zM571.6 214.4h4.4l-2.2 3.2zM571.8 215h4.4l-2.2 3.2zM572 215.1h4.4l-2.2 3.2zM572.2 211.8h4.4l-2.2 3.2zM572.4 214.2h4.4l-2.2 3.2zM572.5 215.9h4.4l-2.2 3.2zM572.7 212.2h4.4l-2.2 3.2zM572.9 214h4.4l-2.2 3.2zM573.1 211.9h4.4l-2.2 3.2zM573.3 213.6h4.4l-2.2 3.2zM573.5 216.9h4.4l-2.2 3.2zM573.6 213.5h4.4l-2.2 3.2zM573.8 211.1h4.4l-2.2 3.2zM574 213.9h4.4l-2.2 3.2zM574.2 213.6h4.4l-2.2 3.2zM574.4 215.5h4.4l-2.2 3.2zM574.6 210.2h4.4l-2.2 3.2zM574.7 211.1h4.4l-2.2 3.2zM574.9 212.9h4.4l-2.2 3.2zM575.1 209.7h4.4l-2.2 3.2zM575.3 215.5h4.4l-2.2 3.2zM575.5 208.7h4.4l-2.2 3.2zM575.7 211.3h4.4l-2.2 3.2zM575.8 209.9h4.4l-2.2 3.2zM576 211.6h4.4l-2.2 3.2zM576.2 214.7h4.4l-2.2 3.2zM576.4 214.3h4.4l-2.2 3.2zM576.6 215h4.4l-2.2 3.2zM576.8 214.3h4.4l-2.2 3.2zM576.9 208.6h4.4l-2.2 3.2zM577.1 213.6h4.4l-2.2 3.2zM577.3 209h4.4l-2.2 3.2zM577.5 211.8h4.4l-2.2 3.2zM577.7 212h4.4l-2.2 3.2zM577.8 211.7h4.4l-2.2 3.2zM578 213.9h4.4l-2.2 3.2zM578.2 211.1h4.4l-2.2 3.2zM578.4 216.5h4.4l-2.2 3.2zM578.6 214.1h4.4l-2.2 3.2zM578.8 215.3h4.4l-2.2 3.2zM578.9 214.4h4.4l-2.2 3.2zM579.1 214.7h4.4l-2.2 3.2zM579.3 212.6h4.4l-2.2 3.2zM579.5 216.9h4.4l-2.2 3.2zM579.7 210.5h4.4l-2.2 3.2zM579.9 214.4h4.4l-2.2 3.2zM580 212.7h4.4l-2.2 3.2zM580.2 212.2h4.4l-2.2 3.2zM580.4 213.3h4.4l-2.2 3.2zM580.6 211h4.4l-2.2 3.2zM580.8 214.5h4.4l-2.2 3.2zM581 214.3h4.4l-2.2 3.2zM581.1 212.8h4.4l-2.2 3.2zM581.3 214.2h4.4l-2.2 3.2zM581.5 210.4h4.4l-2.2 3.2zM581.7 208.7h4.4l-2.2 3.2zM581.9 211.3h4.4l-2.2 3.2zM582.1 212h4.4l-2.2 3.2zM582.2 217.8h4.4l-2.2 3.2zM582.4 212h4.4l-2.2 3.2zM582.6 214.7h4.4l-2.2 3.2zM582.8 214.3h4.4l-2.2 3.2zM583 216.9h4.4l-2.2 3.2zM583.2 212.7h4.4l-2.2 3.2zM583.3 213.8h4.4l-2.2 3.2zM583.5 212h4.4l-2.2 3.2zM583.7 210.6h4.4l-2.2 3.2zM583.9 210.2h4.4l-2.2 3.2zM584.1 210.7h4.4l-2.2 3.2zM584.3 215.4h4.4l-2.2 3.2zM584.4 212.9h4.4l-2.2 3.2zM584.6 211.8h4.4l-2.2 3.2zM584.8 212.3h4.4l-2.2 3.2zM585 211.1h4.4l-2.2 3.2zM585.2 212.2h4.4l-2.2 3.2zM585.4 212.2h4.4l-2.2 3.2zM585.5 213.6h4.4l-2.2 3.2zM585.7 214.2h4.4l-2.2 3.2zM585.9 208.8h4.4l-2.2 3.2zM586.1 212.7h4.4l-2.2 3.2zM586.3 215.1h4.4l-2.2 3.2zM586.5 210h4.4l-2.2 3.2zM586.6 211.7h4.4l-2.2 3.2zM586.8 212.5h4.4l-2.2 3.2zM587 216.2h4.4l-2.2 3.2zM587.2 213.4h4.4l-2.2 3.2zM587.4 211.7h4.4l-2.2 3.2zM587.6 213.2h4.4l-2.2 3.2zM587.7 214.3h4.4l-2.2 3.2zM587.9 212.9h4.4l-2.2 3.2zM588.1 216h4.4l-2.2 3.2zM588.3 213h4.4l-2.2 3.2zM588.5 209.9h4.4l-2.2 3.2zM588.7 210.4h4.4l-2.2 3.2zM588.8 211.8h4.4l-2.2 3.2zM589 211.3h4.4l-2.2 3.2zM589.2 214.3h4.4l-2.2 3.2zM589.4 212.8h4.4l-2.2 3.2zM589.6 215.7h4.4l-2.2 3.2zM589.8 213.8h4.4l-2.2 3.2zM589.9 215.2h4.4l-2.2 3.2zM590.1 210.4h4.4l-2.2 3.2zM590.3 211.1h4.4l-2.2 3.2zM590.5 213.5h4.4l-2.2 3.2zM590.7 212.2h4.4l-2.2 3.2zM590.9 213.4h4.4l-2.2 3.2zM591 212.6h4.4l-2.2 3.2zM591.2 210.7h4.4l-2.2 3.2zM591.4 215.6h4.4l-2.2 3.2zM591.6 214.4h4.4l-2.2 3.2zM591.8 208.8h4.4l-2.2 3.2zM592 210.7h4.4l-2.2 3.2zM592.1 212.1h4.4l-2.2 3.2zM592.3 213.5h4.4l-2.2 3.2zM592.5 211.9h4.4l-2.2 3.2zM592.7 209.2h4.4l-2.2 3.2zM592.9 213.8h4.4l-2.2 3.2zM593.1 211.6h4.4l-2.2 3.2zM593.2 214.6h4.4l-2.2 3.2zM593.4 212.7h4.4l-2.2 3.2zM593.6 215.6h4.4l-2.2 3.2zM593.8 213.8h4.4l-2.2 3.2zM594 213.9h4.4l-2.2 3.2zM594.2 211h4.4l-2.2 3.2zM594.3 214.2h4.4l-2.2 3.2zM594.5 212.5h4.4l-2.2 3.2zM594.7 209.4h4.4l-2.2 3.2zM594.9 211.2h4.4l-2.2 3.2zM595.1 211.3h4.4l-2.2 3.2zM595.3 213h4.4l-2.2 3.2zM595.4 213.5h4.4l-2.2 3.2zM595.6 209.7h4.4l-2.2 3.2zM595.8 213.6h4.4l-2.2 3.2zM596 211.9h4.4l-2.2 3.2zM596.2 209.8h4.4l-2.2 3.2zM596.4 215h4.4l-2.2 3.2zM596.5 210.5h4.4l-2.2 3.2zM596.7 207.8h4.4l-2.2 3.2zM596.9 213.6h4.4l-2.2 3.2zM597.1 213.9h4.4l-2.2 3.2zM597.3 210.7h4.4l-2.2 3.2zM597.5 214.3h4.4l-2.2 3.2zM597.6 214.2h4.4l-2.2 3.2zM597.8 211h4.4l-2.2 3.2zM598 216.2h4.4l-2.2 3.2zM598.2 211.9h4.4l-2.2 3.2zM598.4 212.5h4.4l-2.2 3.2zM598.6 207.1h4.4l-2.2 3.2zM598.7 213.4h4.4l-2.2 3.2zM598.9 210.8h4.4l-2.2 3.2zM599.1 213h4.4l-2.2 3.2zM599.3 208.5h4.4l-2.2 3.2zM599.5 214.5h4.4l-2.2 3.2zM599.7 215.1h4.4l-2.2 3.2zM599.8 216h4.4l-2.2 3.2zM600 205.9h4.4l-2.2 3.2zM600.2 213.3h4.4l-2.2 3.2zM600.4 212.8h4.4l-2.2 3.2zM600.6 205.8h4.4l-2.2 3.2zM600.8 210.6h4.4l-2.2 3.2zM600.9 211.9h4.4l-2.2 3.2zM601.1 215.1h4.4l-2.2 3.2zM601.3 210.4h4.4l-2.2 3.2zM601.5 212.5h4.4l-2.2 3.2zM601.7 212h4.4l-2.2 3.2zM601.9 212.9h4.4l-2.2 3.2zM602 211.3h4.4l-2.2 3.2zM602.2 215.3h4.4l-2.2 3.2zM602.4 214.1h4.4l-2.2 3.2zM602.6 209.3h4.4l-2.2 3.2zM602.8 214.4h4.4l-2.2 3.2zM602.9 210.6h4.4l-2.2 3.2zM603.1 211.6h4.4l-2.2 3.2zM603.3 214.5h4.4l-2.2 3.2zM603.5 212.3h4.4l-2.2 3.2zM603.7 213.3h4.4l-2.2 3.2zM603.9 213.8h4.4l-2.2 3.2zM604 213.4h4.4l-2.2 3.2zM604.2 211h4.4l-2.2 3.2zM604.4 210.2h4.4l-2.2 3.2zM604.6 213.6h4.4l-2.2 3.2zM604.8 213.7h4.4l-2.2 3.2zM605 212.9h4.4l-2.2 3.2zM605.1 211.8h4.4l-2.2 3.2zM605.3 213.9h4.4l-2.2 3.2zM605.5 212.1h4.4l-2.2 3.2zM605.7 209.3h4.4l-2.2 3.2zM605.9 212.7h4.4l-2.2 3.2zM606.1 213.2h4.4l-2.2 3.2zM606.2 213.8h4.4l-2.2 3.2zM606.4 210.3h4.4l-2.2 3.2zM606.6 210.6h4.4l-2.2 3.2zM606.8 212.9h4.4l-2.2 3.2zM607 211.3h4.4l-2.2 3.2zM607.2 212h4.4l-2.2 3.2zM607.3 214.1h4.4l-2.2 3.2zM607.5 213h4.4l-2.2 3.2zM607.7 216h4.4l-2.2 3.2zM607.9 212.8h4.4l-2.2 3.2zM608.1 215.7h4.4l-2.2 3.2zM608.3 214.4h4.4l-2.2 3.2zM608.4 217.5h4.4l-2.2 3.2zM608.6 212.3h4.4l-2.2 3.2zM608.8 212.1h4.4l-2.2 3.2zM609 214.9h4.4l-2.2 3.2zM609.2 211.2h4.4l-2.2 3.2zM609.4 211.3h4.4l-2.2 3.2zM609.5 212.8h4.4l-2.2 3.2zM609.7 213h4.4l-2.2 3.2zM609.9 209.4h4.4l-2.2 3.2zM610.1 212.8h4.4l-2.2 3.2zM610.3 211.6h4.4l-2.2 3.2zM610.5 212.2h4.4l-2.2 3.2zM610.6 212.6h4.4l-2.2 3.2zM610.8 211.9h4.4l-2.2 3.2zM611 214.5h4.4l-2.2 3.2zM611.2 213.3h4.4l-2.2 3.2zM611.4 211.9h4.4l-2.2 3.2zM611.6 212.5h4.4l-2.2 3.2zM611.7 214.4h4.4l-2.2 3.2zM611.9 213.9h4.4l-2.2 3.2zM612.1 214.9h4.4l-2.2 3.2zM612.3 212h4.4l-2.2 3.2zM612.5 212.6h4.4l-2.2 3.2zM612.7 216.4h4.4l-2.2 3.2zM612.8 212.3h4.4l-2.2 3.2zM613 215.8h4.4l-2.2 3.2zM613.2 214.1h4.4l-2.2 3.2zM613.4 211.5h4.4l-2.2 3.2zM613.6 209.5h4.4l-2.2 3.2zM613.8 214.7h4.4l-2.2 3.2zM613.9 210.9h4.4l-2.2 3.2zM614.1 210.9h4.4l-2.2 3.2zM614.3 208.8h4.4l-2.2 3.2zM614.5 214.8h4.4l-2.2 3.2zM614.7 212.6h4.4l-2.2 3.2zM614.9 212.4h4.4l-2.2 3.2zM615 213.9h4.4l-2.2 3.2zM615.2 212.9h4.4l-2.2 3.2zM615.4 212.6h4.4l-2.2 3.2zM615.6 213.4h4.4l-2.2 3.2zM615.8 211.8h4.4l-2.2 3.2zM616 207.2h4.4l-2.2 3.2zM616.1 213.9h4.4l-2.2 3.2zM616.3 213.3h4.4l-2.2 3.2zM616.5 212.5h4.4l-2.2 3.2zM616.7 215.6h4.4l-2.2 3.2zM616.9 209.6h4.4l-2.2 3.2zM617.1 206.5h4.4l-2.2 3.2zM617.2 215.4h4.4l-2.2 3.2zM617.4 213.3h4.4l-2.2 3.2zM617.6 209.1h4.4l-2.2 3.2zM617.8 211.6h4.4l-2.2 3.2zM618 213.7h4.4l-2.2 3.2zM618.2 210h4.4l-2.2 3.2zM618.3 213.6h4.4l-2.2 3.2zM618.5 216.7h4.4l-2.2 3.2zM618.7 215.2h4.4l-2.2 3.2zM618.9 212.4h4.4l-2.2 3.2zM619.1 213.7h4.4l-2.2 3.2zM619.3 210.5h4.4l-2.2 3.2zM619.4 212.7h4.4l-2.2 3.2zM619.6 211.8h4.4l-2.2 3.2zM619.8 210.4h4.4l-2.2 3.2zM620 208h4.4l-2.2 3.2zM620.2 216.4h4.4l-2.2 3.2zM620.4 212.6h4.4l-2.2 3.2zM620.5 210.4h4.4l-2.2 3.2zM620.7 211.6h4.4l-2.2 3.2zM620.9 215.5h4.4l-2.2 3.2zM621.1 215.7h4.4l-2.2 3.2zM621.3 211.2h4.4l-2.2 3.2zM621.5 212.9h4.4l-2.2 3.2zM621.6 214.3h4.4l-2.2 3.2zM621.8 211.8h4.4l-2.2 3.2zM622 210.1h4.4l-2.2 3.2zM622.2 210.5h4.4l-2.2 3.2zM622.4 212.5h4.4l-2.2 3.2zM622.6 210.9h4.4l-2.2 3.2zM622.7 209.9h4.4l-2.2 3.2zM622.9 212h4.4l-2.2 3.2zM623.1 214.4h4.4l-2.2 3.2zM623.3 213.9h4.4l-2.2 3.2zM623.5 212h4.4l-2.2 3.2zM623.7 216.3h4.4l-2.2 3.2zM623.8 210h4.4l-2.2 3.2zM624 212.4h4.4l-2.2 3.2zM624.2 209.8h4.4l-2.2 3.2zM624.4 214.1h4.4l-2.2 3.2zM624.6 212.3h4.4l-2.2 3.2zM624.8 209.1h4.4l-2.2 3.2zM624.9 210.9h4.4l-2.2 3.2zM625.1 216.1h4.4l-2.2 3.2zM625.3 214h4.4l-2.2 3.2zM625.5 212.7h4.4l-2.2 3.2zM625.7 214.3h4.4l-2.2 3.2zM625.9 209.3h4.4l-2.2 3.2zM626 210.9h4.4l-2.2 3.2zM626.2 209.9h4.4l-2.2 3.2zM626.4 210.9h4.4l-2.2 3.2zM626.6 211.8h4.4l-2.2 3.2zM626.8 214.5h4.4l-2.2 3.2zM626.9 214.6h4.4l-2.2 3.2zM627.1 214.5h4.4l-2.2 3.2zM627.3 217.9h4.4l-2.2 3.2zM627.5 211h4.4l-2.2 3.2zM627.7 212.5h4.4l-2.2 3.2zM627.9 213.6h4.4l-2.2 3.2zM628 210.9h4.4l-2.2 3.2zM628.2 212h4.4l-2.2 3.2zM628.4 213.4h4.4l-2.2 3.2zM628.6 210.8h4.4l-2.2 3.2zM628.8 214.3h4.4l-2.2 3.2zM629 215h4.4l-2.2 3.2zM629.1 210.3h4.4l-2.2 3.2zM629.3 208h4.4l-2.2 3.2zM629.5 212.7h4.4l-2.2 3.2zM629.7 210.5h4.4l-2.2 3.2zM629.9 213.3h4.4l-2.2 3.2zM630.1 211.7h4.4l-2.2 3.2zM630.2 213.2h4.4l-2.2 3.2zM630.4 214.8h4.4l-2.2 3.2zM630.6 215.5h4.4l-2.2 3.2zM630.8 211.9h4.4l-2.2 3.2zM631 210.3h4.4l-2.2 3.2zM631.2 207.6h4.4l-2.2 3.2zM631.3 208.3h4.4l-2.2 3.2zM631.5 211h4.4l-2.2 3.2zM631.7 212.8h4.4l-2.2 3.2zM631.9 211.2h4.4l-2.2 3.2zM632.1 211.4h4.4l-2.2 3.2zM632.3 209.4h4.4l-2.2 3.2zM632.4 209.3h4.4l-2.2 3.2zM632.6 209.1h4.4l-2.2 3.2zM632.8 213.8h4.4l-2.2 3.2zM633 208.6h4.4l-2.2 3.2zM633.2 213.9h4.4l-2.2 3.2zM633.4 210.8h4.4l-2.2 3.2zM633.5 213.6h4.4l-2.2 3.2zM633.7 213h4.4l-2.2 3.2zM633.9 214.1h4.4l-2.2 3.2zM634.1 214.9h4.4l-2.2 3.2zM634.3 211h4.4l-2.2 3.2zM634.5 210.6h4.4l-2.2 3.2zM634.6 211.7h4.4l-2.2 3.2zM634.8 211h4.4l-2.2 3.2zM635 213.9h4.4l-2.2 3.2zM635.2 212.3h4.4l-2.2 3.2zM635.4 212.5h4.4l-2.2 3.2zM635.6 213.4h4.4l-2.2 3.2zM635.7 211.6h4.4l-2.2 3.2zM635.9 214.7h4.4l-2.2 3.2zM636.1 206.4h4.4l-2.2 3.2zM636.3 213h4.4l-2.2 3.2zM636.5 214.2h4.4l-2.2 3.2zM636.7 211h4.4l-2.2 3.2zM636.8 211.2h4.4l-2.2 3.2zM637 214.3h4.4l-2.2 3.2zM637.2 211.9h4.4l-2.2 3.2zM637.4 208.8h4.4l-2.2 3.2zM637.6 209.9h4.4l-2.2 3.2zM637.8 214.6h4.4l-2.2 3.2zM637.9 210.8h4.4l-2.2 3.2zM638.1 215.2h4.4l-2.2 3.2zM638.3 215.3h4.4l-2.2 3.2zM638.5 211.9h4.4l-2.2 3.2zM638.7 213.7h4.4l-2.2 3.2zM638.9 210.9h4.4l-2.2 3.2zM639 211.8h4.4l-2.2 3.2zM639.2 211.2h4.4l-2.2 3.2zM639.4 213.8h4.4l-2.2 3.2zM639.6 210.1h4.4l-2.2 3.2zM639.8 212.3h4.4l-2.2 3.2zM640 212.7h4.4l-2.2 3.2zM640.1 213.6h4.4l-2.2 3.2zM640.3 205.5h4.4l-2.2 3.2zM640.5 209.1h4.4l-2.2 3.2zM640.7 210.9h4.4l-2.2 3.2zM640.9 212.2h4.4l-2.2 3.2zM641.1 212.9h4.4l-2.2 3.2zM641.2 213h4.4l-2.2 3.2zM641.4 216.6h4.4l-2.2 3.2zM641.6 213.9h4.4l-2.2 3.2zM641.8 213.8h4.4l-2.2 3.2zM642 211.7h4.4l-2.2 3.2zM642.2 214.2h4.4l-2.2 3.2zM642.3 214h4.4l-2.2 3.2zM642.5 214h4.4l-2.2 3.2zM642.7 212.4h4.4l-2.2 3.2zM642.9 213.9h4.4l-2.2 3.2zM643.1 215.7h4.4l-2.2 3.2zM643.3 211.1h4.4l-2.2 3.2zM643.4 208.4h4.4l-2.2 3.2zM643.6 214.3h4.4l-2.2 3.2zM643.8 214.1h4.4l-2.2 3.2zM644 212.2h4.4l-2.2 3.2zM644.2 211.8h4.4l-2.2 3.2zM644.4 218.1h4.4l-2.2 3.2zM644.5 211.8h4.4l-2.2 3.2zM644.7 210.3h4.4l-2.2 3.2zM644.9 211.8h4.4l-2.2 3.2zM645.1 213.7h4.4l-2.2 3.2zM645.3 211.5h4.4l-2.2 3.2zM645.5 212h4.4l-2.2 3.2zM645.6 213.3h4.4l-2.2 3.2zM645.8 211.9h4.4l-2.2 3.2zM646 213h4.4l-2.2 3.2zM646.2 212.7h4.4l-2.2 3.2zM646.4 210.7h4.4l-2.2 3.2zM646.6 212.9h4.4l-2.2 3.2zM646.7 210.5h4.4l-2.2 3.2zM646.9 214.6h4.4l-2.2 3.2zM647.1 211h4.4l-2.2 3.2zM647.3 212.3h4.4l-2.2 3.2zM647.5 209.2h4.4l-2.2 3.2zM647.7 211.9h4.4l-2.2 3.2zM647.8 210.4h4.4l-2.2 3.2zM648 215.7h4.4l-2.2 3.2zM648.2 212.6h4.4l-2.2 3.2zM648.4 213.8h4.4l-2.2 3.2zM648.6 209.4h4.4l-2.2 3.2zM648.8 210.4h4.4l-2.2 3.2zM648.9 212.5h4.4l-2.2 3.2zM649.1 210.2h4.4l-2.2 3.2zM649.3 215.1h4.4l-2.2 3.2zM649.5 212.1h4.4l-2.2 3.2zM649.7 213.2h4.4l-2.2 3.2zM649.9 213.5h4.4l-2.2 3.2zM650 212.6h4.4l-2.2 3.2zM650.2 214.4h4.4l-2.2 3.2zM650.4 211.6h4.4l-2.2 3.2zM650.6 213.6h4.4l-2.2 3.2zM650.8 215.2h4.4l-2.2 3.2zM650.9 213.3h4.4l-2.2 3.2zM651.1 213.1h4.4l-2.2 3.2zM651.3 212.3h4.4l-2.2 3.2zM651.5 213h4.4l-2.2 3.2zM651.7 214.2h4.4l-2.2 3.2zM651.9 212.4h4.4l-2.2 3.2zM652 209.7h4.4l-2.2 3.2zM652.2 213.3h4.4l-2.2 3.2zM652.4 212.7h4.4l-2.2 3.2zM652.6 213.9h4.4l-2.2 3.2zM652.8 213h4.4l-2.2 3.2zM653 216h4.4l-2.2 3.2zM653.1 210.6h4.4l-2.2 3.2zM653.3 211.1h4.4l-2.2 3.2zM653.5 214.2h4.4l-2.2 3.2zM653.7 211h4.4l-2.2 3.2zM653.9 213.6h4.4l-2.2 3.2zM654.1 213h4.4l-2.2 3.2zM654.2 209.2h4.4l-2.2 3.2zM654.4 214.3h4.4l-2.2 3.2zM654.6 217.4h4.4l-2.2 3.2zM654.8 213.4h4.4l-2.2 3.2zM655 210.3h4.4l-2.2 3.2zM655.2 214.5h4.4l-2.2 3.2zM655.3 211h4.4l-2.2 3.2zM655.5 212.8h4.4l-2.2 3.2zM655.7 213.8h4.4l-2.2 3.2zM655.9 211.6h4.4l-2.2 3.2zM656.1 209.8h4.4l-2.2 3.2zM656.3 212.8h4.4l-2.2 3.2zM656.4 213h4.4l-2.2 3.2zM656.6 211.4h4.4l-2.2 3.2zM656.8 211.6h4.4l-2.2 3.2zM657 214.5h4.4l-2.2 3.2zM657.2 212.9h4.4l-2.2 3.2zM657.4 212.2h4.4l-2.2 3.2zM657.5 211.1h4.4l-2.2 3.2zM657.7 213.4h4.4l-2.2 3.2zM657.9 213.3h4.4l-2.2 3.2zM658.1 212.8h4.4l-2.2 3.2zM658.3 210.5h4.4l-2.2 3.2zM658.5 212.4h4.4l-2.2 3.2zM658.6 211.9h4.4l-2.2 3.2zM658.8 213.3h4.4l-2.2 3.2zM659 215.3h4.4l-2.2 3.2zM659.2 216.2h4.4l-2.2 3.2zM659.4 215.2h4.4l-2.2 3.2zM659.6 213.4h4.4l-2.2 3.2zM659.7 212.6h4.4l-2.2 3.2zM659.9 213.8h4.4l-2.2 3.2zM660.1 212.3h4.4l-2.2 3.2zM660.3 212.5h4.4l-2.2 3.2zM660.5 211.6h4.4l-2.2 3.2zM660.7 213.1h4.4l-2.2 3.2zM660.8 213.1h4.4l-2.2 3.2zM661 216.7h4.4l-2.2 3.2zM661.2 214.3h4.4l-2.2 3.2zM661.4 212.5h4.4l-2.2 3.2zM661.6 214.7h4.4l-2.2 3.2zM661.8 212.3h4.4l-2.2 3.2zM661.9 215.1h4.4l-2.2 3.2zM662.1 214.7h4.4l-2.2 3.2zM662.3 218.7h4.4l-2.2 3.2zM662.5 211.2h4.4l-2.2 3.2zM662.7 213.1h4.4l-2.2 3.2zM662.9 213.1h4.4l-2.2 3.2zM663 213.8h4.4l-2.2 3.2zM663.2 214.6h4.4l-2.2 3.2zM663.4 211.5h4.4l-2.2 3.2zM663.6 211.9h4.4l-2.2 3.2zM663.8 213.9h4.4l-2.2 3.2zM664 215.1h4.4l-2.2 3.2zM664.1 209.7h4.4l-2.2 3.2zM664.3 210.4h4.4l-2.2 3.2zM664.5 215.5h4.4l-2.2 3.2zM664.7 214.9h4.4l-2.2 3.2zM664.9 215.4h4.4l-2.2 3.2zM665.1 211.5h4.4l-2.2 3.2zM665.2 213h4.4l-2.2 3.2zM665.4 213.8h4.4l-2.2 3.2zM665.6 214.2h4.4l-2.2 3.2zM665.8 213.2h4.4l-2.2 3.2zM666 213.3h4.4l-2.2 3.2zM666.2 215.3h4.4l-2.2 3.2zM666.3 212.6h4.4l-2.2 3.2zM666.5 212.4h4.4l-2.2 3.2zM666.7 212.6h4.4l-2.2 3.2zM666.9 212.5h4.4l-2.2 3.2zM667.1 213.7h4.4l-2.2 3.2zM667.3 213.1h4.4l-2.2 3.2zM667.4 212.6h4.4l-2.2 3.2zM667.6 216.1h4.4l-2.2 3.2zM667.8 214.4h4.4l-2.2 3.2zM668 212.9h4.4l-2.2 3.2zM668.2 215.8h4.4l-2.2 3.2zM668.4 212.5h4.4l-2.2 3.2zM668.5 213.5h4.4l-2.2 3.2zM668.7 213.3h4.4l-2.2 3.2zM668.9 212.5h4.4l-2.2 3.2zM669.1 212.8h4.4l-2.2 3.2zM669.3 213.7h4.4l-2.2 3.2zM669.5 209h4.4l-2.2 3.2zM669.6 212.8h4.4l-2.2 3.2zM669.8 214h4.4l-2.2 3.2zM670 214.1h4.4l-2.2 3.2zM670.2 214.1h4.4l-2.2 3.2zM670.4 217.9h4.4l-2.2 3.2zM670.6 214.8h4.4l-2.2 3.2zM670.7 213.3h4.4l-2.2 3.2zM670.9 213.4h4.4l-2.2 3.2zM671.1 213.6h4.4l-2.2 3.2zM671.3 214.4h4.4l-2.2 3.2zM671.5 213.1h4.4l-2.2 3.2zM671.7 216.4h4.4l-2.2 3.2zM671.8 211.6h4.4l-2.2 3.2zM672 214.8h4.4l-2.2 3.2zM672.2 215.2h4.4l-2.2 3.2zM672.4 211.6h4.4l-2.2 3.2zM672.6 214.8h4.4l-2.2 3.2zM672.8 214.7h4.4l-2.2 3.2zM672.9 212.5h4.4l-2.2 3.2zM673.1 217.9h4.4l-2.2 3.2zM673.3 215h4.4l-2.2 3.2zM673.5 213.1h4.4l-2.2 3.2zM673.7 212.8h4.4l-2.2 3.2zM673.9 211.4h4.4l-2.2 3.2zM674 214.2h4.4l-2.2 3.2zM674.2 213.8h4.4l-2.2 3.2zM674.4 211.2h4.4l-2.2 3.2z" fill="#0f0" stroke="#0f0" stroke-width="0.6"/>
<path d="M72.2 133.7l0.2 8.2l0.2 -8.5l0.1 1.8l0.2 9.2l0.2 -6.2l0.2 5.3l0.2 -4.9l0.2 2.9l0.1 -4.6l0.2 6.4l0.2 1.4l0.2 -4.4l0.2 -4.9l0.2 0.8l0.1 -2.3l0.2 6.2l0.2 1.5l0.2 -6.6l0.2 6.5l0.2 -6l0.1 15l0.2 -9.3l0.2 3l0.2 -9.1l0.2 -1.1l0.2 -3.2l0.1 9.8l0.2 -7l0.2 9.8l0.2 -4.7l0.2 2.5l0.2 -8.1l0.1 2.8l0.2 3.1l0.2 2.2l0.2 -8l0.2 6.5l0.2 -4.6l0.1 6.5l0.2 -4.1l0.2 -0.3l0.2 2.9l0.2 2.9l0.2 -5.5l0.1 5.8l0.2 -8.7l0.2 5.1l0.2 -5.5l0.2 5.2l0.2 -4.4l0.1 3.8l0.2 2.3l0.2 -8.5l0.2 -0.8l0.2 6.2l0.2 2.8l0.1 -1.1l0.2 -4.5l0.2 6.9l0.2 -4.4l0.2 4.1l0.2 -6.4l0.1 5.2l0.2 2.9l0.2 -7.2l0.2 1.5l0.2 3.6l0.2 1.4l0.1 -2.4l0.2 -1.9l0.2 -5.6l0.2 6.1l0.2 -5l0.2 5.4l0.1 -9.4l0.2 14.7l0.2 1.8l0.2 -5.6l0.2 -5l0.2 2.1l0.1 4.7l0.2 -0.9l0.2 -5.3l0.2 7.4l0.2 0.5l0.2 -3l0.1 -3.4l0.2 1.3l0.2 -2.7l0.2 3.5l0.2 -3.3l0.2 10.7l0.1 -7.9l0.2 0.7l0.2 0.5l0.2 -0.1l0.2 -6.7l0.2 10.5l0.1 -4.6l0.2 -2.5l0.2 -1.6l0.2 1.2l0.2 -1.1l0.2 3.8l0.1 -3.4l0.2 3.8l0.2 0.1l0.2 -3.2l0.2 11.2l0.2 -8.9l0.1 1.7l0.2 -0.2l0.2 -1.6l0.2 3.2l0.2 2.7l0.2 -5.4l0.1 -5.2l0.2 7.5l0.2 -10.4l0.2 8.9l0.2 -1.3l0.2 2l0.1 -7.1l0.2 4.2l0.2 -2.3l0.2 1.9l0.2 4.3l0.2 -3l0.1 -1.5l0.2 6.8l0.2 -4.4l0.2 -7.8l0.2 3.7l0.1 5.6l0.2 0.1l0.2 -0.8l0.2 0.2l0.2 -4.5l0.2 3.1l0.1 -4.1l0.2 1.3l0.2 -0.3l0.2 0.3l0.2 1.9l0.2 0.5l0.1 -2.2l0.2 7.2l0.2 -5.9l0.2 7.6l0.2 -2l0.2 -8.4l0.1 8l0.2 -8.7l0.2 10.8l0.2 -4.2l0.2 -5l0.2 -4.6l0.1 6.8l0.2 -3.6l0.2 9.3l0.2 -8.8l0.2 3.8l0.2 2.7l0.1 -1.8l0.2 1l0.2 -1.9l0.2 3.7l0.2 -6.3l0.2 5.7l0.1 -6.7l0.2 5.2l0.2 -4.9l0.2 3.5l0.2 3l0.2 2.5l0.1 -11.4l0.2 3.9l0.2 -0.8l0.2 8.3l0.2 -7.9l0.2 6l0.1 -4.6l0.2 -3.5l0.2 5.9l0.2 -4.7l0.2 7l0.2 0.4l0.1 1.9l0.2 -8.8l0.2 9.8l0.2 -2.3l0.2 -10.4l0.2 15.1l0.1 -2l0.2 -10.2l0.2 5.2l0.2 -6.3l0.2 4.6l0.2 1.2l0.1 1.6l0.2 -7.6l0.2 5.1l0.2 -3.3l0.2 5l0.2 1.1l0.1 -2.2l0.2 4l0.2 -1.5l0.2 -1.4l0.2 3l0.2 -12.3l0.1 7.8l0.2 -6.5l0.2 6.6l0.2 -1.6l0.2 4.8l0.2 -5.9l0.1 0.5l0.2 2l0.2 -0.1l0.2 3.8l0.2 -8.9l0.2 0l0.1 -0.3l0.2 10.3l0.2 -9l0.2 3l0.2 -2.4l0.2 7.4l0.1 -5.4l0.2 6.7l0.2 -7.2l0.2 3.8l0.2 1.7l0.2 0.8l0.1 -8l0.2 3.1l0.2 1.1l0.2 -6.5l0.2 9.5l0.2 -1.2l0.1 0.4l0.2 -7l0.2 6.3l0.2 0.5l0.2 2.2l0.2 -5.7l0.1 4.5l0.2 4.8l0.2 -9l0.2 0.1l0.2 0.4l0.2 -4.3l0.1 4.2l0.2 7.4l0.2 -9.5l0.2 2.8l0.2 5.1l0.2 -2.3l0.1 -1.2l0.2 -2.1l0.2 0.8l0.2 0.5l0.2 2.5l0.1 -2.2l0.2 3.2l0.2 -10.4l0.2 10l0.2 -5l0.2 2l0.1 -1.6l0.2 4l0.2 -2.8l0.2 2.8l0.2 -5.3l0.2 3.7l0.1 3.8l0.2 -0.4l0.2 -5.4l0.2 2.2l0.2 -2.2l0.2 0.9l0.1 0.6l0.2 4.4l0.2 -2.3l0.2 3.2l0.2 0.3l0.2 -10.3l0.1 5.8l0.2 -2.7l0.2 -4.3l0.2 -0.8l0.2 4.9l0.2 8l0.1 -5.8l0.2 -1l0.2 0.6l0.2 -2.6l0.2 3.4l0.2 -1l0.1 -5.6l0.2 4.1l0.2 14.2l0.2 -9.9l0.2 -2.7l0.2 4.5l0.1 -7.7l0.2 3.9l0.2 2.9l0.2 -9l0.2 3.2l0.2 1.2l0.1 0.5l0.2 -0.8l0.2 2.8l0.2 2.8l0.2 -2.5l0.2 2.5l0.1 0.1l0.2 -5.9l0.2 3.1l0.2 -2.3l0.2 3.8l0.2 -3.7l0.1 0.6l0.2 6.9l0.2 -6.8l0.2 -5l0.2 6.1l0.2 0.7l0.1 -2.9l0.2 2.1l0.2 3.5l0.2 -5.6l0.2 1.2l0.2 -1.8l0.1 3.7l0.2 -1.6l0.2 -2.8l0.2 2.4l0.2 7.5l0.2 -12.7l0.1 1.2l0.2 6.2l0.2 -6.2l0.2 12.1l0.2 -12.4l0.2 0.7l0.1 2.8l0.2 5.8l0.2 -1l0.2 -0.8l0.2 -0.9l0.2 3.6l0.1 -15.7l0.2 12l0.2 4.2l0.2 -8.9l0.2 5l0.2 6.3l0.1 -2.9l0.2 -5l0.2 7.2l0.2 -4.8l0.2 2l0.2 -7.6l0.1 1.2l0.2 0l0.2 9l0.2 -14.6l0.2 1.8l0.2 9.4l0.1 -2.2l0.2 -11.1l0.2 9.2l0.2 0.3l0.2 5.5l0.2 -11.1l0.1 4.9l0.2 5.7l0.2 -1l0.2 -6l0.2 2.3l0.2 -7.8l0.1 13.7l0.2 -6.3l0.2 6.1l0.2 -1.7l0.2 -5.9l0.2 2.7l0.1 2.8l0.2 -0.7l0.2 3.9l0.2 -1.4l0.2 -2.8l0.1 1.3l0.2 -4.9l0.2 0.5l0.2 4.2l0.2 -0.9l0.2 -5l0.1 3.6l0.2 -2.5l0.2 0.9l0.2 6.5l0.2 -7.8l0.2 1.1l0.1 4.3l0.2 -1.7l0.2 0.4l0.2 -5.6l0.2 5l0.2 -1.2l0.1 -1.5l0.2 0.9l0.2 1l0.2 3.9l0.2 3.7l0.2 -6.1l0.1 4.8l0.2 -4.8l0.2 -5.5l0.2 5.4l0.2 4.3l0.2 3.9l0.1 -11.4l0.2 10.9l0.2 -10.3l0.2 0.1l0.2 0.7l0.2 6.9l0.1 -3.6l0.2 1.8l0.2 -10.9l0.2 7.6l0.2 -0.2l0.2 2.8l0.1 -4l0.2 5.8l0.2 -6.5l0.2 -2.4l0.2 -4.7l0.2 14l0.1 -1.8l0.2 -5.3l0.2 6.6l0.2 -4.4l0.2 0.2l0.2 -4.6l0.1 3.1l0.2 2.3l0.2 0.4l0.2 -2.6l0.2 5.3l0.2 1.6l0.1 -7.7l0.2 4.2l0.2 -6.7l0.2 7.8l0.2 -5.8l0.2 2.8l0.1 1.1l0.2 -1.4l0.2 4.5l0.2 -6.3l0.2 1.1l0.2 2.7l0.1 -1.2l0.2 1l0.2 -1.6l0.2 -2l0.2 5l0.2 -1.7l0.1 2.6l0.2 1.4l0.2 -5.7l0.2 -1.4l0.2 1l0.2 -0.6l0.1 -4.6l0.2 12.4l0.2 -4.2l0.2 6.5l0.2 -9.9l0.2 3.9l0.1 -1.2l0.2 -1.2l0.2 3.5l0.2 -3.4l0.2 -0.3l0.2 0.7l0.1 -8.3l0.2 5.1l0.2 -0.1l0.2 8l0.2 -3.7l0.2 2.6l0.1 -2.6l0.2 -3l0.2 6.3l0.2 -6.5l0.2 -4.3l0.2 6.9l0.1 1.8l0.2 -3.9l0.2 0.7l0.2 1.8l0.2 1.8l0.2 -3.4l0.1 7.8l0.2 -9.2l0.2 6.1l0.2 -12.1l0.2 8l0.2 -1.4l0.1 -1.4l0.2 -4.8l0.2 8.3l0.2 -4.2l0.2 -2.5l0.2 1.4l0.1 1.7l0.2 1.4l0.2 -5.3l0.2 2.3l0.2 4.8l0.2 -1.4l0.1 7.1l0.2 -7.9l0.2 4.1l0.2 3.4l0.2 -6.5l0.1 4.1l0.2 -2.3l0.2 -0.8l0.2 5.3l0.2 -8.7l0.2 1.4l0.1 -3.9l0.2 5.6l0.2 3.8l0.2 -4.2l0.2 3.7l0.2 -5.3l0.1 6.5l0.2 -4.2l0.2 -1.2l0.2 7.2l0.2 -5.5l0.2 2l0.1 -1.5l0.2 2l0.2 -1.9l0.2 -4.5l0.2 5.1l0.2 1.9l0.1 -1.5l0.2 -2.1l0.2 6.9l0.2 -8.5l0.2 2.9l0.2 0.3l0.1 -4.3l0.2 -3l0.2 8.9l0.2 0l0.2 -1.7l0.2 -5.8l0.1 4.4l0.2 1.7l0.2 2.9l0.2 0.3l0.2 -2.4l0.2 1.7l0.1 2.3l0.2 -13.3l0.2 11.1l0.2 -4.8l0.2 3.1l0.2 -0.9l0.1 -4.1l0.2 0.4l0.2 4.4l0.2 -2l0.2 3l0.2 -4.5l0.1 9.2l0.2 -8l0.2 12.7l0.2 -14.4l0.2 4.3l0.2 1.9l0.1 -8.2l0.2 1.2l0.2 4.5l0.2 2.4l0.2 0.7l0.2 -2.7l0.1 4.2l0.2 -10l0.2 2.4l0.2 6.2l0.2 -6.7l0.2 1l0.1 -5.1l0.2 5.1l0.2 -4.7l0.2 6.5l0.2 3.6l0.2 -3.9l0.1 -0.5l0.2 -2l0.2 3.1l0.2 -5.6l0.2 2.1l0.2 8.7l0.1 -11.6l0.2 2.4l0.2 -2.9l0.2 8.7l0.2 -5l0.2 -3.5l0.1 0l0.2 7.8l0.2 -1.5l0.2 0.3l0.2 -2.9l0.2 3.1l0.1 1.3l0.2 -2.2l0.2 -11.4l0.2 2.3l0.2 1.6l0.2 5.7l0.1 -6l0.2 1.2l0.2 3.6l0.2 -3.3l0.2 -1.6l0.2 7.4l0.1 -1.9l0.2 2.7l0.2 -1.7l0.2 1.5l0.2 -5.3l0.2 -0.8l0.1 -5.6l0.2 4.9l0.2 -1.5l0.2 5.4l0.2 -1.6l0.2 2.5l0.1 -1.6l0.2 3l0.2 -5.4l0.2 -1.5l0.2 -2l0.2 1l0.1 -3.4l0.2 4.5l0.2 -1.8l0.2 -11.9l0.2 2.4l0.1 6.7l0.2 0.7l0.2 0.4l0.2 5.4l0.2 -6.9l0.2 -2.4l0.1 5.6l0.2 2.1l0.2 2.1l0.2 -9.4l0.2 2.5l0.2 -0.7l0.1 6.8l0.2 -2.9l0.2 -2.4l0.2 2.4l0.2 -3.7l0.2 0.6l0.1 0.7l0.2 -1.6l0.2 1l0.2 2.3l0.2 -0.2l0.2 4.4l0.1 -1.9l0.2 -3.1l0.2 -7.2l0.2 -1l0.2 7.2l0.2 0.6l0.1 -3.1l0.2 3.4l0.2 2l0.2 -2.7l0.2 1.8l0.2 0.2l0.1 -2l0.2 -0.5l0.2 2.6l0.2 1.4l0.2 -4.4l0.2 -8.3l0.1 8.7l0.2 5.1l0.2 -7.2l0.2 8.7l0.2 -5.1l0.2 2.7l0.1 -3.2l0.2 4.6l0.2 -1.7l0.2 1.1l0.2 -7.8l0.2 9.1l0.1 -8.1l0.2 4.6l0.2 2.9l0.2 -2.4l0.2 2.4l0.2 -0.8l0.1 -0.4l0.2 -3.1l0.2 6.1l0.2 0.4l0.2 -6.9l0.2 0.1l0.1 3.8l0.2 -3.3l0.2 3l0.2 2.3l0.2 -0.6l0.2 6.1l0.1 -7l0.2 -5.3l0.2 0.4l0.2 4.4l0.2 4.4l0.2 -8l0.1 -2.3l0.2 7.5l0.2 -5.6l0.2 2.4l0.2 0.9l0.2 -7.5l0.1 1.7l0.2 -1.2l0.2 3.3l0.2 0l0.2 -4.5l0.2 3.2l0.1 -8.7l0.2 6.8l0.2 -0.6l0.2 -1.9l0.2 -5.9l0.2 4l0.1 -4.2l0.2 8.1l0.2 -7.1l0.2 -0.6l0.2 -0.6l0.2 1.4l0.1 -2.7l0.2 0.7l0.2 -6.4l0.2 6.4l0.2 -7l0.2 3.7l0.1 -3.1l0.2 2.1l0.2 -5.5l0.2 -6.5l0.2 -0.1l0.2 2.3l0.1 4.9l0.2 -8.5l0.2 0.4l0.2 6.6l0.2 -12.2l0.2 2l0.1 -1.6l0.2 -5.1l0.2 1.9l0.2 1.9l0.2 -1.4l0.2 -7.2l0.1 12.4l0.2 -12.3l0.2 -4.1l0.2 -3.5l0.2 -2.6l0.1 8.7l0.2 -20.1l0.2 10.6l0.2 -6.9l0.2 4l0.2 -0.6l0.1 -7l0.2 0.4l0.2 9.3l0.2 -11l0.2 3.7l0.2 -2.1l0.1 4.6l0.2 5l0.2 -5.8l0.2 -2.2l0.2 -0.5l0.2 -8.7l0.1 11.2l0.2 -9.2l0.2 -1.9l0.2 2.1l0.2 -2.3l0.2 5.5l0.1 1.3l0.2 2.6l0.2 -6.6l0.2 -4.5l0.2 3.5l0.2 -4.2l0.1 2l0.2 19.3l0.2 -19.5l0.2 1.4l0.2 5.1l0.2 -1.8l0.1 2.4l0.2 -7.6l0.2 -0.8l0.2 11.5l0.2 -9l0.2 3.3l0.1 2l0.2 -9l0.2 8.4l0.2 -1.4l0.2 6.1l0.2 -3.2l0.1 -8.3l0.2 14.5l0.2 -14.7l0.2 10.2l0.2 -3.2l0.2 3.2l0.1 3.1l0.2 4.8l0.2 -7.8l0.2 1.6l0.2 6.5l0.2 -0.7l0.1 1.4l0.2 -1.3l0.2 -2.1l0.2 -0.6l0.2 0.6l0.2 6.7l0.1 3.2l0.2 2.7l0.2 -12.7l0.2 4.1l0.2 1.7l0.2 0l0.1 -3.5l0.2 21.5l0.2 -8.6l0.2 -6.5l0.2 -0.4l0.2 2.7l0.1 -4.2l0.2 4.7l0.2 5.6l0.2 4.7l0.2 -2.3l0.2 2.7l0.1 -12l0.2 -4.9l0.2 19.9l0.2 -4l0.2 -0.2l0.2 8l0.1 -9.7l0.2 0.9l0.2 1.8l0.2 10.3l0.2 -1.8l0.2 -9.9l0.1 14.4l0.2 -5.6l0.2 2.4l0.2 -3.9l0.2 11.1l0.2 -4.8l0.1 4.1l0.2 -8.2l0.2 7.2l0.2 -1.6l0.2 -0.6l0.2 -1.6l0.1 1.1l0.2 -1.2l0.2 2.6l0.2 3l0.2 2.9l0.2 -7.4l0.1 2.5l0.2 2.2l0.2 -7.6l0.2 9.9l0.2 0.6l0.2 0.9l0.1 2.7l0.2 2.5l0.2 0l0.2 -1.4l0.2 1.7l0.2 -4.5l0.1 0l0.2 6.2l0.2 0.2l0.2 6.3l0.2 -8.1l0.1 -2.1l0.2 5l0.2 -3.3l0.2 0.2l0.2 8.4l0.2 7l0.1 -9.5l0.2 -3.1l0.2 3.7l0.2 -0.6l0.2 -4.1l0.2 8.1l0.1 -1.2l0.2 3.5l0.2 -5.7l0.2 2.3l0.2 0.1l0.2 -5l0.1 14.7l0.2 -20.2l0.2 8.6l0.2 3.1l0.2 -3.7l0.2 6.9l0.1 -2.6l0.2 2.2l0.2 0.7l0.2 -0.2l0.2 0.4l0.2 -0.6l0.1 2.2l0.2 1.5l0.2 -3.2l0.2 -0.4l0.2 0.4l0.2 2.5l0.1 -1.9l0.2 0.1l0.2 -3.4l0.2 11.4l0.2 -12.9l0.2 12.5l0.1 -2.6l0.2 0.9l0.2 -2.3l0.2 1l0.2 -0.5l0.2 1.2l0.1 0.9l0.2 2.4l0.2 -7.9l0.2 4.9l0.2 3.9l0.2 -0.6l0.1 -7.6l0.2 4.5l0.2 0l0.2 0.1l0.2 -7.9l0.2 12.1l0.1 -9.7l0.2 12.3l0.2 -4.7l0.2 -2.3l0.2 2.5l0.2 -1.4l0.1 -2.1l0.2 1.6l0.2 1.5l0.2 -3.5l0.2 5l0.2 1.4l0.1 0l0.2 3.1l0.2 -2.2l0.2 -1.7l0.2 2l0.2 -3.8l0.1 1.2l0.2 3.4l0.2 1.7l0.2 -7l0.2 -3.4l0.2 16.3l0.1 -5.2l0.2 -0.3l0.2 -2.8l0.2 -1.9l0.2 -2.6l0.2 -0.9l0.1 7.7l0.2 -1.3l0.2 -2l0.2 -4.3l0.2 1.9l0.2 -0.2l0.1 1.1l0.2 -7.9l0.2 9.7l0.2 4.3l0.2 -6.5l0.2 1.8l0.1 0.8l0.2 -3.9l0.2 4.5l0.2 -3.9l0.2 1.2l0.2 2.2l0.1 -0.9l0.2 0.5l0.2 -5.1l0.2 7.1l0.2 -5.6l0.2 6.1l0.1 -4.1l0.2 -2.2l0.2 3.5l0.2 -3l0.2 1.6l0.2 1.3l0.1 2.9l0.2 0.1l0.2 -1l0.2 -2.3l0.2 -3.9l0.2 4.1l0.1 -0.3l0.2 0.6l0.2 -1.2l0.2 0.1l0.2 4.1l0.1 -6.6l0.2 4.2l0.2 3.9l0.2 -6.3l0.2 -0.6l0.2 2.4l0.1 -0.4l0.2 1.9l0.2 6.4l0.2 -7.6l0.2 2.2l0.2 -3.5l0.1 0.3l0.2 2.4l0.2 -4.4l0.2 7.2l0.2 -4.9l0.2 0.8l0.1 -2.7l0.2 1.9l0.2 -1.8l0.2 1.6l0.2 -3.9l0.2 5.4l0.1 5.5l0.2 -11.2l0.2 11.2l0.2 -5.8l0.2 3.1l0.2 -5.8l0.1 9.4l0.2 -9.6l0.2 3.1l0.2 5.1l0.2 -8.8l0.2 -3.2l0.1 6.8l0.2 -2l0.2 -0.6l0.2 0.2l0.2 -1.7l0.2 8.8l0.1 -0.5l0.2 -8l0.2 3.9l0.2 -1.1l0.2 4.8l0.2 -6l0.1 7.7l0.2 -5.1l0.2 -2.4l0.2 2.2l0.2 -1.6l0.2 8.8l0.1 -6.5l0.2 -2l0.2 1.8l0.2 4.3l0.2 -7.6l0.2 -2.2l0.1 9.2l0.2 -0.8l0.2 -4.7l0.2 1.1l0.2 3.7l0.2 -12l0.1 12.4l0.2 -4.6l0.2 2.6l0.2 -2.3l0.2 9.7l0.2 -11.6l0.1 5.3l0.2 -11.6l0.2 8.1l0.2 2.3l0.2 -7.4l0.2 -1.6l0.1 6.6l0.2 2.8l0.2 0.4l0.2 -5.9l0.2 3.1l0.2 -5.6l0.1 9.8l0.2 -8.6l0.2 6.9l0.2 -4.9l0.2 -0.3l0.2 6l0.1 -8l0.2 6.8l0.2 -5.4l0.2 -1.7l0.2 0l0.2 6.1l0.1 -4l0.2 -1l0.2 -3.7l0.2 11l0.2 -3.2l0.2 -2.4l0.1 1.2l0.2 -13l0.2 8.5l0.2 2l0.2 -0.4l0.2 -2.4l0.1 2.3l0.2 -3.3l0.2 -0.1l0.2 -2.1l0.2 4.1l0.2 -3l0.1 0.4l0.2 5.8l0.2 -4.9l0.2 -0.3l0.2 -5.2l0.2 3l0.1 4.6l0.2 -1.7l0.2 -1.9l0.2 -1l0.2 0.5l0.2 0.8l0.1 -2.7l0.2 -7.4l0.2 14.5l0.2 -3.1l0.2 -4.5l0.1 4.9l0.2 -9.3l0.2 8.3l0.2 -3.5l0.2 1.6l0.2 -4.4l0.1 1.4l0.2 1.1l0.2 1.3l0.2 -0.8l0.2 -1.8l0.2 -3.7l0.1 7.6l0.2 -5.4l0.2 -1.7l0.2 -0.5l0.2 -3.2l0.2 1.3l0.1 -2.9l0.2 5.7l0.2 -1.4l0.2 1l0.2 -5.2l0.2 2.6l0.1 -0.9l0.2 5.5l0.2 -8.6l0.2 -0.2l0.2 9.6l0.2 -3.1l0.1 -6.6l0.2 10.1l0.2 0.6l0.2 -1.1l0.2 -10.8l0.2 7.7l0.1 -3.2l0.2 2.3l0.2 -4.2l0.2 11.5l0.2 -8.1l0.2 3.6l0.1 2l0.2 -0.4l0.2 -0.5l0.2 -3.3l0.2 3.3l0.2 -1.1l0.1 -11.9l0.2 16.6l0.2 -5l0.2 0.7l0.2 0.8l0.2 -2.9l0.1 1l0.2 -1.6l0.2 8.9l0.2 1.6l0.2 -3.2l0.2 -3.8l0.1 8.2l0.2 -5l0.2 -3.9l0.2 -0.7l0.2 6.9l0.2 4.3l0.1 -6.6l0.2 0.3l0.2 1.4l0.2 -1.7l0.2 1.2l0.2 3.3l0.1 -3.4l0.2 5.4l0.2 -5.9l0.2 5.6l0.2 -1l0.2 -3l0.1 1.3l0.2 0.1l0.2 6.5l0.2 -7.7l0.2 6.4l0.2 -0.4l0.1 -4.1l0.2 9.8l0.2 -16l0.2 8.4l0.2 -0.3l0.2 -0.2l0.1 4.5l0.2 -5.7l0.2 0.8l0.2 4.3l0.2 -3.9l0.2 -2.8l0.1 5.1l0.2 -2l0.2 -1.4l0.2 3.6l0.2 -4.1l0.2 -0.6l0.1 2.3l0.2 0.3l0.2 0.8l0.2 -3.8l0.2 9.2l0.2 -3.2l0.1 -1.6l0.2 0.3l0.2 -8.4l0.2 10.7l0.2 -6l0.2 4.8l0.1 -5.2l0.2 6.8l0.2 -4.7l0.2 1.1l0.2 5.4l0.2 -1.6l0.1 -7.3l0.2 0.7l0.2 4.3l0.2 -1.3l0.2 3.3l0.2 -4.6l0.1 -3.6l0.2 3l0.2 2.3l0.2 2.3l0.2 0.6l0.2 4.3l0.1 -5.7l0.2 -1.3l0.2 2.9l0.2 -2.5l0.2 -1.1l0.1 0l0.2 4.3l0.2 5l0.2 -3.7l0.2 -8.9l0.2 8.3l0.1 -9.2l0.2 4.9l0.2 2.9l0.2 -5.9l0.2 -2.2l0.2 4.1l0.1 7.5l0.2 -1.8l0.2 -6l0.2 3.2l0.2 0l0.2 0.6l0.1 -3.1l0.2 6.6l0.2 -5.5l0.2 3.7l0.2 -7.6l0.2 6.4l0.1 -0.7l0.2 3.7l0.2 -12l0.2 9.7l0.2 0.8l0.2 -3.2l0.1 4.8l0.2 2.4l0.2 -3.6l0.2 -0.2l0.2 1.7l0.2 -2.8l0.1 2.5l0.2 -1.9l0.2 -3.9l0.2 -1l0.2 6.7l0.2 -1.7l0.1 -3.8l0.2 2.2l0.2 4.4l0.2 -9.6l0.2 2.5l0.2 4.8l0.1 0.4l0.2 -6l0.2 0.6l0.2 3.5l0.2 6.7l0.2 -7.1l0.1 -7l0.2 10.1l0.2 -3.1l0.2 -1.3l0.2 -2.1l0.2 7.1l0.1 -2.8l0.2 0.4l0.2 -0.1l0.2 0.3l0.2 1.2l0.2 2.6l0.1 -8.3l0.2 3l0.2 -1.2l0.2 6.4l0.2 -5.9l0.2 -3.9l0.1 4.7l0.2 -2.1l0.2 0l0.2 0.8l0.2 -2.5l0.2 -1.9l0.1 11.6l0.2 -6.2l0.2 -2.4l0.2 4.7l0.2 2.1l0.2 -9.3l0.1 3.9l0.2 2.2l0.2 -3.3l0.2 3.8l0.2 -5l0.2 1.7l0.1 1.6l0.2 1.7l0.2 -1.2l0.2 -2.2l0.2 1l0.2 -5.2l0.1 17.1l0.2 -12l0.2 0.3l0.2 1.7l0.2 0.9l0.2 -0.7l0.1 -3l0.2 -3l0.2 4.5l0.2 -1.9l0.2 0.7l0.2 1.7l0.1 0.7l0.2 3.1l0.2 -4.3l0.2 -4.7l0.2 6.9l0.2 1l0.1 -7.6l0.2 6.7l0.2 -1.3l0.2 -2.1l0.2 2.1l0.2 0.6l0.1 0.6l0.2 1.7l0.2 -3.5l0.2 0l0.2 7.3l0.2 -10.4l0.1 2.4l0.2 -1l0.2 5.6l0.2 -0.5l0.2 -7.3l0.1 7.6l0.2 -7.2l0.2 11.3l0.2 -9.7l0.2 5.3l0.2 -4.1l0.1 2.9l0.2 -4.3l0.2 2.6l0.2 -0.4l0.2 0.3l0.2 2l0.1 -3.6l0.2 0.3l0.2 -2.9l0.2 3.5l0.2 -1.1l0.2 4.1l0.1 0.7l0.2 -5.5l0.2 3.5l0.2 5.3l0.2 -7.2l0.2 -2.9l0.1 10.8l0.2 -5.7l0.2 0.5l0.2 5.3l0.2 -9.8l0.2 3.3l0.1 -10.5l0.2 11l0.2 0.6l0.2 -4.3l0.2 -0.2l0.2 2l0.1 -0.2l0.2 5.4l0.2 -5.4l0.2 0.2l0.2 -0.1l0.2 -4.2l0.1 3.3l0.2 -2.6l0.2 4.3l0.2 -6.9l0.2 3.1l0.2 4l0.1 -7l0.2 1.5l0.2 9.6l0.2 -9.1l0.2 3.8l0.2 0.9l0.1 -4.2l0.2 -1.9l0.2 9.4l0.2 -6.3l0.2 3.1l0.2 -4l0.1 3.2l0.2 -5.1l0.2 -0.3l0.2 0.8l0.2 1.1l0.2 -0.1l0.1 0.7l0.2 3.1l0.2 -4l0.2 4.3l0.2 -4.9l0.2 3.8l0.1 4.5l0.2 -1.6l0.2 -11.3l0.2 11l0.2 -10.7l0.2 9.5l0.1 -4.5l0.2 1l0.2 -4.1l0.2 5.6l0.2 -0.9l0.2 -3.9l0.1 -0.3l0.2 4.3l0.2 0.4l0.2 0.7l0.2 -5.2l0.2 1l0.1 2.7l0.2 -0.4l0.2 0.7l0.2 -3.1l0.2 -2.8l0.2 2.9l0.1 0.4l0.2 -3.2l0.2 2.8l0.2 -4.1l0.2 3.2l0.2 -2.8l0.1 8.2l0.2 -3l0.2 -3l0.2 -5l0.2 0.1l0.2 5.7l0.1 -2.7l0.2 1.2l0.2 -9.3l0.2 3.5l0.2 4.9l0.2 -1.1l0.1 -3.6l0.2 1.5l0.2 4.9l0.2 -3.9l0.2 3.1l0.2 3.3l0.1 -4.1l0.2 -0.7l0.2 -2.3l0.2 5.7l0.2 -8.3l0.2 1.1l0.1 3.4l0.2 -4.4l0.2 7.6l0.2 -4.9l0.2 3.6l0.1 -2.5l0.2 0.3l0.2 0.9l0.2 -6l0.2 2.8l0.2 2l0.1 8.4l0.2 -4.3l0.2 -0.1l0.2 -5.3l0.2 6l0.2 1.2l0.1 0.1l0.2 4.3l0.2 -12.1l0.2 0.9l0.2 2.6l0.2 -2.1l0.1 3.2l0.2 1.5l0.2 -1.6l0.2 0.4l0.2 1l0.2 1.2l0.1 -4.4l0.2 0l0.2 5.7l0.2 -4.6l0.2 -1.4l0.2 3.4l0.1 -1.9l0.2 1.4l0.2 -0.5l0.2 2.1l0.2 0.9l0.2 -5.2l0.1 -1.2l0.2 8.6l0.2 -6.9l0.2 -2.6l0.2 -1l0.2 5.6l0.1 -1.8l0.2 -3.5l0.2 2.7l0.2 -0.4l0.2 6.3l0.2 -1.9l0.1 -1.2l0.2 -3.7l0.2 3.3l0.2 2.5l0.2 -1.5l0.2 2.7l0.1 -2.9l0.2 1.8l0.2 -0.7l0.2 -3.1l0.2 5.8l0.2 -3l0.1 1.4l0.2 -5.7l0.2 0l0.2 2.7l0.2 -1.9l0.2 4.2l0.1 -0.6l0.2 2.4l0.2 -1.9l0.2 -5.2l0.2 6.2l0.2 -4.8l0.1 -0.3l0.2 2.3l0.2 -0.2l0.2 3.1l0.2 5.3l0.2 -7.3l0.1 3.1l0.2 -5.1l0.2 1.6l0.2 -2.6l0.2 0.2l0.2 5.3l0.1 -2.7l0.2 -0.1l0.2 -3.8l0.2 7.5l0.2 -5.8l0.2 -1.5l0.1 1.9l0.2 2l0.2 0.2l0.2 2.1l0.2 -7.7l0.2 1.8l0.1 5.9l0.2 2.1l0.2 -8.8l0.2 1.6l0.2 -4.5l0.2 2.1l0.1 -0.2l0.2 2.2l0.2 -3.3l0.2 6.3l0.2 -3l0.2 -0.7l0.1 3.5l0.2 -3.7l0.2 -3l0.2 3.8l0.2 6.4l0.2 -6.3l0.1 1.2l0.2 -2.3l0.2 -0.1l0.2 2.1l0.2 -9.6l0.2 4.2l0.1 1.9l0.2 0.9l0.2 5.2l0.2 8.1l0.2 -10.8l0.2 -0.7l0.1 0.7l0.2 2.5l0.2 -7.7l0.2 1.5l0.2 2.1l0.1 0.1l0.2 -6.8l0.2 7l0.2 -9.6l0.2 10.5l0.2 0.1l0.1 -9.5l0.2 8.3l0.2 -1l0.2 -2.6l0.2 4.7l0.2 3.2l0.1 -4.7l0.2 -4.9l0.2 -1.2l0.2 0.7l0.2 0.4l0.2 8.8l0.1 -4.4l0.2 -1.6l0.2 2.6l0.2 -2.6l0.2 -0.1l0.2 -2.7l0.1 0.5l0.2 2l0.2 -3.8l0.2 8.6l0.2 -4.8l0.2 -2.1l0.1 6.6l0.2 -8.3l0.2 6.4l0.2 -3.1l0.2 5.5l0.2 -7.6l0.1 0.4l0.2 -1.4l0.2 -1.4l0.2 4.6l0.2 -4.2l0.2 4.2l0.1 -3l0.2 5.1l0.2 -11.2l0.2 9.1l0.2 -1.3l0.2 -0.2l0.1 -2l0.2 7.3l0.2 -6.8l0.2 2.6l0.2 -2.2l0.2 -0.4l0.1 1.4l0.2 1.7l0.2 -5.5l0.2 1.9l0.2 -2.9l0.2 5.6l0.1 -3.9l0.2 0.4l0.2 4.3l0.2 -2l0.2 1.3l0.2 -1.7l0.1 1.8l0.2 -1l0.2 -3.6l0.2 4.1l0.2 -1.6l0.2 0.4l0.1 1.7l0.2 -2.5l0.2 -1.4l0.2 7l0.2 2.1l0.2 -6.6l0.1 4.7l0.2 -2.2l0.2 -3l0.2 -0.5l0.2 1.8l0.2 -0.3l0.1 0.4l0.2 0.8l0.2 -2.9l0.2 6.1l0.2 -5.9l0.2 0.4l0.1 6.1l0.2 -0.3l0.2 2.2l0.2 -3.9l0.2 -3.6l0.2 7l0.1 -3.6l0.2 0.1l0.2 -2l0.2 3.9l0.2 -8.1l0.2 8.8l0.1 -7.3l0.2 8.8l0.2 -7l0.2 6.8l0.2 5.6l0.2 -8l0.1 -2.4l0.2 9.4l0.2 -6.8l0.2 -1.7l0.2 7.2l0.2 -11.9l0.1 4.3l0.2 0.7l0.2 0.6l0.2 -2.2l0.2 8.5l0.2 0.8l0.1 -3l0.2 -1.7l0.2 -5.5l0.2 9.3l0.2 -3.2l0.2 4l0.1 1.4l0.2 -2.6l0.2 -6.1l0.2 3.6l0.2 6.8l0.1 -2.9l0.2 3.5l0.2 -10.3l0.2 6.3l0.2 0l0.2 -4l0.1 3l0.2 4.8l0.2 -1.1l0.2 -2.9l0.2 2.6l0.2 2.6l0.1 -6.2l0.2 4l0.2 2.3l0.2 -4.8l0.2 5.8l0.2 -3.8l0.1 3.5l0.2 -0.3l0.2 -1.8l0.2 -1.4l0.2 -0.8l0.2 2.4l0.1 0.3l0.2 3.4l0.2 -4l0.2 1.4l0.2 3.8l0.2 -3.6l0.1 0.5l0.2 3.3l0.2 -4.1l0.2 1l0.2 1.1l0.2 -2.3l0.1 -2.6l0.2 -0.9l0.2 3.6l0.2 3.8l0.2 -0.3l0.2 5l0.1 -3.3l0.2 -5.9l0.2 -2.1l0.2 2.7l0.2 0.2l0.2 -2.1l0.1 6.1l0.2 -4.6l0.2 3.8l0.2 0.6l0.2 -6.8l0.2 3.7l0.1 4.6l0.2 -1l0.2 -1.9l0.2 -3.3l0.2 1.2l0.2 2.2l0.1 3.3l0.2 -2l0.2 -1.5l0.2 0.9l0.2 1.6l0.2 -6.8l0.1 2.1l0.2 2.8l0.2 3.3l0.2 -0.3l0.2 -5l0.2 2.3l0.1 -2l0.2 1l0.2 1.5l0.2 -1.4l0.2 -0.4l0.2 -1.6l0.1 -1.1l0.2 3.8l0.2 1.1l0.2 1.1l0.2 -3.8l0.2 0.3l0.1 5.3l0.2 -2.2l0.2 1.3l0.2 -3.9l0.2 -0.4l0.2 -1.1l0.1 7.5l0.2 -7.4l0.2 -1.6l0.2 2.6l0.2 5.4l0.2 -3.3l0.1 1l0.2 -0.7l0.2 -0.5l0.2 -0.2l0.2 -3.3l0.2 8.2l0.1 -4.8l0.2 3.6l0.2 -7.4l0.2 5.6l0.2 -4.5l0.2 -0.3l0.1 4.1l0.2 2.1l0.2 0.9l0.2 -0.1l0.2 -4.2l0.2 2.8l0.1 -3.7l0.2 0.2l0.2 2.1l0.2 -1l0.2 2.6l0.2 -7.1l0.1 7.9l0.2 -4.6l0.2 5.5l0.2 -0.9l0.2 -6l0.2 2.9l0.1 1.9l0.2 -3.9l0.2 -1.2l0.2 2.6l0.2 2.7l0.1 0.5l0.2 -3.5l0.2 3.3l0.2 1.7l0.2 -1.5l0.2 -4.3l0.1 -0.3l0.2 3l0.2 1.4l0.2 -1l0.2 -2.9l0.2 -0.7l0.1 5.8l0.2 -3.7l0.2 8.7l0.2 -11.4l0.2 2.2l0.2 -0.8l0.1 6.5l0.2 -1.6l0.2 -4.5l0.2 -3.8l0.2 8.1l0.2 -2.7l0.1 -3.3l0.2 -1l0.2 5l0.2 -1.6l0.2 1l0.2 0.6l0.1 -2l0.2 0.3l0.2 2.4l0.2 -2l0.2 -0.5l0.2 2.4l0.1 -6.8l0.2 8.4l0.2 -2.1l0.2 -3.1l0.2 1.5l0.2 3.7l0.1 -1.8l0.2 -6.1l0.2 2l0.2 3.1l0.2 4.2l0.2 -2.7l0.1 -2.5l0.2 2l0.2 -1.4l0.2 -0.9l0.2 1.8l0.2 -6.6l0.1 8.2l0.2 -1.2l0.2 -2.5l0.2 -1.1l0.2 -1l0.2 3.9l0.1 -0.3l0.2 0l0.2 7.1l0.2 -13.3l0.2 3.9l0.2 -0.2l0.1 4.5l0.2 -3.6l0.2 -1.3l0.2 3l0.2 0.5l0.2 3.1l0.1 -3.5l0.2 -2.7l0.2 0.7l0.2 -0.8l0.2 3.3l0.2 0.9l0.1 -2.7l0.2 0.2l0.2 3.9l0.2 -3.3l0.2 1.9l0.2 -5l0.1 1.2l0.2 -3.9l0.2 1.9l0.2 4.5l0.2 2.3l0.2 -3.9l0.1 -2.4l0.2 3.3l0.2 2.7l0.2 -3.7l0.2 3.1l0.2 -2.6l0.1 -3l0.2 0.8l0.2 1.7l0.2 6.6l0.2 -4.4l0.2 -2.2l0.1 1.4l0.2 -0.2l0.2 -1.7l0.2 0.8l0.2 -0.4l0.2 2.6l0.1 2.1l0.2 -0.6l0.2 -4.3l0.2 2.3l0.2 -3.3l0.2 -1l0.1 3l0.2 1.4l0.2 -1.8l0.2 2.3l0.2 0l0.2 -0.2l0.1 -2.3l0.2 -3.2l0.2 11.4l0.2 -9.1l0.2 3.1l0.2 -0.6l0.1 -2.2l0.2 5.6l0.2 -3l0.2 -1.8l0.2 -1l0.2 -1.4l0.1 -0.8l0.2 4.7l0.2 -2.6l0.2 0l0.2 2.4l0.1 -2.2l0.2 2.6l0.2 -3.4l0.2 0.3l0.2 3.7l0.2 -4.1l0.1 3.3l0.2 -0.3l0.2 -1.3l0.2 -4.2l0.2 0.8l0.2 0.6l0.1 -0.5l0.2 5.5l0.2 -4.5l0.2 -0.9l0.2 1.8l0.2 1.1l0.1 -4.1l0.2 5.8l0.2 0.3l0.2 -3.4l0.2 3.6l0.2 -6l0.1 2.5l0.2 1l0.2 0.6l0.2 2.7l0.2 -3.8l0.2 -1.7l0.1 3.1l0.2 -0.2l0.2 0.8l0.2 -2l0.2 1.2l0.2 -2.9l0.1 3.9l0.2 -3.1l0.2 0.1l0.2 4.5l0.2 -4.9l0.2 1.9l0.1 1.4l0.2 -2.2l0.2 3.1l0.2 -3.8l0.2 4l0.2 -6.5l0.1 0.5l0.2 3.6l0.2 3.4l0.2 3.3l0.2 -9.1l0.2 2.1l0.1 -1.2l0.2 -4.2l0.2 7.2l0.2 -3.4l0.2 7.5l0.2 -5.2l0.1 -2.1l0.2 -0.4l0.2 1.2l0.2 1.7l0.2 -2.5l0.2 8.4l0.1 -6.6l0.2 -3.4l0.2 3l0.2 2.7l0.2 -1.8l0.2 -1.9l0.1 -0.9l0.2 -0.3l0.2 -1l0.2 1.6l0.2 2l0.2 -2.1l0.1 5.5l0.2 -3.1l0.2 -2.1l0.2 1l0.2 3.8l0.2 -8.1l0.1 5.4l0.2 5.7l0.2 -4.2l0.2 -4.9l0.2 2.6l0.2 -0.9l0.1 7.6l0.2 -8.7l0.2 1l0.2 -0.2l0.2 -2.8l0.2 -4.7l0.1 7.7l0.2 1.9l0.2 -2.4l0.2 2.3l0.2 0.7l0.2 -0.2l0.1 -6l0.2 8.1l0.2 -1.7l0.2 -0.1l0.2 -2.1l0.2 0l0.1 -1.4l0.2 3.2l0.2 0.5l0.2 -3.8l0.2 3.5l0.2 -3.2l0.1 2.7l0.2 -1.9l0.2 2.5l0.2 2.7l0.2 -4.3l0.2 -1.8l0.1 0.1l0.2 2.7l0.2 -2.9l0.2 5.5l0.2 -3.5l0.2 1.6l0.1 -3.7l0.2 -1.1l0.2 0.6l0.2 2.8l0.2 -2.9l0.1 3.7l0.2 -7l0.2 3.5l0.2 1.3l0.2 -4.2l0.2 3.1l0.1 -2.3l0.2 3.5l0.2 -0.3l0.2 2.4l0.2 -4l0.2 -1.9l0.1 2.7l0.2 1.9l0.2 -0.3l0.2 0.2l0.2 4.8l0.2 -6.2l0.1 0.4l0.2 -1.6l0.2 0.6l0.2 4.1l0.2 -1.7l0.2 -7.5l0.1 9.6l0.2 -8l0.2 3.9l0.2 5.2l0.2 -3.8l0.2 1.1l0.1 0.7l0.2 -1.4l0.2 -3.9l0.2 4.1l0.2 -2.7l0.2 -4.4l0.1 5.4l0.2 2.1l0.2 -1.1l0.2 -0.3l0.2 4.4l0.2 -3.7l0.1 1.6l0.2 -1.5l0.2 3.3l0.2 -5.1l0.2 3.9l0.2 1.6l0.1 -5.5l0.2 3.6l0.2 -6.1l0.2 4.2l0.2 2.4l0.2 -5.3l0.1 -2.4l0.2 4.6l0.2 -1.5l0.2 1.9l0.2 0.2l0.2 1.4l0.1 1.8l0.2 -2.8l0.2 -5l0.2 5.5l0.2 -0.7l0.2 -0.6l0.1 3.6l0.2 -3.3l0.2 -1.6l0.2 2.1l0.2 -7.9l0.2 9.1l0.1 -2.2l0.2 7l0.2 -5.5l0.2 -0.8l0.2 -0.4l0.2 -3.5l0.1 2.8l0.2 0.9l0.2 1.7l0.2 -1.4l0.2 0.7l0.2 0l0.1 -3.1l0.2 2.1l0.2 -1.3l0.2 -2.6l0.2 -3.2l0.2 8.4l0.1 1.5l0.2 -0.1l0.2 -5.6l0.2 5.8l0.2 0.2l0.2 -5.8l0.1 3.1l0.2 3l0.2 -4l0.2 2.7l0.2 -4.5l0.2 0.7l0.1 3l0.2 -2.6l0.2 1l0.2 -0.4l0.2 -2.8l0.2 6.3l0.1 -4.1l0.2 -0.5l0.2 -0.3l0.2 1.3l0.2 -2.5l0.2 6l0.1 -4.5l0.2 2.8l0.2 -4.2l0.2 -0.4l0.2 -1.3l0.2 4.4l0.1 -3.9l0.2 6.9l0.2 -4.4l0.2 3l0.2 -3.2l0.2 3l0.1 -4.6l0.2 -0.2l0.2 4.2l0.2 -2.9l0.2 4l0.1 -4.4l0.2 3l0.2 -3.3l0.2 -2.3l0.2 7.8l0.2 -4.1l0.1 3l0.2 -2l0.2 -4.7l0.2 5.2l0.2 1.7l0.2 0.5l0.1 0.8l0.2 -3.1l0.2 -1.3l0.2 0.4l0.2 -3l0.2 4.7l0.1 1.2l0.2 -2.2l0.2 -2.9l0.2 3.5l0.2 -2.9l0.2 4.4l0.1 -4.6l0.2 0.2l0.2 0.4l0.2 -1.7l0.2 0.3l0.2 1.5l0.1 -5.5l0.2 11.1l0.2 -4.1l0.2 -0.2l0.2 -4.4l0.2 4.1l0.1 -0.5l0.2 0.2l0.2 -3.9l0.2 3.4l0.2 -4.5l0.2 4.2l0.1 -1.7l0.2 0.7l0.2 0.6l0.2 2.9l0.2 0.9l0.2 -2.9l0.1 -2.8l0.2 6.4l0.2 -7.3l0.2 1.2l0.2 1.8l0.2 -1.4l0.1 5.2l0.2 -2.4l0.2 1.7l0.2 -3.4l0.2 2.9l0.2 -2.8l0.1 0.2l0.2 1.1l0.2 0.2l0.2 1.5l0.2 -3l0.2 -3.2l0.1 2.9l0.2 -5.9l0.2 5.9l0.2 -1.3l0.2 5.5l0.2 -10.2l0.1 11.7l0.2 -5.9l0.2 -3.1l0.2 5l0.2 0.2l0.2 -0.2l0.1 4.4l0.2 -7.5l0.2 2.8l0.2 -0.4l0.2 -2.1l0.2 2.4l0.1 2.4l0.2 -5.2l0.2 3.2l0.2 1.4l0.2 -0.9l0.2 -5.6l0.1 4.7l0.2 -1.7l0.2 4.1l0.2 -3.4l0.2 5.2l0.2 -7.9l0.1 4.3l0.2 -3.4l0.2 6.6l0.2 -0.5l0.2 -6.2l0.2 4.2l0.1 -1.9l0.2 -3.9l0.2 1.4l0.2 2.9l0.2 1l0.2 -2.1l0.1 1.6l0.2 0.1l0.2 0l0.2 -3.6l0.2 3.3l0.2 1l0.1 -5l0.2 7.5l0.2 -0.1l0.2 -3.2l0.2 4.8l0.2 -7.1l0.1 -0.3l0.2 0.8l0.2 -0.2l0.2 6.4l0.2 -4.4l0.2 -0.2l0.1 1l0.2 3.1l0.2 -3.5l0.2 -1.2l0.2 1.6l0.1 2.5l0.2 -3.6l0.2 4.1l0.2 -2.7l0.2 -1.1l0.2 1.7l0.1 7.1l0.2 -9.2l0.2 4.5l0.2 -1l0.2 -1.8l0.2 -0.2l0.1 1.9l0.2 -0.4l0.2 -0.5l0.2 0.7l0.2 -3.6l0.2 0.6l0.1 -0.7l0.2 1.6l0.2 0.4l0.2 -0.3l0.2 2.2l0.2 -3.5l0.1 1.8l0.2 2.7l0.2 2l0.2 -3.8l0.2 2.8l0.2 0.5l0.1 -5.7l0.2 3.1l0.2 -3l0.2 1.6l0.2 2l0.2 -4l0.1 4.4l0.2 -1.6l0.2 -0.1l0.2 1.9l0.2 -3.2l0.2 -2l0.1 4.1l0.2 -1.7l0.2 1.3l0.2 -2l0.2 0.4l0.2 -0.1l0.1 -0.6l0.2 1.2l0.2 0.1l0.2 2l0.2 7.4l0.2 -8.8l0.1 -2.2l0.2 5.2l0.2 -4.2l0.2 0.8l0.2 1.4l0.2 1l0.1 0.1l0.2 0.5l0.2 -0.8l0.2 2.9l0.2 -0.5l0.2 -3.2l0.1 0.8l0.2 -2.6l0.2 4.8l0.2 -1.9l0.2 4.9l0.2 -5.9l0.1 5.2l0.2 -5.6l0.2 -1.7l0.2 0.5l0.2 4.3l0.2 1.6l0.1 -4.3l0.2 4.4l0.2 -3.4l0.2 0.1l0.2 0.5l0.2 4.6l0.1 -3.1l0.2 0.1l0.2 -4.1l0.2 3.9l0.2 0.3l0.2 3.2l0.1 -5.7l0.2 0.4l0.2 -0.4l0.2 0.7l0.2 3.1l0.2 -3.3l0.1 4.8l0.2 -2.8l0.2 -2.1l0.2 -0.5l0.2 -0.5l0.2 -0.1l0.1 6l0.2 -0.5l0.2 -4.3l0.2 1.3l0.2 4.8l0.2 -5.3l0.1 2.2l0.2 0.8l0.2 -1.6l0.2 0.1l0.2 -0.3l0.2 1.1l0.1 -3.8l0.2 3.7l0.2 0.4l0.2 -3.4l0.2 4.1l0.2 -3.1l0.1 -3.8l0.2 1.6l0.2 4.7l0.2 1.9l0.2 -3.1l0.2 -2.3l0.1 3l0.2 2.5l0.2 -2.2l0.2 -3.3l0.2 4.5l0.1 -1.5l0.2 0l0.2 0.6l0.2 1.1l0.2 -1.5l0.2 -2l0.1 2l0.2 0.5l0.2 2.4l0.2 -5.5l0.2 2.5l0.2 -1.7l0.1 2.6l0.2 -1.9l0.2 -5.7l0.2 9.2l0.2 -3.7l0.2 -1l0.1 -1l0.2 1l0.2 -0.5l0.2 2.3l0.2 1l0.2 -0.5l0.1 1l0.2 -2.7l0.2 3.2l0.2 -1.6l0.2 1.2l0.2 0.4l0.1 -2.2l0.2 3.6l0.2 0.2l0.2 -3.9l0.2 4.9l0.2 -0.2l0.1 -7.3l0.2 -5.3l0.2 7.4l0.2 2.4l0.2 1.1l0.2 -0.6l0.1 -1.6l0.2 2.3l0.2 -0.6l0.2 -2.6l0.2 1.4l0.2 2l0.1 -3.9l0.2 -1l0.2 0.5l0.2 5.2l0.2 -1.8l0.2 0.4l0.1 -2.7l0.2 0.7l0.2 2.8l0.2 -3.3l0.2 3.3l0.2 -2.8l0.1 0l0.2 1.3l0.2 0.7l0.2 2l0.2 -5.3l0.2 5.1l0.1 -5.5l0.2 -0.2l0.2 -3.1l0.2 6.9l0.2 1.4l0.2 -6l0.1 2l0.2 0.1l0.2 -2.9l0.2 3.6l0.2 0.5l0.2 -1.8l0.1 -1.2l0.2 2.6l0.2 1.1l0.2 -4.6l0.2 3l0.2 1.4l0.1 -7.5l0.2 7l0.2 3.1l0.2 -6.7l0.2 5.8l0.2 -3.6l0.1 2l0.2 -1.7l0.2 -2.3l0.2 -1.2l0.2 9.1l0.2 -8.3l0.1 2.3l0.2 3.8l0.2 -2.5l0.2 -0.3l0.2 -4.9l0.2 3.1l0.1 -1.6l0.2 -1.1l0.2 4.8l0.2 1.1l0.2 -3.6l0.2 0.2l0.1 2.4l0.2 1l0.2 -4.3l0.2 4.9l0.2 -0.5l0.2 -2.1l0.1 -2.5l0.2 3.7l0.2 0.2l0.2 2.4l0.2 -5.3l0.2 4.9l0.1 -4.4l0.2 2l0.2 -1.5l0.2 0.4l0.2 3.1l0.2 -4.8l0.1 3.3l0.2 -2.5l0.2 0.5l0.2 -1.5l0.2 2l0.1 -4.9l0.2 3.8l0.2 2.9l0.2 -0.4l0.2 -5.6l0.2 -0.6l0.1 3.3l0.2 5.1l0.2 -5.2l0.2 0.9l0.2 -0.5l0.2 1.2l0.1 -2.8l0.2 2.6l0.2 0.5l0.2 1.2l0.2 -4.3l0.2 4l0.1 2.2l0.2 -2.5l0.2 -0.3l0.2 -7l0.2 8.4l0.2 1.3l0.1 -1.6l0.2 -1.6l0.2 0.7l0.2 4.8l0.2 -9.5l0.2 1.8l0.1 3.3l0.2 -1.9l0.2 -5.4l0.2 5.3l0.2 0.2l0.2 -2.9l0.1 2.9l0.2 -0.3l0.2 -4.6l0.2 5.1l0.2 3.6l0.2 -0.9l0.1 -6.5l0.2 -0.4l0.2 3l0.2 0.5l0.2 -3.7l0.2 1.3l0.1 4.7l0.2 -2.6l0.2 1.8l0.2 -2.4l0.2 2.3l0.2 -3.5l0.1 0l0.2 -1l0.2 -2.2l0.2 3.3l0.2 -2.1l0.2 1.9l0.1 1.4l0.2 0l0.2 1.1l0.2 -2.4l0.2 0.7l0.2 2.7l0.1 -3l0.2 0.4l0.2 -5.5l0.2 2.9l0.2 4.9l0.2 -5.7l0.1 0.8l0.2 4.6l0.2 -4.9l0.2 4.9l0.2 -2.4l0.2 -1.2l0.1 -3.2l0.2 7.5l0.2 -7l0.2 1.3l0.2 4.5l0.2 -4.5l0.1 3.9l0.2 -1.2l0.2 -0.5l0.2 -1.8l0.2 0.9l0.2 2.1l0.1 -2.8l0.2 3.6l0.2 -0.9l0.2 0.7l0.2 -0.7l0.2 0.7l0.1 -0.4l0.2 1l0.2 -1l0.2 -0.1l0.2 -2.8l0.2 -1.8l0.1 4l0.2 3.4l0.2 -5.6l0.2 -1.5l0.2 2.3l0.2 2.1l0.1 2.3l0.2 -3.9l0.2 -1.9l0.2 2.5l0.2 1.7l0.2 -1.8l0.1 4l0.2 -4.9l0.2 3.1l0.2 1.7l0.2 -5.9l0.2 0.3l0.1 3.4l0.2 5.5l0.2 -5.8l0.2 -1.3l0.2 3.1l0.2 -3.2l0.1 -3.3l0.2 1.4l0.2 5.1l0.2 -6.7l0.2 0.6l0.2 5l0.1 -1.5l0.2 2.3l0.2 -5l0.2 0.7l0.2 0.9l0.1 -2l0.2 2.2l0.2 -0.1l0.2 2.6l0.2 -2.1l0.2 -0.7l0.1 1.9l0.2 1.4l0.2 -0.2l0.2 -1.6l0.2 -1.5l0.2 -0.2l0.1 -1.8l0.2 3l0.2 -0.2l0.2 3.7l0.2 -3.2l0.2 1.2l0.1 1.2l0.2 -7l0.2 2.7l0.2 0.9l0.2 0.8l0.2 -2.7l0.1 4.3l0.2 0.1l0.2 -0.8l0.2 0.4l0.2 -4l0.2 5l0.1 -3.9l0.2 -2.8l0.2 4.4l0.2 1.3l0.2 -3l0.2 -2.2l0.1 1.1l0.2 2.2l0.2 -5.2l0.2 7.8l0.2 0l0.2 -2.6l0.1 2.7l0.2 -2.7l0.2 -2.1l0.2 3.8l0.2 -0.1l0.2 -3.3l0.1 -1l0.2 0.9l0.2 4.7l0.2 -3.2l0.2 6.8l0.2 -7.6l0.1 2.8l0.2 -0.6l0.2 -1.2l0.2 2.3l0.2 -3.7l0.2 1.7l0.1 -2.4l0.2 -2.2l0.2 4.9l0.2 -2.7l0.2 -0.3l0.2 4.1l0.1 -1.6l0.2 1.2l0.2 2.9l0.2 -3.4l0.2 0.6l0.2 -3.6l0.1 4.5l0.2 0l0.2 -4.1l0.2 3.7l0.2 -0.7l0.2 -1.2l0.1 0.6l0.2 5.1l0.2 -6.7l0.2 0.7l0.2 1l0.2 -0.9l0.1 -3.3l0.2 5.4l0.2 0.6l0.2 1.7l0.2 -5l0.2 -1.5l0.1 4.2l0.2 -3.7l0.2 2.3l0.2 -0.9l0.2 1.3l0.2 -1.4l0.1 2.5l0.2 -3.5l0.2 10.8l0.2 -7.1l0.2 -3.1l0.2 -0.7l0.1 1.7l0.2 -0.6l0.2 -0.8l0.2 4.8l0.2 -0.9l0.2 -4.5l0.1 3.6l0.2 -1.2l0.2 2.8l0.2 -4.2l0.2 6l0.2 -4.3l0.1 4l0.2 -5.3l0.2 3.9l0.2 -3.1l0.2 3.8l0.2 -4l0.1 -1.9l0.2 0l0.2 1l0.2 2.7l0.2 -0.5l0.2 -0.6l0.1 2.1l0.2 1.2l0.2 -5.7l0.2 4.4l0.2 2.8l0.1 -6.3l0.2 0.1l0.2 2.1l0.2 -0.4l0.2 -1.6l0.2 1l0.1 3.6l0.2 -1.5l0.2 -4.9l0.2 -0.7l0.2 1.3l0.2 2.7l0.1 -2l0.2 -0.2l0.2 3.4l0.2 -2.1l0.2 -0.2l0.2 1.3l0.1 2.6l0.2 -2.4l0.2 0.8l0.2 -1.3l0.2 3.2l0.2 -6l0.1 0.2l0.2 1.3l0.2 5.5l0.2 -1l0.2 -5.7l0.2 1.4l0.1 2.2l0.2 -1.1l0.2 1.8l0.2 -3l0.2 -2.5l0.2 4.9l0.1 1.4l0.2 -6l0.2 -0.7l0.2 2.4l0.2 -2.4l0.2 5l0.1 -3.4l0.2 4.1l0.2 -2.4l0.2 1.1l0.2 1.1l0.2 -1.8l0.1 -1.8l0.2 4.2l0.2 -5.1l0.2 6.1l0.2 -4.3l0.2 0.2l0.1 2l0.2 0.1l0.2 0.2l0.2 -4.3l0.2 1.3l0.2 2.6l0.1 0.1l0.2 -1l0.2 3l0.2 -3.1l0.2 2.4l0.2 0.3l0.1 -1.6l0.2 -1.1l0.2 2l0.2 -0.7l0.2 0.4l0.2 -3.1l0.1 2.8l0.2 2.4l0.2 -3.9l0.2 0.9l0.2 -0.8l0.2 2.4l0.1 -6.3l0.2 7.8l0.2 -2.3l0.2 -1.5l0.2 1l0.2 1.9l0.1 -1.6l0.2 0.6l0.2 1.2l0.2 -2.2l0.2 1.2l0.2 1.6l0.1 -1.9l0.2 -2.5l0.2 3l0.2 2.7l0.2 -5l0.2 1.6l0.1 0l0.2 1l0.2 -2.7l0.2 0.8l0.2 4.2l0.2 -2.6l0.1 -2.8l0.2 3l0.2 -1.5l0.2 3.1l0.2 -6.6l0.2 3.6l0.1 1.9l0.2 -6.6l0.2 3l0.2 2.6l0.2 -0.9l0.2 -0.7l0.1 1.3l0.2 -3.6l0.2 1.2l0.2 5.4l0.2 -4.9l0.2 2.2l0.1 -1l0.2 2l0.2 -1.1l0.2 0.1l0.2 1.7l0.2 -1.8l0.1 -4.2l0.2 2.2l0.2 4.4l0.2 -0.8l0.2 -2.6l0.1 -2.9l0.2 1.9l0.2 5.8l0.2 -1.8l0.2 0.1l0.2 -5.9l0.1 0.5l0.2 1.7l0.2 -1.6l0.2 3.1l0.2 -2.5l0.2 3.2l0.1 -1.4l0.2 -1.5l0.2 3.4l0.2 0.2l0.2 -1.3l0.2 -1l0.1 0.7l0.2 -3.9l0.2 0l0.2 2.7l0.2 1.7l0.2 3.3l0.1 -2.8l0.2 -2.8l0.2 1.1l0.2 -1.6l0.2 2.5l0.2 -0.1l0.1 0.2l0.2 0.6l0.2 1.6l0.2 -0.7l0.2 -3.8l0.2 4.2l0.1 -3.8l0.2 2.9l0.2 -0.6l0.2 3.3l0.2 -3.6l0.2 0l0.1 -0.4l0.2 2.4l0.2 -1.1l0.2 -1.2l0.2 2.3l0.2 2.7l0.1 -1l0.2 -0.2l0.2 -4.2l0.2 0.9l0.2 0.6l0.2 -3.8l0.1 9.5l0.2 -8.9l0.2 3.8l0.2 -3.4l0.2 2.8l0.2 1.5l0.1 -0.6l0.2 -2.8l0.2 0.5l0.2 3.2l0.2 -2l0.2 0.4l0.1 1.7l0.2 -7l0.2 5.6l0.2 2.1l0.2 1.1l0.2 -2.2l0.1 -2.9l0.2 3.5l0.2 1.9l0.2 -5.1l0.2 -0.2l0.2 1.2l0.1 -0.5l0.2 -3.3l0.2 -0.6l0.2 2.2l0.2 1.4l0.2 2.2l0.1 -2l0.2 1.5l0.2 2.4l0.2 7.6l0.2 -8.5l0.2 -3.8l0.1 4.1l0.2 -2l0.2 0.7l0.2 1.3l0.2 -0.4l0.2 -4.2l0.1 0.4l0.2 2.8l0.2 0.9l0.2 5.9l0.2 -6l0.2 -1.9l0.1 -0.3l0.2 -0.4l0.2 -1.2l0.2 0l0.2 1.6l0.2 1.3l0.1 -1.7l0.2 1.6l0.2 -0.6l0.2 0.2l0.2 -0.4l0.2 1.5l0.1 -0.6l0.2 -5.3l0.2 6.3l0.2 -0.7l0.2 -1.4l0.2 1.6l0.1 -1.8l0.2 1.7l0.2 -2l0.2 4.2l0.2 -1.7l0.2 -3.6l0.1 1.6l0.2 2.8l0.2 -0.6" stroke="#00f" stroke-width="1"/>
<path d="M70 132.1h4.4l-2.2 3.2zM70.2 140.3h4.4l-2.2 3.2zM70.4 131.8h4.4l-2.2 3.2zM70.5 133.6h4.4l-2.2 3.2zM70.7 142.8h4.4l-2.2 3.2zM70.9 136.6h4.4l-2.2 3.2zM71.1 141.9h4.4l-2.2 3.2zM71.3 137h4.4l-2.2 3.2zM71.5 139.9h4.4l-2.2 3.2zM71.6 135.3h4.4l-2.2 3.2zM71.8 141.7h4.4l-2.2 3.2zM72 143.1h4.4l-2.2 3.2zM72.2 138.7h4.4l-2.2 3.2zM72.4 133.8h4.4l-2.2 3.2zM72.6 134.6h4.4l-2.2 3.2zM72.7 132.3h4.4l-2.2 3.2zM72.9 138.5h4.4l-2.2 3.2zM73.1 140h4.4l-2.2 3.2zM73.3 133.4h4.4l-2.2 3.2zM73.5 139.9h4.4l-2.2 3.2zM73.7 133.9h4.4l-2.2 3.2zM73.8 148.9h4.4l-2.2 3.2zM74 139.6h4.4l-2.2 3.2zM74.2 142.6h4.4l-2.2 3.2zM74.4 133.5h4.4l-2.2 3.2zM74.6 132.4h4.4l-2.2 3.2zM74.8 129.2h4.4l-2.2 3.2zM74.9 139h4.4l-2.2 3.2zM75.1 132h4.4l-2.2 3.2zM75.3 141.8h4.4l-2.2 3.2zM75.5 137.1h4.4l-2.2 3.2zM75.7 139.6h4.4l-2.2 3.2zM75.9 131.5h4.4l-2.2 3.2zM76 134.3h4.4l-2.2 3.2zM76.2 137.4h4.4l-2.2 3.2zM76.4 139.6h4.4l-2.2 3.2zM76.6 131.6h4.4l-2.2 3.2zM76.8 138.1h4.4l-2.2 3.2zM77 133.5h4.4l-2.2 3.2zM77.1 140h4.4l-2.2 3.2zM77.3 135.9h4.4l-2.2 3.2zM77.5 135.6h4.4l-2.2 3.2zM77.7 138.5h4.4l-2.2 3.2zM77.9 141.4h4.4l-2.2 3.2zM78.1 135.9h4.4l-2.2 3.2zM78.2 141.7h4.4l-2.2 3.2zM78.4 133h4.4l-2.2 3.2zM78.6 138.1h4.4l-2.2 3.2zM78.8 132.6h4.4l-2.2 3.2zM79 137.8h4.4l-2.2 3.2zM79.2 133.4h4.4l-2.2 3.2zM79.3 137.2h4.4l-2.2 3.2zM79.5 139.5h4.4l-2.2 3.2zM79.7 131h4.4l-2.2 3.2zM79.9 130.2h4.4l-2.2 3.2zM80.1 136.4h4.4l-2.2 3.2zM80.3 139.2h4.4l-2.2 3.2zM80.4 138.1h4.4l-2.2 3.2zM80.6 133.6h4.4l-2.2 3.2zM80.8 140.5h4.4l-2.2 3.2zM81 136.1h4.4l-2.2 3.2zM81.2 140.2h4.4l-2.2 3.2zM81.4 133.8h4.4l-2.2 3.2zM81.5 139h4.4l-2.2 3.2zM81.7 141.9h4.4l-2.2 3.2zM81.9 134.7h4.4l-2.2 3.2zM82.1 136.2h4.4l-2.2 3.2zM82.3 139.8h4.4l-2.2 3.2zM82.5 141.2h4.4l-2.2 3.2zM82.6 138.8h4.4l-2.2 3.2zM82.8 136.9h4.4l-2.2 3.2zM83 131.3h4.4l-2.2 3.2zM83.2 137.4h4.4l-2.2 3.2zM83.4 132.4h4.4l-2.2 3.2zM83.6 137.8h4.4l-2.2 3.2zM83.7 128.4h4.4l-2.2 3.2zM83.9 143.1h4.4l-2.2 3.2zM84.1 144.9h4.4l-2.2 3.2zM84.3 139.3h4.4l-2.2 3.2zM84.5 134.3h4.4l-2.2 3.2zM84.7 136.4h4.4l-2.2 3.2zM84.8 141.1h4.4l-2.2 3.2zM85 140.2h4.4l-2.2 3.2zM85.2 134.9h4.4l-2.2 3.2zM85.4 142.3h4.4l-2.2 3.2zM85.6 142.8h4.4l-2.2 3.2zM85.8 139.8h4.4l-2.2 3.2zM85.9 136.4h4.4l-2.2 3.2zM86.1 137.7h4.4l-2.2 3.2zM86.3 135h4.4l-2.2 3.2zM86.5 138.5h4.4l-2.2 3.2zM86.7 135.2h4.4l-2.2 3.2zM86.9 145.9h4.4l-2.2 3.2zM87 138h4.4l-2.2 3.2zM87.2 138.7h4.4l-2.2 3.2zM87.4 139.2h4.4l-2.2 3.2zM87.6 139.1h4.4l-2.2 3.2zM87.8 132.4h4.4l-2.2 3.2zM88 142.9h4.4l-2.2 3.2zM88.1 138.3h4.4l-2.2 3.2zM88.3 135.8h4.4l-2.2 3.2zM88.5 134.2h4.4l-2.2 3.2zM88.7 135.4h4.4l-2.2 3.2zM88.9 134.3h4.4l-2.2 3.2zM89.1 138.1h4.4l-2.2 3.2zM89.2 134.7h4.4l-2.2 3.2zM89.4 138.5h4.4l-2.2 3.2zM89.6 138.6h4.4l-2.2 3.2zM89.8 135.4h4.4l-2.2 3.2zM90 146.6h4.4l-2.2 3.2zM90.2 137.7h4.4l-2.2 3.2zM90.3 139.4h4.4l-2.2 3.2zM90.5 139.2h4.4l-2.2 3.2zM90.7 137.6h4.4l-2.2 3.2zM90.9 140.8h4.4l-2.2 3.2zM91.1 143.5h4.4l-2.2 3.2zM91.3 138.1h4.4l-2.2 3.2zM91.4 132.9h4.4l-2.2 3.2zM91.6 140.4h4.4l-2.2 3.2zM91.8 130h4.4l-2.2 3.2zM92 138.9h4.4l-2.2 3.2zM92.2 137.6h4.4l-2.2 3.2zM92.4 139.6h4.4l-2.2 3.2zM92.5 132.5h4.4l-2.2 3.2zM92.7 136.7h4.4l-2.2 3.2zM92.9 134.4h4.4l-2.2 3.2zM93.1 136.3h4.4l-2.2 3.2zM93.3 140.6h4.4l-2.2 3.2zM93.5 137.6h4.4l-2.2 3.2zM93.6 136.1h4.4l-2.2 3.2zM93.8 142.9h4.4l-2.2 3.2zM94 138.5h4.4l-2.2 3.2zM94.2 130.7h4.4l-2.2 3.2zM94.4 134.4h4.4l-2.2 3.2zM94.5 140h4.4l-2.2 3.2zM94.7 140.1h4.4l-2.2 3.2zM94.9 139.3h4.4l-2.2 3.2zM95.1 139.5h4.4l-2.2 3.2zM95.3 135h4.4l-2.2 3.2zM95.5 138.1h4.4l-2.2 3.2zM95.6 134h4.4l-2.2 3.2zM95.8 135.3h4.4l-2.2 3.2zM96 135h4.4l-2.2 3.2zM96.2 135.3h4.4l-2.2 3.2zM96.4 137.2h4.4l-2.2 3.2zM96.6 137.7h4.4l-2.2 3.2zM96.7 135.5h4.4l-2.2 3.2zM96.9 142.7h4.4l-2.2 3.2zM97.1 136.8h4.4l-2.2 3.2zM97.3 144.4h4.4l-2.2 3.2zM97.5 142.4h4.4l-2.2 3.2zM97.7 134h4.4l-2.2 3.2zM97.8 142h4.4l-2.2 3.2zM98 133.3h4.4l-2.2 3.2zM98.2 144.1h4.4l-2.2 3.2zM98.4 139.9h4.4l-2.2 3.2zM98.6 134.9h4.4l-2.2 3.2zM98.8 130.3h4.4l-2.2 3.2zM98.9 137.1h4.4l-2.2 3.2zM99.1 133.5h4.4l-2.2 3.2zM99.3 142.8h4.4l-2.2 3.2zM99.5 134h4.4l-2.2 3.2zM99.7 137.8h4.4l-2.2 3.2zM99.9 140.5h4.4l-2.2 3.2zM100 138.7h4.4l-2.2 3.2zM100.2 139.7h4.4l-2.2 3.2zM100.4 137.8h4.4l-2.2 3.2zM100.6 141.5h4.4l-2.2 3.2zM100.8 135.2h4.4l-2.2 3.2zM101 140.9h4.4l-2.2 3.2zM101.1 134.2h4.4l-2.2 3.2zM101.3 139.4h4.4l-2.2 3.2zM101.5 134.5h4.4l-2.2 3.2zM101.7 138h4.4l-2.2 3.2zM101.9 141h4.4l-2.2 3.2zM102.1 143.5h4.4l-2.2 3.2zM102.2 132.1h4.4l-2.2 3.2zM102.4 136h4.4l-2.2 3.2zM102.6 135.2h4.4l-2.2 3.2zM102.8 143.5h4.4l-2.2 3.2zM103 135.6h4.4l-2.2 3.2zM103.2 141.6h4.4l-2.2 3.2zM103.3 137h4.4l-2.2 3.2zM103.5 133.5h4.4l-2.2 3.2zM103.7 139.4h4.4l-2.2 3.2zM103.9 134.7h4.4l-2.2 3.2zM104.1 141.7h4.4l-2.2 3.2zM104.3 142.1h4.4l-2.2 3.2zM104.4 144h4.4l-2.2 3.2zM104.6 135.2h4.4l-2.2 3.2zM104.8 145h4.4l-2.2 3.2zM105 142.7h4.4l-2.2 3.2zM105.2 132.3h4.4l-2.2 3.2zM105.4 147.4h4.4l-2.2 3.2zM105.5 145.4h4.4l-2.2 3.2zM105.7 135.2h4.4l-2.2 3.2zM105.9 140.4h4.4l-2.2 3.2zM106.1 134.1h4.4l-2.2 3.2zM106.3 138.7h4.4l-2.2 3.2zM106.5 139.9h4.4l-2.2 3.2zM106.6 141.5h4.4l-2.2 3.2zM106.8 133.9h4.4l-2.2 3.2zM107 139h4.4l-2.2 3.2zM107.2 135.7h4.4l-2.2 3.2zM107.4 140.7h4.4l-2.2 3.2zM107.6 141.8h4.4l-2.2 3.2zM107.7 139.6h4.4l-2.2 3.2zM107.9 143.6h4.4l-2.2 3.2zM108.1 142.1h4.4l-2.2 3.2zM108.3 140.7h4.4l-2.2 3.2zM108.5 143.7h4.4l-2.2 3.2zM108.7 131.4h4.4l-2.2 3.2zM108.8 139.2h4.4l-2.2 3.2zM109 132.7h4.4l-2.2 3.2zM109.2 139.3h4.4l-2.2 3.2zM109.4 137.7h4.4l-2.2 3.2zM109.6 142.5h4.4l-2.2 3.2zM109.8 136.6h4.4l-2.2 3.2zM109.9 137.1h4.4l-2.2 3.2zM110.1 139.1h4.4l-2.2 3.2zM110.3 139h4.4l-2.2 3.2zM110.5 142.8h4.4l-2.2 3.2zM110.7 133.9h4.4l-2.2 3.2zM110.9 133.9h4.4l-2.2 3.2zM111 133.6h4.4l-2.2 3.2zM111.2 143.9h4.4l-2.2 3.2zM111.4 134.9h4.4l-2.2 3.2zM111.6 137.9h4.4l-2.2 3.2zM111.8 135.5h4.4l-2.2 3.2zM112 142.9h4.4l-2.2 3.2zM112.1 137.5h4.4l-2.2 3.2zM112.3 144.2h4.4l-2.2 3.2zM112.5 137h4.4l-2.2 3.2zM112.7 140.8h4.4l-2.2 3.2zM112.9 142.5h4.4l-2.2 3.2zM113.1 143.3h4.4l-2.2 3.2zM113.2 135.3h4.4l-2.2 3.2zM113.4 138.4h4.4l-2.2 3.2zM113.6 139.5h4.4l-2.2 3.2zM113.8 133h4.4l-2.2 3.2zM114 142.5h4.4l-2.2 3.2zM114.2 141.3h4.4l-2.2 3.2zM114.3 141.7h4.4l-2.2 3.2zM114.5 134.7h4.4l-2.2 3.2zM114.7 141h4.4l-2.2 3.2zM114.9 141.5h4.4l-2.2 3.2zM115.1 143.7h4.4l-2.2 3.2zM115.3 138h4.4l-2.2 3.2zM115.4 142.5h4.4l-2.2 3.2zM115.6 147.3h4.4l-2.2 3.2zM115.8 138.3h4.4l-2.2 3.2zM116 138.4h4.4l-2.2 3.2zM116.2 138.8h4.4l-2.2 3.2zM116.4 134.5h4.4l-2.2 3.2zM116.5 138.7h4.4l-2.2 3.2zM116.7 146.1h4.4l-2.2 3.2zM116.9 136.6h4.4l-2.2 3.2zM117.1 139.4h4.4l-2.2 3.2zM117.3 144.5h4.4l-2.2 3.2zM117.5 142.2h4.4l-2.2 3.2zM117.6 141h4.4l-2.2 3.2zM117.8 138.9h4.4l-2.2 3.2zM118 139.7h4.4l-2.2 3.2zM118.2 140.2h4.4l-2.2 3.2zM118.4 142.7h4.4l-2.2 3.2zM118.5 140.5h4.4l-2.2 3.2zM118.7 143.7h4.4l-2.2 3.2zM118.9 133.3h4.4l-2.2 3.2zM119.1 143.3h4.4l-2.2 3.2zM119.3 138.3h4.4l-2.2 3.2zM119.5 140.3h4.4l-2.2 3.2zM119.6 138.7h4.4l-2.2 3.2zM119.8 142.7h4.4l-2.2 3.2zM120 139.9h4.4l-2.2 3.2zM120.2 142.7h4.4l-2.2 3.2zM120.4 137.4h4.4l-2.2 3.2zM120.6 141.1h4.4l-2.2 3.2zM120.7 144.9h4.4l-2.2 3.2zM120.9 144.5h4.4l-2.2 3.2zM121.1 139.1h4.4l-2.2 3.2zM121.3 141.3h4.4l-2.2 3.2zM121.5 139.1h4.4l-2.2 3.2zM121.7 140h4.4l-2.2 3.2zM121.8 140.6h4.4l-2.2 3.2zM122 145h4.4l-2.2 3.2zM122.2 142.7h4.4l-2.2 3.2zM122.4 145.9h4.4l-2.2 3.2zM122.6 146.2h4.4l-2.2 3.2zM122.8 135.9h4.4l-2.2 3.2zM122.9 141.7h4.4l-2.2 3.2zM123.1 139h4.4l-2.2 3.2zM123.3 134.7h4.4l-2.2 3.2zM123.5 133.9h4.4l-2.2 3.2zM123.7 138.8h4.4l-2.2 3.2zM123.9 146.8h4.4l-2.2 3.2zM124 141h4.4l-2.2 3.2zM124.2 140h4.4l-2.2 3.2zM124.4 140.6h4.4l-2.2 3.2zM124.6 138h4.4l-2.2 3.2zM124.8 141.4h4.4l-2.2 3.2zM125 140.4h4.4l-2.2 3.2zM125.1 134.8h4.4l-2.2 3.2zM125.3 138.9h4.4l-2.2 3.2zM125.5 153.1h4.4l-2.2 3.2zM125.7 143.2h4.4l-2.2 3.2zM125.9 140.5h4.4l-2.2 3.2zM126.1 145h4.4l-2.2 3.2zM126.2 137.3h4.4l-2.2 3.2zM126.4 141.2h4.4l-2.2 3.2zM126.6 144.1h4.4l-2.2 3.2zM126.8 135.1h4.4l-2.2 3.2zM127 138.3h4.4l-2.2 3.2zM127.2 139.5h4.4l-2.2 3.2zM127.3 140h4.4l-2.2 3.2zM127.5 139.2h4.4l-2.2 3.2zM127.7 142h4.4l-2.2 3.2zM127.9 144.8h4.4l-2.2 3.2zM128.1 142.3h4.4l-2.2 3.2zM128.3 144.8h4.4l-2.2 3.2zM128.4 144.9h4.4l-2.2 3.2zM128.6 139h4.4l-2.2 3.2zM128.8 142.1h4.4l-2.2 3.2zM129 139.8h4.4l-2.2 3.2zM129.2 143.6h4.4l-2.2 3.2zM129.4 139.9h4.4l-2.2 3.2zM129.5 140.5h4.4l-2.2 3.2zM129.7 147.4h4.4l-2.2 3.2zM129.9 140.6h4.4l-2.2 3.2zM130.1 135.6h4.4l-2.2 3.2zM130.3 141.7h4.4l-2.2 3.2zM130.5 142.4h4.4l-2.2 3.2zM130.6 139.5h4.4l-2.2 3.2zM130.8 141.6h4.4l-2.2 3.2zM131 145.1h4.4l-2.2 3.2zM131.2 139.5h4.4l-2.2 3.2zM131.4 140.7h4.4l-2.2 3.2zM131.6 138.9h4.4l-2.2 3.2zM131.7 142.6h4.4l-2.2 3.2zM131.9 141h4.4l-2.2 3.2zM132.1 138.2h4.4l-2.2 3.2zM132.3 140.6h4.4l-2.2 3.2zM132.5 148.1h4.4l-2.2 3.2zM132.7 135.4h4.4l-2.2 3.2zM132.8 136.6h4.4l-2.2 3.2zM133 142.8h4.4l-2.2 3.2zM133.2 136.6h4.4l-2.2 3.2zM133.4 148.7h4.4l-2.2 3.2zM133.6 136.3h4.4l-2.2 3.2zM133.8 137h4.4l-2.2 3.2zM133.9 139.8h4.4l-2.2 3.2zM134.1 145.6h4.4l-2.2 3.2zM134.3 144.6h4.4l-2.2 3.2zM134.5 143.8h4.4l-2.2 3.2zM134.7 142.9h4.4l-2.2 3.2zM134.9 146.5h4.4l-2.2 3.2zM135 130.8h4.4l-2.2 3.2zM135.2 142.8h4.4l-2.2 3.2zM135.4 147h4.4l-2.2 3.2zM135.6 138.1h4.4l-2.2 3.2zM135.8 143.1h4.4l-2.2 3.2zM136 149.4h4.4l-2.2 3.2zM136.1 146.5h4.4l-2.2 3.2zM136.3 141.5h4.4l-2.2 3.2zM136.5 148.7h4.4l-2.2 3.2zM136.7 143.9h4.4l-2.2 3.2zM136.9 145.9h4.4l-2.2 3.2zM137.1 138.3h4.4l-2.2 3.2zM137.2 139.5h4.4l-2.2 3.2zM137.4 139.5h4.4l-2.2 3.2zM137.6 148.5h4.4l-2.2 3.2zM137.8 133.9h4.4l-2.2 3.2zM138 135.7h4.4l-2.2 3.2zM138.2 145.1h4.4l-2.2 3.2zM138.3 142.9h4.4l-2.2 3.2zM138.5 131.8h4.4l-2.2 3.2zM138.7 141h4.4l-2.2 3.2zM138.9 141.3h4.4l-2.2 3.2zM139.1 146.8h4.4l-2.2 3.2zM139.3 135.7h4.4l-2.2 3.2zM139.4 140.6h4.4l-2.2 3.2zM139.6 146.3h4.4l-2.2 3.2zM139.8 145.3h4.4l-2.2 3.2zM140 139.3h4.4l-2.2 3.2zM140.2 141.6h4.4l-2.2 3.2zM140.4 133.8h4.4l-2.2 3.2zM140.5 147.5h4.4l-2.2 3.2zM140.7 141.2h4.4l-2.2 3.2zM140.9 147.3h4.4l-2.2 3.2zM141.1 145.6h4.4l-2.2 3.2zM141.3 139.7h4.4l-2.2 3.2zM141.5 142.4h4.4l-2.2 3.2zM141.6 145.2h4.4l-2.2 3.2zM141.8 144.5h4.4l-2.2 3.2zM142 148.4h4.4l-2.2 3.2zM142.2 147h4.4l-2.2 3.2zM142.4 144.2h4.4l-2.2 3.2zM142.5 145.5h4.4l-2.2 3.2zM142.7 140.6h4.4l-2.2 3.2zM142.9 141.1h4.4l-2.2 3.2zM143.1 145.3h4.4l-2.2 3.2zM143.3 144.4h4.4l-2.2 3.2zM143.5 139.4h4.4l-2.2 3.2zM143.6 143h4.4l-2.2 3.2zM143.8 140.5h4.4l-2.2 3.2zM144 141.4h4.4l-2.2 3.2zM144.2 147.9h4.4l-2.2 3.2zM144.4 140.1h4.4l-2.2 3.2zM144.6 141.2h4.4l-2.2 3.2zM144.7 145.5h4.4l-2.2 3.2zM144.9 143.8h4.4l-2.2 3.2zM145.1 144.2h4.4l-2.2 3.2zM145.3 138.6h4.4l-2.2 3.2zM145.5 143.6h4.4l-2.2 3.2zM145.7 142.4h4.4l-2.2 3.2zM145.8 140.9h4.4l-2.2 3.2zM146 141.8h4.4l-2.2 3.2zM146.2 142.8h4.4l-2.2 3.2zM146.4 146.7h4.4l-2.2 3.2zM146.6 150.4h4.4l-2.2 3.2zM146.8 144.3h4.4l-2.2 3.2zM146.9 149.1h4.4l-2.2 3.2zM147.1 144.3h4.4l-2.2 3.2zM147.3 138.8h4.4l-2.2 3.2zM147.5 144.2h4.4l-2.2 3.2zM147.7 148.5h4.4l-2.2 3.2zM147.9 152.4h4.4l-2.2 3.2zM148 141h4.4l-2.2 3.2zM148.2 151.9h4.4l-2.2 3.2zM148.4 141.6h4.4l-2.2 3.2zM148.6 141.7h4.4l-2.2 3.2zM148.8 142.4h4.4l-2.2 3.2zM149 149.3h4.4l-2.2 3.2zM149.1 145.7h4.4l-2.2 3.2zM149.3 147.5h4.4l-2.2 3.2zM149.5 136.6h4.4l-2.2 3.2zM149.7 144.2h4.4l-2.2 3.2zM149.9 144h4.4l-2.2 3.2zM150.1 146.8h4.4l-2.2 3.2zM150.2 142.8h4.4l-2.2 3.2zM150.4 148.6h4.4l-2.2 3.2zM150.6 142.1h4.4l-2.2 3.2zM150.8 139.7h4.4l-2.2 3.2zM151 135h4.4l-2.2 3.2zM151.2 149h4.4l-2.2 3.2zM151.3 147.2h4.4l-2.2 3.2zM151.5 141.9h4.4l-2.2 3.2zM151.7 148.5h4.4l-2.2 3.2zM151.9 144.1h4.4l-2.2 3.2zM152.1 144.3h4.4l-2.2 3.2zM152.3 139.7h4.4l-2.2 3.2zM152.4 142.8h4.4l-2.2 3.2zM152.6 145.1h4.4l-2.2 3.2zM152.8 145.5h4.4l-2.2 3.2zM153 142.9h4.4l-2.2 3.2zM153.2 148.2h4.4l-2.2 3.2zM153.4 149.8h4.4l-2.2 3.2zM153.5 142.1h4.4l-2.2 3.2zM153.7 146.3h4.4l-2.2 3.2zM153.9 139.6h4.4l-2.2 3.2zM154.1 147.4h4.4l-2.2 3.2zM154.3 141.6h4.4l-2.2 3.2zM154.5 144.4h4.4l-2.2 3.2zM154.6 145.5h4.4l-2.2 3.2zM154.8 144.1h4.4l-2.2 3.2zM155 148.6h4.4l-2.2 3.2zM155.2 142.3h4.4l-2.2 3.2zM155.4 143.4h4.4l-2.2 3.2zM155.6 146.1h4.4l-2.2 3.2zM155.7 144.9h4.4l-2.2 3.2zM155.9 145.9h4.4l-2.2 3.2zM156.1 144.3h4.4l-2.2 3.2zM156.3 142.3h4.4l-2.2 3.2zM156.5 147.3h4.4l-2.2 3.2zM156.7 145.6h4.4l-2.2 3.2zM156.8 148.2h4.4l-2.2 3.2zM157 149.6h4.4l-2.2 3.2zM157.2 143.9h4.4l-2.2 3.2zM157.4 142.5h4.4l-2.2 3.2zM157.6 143.5h4.4l-2.2 3.2zM157.8 142.9h4.4l-2.2 3.2zM157.9 138.3h4.4l-2.2 3.2zM158.1 150.7h4.4l-2.2 3.2zM158.3 146.5h4.4l-2.2 3.2zM158.5 153h4.4l-2.2 3.2zM158.7 143.1h4.4l-2.2 3.2zM158.9 147h4.4l-2.2 3.2zM159 145.8h4.4l-2.2 3.2zM159.2 144.6h4.4l-2.2 3.2zM159.4 148.1h4.4l-2.2 3.2zM159.6 144.7h4.4l-2.2 3.2zM159.8 144.4h4.4l-2.2 3.2zM160 145.1h4.4l-2.2 3.2zM160.1 136.8h4.4l-2.2 3.2zM160.3 141.9h4.4l-2.2 3.2zM160.5 141.8h4.4l-2.2 3.2zM160.7 149.8h4.4l-2.2 3.2zM160.9 146.1h4.4l-2.2 3.2zM161.1 148.7h4.4l-2.2 3.2zM161.2 146.1h4.4l-2.2 3.2zM161.4 143.1h4.4l-2.2 3.2zM161.6 149.4h4.4l-2.2 3.2zM161.8 142.9h4.4l-2.2 3.2zM162 138.6h4.4l-2.2 3.2zM162.2 145.5h4.4l-2.2 3.2zM162.3 147.3h4.4l-2.2 3.2zM162.5 143.4h4.4l-2.2 3.2zM162.7 144.1h4.4l-2.2 3.2zM162.9 145.9h4.4l-2.2 3.2zM163.1 147.7h4.4l-2.2 3.2zM163.3 144.3h4.4l-2.2 3.2zM163.4 152.1h4.4l-2.2 3.2zM163.6 142.9h4.4l-2.2 3.2zM163.8 149h4.4l-2.2 3.2zM164 136.9h4.4l-2.2 3.2zM164.2 144.9h4.4l-2.2 3.2zM164.4 143.5h4.4l-2.2 3.2zM164.5 142.1h4.4l-2.2 3.2zM164.7 137.3h4.4l-2.2 3.2zM164.9 145.6h4.4l-2.2 3.2zM165.1 141.4h4.4l-2.2 3.2zM165.3 138.9h4.4l-2.2 3.2zM165.5 140.3h4.4l-2.2 3.2zM165.6 142h4.4l-2.2 3.2zM165.8 143.4h4.4l-2.2 3.2zM166 138.1h4.4l-2.2 3.2zM166.2 140.4h4.4l-2.2 3.2zM166.4 145.2h4.4l-2.2 3.2zM166.6 143.8h4.4l-2.2 3.2zM166.7 150.9h4.4l-2.2 3.2zM166.9 143h4.4l-2.2 3.2zM167.1 147.1h4.4l-2.2 3.2zM167.3 150.5h4.4l-2.2 3.2zM167.5 144h4.4l-2.2 3.2zM167.6 148.1h4.4l-2.2 3.2zM167.8 145.8h4.4l-2.2 3.2zM168 145h4.4l-2.2 3.2zM168.2 150.3h4.4l-2.2 3.2zM168.4 141.6h4.4l-2.2 3.2zM168.6 143h4.4l-2.2 3.2zM168.7 139.1h4.4l-2.2 3.2zM168.9 144.7h4.4l-2.2 3.2zM169.1 148.5h4.4l-2.2 3.2zM169.3 144.3h4.4l-2.2 3.2zM169.5 148h4.4l-2.2 3.2zM169.7 142.7h4.4l-2.2 3.2zM169.8 149.2h4.4l-2.2 3.2zM170 145h4.4l-2.2 3.2zM170.2 143.8h4.4l-2.2 3.2zM170.4 151h4.4l-2.2 3.2zM170.6 145.5h4.4l-2.2 3.2zM170.8 147.5h4.4l-2.2 3.2zM170.9 146h4.4l-2.2 3.2zM171.1 148h4.4l-2.2 3.2zM171.3 146.1h4.4l-2.2 3.2zM171.5 141.6h4.4l-2.2 3.2zM171.7 146.7h4.4l-2.2 3.2zM171.9 148.6h4.4l-2.2 3.2zM172 147.1h4.4l-2.2 3.2zM172.2 145h4.4l-2.2 3.2zM172.4 151.9h4.4l-2.2 3.2zM172.6 143.4h4.4l-2.2 3.2zM172.8 146.3h4.4l-2.2 3.2zM173 146.6h4.4l-2.2 3.2zM173.1 142.3h4.4l-2.2 3.2zM173.3 139.3h4.4l-2.2 3.2zM173.5 148.2h4.4l-2.2 3.2zM173.7 148.2h4.4l-2.2 3.2zM173.9 146.5h4.4l-2.2 3.2zM174.1 140.7h4.4l-2.2 3.2zM174.2 145.1h4.4l-2.2 3.2zM174.4 146.8h4.4l-2.2 3.2zM174.6 149.7h4.4l-2.2 3.2zM174.8 150h4.4l-2.2 3.2zM175 147.6h4.4l-2.2 3.2zM175.2 149.3h4.4l-2.2 3.2zM175.3 151.6h4.4l-2.2 3.2zM175.5 138.3h4.4l-2.2 3.2zM175.7 149.4h4.4l-2.2 3.2zM175.9 144.6h4.4l-2.2 3.2zM176.1 147.7h4.4l-2.2 3.2zM176.3 146.8h4.4l-2.2 3.2zM176.4 142.7h4.4l-2.2 3.2zM176.6 143.1h4.4l-2.2 3.2zM176.8 147.5h4.4l-2.2 3.2zM177 145.5h4.4l-2.2 3.2zM177.2 148.5h4.4l-2.2 3.2zM177.4 144h4.4l-2.2 3.2zM177.5 153.2h4.4l-2.2 3.2zM177.7 145.2h4.4l-2.2 3.2zM177.9 157.9h4.4l-2.2 3.2zM178.1 143.5h4.4l-2.2 3.2zM178.3 147.8h4.4l-2.2 3.2zM178.5 149.7h4.4l-2.2 3.2zM178.6 141.5h4.4l-2.2 3.2zM178.8 142.7h4.4l-2.2 3.2zM179 147.2h4.4l-2.2 3.2zM179.2 149.6h4.4l-2.2 3.2zM179.4 150.3h4.4l-2.2 3.2zM179.6 147.6h4.4l-2.2 3.2zM179.7 151.8h4.4l-2.2 3.2zM179.9 141.8h4.4l-2.2 3.2zM180.1 144.2h4.4l-2.2 3.2zM180.3 150.4h4.4l-2.2 3.2zM180.5 143.7h4.4l-2.2 3.2zM180.7 144.7h4.4l-2.2 3.2zM180.8 139.6h4.4l-2.2 3.2zM181 144.7h4.4l-2.2 3.2zM181.2 140h4.4l-2.2 3.2zM181.4 146.5h4.4l-2.2 3.2zM181.6 150.1h4.4l-2.2 3.2zM181.8 146.2h4.4l-2.2 3.2zM181.9 145.7h4.4l-2.2 3.2zM182.1 143.7h4.4l-2.2 3.2zM182.3 146.8h4.4l-2.2 3.2zM182.5 141.2h4.4l-2.2 3.2zM182.7 143.3h4.4l-2.2 3.2zM182.9 152h4.4l-2.2 3.2zM183 140.4h4.4l-2.2 3.2zM183.2 142.8h4.4l-2.2 3.2zM183.4 139.9h4.4l-2.2 3.2zM183.6 148.6h4.4l-2.2 3.2zM183.8 143.6h4.4l-2.2 3.2zM184 140.1h4.4l-2.2 3.2zM184.1 140.1h4.4l-2.2 3.2zM184.3 147.9h4.4l-2.2 3.2zM184.5 146.4h4.4l-2.2 3.2zM184.7 146.7h4.4l-2.2 3.2zM184.9 143.8h4.4l-2.2 3.2zM185.1 146.9h4.4l-2.2 3.2zM185.2 148.2h4.4l-2.2 3.2zM185.4 146h4.4l-2.2 3.2zM185.6 134.6h4.4l-2.2 3.2zM185.8 136.9h4.4l-2.2 3.2zM186 138.5h4.4l-2.2 3.2zM186.2 144.2h4.4l-2.2 3.2zM186.3 138.2h4.4l-2.2 3.2zM186.5 139.4h4.4l-2.2 3.2zM186.7 143h4.4l-2.2 3.2zM186.9 139.7h4.4l-2.2 3.2zM187.1 138.1h4.4l-2.2 3.2zM187.3 145.5h4.4l-2.2 3.2zM187.4 143.6h4.4l-2.2 3.2zM187.6 146.3h4.4l-2.2 3.2zM187.8 144.6h4.4l-2.2 3.2zM188 146.1h4.4l-2.2 3.2zM188.2 140.8h4.4l-2.2 3.2zM188.4 140h4.4l-2.2 3.2zM188.5 134.4h4.4l-2.2 3.2zM188.7 139.3h4.4l-2.2 3.2zM188.9 137.8h4.4l-2.2 3.2zM189.1 143.2h4.4l-2.2 3.2zM189.3 141.6h4.4l-2.2 3.2zM189.5 144.1h4.4l-2.2 3.2zM189.6 142.5h4.4l-2.2 3.2zM189.8 145.5h4.4l-2.2 3.2zM190 140.1h4.4l-2.2 3.2zM190.2 138.6h4.4l-2.2 3.2zM190.4 136.6h4.4l-2.2 3.2zM190.6 137.6h4.4l-2.2 3.2zM190.7 134.2h4.4l-2.2 3.2zM190.9 138.7h4.4l-2.2 3.2zM191.1 136.9h4.4l-2.2 3.2zM191.3 125h4.4l-2.2 3.2zM191.5 127.4h4.4l-2.2 3.2zM191.6 134.1h4.4l-2.2 3.2zM191.8 134.8h4.4l-2.2 3.2zM192 135.2h4.4l-2.2 3.2zM192.2 140.6h4.4l-2.2 3.2zM192.4 133.7h4.4l-2.2 3.2zM192.6 131.3h4.4l-2.2 3.2zM192.7 136.9h4.4l-2.2 3.2zM192.9 139h4.4l-2.2 3.2zM193.1 141.1h4.4l-2.2 3.2zM193.3 131.7h4.4l-2.2 3.2zM193.5 134.2h4.4l-2.2 3.2zM193.7 133.5h4.4l-2.2 3.2zM193.8 140.3h4.4l-2.2 3.2zM194 137.4h4.4l-2.2 3.2zM194.2 135h4.4l-2.2 3.2zM194.4 137.4h4.4l-2.2 3.2zM194.6 133.7h4.4l-2.2 3.2zM194.8 134.3h4.4l-2.2 3.2zM194.9 135h4.4l-2.2 3.2zM195.1 133.4h4.4l-2.2 3.2zM195.3 134.4h4.4l-2.2 3.2zM195.5 136.7h4.4l-2.2 3.2zM195.7 136.5h4.4l-2.2 3.2zM195.9 140.9h4.4l-2.2 3.2zM196 139h4.4l-2.2 3.2zM196.2 135.9h4.4l-2.2 3.2zM196.4 128.7h4.4l-2.2 3.2zM196.6 127.7h4.4l-2.2 3.2zM196.8 134.9h4.4l-2.2 3.2zM197 135.5h4.4l-2.2 3.2zM197.1 132.4h4.4l-2.2 3.2zM197.3 135.8h4.4l-2.2 3.2zM197.5 137.8h4.4l-2.2 3.2zM197.7 135.1h4.4l-2.2 3.2zM197.9 136.9h4.4l-2.2 3.2zM198.1 137.1h4.4l-2.2 3.2zM198.2 135.1h4.4l-2.2 3.2zM198.4 134.6h4.4l-2.2 3.2zM198.6 137.2h4.4l-2.2 3.2zM198.8 138.6h4.4l-2.2 3.2zM199 134.2h4.4l-2.2 3.2zM199.2 125.9h4.4l-2.2 3.2zM199.3 134.6h4.4l-2.2 3.2zM199.5 139.7h4.4l-2.2 3.2zM199.7 132.5h4.4l-2.2 3.2zM199.9 141.2h4.4l-2.2 3.2zM200.1 136.1h4.4l-2.2 3.2zM200.3 138.8h4.4l-2.2 3.2zM200.4 135.6h4.4l-2.2 3.2zM200.6 140.2h4.4l-2.2 3.2zM200.8 138.5h4.4l-2.2 3.2zM201 139.6h4.4l-2.2 3.2zM201.2 131.8h4.4l-2.2 3.2zM201.4 140.9h4.4l-2.2 3.2zM201.5 132.8h4.4l-2.2 3.2zM201.7 137.4h4.4l-2.2 3.2zM201.9 140.3h4.4l-2.2 3.2zM202.1 137.9h4.4l-2.2 3.2zM202.3 140.3h4.4l-2.2 3.2zM202.5 139.5h4.4l-2.2 3.2zM202.6 139.1h4.4l-2.2 3.2zM202.8 136h4.4l-2.2 3.2zM203 142.1h4.4l-2.2 3.2zM203.2 142.5h4.4l-2.2 3.2zM203.4 135.6h4.4l-2.2 3.2zM203.6 135.7h4.4l-2.2 3.2zM203.7 139.5h4.4l-2.2 3.2zM203.9 136.2h4.4l-2.2 3.2zM204.1 139.2h4.4l-2.2 3.2zM204.3 141.5h4.4l-2.2 3.2zM204.5 140.9h4.4l-2.2 3.2zM204.7 147h4.4l-2.2 3.2zM204.8 140h4.4l-2.2 3.2zM205 134.7h4.4l-2.2 3.2zM205.2 135.1h4.4l-2.2 3.2zM205.4 139.5h4.4l-2.2 3.2zM205.6 143.9h4.4l-2.2 3.2zM205.8 135.9h4.4l-2.2 3.2zM205.9 133.6h4.4l-2.2 3.2zM206.1 141.1h4.4l-2.2 3.2zM206.3 135.5h4.4l-2.2 3.2zM206.5 137.9h4.4l-2.2 3.2zM206.7 138.8h4.4l-2.2 3.2zM206.9 131.3h4.4l-2.2 3.2zM207 133h4.4l-2.2 3.2zM207.2 131.8h4.4l-2.2 3.2zM207.4 135.1h4.4l-2.2 3.2zM207.6 135.1h4.4l-2.2 3.2zM207.8 130.6h4.4l-2.2 3.2zM208 133.8h4.4l-2.2 3.2zM208.1 125.1h4.4l-2.2 3.2zM208.3 131.9h4.4l-2.2 3.2zM208.5 131.3h4.4l-2.2 3.2zM208.7 129.4h4.4l-2.2 3.2zM208.9 123.5h4.4l-2.2 3.2zM209.1 127.5h4.4l-2.2 3.2zM209.2 123.3h4.4l-2.2 3.2zM209.4 131.4h4.4l-2.2 3.2zM209.6 124.3h4.4l-2.2 3.2zM209.8 123.7h4.4l-2.2 3.2zM210 123.1h4.4l-2.2 3.2zM210.2 124.5h4.4l-2.2 3.2zM210.3 121.8h4.4l-2.2 3.2zM210.5 122.5h4.4l-2.2 3.2zM210.7 116.1h4.4l-2.2 3.2zM210.9 122.5h4.4l-2.2 3.2zM211.1 115.5h4.4l-2.2 3.2zM211.3 119.2h4.4l-2.2 3.2zM211.4 116.1h4.4l-2.2 3.2zM211.6 118.2h4.4l-2.2 3.2zM211.8 112.7h4.4l-2.2 3.2zM212 106.2h4.4l-2.2 3.2zM212.2 106.1h4.4l-2.2 3.2zM212.4 108.4h4.4l-2.2 3.2zM212.5 113.3h4.4l-2.2 3.2zM212.7 104.8h4.4l-2.2 3.2zM212.9 105.2h4.4l-2.2 3.2zM213.1 111.8h4.4l-2.2 3.2zM213.3 99.6h4.4l-2.2 3.2zM213.5 101.6h4.4l-2.2 3.2zM213.6 100h4.4l-2.2 3.2zM213.8 94.9h4.4l-2.2 3.2zM214 96.8h4.4l-2.2 3.2zM214.2 98.7h4.4l-2.2 3.2zM214.4 97.3h4.4l-2.2 3.2zM214.6 90.1h4.4l-2.2 3.2zM214.7 102.5h4.4l-2.2 3.2zM214.9 90.2h4.4l-2.2 3.2zM215.1 86.1h4.4l-2.2 3.2zM215.3 82.6h4.4l-2.2 3.2zM215.5 80h4.4l-2.2 3.2zM215.6 88.7h4.4l-2.2 3.2zM215.8 68.6h4.4l-2.2 3.2zM216 79.2h4.4l-2.2 3.2zM216.2 72.3h4.4l-2.2 3.2zM216.4 76.3h4.4l-2.2 3.2zM216.6 75.7h4.4l-2.2 3.2zM216.7 68.7h4.4l-2.2 3.2zM216.9 69.1h4.4l-2.2 3.2zM217.1 78.4h4.4l-2.2 3.2zM217.3 67.4h4.4l-2.2 3.2zM217.5 71.1h4.4l-2.2 3.2zM217.7 69h4.4l-2.2 3.2zM217.8 73.6h4.4l-2.2 3.2zM218 78.6h4.4l-2.2 3.2zM218.2 72.8h4.4l-2.2 3.2zM218.4 70.6h4.4l-2.2 3.2zM218.6 70.1h4.4l-2.2 3.2zM218.8 61.4h4.4l-2.2 3.2zM218.9 72.6h4.4l-2.2 3.2zM219.1 63.4h4.4l-2.2 3.2zM219.3 61.5h4.4l-2.2 3.2zM219.5 63.6h4.4l-2.2 3.2zM219.7 61.3h4.4l-2.2 3.2zM219.9 66.8h4.4l-2.2 3.2zM220 68.1h4.4l-2.2 3.2zM220.2 70.7h4.4l-2.2 3.2zM220.4 64.1h4.4l-2.2 3.2zM220.6 59.6h4.4l-2.2 3.2zM220.8 63.1h4.4l-2.2 3.2zM221 58.9h4.4l-2.2 3.2zM221.1 60.9h4.4l-2.2 3.2zM221.3 80.2h4.4l-2.2 3.2zM221.5 60.7h4.4l-2.2 3.2zM221.7 62.1h4.4l-2.2 3.2zM221.9 67.2h4.4l-2.2 3.2zM222.1 65.4h4.4l-2.2 3.2zM222.2 67.8h4.4l-2.2 3.2zM222.4 60.2h4.4l-2.2 3.2zM222.6 59.4h4.4l-2.2 3.2zM222.8 70.9h4.4l-2.2 3.2zM223 61.9h4.4l-2.2 3.2zM223.2 65.2h4.4l-2.2 3.2zM223.3 67.2h4.4l-2.2 3.2zM223.5 58.2h4.4l-2.2 3.2zM223.7 66.6h4.4l-2.2 3.2zM223.9 65.2h4.4l-2.2 3.2zM224.1 71.3h4.4l-2.2 3.2zM224.3 68.1h4.4l-2.2 3.2zM224.4 59.8h4.4l-2.2 3.2zM224.6 74.3h4.4l-2.2 3.2zM224.8 59.6h4.4l-2.2 3.2zM225 69.8h4.4l-2.2 3.2zM225.2 66.6h4.4l-2.2 3.2zM225.4 69.8h4.4l-2.2 3.2zM225.5 72.9h4.4l-2.2 3.2zM225.7 77.7h4.4l-2.2 3.2zM225.9 69.9h4.4l-2.2 3.2zM226.1 71.5h4.4l-2.2 3.2zM226.3 78h4.4l-2.2 3.2zM226.5 77.3h4.4l-2.2 3.2zM226.6 78.7h4.4l-2.2 3.2zM226.8 77.4h4.4l-2.2 3.2zM227 75.3h4.4l-2.2 3.2zM227.2 74.7h4.4l-2.2 3.2zM227.4 75.3h4.4l-2.2 3.2zM227.6 82h4.4l-2.2 3.2zM227.7 85.2h4.4l-2.2 3.2zM227.9 87.9h4.4l-2.2 3.2zM228.1 75.2h4.4l-2.2 3.2zM228.3 79.3h4.4l-2.2 3.2zM228.5 81h4.4l-2.2 3.2zM228.7 81h4.4l-2.2 3.2zM228.8 77.5h4.4l-2.2 3.2zM229 99h4.4l-2.2 3.2zM229.2 90.4h4.4l-2.2 3.2zM229.4 83.9h4.4l-2.2 3.2zM229.6 83.5h4.4l-2.2 3.2zM229.8 86.2h4.4l-2.2 3.2zM229.9 82h4.4l-2.2 3.2zM230.1 86.7h4.4l-2.2 3.2zM230.3 92.3h4.4l-2.2 3.2zM230.5 97h4.4l-2.2 3.2zM230.7 94.7h4.4l-2.2 3.2zM230.9 97.4h4.4l-2.2 3.2zM231 85.4h4.4l-2.2 3.2zM231.2 80.5h4.4l-2.2 3.2zM231.4 100.4h4.4l-2.2 3.2zM231.6 96.4h4.4l-2.2 3.2zM231.8 96.2h4.4l-2.2 3.2zM232 104.2h4.4l-2.2 3.2zM232.1 94.5h4.4l-2.2 3.2zM232.3 95.4h4.4l-2.2 3.2zM232.5 97.2h4.4l-2.2 3.2zM232.7 107.5h4.4l-2.2 3.2zM232.9 105.7h4.4l-2.2 3.2zM233.1 95.8h4.4l-2.2 3.2zM233.2 110.2h4.4l-2.2 3.2zM233.4 104.6h4.4l-2.2 3.2zM233.6 107h4.4l-2.2 3.2zM233.8 103.1h4.4l-2.2 3.2zM234 114.2h4.4l-2.2 3.2zM234.2 109.4h4.4l-2.2 3.2zM234.3 113.5h4.4l-2.2 3.2zM234.5 105.3h4.4l-2.2 3.2zM234.7 112.5h4.4l-2.2 3.2zM234.9 110.9h4.4l-2.2 3.2zM235.1 110.3h4.4l-2.2 3.2zM235.3 108.7h4.4l-2.2 3.2zM235.4 109.8h4.4l-2.2 3.2zM235.6 108.6h4.4l-2.2 3.2zM235.8 111.2h4.4l-2.2 3.2zM236 114.2h4.4l-2.2 3.2zM236.2 117.1h4.4l-2.2 3.2zM236.4 109.7h4.4l-2.2 3.2zM236.5 112.2h4.4l-2.2 3.2zM236.7 114.4h4.4l-2.2 3.2zM236.9 106.8h4.4l-2.2 3.2zM237.1 116.7h4.4l-2.2 3.2zM237.3 117.3h4.4l-2.2 3.2zM237.5 118.2h4.4l-2.2 3.2zM237.6 120.9h4.4l-2.2 3.2zM237.8 123.4h4.4l-2.2 3.2zM238 123.4h4.4l-2.2 3.2zM238.2 122h4.4l-2.2 3.2zM238.4 123.7h4.4l-2.2 3.2zM238.6 119.2h4.4l-2.2 3.2zM238.7 119.2h4.4l-2.2 3.2zM238.9 125.4h4.4l-2.2 3.2zM239.1 125.6h4.4l-2.2 3.2zM239.3 131.9h4.4l-2.2 3.2zM239.5 123.8h4.4l-2.2 3.2zM239.6 121.7h4.4l-2.2 3.2zM239.8 126.7h4.4l-2.2 3.2zM240 123.4h4.4l-2.2 3.2zM240.2 123.6h4.4l-2.2 3.2zM240.4 132h4.4l-2.2 3.2zM240.6 139h4.4l-2.2 3.2zM240.7 129.5h4.4l-2.2 3.2zM240.9 126.4h4.4l-2.2 3.2zM241.1 130.1h4.4l-2.2 3.2zM241.3 129.5h4.4l-2.2 3.2zM241.5 125.4h4.4l-2.2 3.2zM241.7 133.5h4.4l-2.2 3.2zM241.8 132.3h4.4l-2.2 3.2zM242 135.8h4.4l-2.2 3.2zM242.2 130.1h4.4l-2.2 3.2zM242.4 132.4h4.4l-2.2 3.2zM242.6 132.5h4.4l-2.2 3.2zM242.8 127.5h4.4l-2.2 3.2zM242.9 142.2h4.4l-2.2 3.2zM243.1 122h4.4l-2.2 3.2zM243.3 130.6h4.4l-2.2 3.2zM243.5 133.7h4.4l-2.2 3.2zM243.7 130h4.4l-2.2 3.2zM243.9 136.9h4.4l-2.2 3.2zM244 134.3h4.4l-2.2 3.2zM244.2 136.5h4.4l-2.2 3.2zM244.4 137.2h4.4l-2.2 3.2zM244.6 137h4.4l-2.2 3.2zM244.8 137.4h4.4l-2.2 3.2zM245 136.8h4.4l-2.2 3.2zM245.1 139h4.4l-2.2 3.2zM245.3 140.5h4.4l-2.2 3.2zM245.5 137.3h4.4l-2.2 3.2zM245.7 136.9h4.4l-2.2 3.2zM245.9 137.3h4.4l-2.2 3.2zM246.1 139.8h4.4l-2.2 3.2zM246.2 137.9h4.4l-2.2 3.2zM246.4 138h4.4l-2.2 3.2zM246.6 134.6h4.4l-2.2 3.2zM246.8 146h4.4l-2.2 3.2zM247 133.1h4.4l-2.2 3.2zM247.2 145.6h4.4l-2.2 3.2zM247.3 143h4.4l-2.2 3.2zM247.5 143.9h4.4l-2.2 3.2zM247.7 141.6h4.4l-2.2 3.2zM247.9 142.6h4.4l-2.2 3.2zM248.1 142.1h4.4l-2.2 3.2zM248.3 143.3h4.4l-2.2 3.2zM248.4 144.2h4.4l-2.2 3.2zM248.6 146.6h4.4l-2.2 3.2zM248.8 138.7h4.4l-2.2 3.2zM249 143.6h4.4l-2.2 3.2zM249.2 147.5h4.4l-2.2 3.2zM249.4 146.9h4.4l-2.2 3.2zM249.5 139.3h4.4l-2.2 3.2zM249.7 143.8h4.4l-2.2 3.2zM249.9 143.8h4.4l-2.2 3.2zM250.1 143.9h4.4l-2.2 3.2zM250.3 136h4.4l-2.2 3.2zM250.5 148.1h4.4l-2.2 3.2zM250.6 138.4h4.4l-2.2 3.2zM250.8 150.7h4.4l-2.2 3.2zM251 146h4.4l-2.2 3.2zM251.2 143.7h4.4l-2.2 3.2zM251.4 146.2h4.4l-2.2 3.2zM251.6 144.8h4.4l-2.2 3.2zM251.7 142.7h4.4l-2.2 3.2zM251.9 144.3h4.4l-2.2 3.2zM252.1 145.8h4.4l-2.2 3.2zM252.3 142.3h4.4l-2.2 3.2zM252.5 147.3h4.4l-2.2 3.2zM252.7 148.7h4.4l-2.2 3.2zM252.8 148.7h4.4l-2.2 3.2zM253 151.8h4.4l-2.2 3.2zM253.2 149.6h4.4l-2.2 3.2zM253.4 147.9h4.4l-2.2 3.2zM253.6 149.9h4.4l-2.2 3.2zM253.8 146.1h4.4l-2.2 3.2zM253.9 147.3h4.4l-2.2 3.2zM254.1 150.7h4.4l-2.2 3.2zM254.3 152.4h4.4l-2.2 3.2zM254.5 145.4h4.4l-2.2 3.2zM254.7 142h4.4l-2.2 3.2zM254.9 158.3h4.4l-2.2 3.2zM255 153.1h4.4l-2.2 3.2zM255.2 152.8h4.4l-2.2 3.2zM255.4 150h4.4l-2.2 3.2zM255.6 148.1h4.4l-2.2 3.2zM255.8 145.5h4.4l-2.2 3.2zM256 144.6h4.4l-2.2 3.2zM256.1 152.3h4.4l-2.2 3.2zM256.3 151h4.4l-2.2 3.2zM256.5 149h4.4l-2.2 3.2zM256.7 144.7h4.4l-2.2 3.2zM256.9 146.6h4.4l-2.2 3.2zM257.1 146.4h4.4l-2.2 3.2zM257.2 147.5h4.4l-2.2 3.2zM257.4 139.6h4.4l-2.2 3.2zM257.6 149.3h4.4l-2.2 3.2zM257.8 153.6h4.4l-2.2 3.2zM258 147.1h4.4l-2.2 3.2zM258.2 148.9h4.4l-2.2 3.2zM258.3 149.7h4.4l-2.2 3.2zM258.5 145.8h4.4l-2.2 3.2zM258.7 150.3h4.4l-2.2 3.2zM258.9 146.4h4.4l-2.2 3.2zM259.1 147.6h4.4l-2.2 3.2zM259.3 149.8h4.4l-2.2 3.2zM259.4 148.9h4.4l-2.2 3.2zM259.6 149.4h4.4l-2.2 3.2zM259.8 144.3h4.4l-2.2 3.2zM260 151.4h4.4l-2.2 3.2zM260.2 145.8h4.4l-2.2 3.2zM260.4 151.9h4.4l-2.2 3.2zM260.5 147.8h4.4l-2.2 3.2zM260.7 145.6h4.4l-2.2 3.2zM260.9 149.1h4.4l-2.2 3.2zM261.1 146.1h4.4l-2.2 3.2zM261.3 147.7h4.4l-2.2 3.2zM261.5 149h4.4l-2.2 3.2zM261.6 151.9h4.4l-2.2 3.2zM261.8 152h4.4l-2.2 3.2zM262 151h4.4l-2.2 3.2zM262.2 148.7h4.4l-2.2 3.2zM262.4 144.8h4.4l-2.2 3.2zM262.6 148.9h4.4l-2.2 3.2zM262.7 148.6h4.4l-2.2 3.2zM262.9 149.2h4.4l-2.2 3.2zM263.1 148h4.4l-2.2 3.2zM263.3 148.1h4.4l-2.2 3.2zM263.5 152.2h4.4l-2.2 3.2zM263.6 145.6h4.4l-2.2 3.2zM263.8 149.8h4.4l-2.2 3.2zM264 153.7h4.4l-2.2 3.2zM264.2 147.4h4.4l-2.2 3.2zM264.4 146.8h4.4l-2.2 3.2zM264.6 149.2h4.4l-2.2 3.2zM264.7 148.8h4.4l-2.2 3.2zM264.9 150.7h4.4l-2.2 3.2zM265.1 157.1h4.4l-2.2 3.2zM265.3 149.5h4.4l-2.2 3.2zM265.5 151.7h4.4l-2.2 3.2zM265.7 148.2h4.4l-2.2 3.2zM265.8 148.5h4.4l-2.2 3.2zM266 150.9h4.4l-2.2 3.2zM266.2 146.5h4.4l-2.2 3.2zM266.4 153.7h4.4l-2.2 3.2zM266.6 148.8h4.4l-2.2 3.2zM266.8 149.6h4.4l-2.2 3.2zM266.9 146.9h4.4l-2.2 3.2zM267.1 148.8h4.4l-2.2 3.2zM267.3 147h4.4l-2.2 3.2zM267.5 148.6h4.4l-2.2 3.2zM267.7 144.7h4.4l-2.2 3.2zM267.9 150.1h4.4l-2.2 3.2zM268 155.6h4.4l-2.2 3.2zM268.2 144.4h4.4l-2.2 3.2zM268.4 155.6h4.4l-2.2 3.2zM268.6 149.8h4.4l-2.2 3.2zM268.8 152.9h4.4l-2.2 3.2zM269 147.1h4.4l-2.2 3.2zM269.1 156.5h4.4l-2.2 3.2zM269.3 146.9h4.4l-2.2 3.2zM269.5 150h4.4l-2.2 3.2zM269.7 155.1h4.4l-2.2 3.2zM269.9 146.3h4.4l-2.2 3.2zM270.1 143.1h4.4l-2.2 3.2zM270.2 149.9h4.4l-2.2 3.2zM270.4 147.9h4.4l-2.2 3.2zM270.6 147.3h4.4l-2.2 3.2zM270.8 147.5h4.4l-2.2 3.2zM271 145.8h4.4l-2.2 3.2zM271.2 154.6h4.4l-2.2 3.2zM271.3 154.1h4.4l-2.2 3.2zM271.5 146.1h4.4l-2.2 3.2zM271.7 150h4.4l-2.2 3.2zM271.9 148.9h4.4l-2.2 3.2zM272.1 153.7h4.4l-2.2 3.2zM272.3 147.7h4.4l-2.2 3.2zM272.4 155.4h4.4l-2.2 3.2zM272.6 150.3h4.4l-2.2 3.2zM272.8 147.9h4.4l-2.2 3.2zM273 150.1h4.4l-2.2 3.2zM273.2 148.5h4.4l-2.2 3.2zM273.4 157.3h4.4l-2.2 3.2zM273.5 150.8h4.4l-2.2 3.2zM273.7 148.8h4.4l-2.2 3.2zM273.9 150.6h4.4l-2.2 3.2zM274.1 154.9h4.4l-2.2 3.2zM274.3 147.3h4.4l-2.2 3.2zM274.5 145.1h4.4l-2.2 3.2zM274.6 154.3h4.4l-2.2 3.2zM274.8 153.5h4.4l-2.2 3.2zM275 148.8h4.4l-2.2 3.2zM275.2 149.9h4.4l-2.2 3.2zM275.4 153.6h4.4l-2.2 3.2zM275.6 141.6h4.4l-2.2 3.2zM275.7 154h4.4l-2.2 3.2zM275.9 149.4h4.4l-2.2 3.2zM276.1 152h4.4l-2.2 3.2zM276.3 149.7h4.4l-2.2 3.2zM276.5 159.4h4.4l-2.2 3.2zM276.7 147.8h4.4l-2.2 3.2zM276.8 153.1h4.4l-2.2 3.2zM277 141.5h4.4l-2.2 3.2zM277.2 149.6h4.4l-2.2 3.2zM277.4 151.9h4.4l-2.2 3.2zM277.6 144.5h4.4l-2.2 3.2zM277.8 142.9h4.4l-2.2 3.2zM277.9 149.5h4.4l-2.2 3.2zM278.1 152.3h4.4l-2.2 3.2zM278.3 152.7h4.4l-2.2 3.2zM278.5 146.8h4.4l-2.2 3.2zM278.7 149.9h4.4l-2.2 3.2zM278.9 144.3h4.4l-2.2 3.2zM279 154.1h4.4l-2.2 3.2zM279.2 145.5h4.4l-2.2 3.2zM279.4 152.4h4.4l-2.2 3.2zM279.6 147.5h4.4l-2.2 3.2zM279.8 147.2h4.4l-2.2 3.2zM280 153.2h4.4l-2.2 3.2zM280.1 145.2h4.4l-2.2 3.2zM280.3 152h4.4l-2.2 3.2zM280.5 146.6h4.4l-2.2 3.2zM280.7 144.9h4.4l-2.2 3.2zM280.9 144.9h4.4l-2.2 3.2zM281.1 151h4.4l-2.2 3.2zM281.2 147h4.4l-2.2 3.2zM281.4 146h4.4l-2.2 3.2zM281.6 142.3h4.4l-2.2 3.2zM281.8 153.3h4.4l-2.2 3.2zM282 150.1h4.4l-2.2 3.2zM282.2 147.7h4.4l-2.2 3.2zM282.3 148.9h4.4l-2.2 3.2zM282.5 135.9h4.4l-2.2 3.2zM282.7 144.4h4.4l-2.2 3.2zM282.9 146.4h4.4l-2.2 3.2zM283.1 146h4.4l-2.2 3.2zM283.3 143.6h4.4l-2.2 3.2zM283.4 145.9h4.4l-2.2 3.2zM283.6 142.6h4.4l-2.2 3.2zM283.8 142.5h4.4l-2.2 3.2zM284 140.4h4.4l-2.2 3.2zM284.2 144.5h4.4l-2.2 3.2zM284.4 141.5h4.4l-2.2 3.2zM284.5 141.9h4.4l-2.2 3.2zM284.7 147.7h4.4l-2.2 3.2zM284.9 142.8h4.4l-2.2 3.2zM285.1 142.5h4.4l-2.2 3.2zM285.3 137.3h4.4l-2.2 3.2zM285.5 140.3h4.4l-2.2 3.2zM285.6 144.9h4.4l-2.2 3.2zM285.8 143.2h4.4l-2.2 3.2zM286 141.3h4.4l-2.2 3.2zM286.2 140.3h4.4l-2.2 3.2zM286.4 140.8h4.4l-2.2 3.2zM286.6 141.6h4.4l-2.2 3.2zM286.7 138.9h4.4l-2.2 3.2zM286.9 131.5h4.4l-2.2 3.2zM287.1 146h4.4l-2.2 3.2zM287.3 142.9h4.4l-2.2 3.2zM287.5 138.4h4.4l-2.2 3.2zM287.6 143.3h4.4l-2.2 3.2zM287.8 134h4.4l-2.2 3.2zM288 142.3h4.4l-2.2 3.2zM288.2 138.8h4.4l-2.2 3.2zM288.4 140.4h4.4l-2.2 3.2zM288.6 136h4.4l-2.2 3.2zM288.7 137.4h4.4l-2.2 3.2zM288.9 138.5h4.4l-2.2 3.2zM289.1 139.8h4.4l-2.2 3.2zM289.3 139h4.4l-2.2 3.2zM289.5 137.2h4.4l-2.2 3.2zM289.7 133.5h4.4l-2.2 3.2zM289.8 141.1h4.4l-2.2 3.2zM290 135.7h4.4l-2.2 3.2zM290.2 134h4.4l-2.2 3.2zM290.4 133.5h4.4l-2.2 3.2zM290.6 130.3h4.4l-2.2 3.2zM290.8 131.6h4.4l-2.2 3.2zM290.9 128.7h4.4l-2.2 3.2zM291.1 134.4h4.4l-2.2 3.2zM291.3 133h4.4l-2.2 3.2zM291.5 134h4.4l-2.2 3.2zM291.7 128.8h4.4l-2.2 3.2zM291.9 131.4h4.4l-2.2 3.2zM292 130.5h4.4l-2.2 3.2zM292.2 136h4.4l-2.2 3.2zM292.4 127.4h4.4l-2.2 3.2zM292.6 127.2h4.4l-2.2 3.2zM292.8 136.8h4.4l-2.2 3.2zM293 133.7h4.4l-2.2 3.2zM293.1 127.1h4.4l-2.2 3.2zM293.3 137.2h4.4l-2.2 3.2zM293.5 137.8h4.4l-2.2 3.2zM293.7 136.7h4.4l-2.2 3.2zM293.9 125.9h4.4l-2.2 3.2zM294.1 133.6h4.4l-2.2 3.2zM294.2 130.4h4.4l-2.2 3.2zM294.4 132.7h4.4l-2.2 3.2zM294.6 128.5h4.4l-2.2 3.2zM294.8 140h4.4l-2.2 3.2zM295 131.9h4.4l-2.2 3.2zM295.2 135.5h4.4l-2.2 3.2zM295.3 137.5h4.4l-2.2 3.2zM295.5 137.1h4.4l-2.2 3.2zM295.7 136.6h4.4l-2.2 3.2zM295.9 133.3h4.4l-2.2 3.2zM296.1 136.6h4.4l-2.2 3.2zM296.3 135.5h4.4l-2.2 3.2zM296.4 123.6h4.4l-2.2 3.2zM296.6 140.2h4.4l-2.2 3.2zM296.8 135.2h4.4l-2.2 3.2zM297 135.9h4.4l-2.2 3.2zM297.2 136.7h4.4l-2.2 3.2zM297.4 133.8h4.4l-2.2 3.2zM297.5 134.8h4.4l-2.2 3.2zM297.7 133.2h4.4l-2.2 3.2zM297.9 142.1h4.4l-2.2 3.2zM298.1 143.7h4.4l-2.2 3.2zM298.3 140.5h4.4l-2.2 3.2zM298.5 136.7h4.4l-2.2 3.2zM298.6 144.9h4.4l-2.2 3.2zM298.8 139.9h4.4l-2.2 3.2zM299 136h4.4l-2.2 3.2zM299.2 135.3h4.4l-2.2 3.2zM299.4 142.2h4.4l-2.2 3.2zM299.6 146.5h4.4l-2.2 3.2zM299.7 139.9h4.4l-2.2 3.2zM299.9 140.2h4.4l-2.2 3.2zM300.1 141.6h4.4l-2.2 3.2zM300.3 139.9h4.4l-2.2 3.2zM300.5 141.1h4.4l-2.2 3.2zM300.7 144.4h4.4l-2.2 3.2zM300.8 141h4.4l-2.2 3.2zM301 146.4h4.4l-2.2 3.2zM301.2 140.5h4.4l-2.2 3.2zM301.4 146.1h4.4l-2.2 3.2zM301.6 145.1h4.4l-2.2 3.2zM301.8 142.1h4.4l-2.2 3.2zM301.9 143.4h4.4l-2.2 3.2zM302.1 143.5h4.4l-2.2 3.2zM302.3 150h4.4l-2.2 3.2zM302.5 142.3h4.4l-2.2 3.2zM302.7 148.7h4.4l-2.2 3.2zM302.9 148.3h4.4l-2.2 3.2zM303 144.2h4.4l-2.2 3.2zM303.2 154h4.4l-2.2 3.2zM303.4 138h4.4l-2.2 3.2zM303.6 146.4h4.4l-2.2 3.2zM303.8 146.1h4.4l-2.2 3.2zM304 145.9h4.4l-2.2 3.2zM304.1 150.4h4.4l-2.2 3.2zM304.3 144.7h4.4l-2.2 3.2zM304.5 145.5h4.4l-2.2 3.2zM304.7 149.8h4.4l-2.2 3.2zM304.9 145.9h4.4l-2.2 3.2zM305.1 143.1h4.4l-2.2 3.2zM305.2 148.2h4.4l-2.2 3.2zM305.4 146.2h4.4l-2.2 3.2zM305.6 144.8h4.4l-2.2 3.2zM305.8 148.4h4.4l-2.2 3.2zM306 144.3h4.4l-2.2 3.2zM306.2 143.7h4.4l-2.2 3.2zM306.3 146h4.4l-2.2 3.2zM306.5 146.3h4.4l-2.2 3.2zM306.7 147.1h4.4l-2.2 3.2zM306.9 143.3h4.4l-2.2 3.2zM307.1 152.5h4.4l-2.2 3.2zM307.3 149.3h4.4l-2.2 3.2zM307.4 147.7h4.4l-2.2 3.2zM307.6 148h4.4l-2.2 3.2zM307.8 139.6h4.4l-2.2 3.2zM308 150.3h4.4l-2.2 3.2zM308.2 144.3h4.4l-2.2 3.2zM308.4 149.1h4.4l-2.2 3.2zM308.5 143.9h4.4l-2.2 3.2zM308.7 150.7h4.4l-2.2 3.2zM308.9 146h4.4l-2.2 3.2zM309.1 147.1h4.4l-2.2 3.2zM309.3 152.5h4.4l-2.2 3.2zM309.5 150.9h4.4l-2.2 3.2zM309.6 143.6h4.4l-2.2 3.2zM309.8 144.3h4.4l-2.2 3.2zM310 148.6h4.4l-2.2 3.2zM310.2 147.3h4.4l-2.2 3.2zM310.4 150.6h4.4l-2.2 3.2zM310.6 146h4.4l-2.2 3.2zM310.7 142.4h4.4l-2.2 3.2zM310.9 145.4h4.4l-2.2 3.2zM311.1 147.7h4.4l-2.2 3.2zM311.3 150h4.4l-2.2 3.2zM311.5 150.6h4.4l-2.2 3.2zM311.7 154.9h4.4l-2.2 3.2zM311.8 149.2h4.4l-2.2 3.2zM312 147.9h4.4l-2.2 3.2zM312.2 150.8h4.4l-2.2 3.2zM312.4 148.3h4.4l-2.2 3.2zM312.6 147.2h4.4l-2.2 3.2zM312.7 147.2h4.4l-2.2 3.2zM312.9 151.5h4.4l-2.2 3.2zM313.1 156.5h4.4l-2.2 3.2zM313.3 152.8h4.4l-2.2 3.2zM313.5 143.9h4.4l-2.2 3.2zM313.7 152.2h4.4l-2.2 3.2zM313.8 143h4.4l-2.2 3.2zM314 147.9h4.4l-2.2 3.2zM314.2 150.8h4.4l-2.2 3.2zM314.4 144.9h4.4l-2.2 3.2zM314.6 142.7h4.4l-2.2 3.2zM314.8 146.8h4.4l-2.2 3.2zM314.9 154.3h4.4l-2.2 3.2zM315.1 152.5h4.4l-2.2 3.2zM315.3 146.5h4.4l-2.2 3.2zM315.5 149.7h4.4l-2.2 3.2zM315.7 149.7h4.4l-2.2 3.2zM315.9 150.3h4.4l-2.2 3.2zM316 147.2h4.4l-2.2 3.2zM316.2 153.8h4.4l-2.2 3.2zM316.4 148.3h4.4l-2.2 3.2zM316.6 152h4.4l-2.2 3.2zM316.8 144.4h4.4l-2.2 3.2zM317 150.8h4.4l-2.2 3.2zM317.1 150.1h4.4l-2.2 3.2zM317.3 153.8h4.4l-2.2 3.2zM317.5 141.8h4.4l-2.2 3.2zM317.7 151.5h4.4l-2.2 3.2zM317.9 152.3h4.4l-2.2 3.2zM318.1 149.1h4.4l-2.2 3.2zM318.2 153.9h4.4l-2.2 3.2zM318.4 156.3h4.4l-2.2 3.2zM318.6 152.7h4.4l-2.2 3.2zM318.8 152.5h4.4l-2.2 3.2zM319 154.2h4.4l-2.2 3.2zM319.2 151.4h4.4l-2.2 3.2zM319.3 153.9h4.4l-2.2 3.2zM319.5 152h4.4l-2.2 3.2zM319.7 148.1h4.4l-2.2 3.2zM319.9 147.1h4.4l-2.2 3.2zM320.1 153.8h4.4l-2.2 3.2zM320.3 152.1h4.4l-2.2 3.2zM320.4 148.3h4.4l-2.2 3.2zM320.6 150.5h4.4l-2.2 3.2zM320.8 154.9h4.4l-2.2 3.2zM321 145.3h4.4l-2.2 3.2zM321.2 147.8h4.4l-2.2 3.2zM321.4 152.6h4.4l-2.2 3.2zM321.5 153h4.4l-2.2 3.2zM321.7 147h4.4l-2.2 3.2zM321.9 147.6h4.4l-2.2 3.2zM322.1 151.1h4.4l-2.2 3.2zM322.3 157.8h4.4l-2.2 3.2zM322.5 150.7h4.4l-2.2 3.2zM322.6 143.7h4.4l-2.2 3.2zM322.8 153.8h4.4l-2.2 3.2zM323 150.7h4.4l-2.2 3.2zM323.2 149.4h4.4l-2.2 3.2zM323.4 147.3h4.4l-2.2 3.2zM323.6 154.4h4.4l-2.2 3.2zM323.7 151.6h4.4l-2.2 3.2zM323.9 152h4.4l-2.2 3.2zM324.1 151.9h4.4l-2.2 3.2zM324.3 152.2h4.4l-2.2 3.2zM324.5 153.4h4.4l-2.2 3.2zM324.7 156h4.4l-2.2 3.2zM324.8 147.7h4.4l-2.2 3.2zM325 150.7h4.4l-2.2 3.2zM325.2 149.5h4.4l-2.2 3.2zM325.4 155.9h4.4l-2.2 3.2zM325.6 150h4.4l-2.2 3.2zM325.8 146.1h4.4l-2.2 3.2zM325.9 150.8h4.4l-2.2 3.2zM326.1 148.7h4.4l-2.2 3.2zM326.3 148.7h4.4l-2.2 3.2zM326.5 149.5h4.4l-2.2 3.2zM326.7 147h4.4l-2.2 3.2zM326.9 145.1h4.4l-2.2 3.2zM327 156.7h4.4l-2.2 3.2zM327.2 150.5h4.4l-2.2 3.2zM327.4 148.1h4.4l-2.2 3.2zM327.6 152.8h4.4l-2.2 3.2zM327.8 154.9h4.4l-2.2 3.2zM328 145.6h4.4l-2.2 3.2zM328.1 149.5h4.4l-2.2 3.2zM328.3 151.7h4.4l-2.2 3.2zM328.5 148.4h4.4l-2.2 3.2zM328.7 152.2h4.4l-2.2 3.2zM328.9 147.2h4.4l-2.2 3.2zM329.1 148.9h4.4l-2.2 3.2zM329.2 150.5h4.4l-2.2 3.2zM329.4 152.2h4.4l-2.2 3.2zM329.6 151h4.4l-2.2 3.2zM329.8 148.8h4.4l-2.2 3.2zM330 149.8h4.4l-2.2 3.2zM330.2 144.6h4.4l-2.2 3.2zM330.3 161.7h4.4l-2.2 3.2zM330.5 149.7h4.4l-2.2 3.2zM330.7 150h4.4l-2.2 3.2zM330.9 151.7h4.4l-2.2 3.2zM331.1 152.6h4.4l-2.2 3.2zM331.3 151.9h4.4l-2.2 3.2zM331.4 148.9h4.4l-2.2 3.2zM331.6 145.9h4.4l-2.2 3.2zM331.8 150.4h4.4l-2.2 3.2zM332 148.5h4.4l-2.2 3.2zM332.2 149.2h4.4l-2.2 3.2zM332.4 150.9h4.4l-2.2 3.2zM332.5 151.6h4.4l-2.2 3.2zM332.7 154.7h4.4l-2.2 3.2zM332.9 150.4h4.4l-2.2 3.2zM333.1 145.7h4.4l-2.2 3.2zM333.3 152.6h4.4l-2.2 3.2zM333.5 153.6h4.4l-2.2 3.2zM333.6 146h4.4l-2.2 3.2zM333.8 152.7h4.4l-2.2 3.2zM334 151.4h4.4l-2.2 3.2zM334.2 149.3h4.4l-2.2 3.2zM334.4 151.4h4.4l-2.2 3.2zM334.6 152h4.4l-2.2 3.2zM334.7 152.6h4.4l-2.2 3.2zM334.9 154.3h4.4l-2.2 3.2zM335.1 150.8h4.4l-2.2 3.2zM335.3 150.8h4.4l-2.2 3.2zM335.5 158.1h4.4l-2.2 3.2zM335.7 147.7h4.4l-2.2 3.2zM335.8 150.1h4.4l-2.2 3.2zM336 149.1h4.4l-2.2 3.2zM336.2 154.7h4.4l-2.2 3.2zM336.4 154.2h4.4l-2.2 3.2zM336.6 146.9h4.4l-2.2 3.2zM336.7 154.5h4.4l-2.2 3.2zM336.9 147.3h4.4l-2.2 3.2zM337.1 158.6h4.4l-2.2 3.2zM337.3 148.9h4.4l-2.2 3.2zM337.5 154.2h4.4l-2.2 3.2zM337.7 150.1h4.4l-2.2 3.2zM337.8 153h4.4l-2.2 3.2zM338 148.7h4.4l-2.2 3.2zM338.2 151.3h4.4l-2.2 3.2zM338.4 150.9h4.4l-2.2 3.2zM338.6 151.2h4.4l-2.2 3.2zM338.8 153.2h4.4l-2.2 3.2zM338.9 149.6h4.4l-2.2 3.2zM339.1 149.9h4.4l-2.2 3.2zM339.3 147h4.4l-2.2 3.2zM339.5 150.5h4.4l-2.2 3.2zM339.7 149.4h4.4l-2.2 3.2zM339.9 153.5h4.4l-2.2 3.2zM340 154.2h4.4l-2.2 3.2zM340.2 148.7h4.4l-2.2 3.2zM340.4 152.2h4.4l-2.2 3.2zM340.6 157.5h4.4l-2.2 3.2zM340.8 150.3h4.4l-2.2 3.2zM341 147.4h4.4l-2.2 3.2zM341.1 158.2h4.4l-2.2 3.2zM341.3 152.5h4.4l-2.2 3.2zM341.5 153h4.4l-2.2 3.2zM341.7 158.3h4.4l-2.2 3.2zM341.9 148.5h4.4l-2.2 3.2zM342.1 151.8h4.4l-2.2 3.2zM342.2 141.3h4.4l-2.2 3.2zM342.4 152.3h4.4l-2.2 3.2zM342.6 152.9h4.4l-2.2 3.2zM342.8 148.6h4.4l-2.2 3.2zM343 148.4h4.4l-2.2 3.2zM343.2 150.4h4.4l-2.2 3.2zM343.3 150.2h4.4l-2.2 3.2zM343.5 155.6h4.4l-2.2 3.2zM343.7 150.2h4.4l-2.2 3.2zM343.9 150.4h4.4l-2.2 3.2zM344.1 150.3h4.4l-2.2 3.2zM344.3 146.1h4.4l-2.2 3.2zM344.4 149.4h4.4l-2.2 3.2zM344.6 146.8h4.4l-2.2 3.2zM344.8 151.1h4.4l-2.2 3.2zM345 144.2h4.4l-2.2 3.2zM345.2 147.3h4.4l-2.2 3.2zM345.4 151.3h4.4l-2.2 3.2zM345.5 144.3h4.4l-2.2 3.2zM345.7 145.8h4.4l-2.2 3.2zM345.9 155.4h4.4l-2.2 3.2zM346.1 146.3h4.4l-2.2 3.2zM346.3 150.1h4.4l-2.2 3.2zM346.5 151h4.4l-2.2 3.2zM346.6 146.8h4.4l-2.2 3.2zM346.8 144.9h4.4l-2.2 3.2zM347 154.3h4.4l-2.2 3.2zM347.2 148h4.4l-2.2 3.2zM347.4 151.1h4.4l-2.2 3.2zM347.6 147.1h4.4l-2.2 3.2zM347.7 150.3h4.4l-2.2 3.2zM347.9 145.2h4.4l-2.2 3.2zM348.1 144.9h4.4l-2.2 3.2zM348.3 145.7h4.4l-2.2 3.2zM348.5 146.8h4.4l-2.2 3.2zM348.7 146.7h4.4l-2.2 3.2zM348.8 147.4h4.4l-2.2 3.2zM349 150.5h4.4l-2.2 3.2zM349.2 146.5h4.4l-2.2 3.2zM349.4 150.8h4.4l-2.2 3.2zM349.6 145.9h4.4l-2.2 3.2zM349.8 149.7h4.4l-2.2 3.2zM349.9 154.2h4.4l-2.2 3.2zM350.1 152.6h4.4l-2.2 3.2zM350.3 141.3h4.4l-2.2 3.2zM350.5 152.3h4.4l-2.2 3.2zM350.7 141.6h4.4l-2.2 3.2zM350.9 151.1h4.4l-2.2 3.2zM351 146.6h4.4l-2.2 3.2zM351.2 147.6h4.4l-2.2 3.2zM351.4 143.5h4.4l-2.2 3.2zM351.6 149.1h4.4l-2.2 3.2zM351.8 148.2h4.4l-2.2 3.2zM352 144.3h4.4l-2.2 3.2zM352.1 144h4.4l-2.2 3.2zM352.3 148.3h4.4l-2.2 3.2zM352.5 148.7h4.4l-2.2 3.2zM352.7 149.4h4.4l-2.2 3.2zM352.9 144.2h4.4l-2.2 3.2zM353.1 145.2h4.4l-2.2 3.2zM353.2 147.9h4.4l-2.2 3.2zM353.4 147.5h4.4l-2.2 3.2zM353.6 148.2h4.4l-2.2 3.2zM353.8 145.1h4.4l-2.2 3.2zM354 142.3h4.4l-2.2 3.2zM354.2 145.2h4.4l-2.2 3.2zM354.3 145.6h4.4l-2.2 3.2zM354.5 142.4h4.4l-2.2 3.2zM354.7 145.2h4.4l-2.2 3.2zM354.9 141.1h4.4l-2.2 3.2zM355.1 144.3h4.4l-2.2 3.2zM355.3 141.5h4.4l-2.2 3.2zM355.4 149.7h4.4l-2.2 3.2zM355.6 146.7h4.4l-2.2 3.2zM355.8 143.7h4.4l-2.2 3.2zM356 138.7h4.4l-2.2 3.2zM356.2 138.8h4.4l-2.2 3.2zM356.4 144.5h4.4l-2.2 3.2zM356.5 141.8h4.4l-2.2 3.2zM356.7 143h4.4l-2.2 3.2zM356.9 133.7h4.4l-2.2 3.2zM357.1 137.2h4.4l-2.2 3.2zM357.3 142.1h4.4l-2.2 3.2zM357.5 141h4.4l-2.2 3.2zM357.6 137.4h4.4l-2.2 3.2zM357.8 138.9h4.4l-2.2 3.2zM358 143.8h4.4l-2.2 3.2zM358.2 139.9h4.4l-2.2 3.2zM358.4 143h4.4l-2.2 3.2zM358.6 146.3h4.4l-2.2 3.2zM358.7 142.2h4.4l-2.2 3.2zM358.9 141.5h4.4l-2.2 3.2zM359.1 139.2h4.4l-2.2 3.2zM359.3 144.9h4.4l-2.2 3.2zM359.5 136.6h4.4l-2.2 3.2zM359.7 137.7h4.4l-2.2 3.2zM359.8 141.1h4.4l-2.2 3.2zM360 136.7h4.4l-2.2 3.2zM360.2 144.3h4.4l-2.2 3.2zM360.4 139.4h4.4l-2.2 3.2zM360.6 143h4.4l-2.2 3.2zM360.7 140.5h4.4l-2.2 3.2zM360.9 140.8h4.4l-2.2 3.2zM361.1 141.7h4.4l-2.2 3.2zM361.3 135.7h4.4l-2.2 3.2zM361.5 138.5h4.4l-2.2 3.2zM361.7 140.5h4.4l-2.2 3.2zM361.8 148.9h4.4l-2.2 3.2zM362 144.6h4.4l-2.2 3.2zM362.2 144.5h4.4l-2.2 3.2zM362.4 139.2h4.4l-2.2 3.2zM362.6 145.2h4.4l-2.2 3.2zM362.8 146.4h4.4l-2.2 3.2zM362.9 146.5h4.4l-2.2 3.2zM363.1 150.8h4.4l-2.2 3.2zM363.3 138.7h4.4l-2.2 3.2zM363.5 139.6h4.4l-2.2 3.2zM363.7 142.2h4.4l-2.2 3.2zM363.9 140.1h4.4l-2.2 3.2zM364 143.3h4.4l-2.2 3.2zM364.2 144.8h4.4l-2.2 3.2zM364.4 143.2h4.4l-2.2 3.2zM364.6 143.6h4.4l-2.2 3.2zM364.8 144.6h4.4l-2.2 3.2zM365 145.8h4.4l-2.2 3.2zM365.1 141.4h4.4l-2.2 3.2zM365.3 141.4h4.4l-2.2 3.2zM365.5 147.1h4.4l-2.2 3.2zM365.7 142.5h4.4l-2.2 3.2zM365.9 141.1h4.4l-2.2 3.2zM366.1 144.5h4.4l-2.2 3.2zM366.2 142.6h4.4l-2.2 3.2zM366.4 144h4.4l-2.2 3.2zM366.6 143.5h4.4l-2.2 3.2zM366.8 145.6h4.4l-2.2 3.2zM367 146.5h4.4l-2.2 3.2zM367.2 141.3h4.4l-2.2 3.2zM367.3 140.1h4.4l-2.2 3.2zM367.5 148.7h4.4l-2.2 3.2zM367.7 141.8h4.4l-2.2 3.2zM367.9 139.2h4.4l-2.2 3.2zM368.1 138.2h4.4l-2.2 3.2zM368.3 143.8h4.4l-2.2 3.2zM368.4 142h4.4l-2.2 3.2zM368.6 138.5h4.4l-2.2 3.2zM368.8 141.2h4.4l-2.2 3.2zM369 140.8h4.4l-2.2 3.2zM369.2 147.1h4.4l-2.2 3.2zM369.4 145.2h4.4l-2.2 3.2zM369.5 144h4.4l-2.2 3.2zM369.7 140.3h4.4l-2.2 3.2zM369.9 143.6h4.4l-2.2 3.2zM370.1 146.1h4.4l-2.2 3.2zM370.3 144.6h4.4l-2.2 3.2zM370.5 147.3h4.4l-2.2 3.2zM370.6 144.4h4.4l-2.2 3.2zM370.8 146.2h4.4l-2.2 3.2zM371 145.5h4.4l-2.2 3.2zM371.2 142.4h4.4l-2.2 3.2zM371.4 148.2h4.4l-2.2 3.2zM371.6 145.2h4.4l-2.2 3.2zM371.7 146.6h4.4l-2.2 3.2zM371.9 140.9h4.4l-2.2 3.2zM372.1 140.9h4.4l-2.2 3.2zM372.3 143.6h4.4l-2.2 3.2zM372.5 141.7h4.4l-2.2 3.2zM372.7 145.9h4.4l-2.2 3.2zM372.8 145.3h4.4l-2.2 3.2zM373 147.7h4.4l-2.2 3.2zM373.2 145.8h4.4l-2.2 3.2zM373.4 140.6h4.4l-2.2 3.2zM373.6 146.8h4.4l-2.2 3.2zM373.8 142h4.4l-2.2 3.2zM373.9 141.7h4.4l-2.2 3.2zM374.1 144h4.4l-2.2 3.2zM374.3 143.8h4.4l-2.2 3.2zM374.5 146.9h4.4l-2.2 3.2zM374.7 152.2h4.4l-2.2 3.2zM374.9 144.9h4.4l-2.2 3.2zM375 148h4.4l-2.2 3.2zM375.2 142.9h4.4l-2.2 3.2zM375.4 144.5h4.4l-2.2 3.2zM375.6 141.9h4.4l-2.2 3.2zM375.8 142.1h4.4l-2.2 3.2zM376 147.4h4.4l-2.2 3.2zM376.1 144.7h4.4l-2.2 3.2zM376.3 144.6h4.4l-2.2 3.2zM376.5 140.8h4.4l-2.2 3.2zM376.7 148.3h4.4l-2.2 3.2zM376.9 142.5h4.4l-2.2 3.2zM377.1 141h4.4l-2.2 3.2zM377.2 142.9h4.4l-2.2 3.2zM377.4 144.9h4.4l-2.2 3.2zM377.6 145.1h4.4l-2.2 3.2zM377.8 147.2h4.4l-2.2 3.2zM378 139.5h4.4l-2.2 3.2zM378.2 141.3h4.4l-2.2 3.2zM378.3 147.2h4.4l-2.2 3.2zM378.5 149.3h4.4l-2.2 3.2zM378.7 140.5h4.4l-2.2 3.2zM378.9 142.1h4.4l-2.2 3.2zM379.1 137.6h4.4l-2.2 3.2zM379.3 139.7h4.4l-2.2 3.2zM379.4 139.5h4.4l-2.2 3.2zM379.6 141.7h4.4l-2.2 3.2zM379.8 138.4h4.4l-2.2 3.2zM380 144.7h4.4l-2.2 3.2zM380.2 141.7h4.4l-2.2 3.2zM380.4 141h4.4l-2.2 3.2zM380.5 144.5h4.4l-2.2 3.2zM380.7 140.8h4.4l-2.2 3.2zM380.9 137.8h4.4l-2.2 3.2zM381.1 141.6h4.4l-2.2 3.2zM381.3 148h4.4l-2.2 3.2zM381.5 141.7h4.4l-2.2 3.2zM381.6 142.9h4.4l-2.2 3.2zM381.8 140.6h4.4l-2.2 3.2zM382 140.5h4.4l-2.2 3.2zM382.2 142.6h4.4l-2.2 3.2zM382.4 133h4.4l-2.2 3.2zM382.6 137.2h4.4l-2.2 3.2zM382.7 139.1h4.4l-2.2 3.2zM382.9 140h4.4l-2.2 3.2zM383.1 145.2h4.4l-2.2 3.2zM383.3 153.3h4.4l-2.2 3.2zM383.5 142.5h4.4l-2.2 3.2zM383.7 141.8h4.4l-2.2 3.2zM383.8 142.5h4.4l-2.2 3.2zM384 145h4.4l-2.2 3.2zM384.2 137.3h4.4l-2.2 3.2zM384.4 138.8h4.4l-2.2 3.2zM384.6 140.9h4.4l-2.2 3.2zM384.7 141h4.4l-2.2 3.2zM384.9 134.2h4.4l-2.2 3.2zM385.1 141.2h4.4l-2.2 3.2zM385.3 131.6h4.4l-2.2 3.2zM385.5 142.1h4.4l-2.2 3.2zM385.7 142.2h4.4l-2.2 3.2zM385.8 132.7h4.4l-2.2 3.2zM386 141h4.4l-2.2 3.2zM386.2 140h4.4l-2.2 3.2zM386.4 137.4h4.4l-2.2 3.2zM386.6 142.1h4.4l-2.2 3.2zM386.8 145.3h4.4l-2.2 3.2zM386.9 140.6h4.4l-2.2 3.2zM387.1 135.7h4.4l-2.2 3.2zM387.3 134.5h4.4l-2.2 3.2zM387.5 135.2h4.4l-2.2 3.2zM387.7 135.6h4.4l-2.2 3.2zM387.9 144.4h4.4l-2.2 3.2zM388 140h4.4l-2.2 3.2zM388.2 138.4h4.4l-2.2 3.2zM388.4 141h4.4l-2.2 3.2zM388.6 138.4h4.4l-2.2 3.2zM388.8 138.3h4.4l-2.2 3.2zM389 135.6h4.4l-2.2 3.2zM389.1 136.1h4.4l-2.2 3.2zM389.3 138.1h4.4l-2.2 3.2zM389.5 134.3h4.4l-2.2 3.2zM389.7 142.9h4.4l-2.2 3.2zM389.9 138.1h4.4l-2.2 3.2zM390.1 136h4.4l-2.2 3.2zM390.2 142.6h4.4l-2.2 3.2zM390.4 134.3h4.4l-2.2 3.2zM390.6 140.7h4.4l-2.2 3.2zM390.8 137.6h4.4l-2.2 3.2zM391 143.1h4.4l-2.2 3.2zM391.2 135.5h4.4l-2.2 3.2zM391.3 135.9h4.4l-2.2 3.2zM391.5 134.5h4.4l-2.2 3.2zM391.7 133.1h4.4l-2.2 3.2zM391.9 137.7h4.4l-2.2 3.2zM392.1 133.5h4.4l-2.2 3.2zM392.3 137.7h4.4l-2.2 3.2zM392.4 134.7h4.4l-2.2 3.2zM392.6 139.8h4.4l-2.2 3.2zM392.8 128.6h4.4l-2.2 3.2zM393 137.7h4.4l-2.2 3.2zM393.2 136.4h4.4l-2.2 3.2zM393.4 136.2h4.4l-2.2 3.2zM393.5 134.2h4.4l-2.2 3.2zM393.7 141.5h4.4l-2.2 3.2zM393.9 134.7h4.4l-2.2 3.2zM394.1 137.3h4.4l-2.2 3.2zM394.3 135.1h4.4l-2.2 3.2zM394.5 134.7h4.4l-2.2 3.2zM394.6 136.1h4.4l-2.2 3.2zM394.8 137.8h4.4l-2.2 3.2zM395 132.3h4.4l-2.2 3.2zM395.2 134.2h4.4l-2.2 3.2zM395.4 131.3h4.4l-2.2 3.2zM395.6 136.9h4.4l-2.2 3.2zM395.7 133h4.4l-2.2 3.2zM395.9 133.4h4.4l-2.2 3.2zM396.1 137.7h4.4l-2.2 3.2zM396.3 135.7h4.4l-2.2 3.2zM396.5 137h4.4l-2.2 3.2zM396.7 135.3h4.4l-2.2 3.2zM396.8 137.1h4.4l-2.2 3.2zM397 136.1h4.4l-2.2 3.2zM397.2 132.5h4.4l-2.2 3.2zM397.4 136.6h4.4l-2.2 3.2zM397.6 135h4.4l-2.2 3.2zM397.8 135.4h4.4l-2.2 3.2zM397.9 137.1h4.4l-2.2 3.2zM398.1 134.6h4.4l-2.2 3.2zM398.3 133.2h4.4l-2.2 3.2zM398.5 140.2h4.4l-2.2 3.2zM398.7 142.3h4.4l-2.2 3.2zM398.9 135.7h4.4l-2.2 3.2zM399 140.4h4.4l-2.2 3.2zM399.2 138.2h4.4l-2.2 3.2zM399.4 135.2h4.4l-2.2 3.2zM399.6 134.7h4.4l-2.2 3.2zM399.8 136.5h4.4l-2.2 3.2zM400 136.2h4.4l-2.2 3.2zM400.1 136.6h4.4l-2.2 3.2zM400.3 137.4h4.4l-2.2 3.2zM400.5 134.5h4.4l-2.2 3.2zM400.7 140.6h4.4l-2.2 3.2zM400.9 134.7h4.4l-2.2 3.2zM401.1 135.1h4.4l-2.2 3.2zM401.2 141.2h4.4l-2.2 3.2zM401.4 140.9h4.4l-2.2 3.2zM401.6 143.1h4.4l-2.2 3.2zM401.8 139.2h4.4l-2.2 3.2zM402 135.6h4.4l-2.2 3.2zM402.2 142.6h4.4l-2.2 3.2zM402.3 139h4.4l-2.2 3.2zM402.5 139.1h4.4l-2.2 3.2zM402.7 137.1h4.4l-2.2 3.2zM402.9 141h4.4l-2.2 3.2zM403.1 132.9h4.4l-2.2 3.2zM403.3 141.7h4.4l-2.2 3.2zM403.4 134.4h4.4l-2.2 3.2zM403.6 143.2h4.4l-2.2 3.2zM403.8 136.2h4.4l-2.2 3.2zM404 143h4.4l-2.2 3.2zM404.2 148.6h4.4l-2.2 3.2zM404.4 140.6h4.4l-2.2 3.2zM404.5 138.2h4.4l-2.2 3.2zM404.7 147.6h4.4l-2.2 3.2zM404.9 140.8h4.4l-2.2 3.2zM405.1 139.1h4.4l-2.2 3.2zM405.3 146.3h4.4l-2.2 3.2zM405.5 134.4h4.4l-2.2 3.2zM405.6 138.7h4.4l-2.2 3.2zM405.8 139.4h4.4l-2.2 3.2zM406 140h4.4l-2.2 3.2zM406.2 137.8h4.4l-2.2 3.2zM406.4 146.3h4.4l-2.2 3.2zM406.6 147.1h4.4l-2.2 3.2zM406.7 144.1h4.4l-2.2 3.2zM406.9 142.4h4.4l-2.2 3.2zM407.1 136.9h4.4l-2.2 3.2zM407.3 146.2h4.4l-2.2 3.2zM407.5 143h4.4l-2.2 3.2zM407.7 147h4.4l-2.2 3.2zM407.8 148.4h4.4l-2.2 3.2zM408 145.8h4.4l-2.2 3.2zM408.2 139.7h4.4l-2.2 3.2zM408.4 143.3h4.4l-2.2 3.2zM408.6 150.1h4.4l-2.2 3.2zM408.7 147.2h4.4l-2.2 3.2zM408.9 150.7h4.4l-2.2 3.2zM409.1 140.4h4.4l-2.2 3.2zM409.3 146.7h4.4l-2.2 3.2zM409.5 146.7h4.4l-2.2 3.2zM409.7 142.7h4.4l-2.2 3.2zM409.8 145.7h4.4l-2.2 3.2zM410 150.5h4.4l-2.2 3.2zM410.2 149.4h4.4l-2.2 3.2zM410.4 146.5h4.4l-2.2 3.2zM410.6 149.1h4.4l-2.2 3.2zM410.8 151.7h4.4l-2.2 3.2zM410.9 145.5h4.4l-2.2 3.2zM411.1 149.5h4.4l-2.2 3.2zM411.3 151.8h4.4l-2.2 3.2zM411.5 147h4.4l-2.2 3.2zM411.7 152.8h4.4l-2.2 3.2zM411.9 149h4.4l-2.2 3.2zM412 152.5h4.4l-2.2 3.2zM412.2 152.2h4.4l-2.2 3.2zM412.4 150.4h4.4l-2.2 3.2zM412.6 149h4.4l-2.2 3.2zM412.8 148.2h4.4l-2.2 3.2zM413 150.6h4.4l-2.2 3.2zM413.1 150.9h4.4l-2.2 3.2zM413.3 154.3h4.4l-2.2 3.2zM413.5 150.3h4.4l-2.2 3.2zM413.7 151.7h4.4l-2.2 3.2zM413.9 155.5h4.4l-2.2 3.2zM414.1 151.9h4.4l-2.2 3.2zM414.2 152.4h4.4l-2.2 3.2zM414.4 155.7h4.4l-2.2 3.2zM414.6 151.6h4.4l-2.2 3.2zM414.8 152.6h4.4l-2.2 3.2zM415 153.7h4.4l-2.2 3.2zM415.2 151.4h4.4l-2.2 3.2zM415.3 148.8h4.4l-2.2 3.2zM415.5 147.9h4.4l-2.2 3.2zM415.7 151.5h4.4l-2.2 3.2zM415.9 155.3h4.4l-2.2 3.2zM416.1 155h4.4l-2.2 3.2zM416.3 160h4.4l-2.2 3.2zM416.4 156.7h4.4l-2.2 3.2zM416.6 150.8h4.4l-2.2 3.2zM416.8 148.7h4.4l-2.2 3.2zM417 151.4h4.4l-2.2 3.2zM417.2 151.6h4.4l-2.2 3.2zM417.4 149.5h4.4l-2.2 3.2zM417.5 155.6h4.4l-2.2 3.2zM417.7 151h4.4l-2.2 3.2zM417.9 154.8h4.4l-2.2 3.2zM418.1 155.4h4.4l-2.2 3.2zM418.3 148.6h4.4l-2.2 3.2zM418.5 152.3h4.4l-2.2 3.2zM418.6 156.9h4.4l-2.2 3.2zM418.8 155.9h4.4l-2.2 3.2zM419 154h4.4l-2.2 3.2zM419.2 150.7h4.4l-2.2 3.2zM419.4 151.9h4.4l-2.2 3.2zM419.6 154.1h4.4l-2.2 3.2zM419.7 157.4h4.4l-2.2 3.2zM419.9 155.4h4.4l-2.2 3.2zM420.1 153.9h4.4l-2.2 3.2zM420.3 154.8h4.4l-2.2 3.2zM420.5 156.4h4.4l-2.2 3.2zM420.7 149.6h4.4l-2.2 3.2zM420.8 151.7h4.4l-2.2 3.2zM421 154.5h4.4l-2.2 3.2zM421.2 157.8h4.4l-2.2 3.2zM421.4 157.5h4.4l-2.2 3.2zM421.6 152.5h4.4l-2.2 3.2zM421.8 154.8h4.4l-2.2 3.2zM421.9 152.8h4.4l-2.2 3.2zM422.1 153.8h4.4l-2.2 3.2zM422.3 155.3h4.4l-2.2 3.2zM422.5 153.9h4.4l-2.2 3.2zM422.7 153.5h4.4l-2.2 3.2zM422.9 151.9h4.4l-2.2 3.2zM423 150.8h4.4l-2.2 3.2zM423.2 154.6h4.4l-2.2 3.2zM423.4 155.7h4.4l-2.2 3.2zM423.6 156.8h4.4l-2.2 3.2zM423.8 153h4.4l-2.2 3.2zM424 153.3h4.4l-2.2 3.2zM424.1 158.6h4.4l-2.2 3.2zM424.3 156.4h4.4l-2.2 3.2zM424.5 157.7h4.4l-2.2 3.2zM424.7 153.8h4.4l-2.2 3.2zM424.9 153.4h4.4l-2.2 3.2zM425.1 152.3h4.4l-2.2 3.2zM425.2 159.8h4.4l-2.2 3.2zM425.4 152.4h4.4l-2.2 3.2zM425.6 150.8h4.4l-2.2 3.2zM425.8 153.4h4.4l-2.2 3.2zM426 158.8h4.4l-2.2 3.2zM426.2 155.5h4.4l-2.2 3.2zM426.3 156.5h4.4l-2.2 3.2zM426.5 155.8h4.4l-2.2 3.2zM426.7 155.3h4.4l-2.2 3.2zM426.9 155.1h4.4l-2.2 3.2zM427.1 151.8h4.4l-2.2 3.2zM427.3 160h4.4l-2.2 3.2zM427.4 155.2h4.4l-2.2 3.2zM427.6 158.8h4.4l-2.2 3.2zM427.8 151.4h4.4l-2.2 3.2zM428 157h4.4l-2.2 3.2zM428.2 152.5h4.4l-2.2 3.2zM428.4 152.2h4.4l-2.2 3.2zM428.5 156.3h4.4l-2.2 3.2zM428.7 158.4h4.4l-2.2 3.2zM428.9 159.3h4.4l-2.2 3.2zM429.1 159.2h4.4l-2.2 3.2zM429.3 155h4.4l-2.2 3.2zM429.5 157.8h4.4l-2.2 3.2zM429.6 154.1h4.4l-2.2 3.2zM429.8 154.3h4.4l-2.2 3.2zM430 156.4h4.4l-2.2 3.2zM430.2 155.4h4.4l-2.2 3.2zM430.4 158h4.4l-2.2 3.2zM430.6 150.9h4.4l-2.2 3.2zM430.7 158.8h4.4l-2.2 3.2zM430.9 154.2h4.4l-2.2 3.2zM431.1 159.7h4.4l-2.2 3.2zM431.3 158.8h4.4l-2.2 3.2zM431.5 152.8h4.4l-2.2 3.2zM431.7 155.7h4.4l-2.2 3.2zM431.8 157.6h4.4l-2.2 3.2zM432 153.7h4.4l-2.2 3.2zM432.2 152.5h4.4l-2.2 3.2zM432.4 155.1h4.4l-2.2 3.2zM432.6 157.8h4.4l-2.2 3.2zM432.7 158.3h4.4l-2.2 3.2zM432.9 154.8h4.4l-2.2 3.2zM433.1 158.1h4.4l-2.2 3.2zM433.3 159.8h4.4l-2.2 3.2zM433.5 158.3h4.4l-2.2 3.2zM433.7 154h4.4l-2.2 3.2zM433.8 153.7h4.4l-2.2 3.2zM434 156.7h4.4l-2.2 3.2zM434.2 158.1h4.4l-2.2 3.2zM434.4 157.1h4.4l-2.2 3.2zM434.6 154.2h4.4l-2.2 3.2zM434.8 153.5h4.4l-2.2 3.2zM434.9 159.3h4.4l-2.2 3.2zM435.1 155.6h4.4l-2.2 3.2zM435.3 164.3h4.4l-2.2 3.2zM435.5 152.9h4.4l-2.2 3.2zM435.7 155.1h4.4l-2.2 3.2zM435.9 154.3h4.4l-2.2 3.2zM436 160.8h4.4l-2.2 3.2zM436.2 159.2h4.4l-2.2 3.2zM436.4 154.7h4.4l-2.2 3.2zM436.6 150.9h4.4l-2.2 3.2zM436.8 159h4.4l-2.2 3.2zM437 156.3h4.4l-2.2 3.2zM437.1 153h4.4l-2.2 3.2zM437.3 152h4.4l-2.2 3.2zM437.5 157h4.4l-2.2 3.2zM437.7 155.4h4.4l-2.2 3.2zM437.9 156.4h4.4l-2.2 3.2zM438.1 157h4.4l-2.2 3.2zM438.2 155h4.4l-2.2 3.2zM438.4 155.3h4.4l-2.2 3.2zM438.6 157.7h4.4l-2.2 3.2zM438.8 155.7h4.4l-2.2 3.2zM439 155.2h4.4l-2.2 3.2zM439.2 157.6h4.4l-2.2 3.2zM439.3 150.8h4.4l-2.2 3.2zM439.5 159.2h4.4l-2.2 3.2zM439.7 157.1h4.4l-2.2 3.2zM439.9 154h4.4l-2.2 3.2zM440.1 155.5h4.4l-2.2 3.2zM440.3 159.2h4.4l-2.2 3.2zM440.4 157.4h4.4l-2.2 3.2zM440.6 151.3h4.4l-2.2 3.2zM440.8 153.3h4.4l-2.2 3.2zM441 156.4h4.4l-2.2 3.2zM441.2 160.6h4.4l-2.2 3.2zM441.4 157.9h4.4l-2.2 3.2zM441.5 155.4h4.4l-2.2 3.2zM441.7 157.4h4.4l-2.2 3.2zM441.9 156h4.4l-2.2 3.2zM442.1 155.1h4.4l-2.2 3.2zM442.3 156.9h4.4l-2.2 3.2zM442.5 150.3h4.4l-2.2 3.2zM442.6 158.5h4.4l-2.2 3.2zM442.8 157.3h4.4l-2.2 3.2zM443 154.8h4.4l-2.2 3.2zM443.2 153.7h4.4l-2.2 3.2zM443.4 152.7h4.4l-2.2 3.2zM443.6 156.6h4.4l-2.2 3.2zM443.7 156.3h4.4l-2.2 3.2zM443.9 156.3h4.4l-2.2 3.2zM444.1 163.4h4.4l-2.2 3.2zM444.3 150.1h4.4l-2.2 3.2zM444.5 154h4.4l-2.2 3.2zM444.7 153.8h4.4l-2.2 3.2zM444.8 158.3h4.4l-2.2 3.2zM445 154.7h4.4l-2.2 3.2zM445.2 153.4h4.4l-2.2 3.2zM445.4 156.4h4.4l-2.2 3.2zM445.6 156.9h4.4l-2.2 3.2zM445.8 160h4.4l-2.2 3.2zM445.9 156.5h4.4l-2.2 3.2zM446.1 153.8h4.4l-2.2 3.2zM446.3 154.5h4.4l-2.2 3.2zM446.5 153.7h4.4l-2.2 3.2zM446.7 157h4.4l-2.2 3.2zM446.9 157.9h4.4l-2.2 3.2zM447 155.2h4.4l-2.2 3.2zM447.2 155.4h4.4l-2.2 3.2zM447.4 159.3h4.4l-2.2 3.2zM447.6 156h4.4l-2.2 3.2zM447.8 157.9h4.4l-2.2 3.2zM448 152.9h4.4l-2.2 3.2zM448.1 154.1h4.4l-2.2 3.2zM448.3 150.2h4.4l-2.2 3.2zM448.5 152.1h4.4l-2.2 3.2zM448.7 156.6h4.4l-2.2 3.2zM448.9 158.9h4.4l-2.2 3.2zM449.1 155h4.4l-2.2 3.2zM449.2 152.6h4.4l-2.2 3.2zM449.4 155.9h4.4l-2.2 3.2zM449.6 158.6h4.4l-2.2 3.2zM449.8 154.9h4.4l-2.2 3.2zM450 158h4.4l-2.2 3.2zM450.2 155.4h4.4l-2.2 3.2zM450.3 152.4h4.4l-2.2 3.2zM450.5 153.2h4.4l-2.2 3.2zM450.7 154.9h4.4l-2.2 3.2zM450.9 161.5h4.4l-2.2 3.2zM451.1 157.1h4.4l-2.2 3.2zM451.3 154.9h4.4l-2.2 3.2zM451.4 156.3h4.4l-2.2 3.2zM451.6 156.1h4.4l-2.2 3.2zM451.8 154.4h4.4l-2.2 3.2zM452 155.2h4.4l-2.2 3.2zM452.2 154.8h4.4l-2.2 3.2zM452.4 157.4h4.4l-2.2 3.2zM452.5 159.5h4.4l-2.2 3.2zM452.7 158.9h4.4l-2.2 3.2zM452.9 154.6h4.4l-2.2 3.2zM453.1 156.9h4.4l-2.2 3.2zM453.3 153.6h4.4l-2.2 3.2zM453.5 152.6h4.4l-2.2 3.2zM453.6 155.6h4.4l-2.2 3.2zM453.8 157h4.4l-2.2 3.2zM454 155.2h4.4l-2.2 3.2zM454.2 157.5h4.4l-2.2 3.2zM454.4 157.5h4.4l-2.2 3.2zM454.6 157.3h4.4l-2.2 3.2zM454.7 155h4.4l-2.2 3.2zM454.9 151.8h4.4l-2.2 3.2zM455.1 163.2h4.4l-2.2 3.2zM455.3 154.1h4.4l-2.2 3.2zM455.5 157.2h4.4l-2.2 3.2zM455.7 156.6h4.4l-2.2 3.2zM455.8 154.4h4.4l-2.2 3.2zM456 160h4.4l-2.2 3.2zM456.2 157h4.4l-2.2 3.2zM456.4 155.2h4.4l-2.2 3.2zM456.6 154.2h4.4l-2.2 3.2zM456.8 152.8h4.4l-2.2 3.2zM456.9 152h4.4l-2.2 3.2zM457.1 156.7h4.4l-2.2 3.2zM457.3 154.1h4.4l-2.2 3.2zM457.5 154.1h4.4l-2.2 3.2zM457.7 156.5h4.4l-2.2 3.2zM457.8 154.3h4.4l-2.2 3.2zM458 156.9h4.4l-2.2 3.2zM458.2 153.5h4.4l-2.2 3.2zM458.4 153.8h4.4l-2.2 3.2zM458.6 157.5h4.4l-2.2 3.2zM458.8 153.4h4.4l-2.2 3.2zM458.9 156.7h4.4l-2.2 3.2zM459.1 156.4h4.4l-2.2 3.2zM459.3 155.1h4.4l-2.2 3.2zM459.5 150.9h4.4l-2.2 3.2zM459.7 151.7h4.4l-2.2 3.2zM459.9 152.3h4.4l-2.2 3.2zM460 151.8h4.4l-2.2 3.2zM460.2 157.3h4.4l-2.2 3.2zM460.4 152.8h4.4l-2.2 3.2zM460.6 151.9h4.4l-2.2 3.2zM460.8 153.7h4.4l-2.2 3.2zM461 154.8h4.4l-2.2 3.2zM461.1 150.7h4.4l-2.2 3.2zM461.3 156.5h4.4l-2.2 3.2zM461.5 156.8h4.4l-2.2 3.2zM461.7 153.4h4.4l-2.2 3.2zM461.9 157h4.4l-2.2 3.2zM462.1 151h4.4l-2.2 3.2zM462.2 153.5h4.4l-2.2 3.2zM462.4 154.5h4.4l-2.2 3.2zM462.6 155.1h4.4l-2.2 3.2zM462.8 157.8h4.4l-2.2 3.2zM463 154h4.4l-2.2 3.2zM463.2 152.3h4.4l-2.2 3.2zM463.3 155.4h4.4l-2.2 3.2zM463.5 155.2h4.4l-2.2 3.2zM463.7 156h4.4l-2.2 3.2zM463.9 154h4.4l-2.2 3.2zM464.1 155.2h4.4l-2.2 3.2zM464.3 152.3h4.4l-2.2 3.2zM464.4 156.2h4.4l-2.2 3.2zM464.6 153.1h4.4l-2.2 3.2zM464.8 153.2h4.4l-2.2 3.2zM465 157.7h4.4l-2.2 3.2zM465.2 152.8h4.4l-2.2 3.2zM465.4 154.7h4.4l-2.2 3.2zM465.5 156.1h4.4l-2.2 3.2zM465.7 153.9h4.4l-2.2 3.2zM465.9 157h4.4l-2.2 3.2zM466.1 153.2h4.4l-2.2 3.2zM466.3 157.2h4.4l-2.2 3.2zM466.5 150.7h4.4l-2.2 3.2zM466.6 151.2h4.4l-2.2 3.2zM466.8 154.8h4.4l-2.2 3.2zM467 158.2h4.4l-2.2 3.2zM467.2 161.5h4.4l-2.2 3.2zM467.4 152.4h4.4l-2.2 3.2zM467.6 154.5h4.4l-2.2 3.2zM467.7 153.3h4.4l-2.2 3.2zM467.9 149.1h4.4l-2.2 3.2zM468.1 156.3h4.4l-2.2 3.2zM468.3 152.9h4.4l-2.2 3.2zM468.5 160.4h4.4l-2.2 3.2zM468.7 155.2h4.4l-2.2 3.2zM468.8 153.1h4.4l-2.2 3.2zM469 152.7h4.4l-2.2 3.2zM469.2 153.9h4.4l-2.2 3.2zM469.4 155.6h4.4l-2.2 3.2zM469.6 153.1h4.4l-2.2 3.2zM469.8 161.5h4.4l-2.2 3.2zM469.9 154.9h4.4l-2.2 3.2zM470.1 151.5h4.4l-2.2 3.2zM470.3 154.5h4.4l-2.2 3.2zM470.5 157.2h4.4l-2.2 3.2zM470.7 155.4h4.4l-2.2 3.2zM470.9 153.5h4.4l-2.2 3.2zM471 152.6h4.4l-2.2 3.2zM471.2 152.3h4.4l-2.2 3.2zM471.4 151.3h4.4l-2.2 3.2zM471.6 152.9h4.4l-2.2 3.2zM471.8 154.9h4.4l-2.2 3.2zM472 152.8h4.4l-2.2 3.2zM472.1 158.3h4.4l-2.2 3.2zM472.3 155.2h4.4l-2.2 3.2zM472.5 153.1h4.4l-2.2 3.2zM472.7 154.1h4.4l-2.2 3.2zM472.9 157.9h4.4l-2.2 3.2zM473.1 149.8h4.4l-2.2 3.2zM473.2 155.2h4.4l-2.2 3.2zM473.4 160.9h4.4l-2.2 3.2zM473.6 156.7h4.4l-2.2 3.2zM473.8 151.8h4.4l-2.2 3.2zM474 154.4h4.4l-2.2 3.2zM474.2 153.5h4.4l-2.2 3.2zM474.3 161.1h4.4l-2.2 3.2zM474.5 152.4h4.4l-2.2 3.2zM474.7 153.4h4.4l-2.2 3.2zM474.9 153.2h4.4l-2.2 3.2zM475.1 150.4h4.4l-2.2 3.2zM475.3 145.7h4.4l-2.2 3.2zM475.4 153.4h4.4l-2.2 3.2zM475.6 155.3h4.4l-2.2 3.2zM475.8 152.9h4.4l-2.2 3.2zM476 155.2h4.4l-2.2 3.2zM476.2 155.9h4.4l-2.2 3.2zM476.4 155.7h4.4l-2.2 3.2zM476.5 149.7h4.4l-2.2 3.2zM476.7 157.8h4.4l-2.2 3.2zM476.9 156.1h4.4l-2.2 3.2zM477.1 156h4.4l-2.2 3.2zM477.3 153.9h4.4l-2.2 3.2zM477.5 153.9h4.4l-2.2 3.2zM477.6 152.5h4.4l-2.2 3.2zM477.8 155.7h4.4l-2.2 3.2zM478 156.2h4.4l-2.2 3.2zM478.2 152.4h4.4l-2.2 3.2zM478.4 155.9h4.4l-2.2 3.2zM478.6 152.7h4.4l-2.2 3.2zM478.7 155.4h4.4l-2.2 3.2zM478.9 153.5h4.4l-2.2 3.2zM479.1 156h4.4l-2.2 3.2zM479.3 158.7h4.4l-2.2 3.2zM479.5 154.4h4.4l-2.2 3.2zM479.7 152.6h4.4l-2.2 3.2zM479.8 152.7h4.4l-2.2 3.2zM480 155.4h4.4l-2.2 3.2zM480.2 152.5h4.4l-2.2 3.2zM480.4 158h4.4l-2.2 3.2zM480.6 154.5h4.4l-2.2 3.2zM480.8 156.1h4.4l-2.2 3.2zM480.9 152.4h4.4l-2.2 3.2zM481.1 151.3h4.4l-2.2 3.2zM481.3 151.9h4.4l-2.2 3.2zM481.5 154.7h4.4l-2.2 3.2zM481.7 151.8h4.4l-2.2 3.2zM481.8 155.5h4.4l-2.2 3.2zM482 148.5h4.4l-2.2 3.2zM482.2 152h4.4l-2.2 3.2zM482.4 153.3h4.4l-2.2 3.2zM482.6 149.1h4.4l-2.2 3.2zM482.8 152.2h4.4l-2.2 3.2zM482.9 149.9h4.4l-2.2 3.2zM483.1 153.4h4.4l-2.2 3.2zM483.3 153.1h4.4l-2.2 3.2zM483.5 155.5h4.4l-2.2 3.2zM483.7 151.5h4.4l-2.2 3.2zM483.9 149.6h4.4l-2.2 3.2zM484 152.3h4.4l-2.2 3.2zM484.2 154.2h4.4l-2.2 3.2zM484.4 153.9h4.4l-2.2 3.2zM484.6 154.1h4.4l-2.2 3.2zM484.8 158.9h4.4l-2.2 3.2zM485 152.7h4.4l-2.2 3.2zM485.1 153.1h4.4l-2.2 3.2zM485.3 151.5h4.4l-2.2 3.2zM485.5 152.1h4.4l-2.2 3.2zM485.7 156.2h4.4l-2.2 3.2zM485.9 154.5h4.4l-2.2 3.2zM486.1 147h4.4l-2.2 3.2zM486.2 156.6h4.4l-2.2 3.2zM486.4 148.6h4.4l-2.2 3.2zM486.6 152.5h4.4l-2.2 3.2zM486.8 157.7h4.4l-2.2 3.2zM487 153.9h4.4l-2.2 3.2zM487.2 155h4.4l-2.2 3.2zM487.3 155.7h4.4l-2.2 3.2zM487.5 154.3h4.4l-2.2 3.2zM487.7 150.4h4.4l-2.2 3.2zM487.9 154.5h4.4l-2.2 3.2zM488.1 151.8h4.4l-2.2 3.2zM488.3 147.4h4.4l-2.2 3.2zM488.4 152.8h4.4l-2.2 3.2zM488.6 154.9h4.4l-2.2 3.2zM488.8 153.8h4.4l-2.2 3.2zM489 153.5h4.4l-2.2 3.2zM489.2 157.9h4.4l-2.2 3.2zM489.4 154.2h4.4l-2.2 3.2zM489.5 155.8h4.4l-2.2 3.2zM489.7 154.3h4.4l-2.2 3.2zM489.9 157.6h4.4l-2.2 3.2zM490.1 152.5h4.4l-2.2 3.2zM490.3 156.4h4.4l-2.2 3.2zM490.5 158h4.4l-2.2 3.2zM490.6 152.5h4.4l-2.2 3.2zM490.8 156.1h4.4l-2.2 3.2zM491 150h4.4l-2.2 3.2zM491.2 154.2h4.4l-2.2 3.2zM491.4 156.6h4.4l-2.2 3.2zM491.6 151.3h4.4l-2.2 3.2zM491.7 148.9h4.4l-2.2 3.2zM491.9 153.5h4.4l-2.2 3.2zM492.1 152h4.4l-2.2 3.2zM492.3 153.9h4.4l-2.2 3.2zM492.5 154.1h4.4l-2.2 3.2zM492.7 155.5h4.4l-2.2 3.2zM492.8 157.3h4.4l-2.2 3.2zM493 154.5h4.4l-2.2 3.2zM493.2 149.5h4.4l-2.2 3.2zM493.4 155h4.4l-2.2 3.2zM493.6 154.3h4.4l-2.2 3.2zM493.8 153.7h4.4l-2.2 3.2zM493.9 157.3h4.4l-2.2 3.2zM494.1 154h4.4l-2.2 3.2zM494.3 152.4h4.4l-2.2 3.2zM494.5 154.5h4.4l-2.2 3.2zM494.7 146.6h4.4l-2.2 3.2zM494.9 155.7h4.4l-2.2 3.2zM495 153.5h4.4l-2.2 3.2zM495.2 160.5h4.4l-2.2 3.2zM495.4 155h4.4l-2.2 3.2zM495.6 154.2h4.4l-2.2 3.2zM495.8 153.8h4.4l-2.2 3.2zM496 150.3h4.4l-2.2 3.2zM496.1 153.1h4.4l-2.2 3.2zM496.3 154h4.4l-2.2 3.2zM496.5 155.7h4.4l-2.2 3.2zM496.7 154.3h4.4l-2.2 3.2zM496.9 155h4.4l-2.2 3.2zM497.1 155h4.4l-2.2 3.2zM497.2 151.9h4.4l-2.2 3.2zM497.4 154h4.4l-2.2 3.2zM497.6 152.7h4.4l-2.2 3.2zM497.8 150.1h4.4l-2.2 3.2zM498 146.9h4.4l-2.2 3.2zM498.2 155.3h4.4l-2.2 3.2zM498.3 156.8h4.4l-2.2 3.2zM498.5 156.7h4.4l-2.2 3.2zM498.7 151.1h4.4l-2.2 3.2zM498.9 156.9h4.4l-2.2 3.2zM499.1 157.1h4.4l-2.2 3.2zM499.3 151.3h4.4l-2.2 3.2zM499.4 154.4h4.4l-2.2 3.2zM499.6 157.4h4.4l-2.2 3.2zM499.8 153.4h4.4l-2.2 3.2zM500 156.1h4.4l-2.2 3.2zM500.2 151.6h4.4l-2.2 3.2zM500.4 152.3h4.4l-2.2 3.2zM500.5 155.3h4.4l-2.2 3.2zM500.7 152.7h4.4l-2.2 3.2zM500.9 153.7h4.4l-2.2 3.2zM501.1 153.3h4.4l-2.2 3.2zM501.3 150.5h4.4l-2.2 3.2zM501.5 156.8h4.4l-2.2 3.2zM501.6 152.7h4.4l-2.2 3.2zM501.8 152.2h4.4l-2.2 3.2zM502 151.9h4.4l-2.2 3.2zM502.2 153.2h4.4l-2.2 3.2zM502.4 150.7h4.4l-2.2 3.2zM502.6 156.7h4.4l-2.2 3.2zM502.7 152.2h4.4l-2.2 3.2zM502.9 155h4.4l-2.2 3.2zM503.1 150.8h4.4l-2.2 3.2zM503.3 150.4h4.4l-2.2 3.2zM503.5 149.1h4.4l-2.2 3.2zM503.7 153.5h4.4l-2.2 3.2zM503.8 149.6h4.4l-2.2 3.2zM504 156.5h4.4l-2.2 3.2zM504.2 152.1h4.4l-2.2 3.2zM504.4 155.1h4.4l-2.2 3.2zM504.6 151.9h4.4l-2.2 3.2zM504.8 154.9h4.4l-2.2 3.2zM504.9 150.3h4.4l-2.2 3.2zM505.1 150.1h4.4l-2.2 3.2zM505.3 154.3h4.4l-2.2 3.2zM505.5 151.4h4.4l-2.2 3.2zM505.7 155.4h4.4l-2.2 3.2zM505.8 151h4.4l-2.2 3.2zM506 154h4.4l-2.2 3.2zM506.2 150.7h4.4l-2.2 3.2zM506.4 148.4h4.4l-2.2 3.2zM506.6 156.2h4.4l-2.2 3.2zM506.8 152.1h4.4l-2.2 3.2zM506.9 155.1h4.4l-2.2 3.2zM507.1 153.1h4.4l-2.2 3.2zM507.3 148.4h4.4l-2.2 3.2zM507.5 153.6h4.4l-2.2 3.2zM507.7 155.3h4.4l-2.2 3.2zM507.9 155.8h4.4l-2.2 3.2zM508 156.6h4.4l-2.2 3.2zM508.2 153.5h4.4l-2.2 3.2zM508.4 152.2h4.4l-2.2 3.2zM508.6 152.6h4.4l-2.2 3.2zM508.8 149.6h4.4l-2.2 3.2zM509 154.3h4.4l-2.2 3.2zM509.1 155.5h4.4l-2.2 3.2zM509.3 153.3h4.4l-2.2 3.2zM509.5 150.4h4.4l-2.2 3.2zM509.7 153.9h4.4l-2.2 3.2zM509.9 151h4.4l-2.2 3.2zM510.1 155.4h4.4l-2.2 3.2zM510.2 150.8h4.4l-2.2 3.2zM510.4 151h4.4l-2.2 3.2zM510.6 151.4h4.4l-2.2 3.2zM510.8 149.7h4.4l-2.2 3.2zM511 150h4.4l-2.2 3.2zM511.2 151.5h4.4l-2.2 3.2zM511.3 146h4.4l-2.2 3.2zM511.5 157.1h4.4l-2.2 3.2zM511.7 153h4.4l-2.2 3.2zM511.9 152.8h4.4l-2.2 3.2zM512.1 148.4h4.4l-2.2 3.2zM512.3 152.5h4.4l-2.2 3.2zM512.4 152h4.4l-2.2 3.2zM512.6 152.2h4.4l-2.2 3.2zM512.8 148.3h4.4l-2.2 3.2zM513 151.7h4.4l-2.2 3.2zM513.2 147.2h4.4l-2.2 3.2zM513.4 151.4h4.4l-2.2 3.2zM513.5 149.7h4.4l-2.2 3.2zM513.7 150.4h4.4l-2.2 3.2zM513.9 151h4.4l-2.2 3.2zM514.1 153.9h4.4l-2.2 3.2zM514.3 154.8h4.4l-2.2 3.2zM514.5 151.9h4.4l-2.2 3.2zM514.6 149.1h4.4l-2.2 3.2zM514.8 155.5h4.4l-2.2 3.2zM515 148.2h4.4l-2.2 3.2zM515.2 149.4h4.4l-2.2 3.2zM515.4 151.2h4.4l-2.2 3.2zM515.6 149.8h4.4l-2.2 3.2zM515.7 155h4.4l-2.2 3.2zM515.9 152.6h4.4l-2.2 3.2zM516.1 154.3h4.4l-2.2 3.2zM516.3 150.9h4.4l-2.2 3.2zM516.5 153.8h4.4l-2.2 3.2zM516.7 151h4.4l-2.2 3.2zM516.8 151.2h4.4l-2.2 3.2zM517 152.3h4.4l-2.2 3.2zM517.2 152.5h4.4l-2.2 3.2zM517.4 154h4.4l-2.2 3.2zM517.6 151h4.4l-2.2 3.2zM517.8 147.8h4.4l-2.2 3.2zM517.9 150.7h4.4l-2.2 3.2zM518.1 144.8h4.4l-2.2 3.2zM518.3 150.7h4.4l-2.2 3.2zM518.5 149.4h4.4l-2.2 3.2zM518.7 154.9h4.4l-2.2 3.2zM518.9 144.7h4.4l-2.2 3.2zM519 156.4h4.4l-2.2 3.2zM519.2 150.5h4.4l-2.2 3.2zM519.4 147.4h4.4l-2.2 3.2zM519.6 152.4h4.4l-2.2 3.2zM519.8 152.6h4.4l-2.2 3.2zM520 152.4h4.4l-2.2 3.2zM520.1 156.8h4.4l-2.2 3.2zM520.3 149.3h4.4l-2.2 3.2zM520.5 152.1h4.4l-2.2 3.2zM520.7 151.7h4.4l-2.2 3.2zM520.9 149.6h4.4l-2.2 3.2zM521.1 152h4.4l-2.2 3.2zM521.2 154.4h4.4l-2.2 3.2zM521.4 149.2h4.4l-2.2 3.2zM521.6 152.4h4.4l-2.2 3.2zM521.8 153.8h4.4l-2.2 3.2zM522 152.9h4.4l-2.2 3.2zM522.2 147.3h4.4l-2.2 3.2zM522.3 152h4.4l-2.2 3.2zM522.5 150.3h4.4l-2.2 3.2zM522.7 154.4h4.4l-2.2 3.2zM522.9 151h4.4l-2.2 3.2zM523.1 156.2h4.4l-2.2 3.2zM523.3 148.3h4.4l-2.2 3.2zM523.4 152.6h4.4l-2.2 3.2zM523.6 149.2h4.4l-2.2 3.2zM523.8 155.8h4.4l-2.2 3.2zM524 155.3h4.4l-2.2 3.2zM524.2 149.1h4.4l-2.2 3.2zM524.4 153.3h4.4l-2.2 3.2zM524.5 151.4h4.4l-2.2 3.2zM524.7 147.5h4.4l-2.2 3.2zM524.9 148.9h4.4l-2.2 3.2zM525.1 151.8h4.4l-2.2 3.2zM525.3 152.8h4.4l-2.2 3.2zM525.5 150.7h4.4l-2.2 3.2zM525.6 152.3h4.4l-2.2 3.2zM525.8 152.4h4.4l-2.2 3.2zM526 152.4h4.4l-2.2 3.2zM526.2 148.8h4.4l-2.2 3.2zM526.4 152.1h4.4l-2.2 3.2zM526.6 153.1h4.4l-2.2 3.2zM526.7 148.1h4.4l-2.2 3.2zM526.9 155.6h4.4l-2.2 3.2zM527.1 155.5h4.4l-2.2 3.2zM527.3 152.3h4.4l-2.2 3.2zM527.5 157.1h4.4l-2.2 3.2zM527.7 150h4.4l-2.2 3.2zM527.8 149.7h4.4l-2.2 3.2zM528 150.5h4.4l-2.2 3.2zM528.2 150.3h4.4l-2.2 3.2zM528.4 156.7h4.4l-2.2 3.2zM528.6 152.3h4.4l-2.2 3.2zM528.8 152.1h4.4l-2.2 3.2zM528.9 153.1h4.4l-2.2 3.2zM529.1 156.2h4.4l-2.2 3.2zM529.3 152.7h4.4l-2.2 3.2zM529.5 151.5h4.4l-2.2 3.2zM529.7 153.1h4.4l-2.2 3.2zM529.8 155.6h4.4l-2.2 3.2zM530 152h4.4l-2.2 3.2zM530.2 156.1h4.4l-2.2 3.2zM530.4 153.4h4.4l-2.2 3.2zM530.6 152.3h4.4l-2.2 3.2zM530.8 154h4.4l-2.2 3.2zM530.9 161.1h4.4l-2.2 3.2zM531.1 151.9h4.4l-2.2 3.2zM531.3 156.4h4.4l-2.2 3.2zM531.5 155.4h4.4l-2.2 3.2zM531.7 153.6h4.4l-2.2 3.2zM531.9 153.4h4.4l-2.2 3.2zM532 155.3h4.4l-2.2 3.2zM532.2 154.9h4.4l-2.2 3.2zM532.4 154.4h4.4l-2.2 3.2zM532.6 155.1h4.4l-2.2 3.2zM532.8 151.5h4.4l-2.2 3.2zM533 152.1h4.4l-2.2 3.2zM533.1 151.4h4.4l-2.2 3.2zM533.3 153h4.4l-2.2 3.2zM533.5 153.4h4.4l-2.2 3.2zM533.7 153.1h4.4l-2.2 3.2zM533.9 155.3h4.4l-2.2 3.2zM534.1 151.8h4.4l-2.2 3.2zM534.2 153.6h4.4l-2.2 3.2zM534.4 156.3h4.4l-2.2 3.2zM534.6 158.3h4.4l-2.2 3.2zM534.8 154.5h4.4l-2.2 3.2zM535 157.3h4.4l-2.2 3.2zM535.2 157.8h4.4l-2.2 3.2zM535.3 152.1h4.4l-2.2 3.2zM535.5 155.2h4.4l-2.2 3.2zM535.7 152.2h4.4l-2.2 3.2zM535.9 153.8h4.4l-2.2 3.2zM536.1 155.8h4.4l-2.2 3.2zM536.3 151.8h4.4l-2.2 3.2zM536.4 156.2h4.4l-2.2 3.2zM536.6 154.6h4.4l-2.2 3.2zM536.8 154.5h4.4l-2.2 3.2zM537 156.4h4.4l-2.2 3.2zM537.2 153.2h4.4l-2.2 3.2zM537.4 151.2h4.4l-2.2 3.2zM537.5 155.3h4.4l-2.2 3.2zM537.7 153.6h4.4l-2.2 3.2zM537.9 154.9h4.4l-2.2 3.2zM538.1 152.9h4.4l-2.2 3.2zM538.3 153.3h4.4l-2.2 3.2zM538.5 153.2h4.4l-2.2 3.2zM538.6 152.6h4.4l-2.2 3.2zM538.8 153.8h4.4l-2.2 3.2zM539 153.9h4.4l-2.2 3.2zM539.2 155.9h4.4l-2.2 3.2zM539.4 163.3h4.4l-2.2 3.2zM539.6 154.5h4.4l-2.2 3.2zM539.7 152.3h4.4l-2.2 3.2zM539.9 157.5h4.4l-2.2 3.2zM540.1 153.3h4.4l-2.2 3.2zM540.3 154.1h4.4l-2.2 3.2zM540.5 155.5h4.4l-2.2 3.2zM540.7 156.5h4.4l-2.2 3.2zM540.8 156.6h4.4l-2.2 3.2zM541 157.1h4.4l-2.2 3.2zM541.2 156.3h4.4l-2.2 3.2zM541.4 159.2h4.4l-2.2 3.2zM541.6 158.7h4.4l-2.2 3.2zM541.8 155.5h4.4l-2.2 3.2zM541.9 156.3h4.4l-2.2 3.2zM542.1 153.7h4.4l-2.2 3.2zM542.3 158.5h4.4l-2.2 3.2zM542.5 156.6h4.4l-2.2 3.2zM542.7 161.5h4.4l-2.2 3.2zM542.9 155.6h4.4l-2.2 3.2zM543 160.8h4.4l-2.2 3.2zM543.2 155.2h4.4l-2.2 3.2zM543.4 153.5h4.4l-2.2 3.2zM543.6 154h4.4l-2.2 3.2zM543.8 158.3h4.4l-2.2 3.2zM544 159.9h4.4l-2.2 3.2zM544.1 155.6h4.4l-2.2 3.2zM544.3 160h4.4l-2.2 3.2zM544.5 156.6h4.4l-2.2 3.2zM544.7 156.7h4.4l-2.2 3.2zM544.9 157.2h4.4l-2.2 3.2zM545.1 161.8h4.4l-2.2 3.2zM545.2 158.7h4.4l-2.2 3.2zM545.4 158.8h4.4l-2.2 3.2zM545.6 154.7h4.4l-2.2 3.2zM545.8 158.6h4.4l-2.2 3.2zM546 158.9h4.4l-2.2 3.2zM546.2 162.1h4.4l-2.2 3.2zM546.3 156.4h4.4l-2.2 3.2zM546.5 156.8h4.4l-2.2 3.2zM546.7 156.4h4.4l-2.2 3.2zM546.9 157.1h4.4l-2.2 3.2zM547.1 160.2h4.4l-2.2 3.2zM547.3 156.9h4.4l-2.2 3.2zM547.4 161.7h4.4l-2.2 3.2zM547.6 158.9h4.4l-2.2 3.2zM547.8 156.8h4.4l-2.2 3.2zM548 156.3h4.4l-2.2 3.2zM548.2 155.8h4.4l-2.2 3.2zM548.4 155.7h4.4l-2.2 3.2zM548.5 161.7h4.4l-2.2 3.2zM548.7 161.2h4.4l-2.2 3.2zM548.9 156.9h4.4l-2.2 3.2zM549.1 158.2h4.4l-2.2 3.2zM549.3 163h4.4l-2.2 3.2zM549.5 157.7h4.4l-2.2 3.2zM549.6 159.9h4.4l-2.2 3.2zM549.8 160.7h4.4l-2.2 3.2zM550 159.1h4.4l-2.2 3.2zM550.2 159.2h4.4l-2.2 3.2zM550.4 158.9h4.4l-2.2 3.2zM550.6 160h4.4l-2.2 3.2zM550.7 156.2h4.4l-2.2 3.2zM550.9 159.9h4.4l-2.2 3.2zM551.1 160.3h4.4l-2.2 3.2zM551.3 156.9h4.4l-2.2 3.2zM551.5 161h4.4l-2.2 3.2zM551.7 157.9h4.4l-2.2 3.2zM551.8 154.1h4.4l-2.2 3.2zM552 155.7h4.4l-2.2 3.2zM552.2 160.4h4.4l-2.2 3.2zM552.4 162.3h4.4l-2.2 3.2zM552.6 159.2h4.4l-2.2 3.2zM552.8 156.9h4.4l-2.2 3.2zM552.9 159.9h4.4l-2.2 3.2zM553.1 162.4h4.4l-2.2 3.2zM553.3 160.2h4.4l-2.2 3.2zM553.5 156.9h4.4l-2.2 3.2zM553.7 161.4h4.4l-2.2 3.2zM553.8 159.9h4.4l-2.2 3.2zM554 159.9h4.4l-2.2 3.2zM554.2 160.5h4.4l-2.2 3.2zM554.4 161.6h4.4l-2.2 3.2zM554.6 160.1h4.4l-2.2 3.2zM554.8 158.1h4.4l-2.2 3.2zM554.9 160.1h4.4l-2.2 3.2zM555.1 160.6h4.4l-2.2 3.2zM555.3 163h4.4l-2.2 3.2zM555.5 157.5h4.4l-2.2 3.2zM555.7 160h4.4l-2.2 3.2zM555.9 158.3h4.4l-2.2 3.2zM556 160.9h4.4l-2.2 3.2zM556.2 159h4.4l-2.2 3.2zM556.4 153.3h4.4l-2.2 3.2zM556.6 162.5h4.4l-2.2 3.2zM556.8 158.8h4.4l-2.2 3.2zM557 157.8h4.4l-2.2 3.2zM557.1 156.8h4.4l-2.2 3.2zM557.3 157.8h4.4l-2.2 3.2zM557.5 157.3h4.4l-2.2 3.2zM557.7 159.6h4.4l-2.2 3.2zM557.9 160.6h4.4l-2.2 3.2zM558.1 160.1h4.4l-2.2 3.2zM558.2 161.1h4.4l-2.2 3.2zM558.4 158.4h4.4l-2.2 3.2zM558.6 161.6h4.4l-2.2 3.2zM558.8 160h4.4l-2.2 3.2zM559 161.2h4.4l-2.2 3.2zM559.2 161.6h4.4l-2.2 3.2zM559.3 159.4h4.4l-2.2 3.2zM559.5 163h4.4l-2.2 3.2zM559.7 163.2h4.4l-2.2 3.2zM559.9 159.3h4.4l-2.2 3.2zM560.1 164.2h4.4l-2.2 3.2zM560.3 164h4.4l-2.2 3.2zM560.4 156.7h4.4l-2.2 3.2zM560.6 151.4h4.4l-2.2 3.2zM560.8 158.8h4.4l-2.2 3.2zM561 161.2h4.4l-2.2 3.2zM561.2 162.3h4.4l-2.2 3.2zM561.4 161.7h4.4l-2.2 3.2zM561.5 160.1h4.4l-2.2 3.2zM561.7 162.4h4.4l-2.2 3.2zM561.9 161.8h4.4l-2.2 3.2zM562.1 159.2h4.4l-2.2 3.2zM562.3 160.6h4.4l-2.2 3.2zM562.5 162.6h4.4l-2.2 3.2zM562.6 158.7h4.4l-2.2 3.2zM562.8 157.7h4.4l-2.2 3.2zM563 158.2h4.4l-2.2 3.2zM563.2 163.4h4.4l-2.2 3.2zM563.4 161.6h4.4l-2.2 3.2zM563.6 162h4.4l-2.2 3.2zM563.7 159.3h4.4l-2.2 3.2zM563.9 160h4.4l-2.2 3.2zM564.1 162.8h4.4l-2.2 3.2zM564.3 159.5h4.4l-2.2 3.2zM564.5 162.8h4.4l-2.2 3.2zM564.7 160h4.4l-2.2 3.2zM564.8 160h4.4l-2.2 3.2zM565 161.3h4.4l-2.2 3.2zM565.2 162h4.4l-2.2 3.2zM565.4 164h4.4l-2.2 3.2zM565.6 158.7h4.4l-2.2 3.2zM565.8 163.8h4.4l-2.2 3.2zM565.9 158.3h4.4l-2.2 3.2zM566.1 158.1h4.4l-2.2 3.2zM566.3 155h4.4l-2.2 3.2zM566.5 161.9h4.4l-2.2 3.2zM566.7 163.3h4.4l-2.2 3.2zM566.9 157.3h4.4l-2.2 3.2zM567 159.3h4.4l-2.2 3.2zM567.2 159.4h4.4l-2.2 3.2zM567.4 156.5h4.4l-2.2 3.2zM567.6 160.1h4.4l-2.2 3.2zM567.8 160.6h4.4l-2.2 3.2zM568 158.8h4.4l-2.2 3.2zM568.1 157.6h4.4l-2.2 3.2zM568.3 160.2h4.4l-2.2 3.2zM568.5 161.3h4.4l-2.2 3.2zM568.7 156.7h4.4l-2.2 3.2zM568.9 159.7h4.4l-2.2 3.2zM569.1 161.1h4.4l-2.2 3.2zM569.2 153.6h4.4l-2.2 3.2zM569.4 160.6h4.4l-2.2 3.2zM569.6 163.7h4.4l-2.2 3.2zM569.8 157h4.4l-2.2 3.2zM570 162.8h4.4l-2.2 3.2zM570.2 159.2h4.4l-2.2 3.2zM570.3 161.2h4.4l-2.2 3.2zM570.5 159.5h4.4l-2.2 3.2zM570.7 157.2h4.4l-2.2 3.2zM570.9 156h4.4l-2.2 3.2zM571.1 165.1h4.4l-2.2 3.2zM571.3 156.8h4.4l-2.2 3.2zM571.4 159.1h4.4l-2.2 3.2zM571.6 162.9h4.4l-2.2 3.2zM571.8 160.4h4.4l-2.2 3.2zM572 160.1h4.4l-2.2 3.2zM572.2 155.2h4.4l-2.2 3.2zM572.4 158.3h4.4l-2.2 3.2zM572.5 156.7h4.4l-2.2 3.2zM572.7 155.6h4.4l-2.2 3.2zM572.9 160.4h4.4l-2.2 3.2zM573.1 161.5h4.4l-2.2 3.2zM573.3 157.9h4.4l-2.2 3.2zM573.5 158.1h4.4l-2.2 3.2zM573.6 160.5h4.4l-2.2 3.2zM573.8 161.5h4.4l-2.2 3.2zM574 157.2h4.4l-2.2 3.2zM574.2 162.1h4.4l-2.2 3.2zM574.4 161.6h4.4l-2.2 3.2zM574.6 159.5h4.4l-2.2 3.2zM574.7 157h4.4l-2.2 3.2zM574.9 160.7h4.4l-2.2 3.2zM575.1 160.9h4.4l-2.2 3.2zM575.3 163.3h4.4l-2.2 3.2zM575.5 158h4.4l-2.2 3.2zM575.7 162.9h4.4l-2.2 3.2zM575.8 158.5h4.4l-2.2 3.2zM576 160.5h4.4l-2.2 3.2zM576.2 159h4.4l-2.2 3.2zM576.4 159.4h4.4l-2.2 3.2zM576.6 162.5h4.4l-2.2 3.2zM576.8 157.7h4.4l-2.2 3.2zM576.9 161h4.4l-2.2 3.2zM577.1 158.5h4.4l-2.2 3.2zM577.3 159h4.4l-2.2 3.2zM577.5 157.5h4.4l-2.2 3.2zM577.7 159.5h4.4l-2.2 3.2zM577.8 154.6h4.4l-2.2 3.2zM578 158.4h4.4l-2.2 3.2zM578.2 161.3h4.4l-2.2 3.2zM578.4 160.9h4.4l-2.2 3.2zM578.6 155.3h4.4l-2.2 3.2zM578.8 154.7h4.4l-2.2 3.2zM578.9 158h4.4l-2.2 3.2zM579.1 163.1h4.4l-2.2 3.2zM579.3 157.9h4.4l-2.2 3.2zM579.5 158.8h4.4l-2.2 3.2zM579.7 158.3h4.4l-2.2 3.2zM579.9 159.5h4.4l-2.2 3.2zM580 156.7h4.4l-2.2 3.2zM580.2 159.3h4.4l-2.2 3.2zM580.4 159.8h4.4l-2.2 3.2zM580.6 161h4.4l-2.2 3.2zM580.8 156.7h4.4l-2.2 3.2zM581 160.7h4.4l-2.2 3.2zM581.1 162.9h4.4l-2.2 3.2zM581.3 160.4h4.4l-2.2 3.2zM581.5 160.1h4.4l-2.2 3.2zM581.7 153.1h4.4l-2.2 3.2zM581.9 161.5h4.4l-2.2 3.2zM582.1 162.8h4.4l-2.2 3.2zM582.2 161.2h4.4l-2.2 3.2zM582.4 159.6h4.4l-2.2 3.2zM582.6 160.3h4.4l-2.2 3.2zM582.8 165.1h4.4l-2.2 3.2zM583 155.6h4.4l-2.2 3.2zM583.2 157.4h4.4l-2.2 3.2zM583.3 160.7h4.4l-2.2 3.2zM583.5 158.8h4.4l-2.2 3.2zM583.7 153.4h4.4l-2.2 3.2zM583.9 158.7h4.4l-2.2 3.2zM584.1 158.9h4.4l-2.2 3.2zM584.3 156h4.4l-2.2 3.2zM584.4 158.9h4.4l-2.2 3.2zM584.6 158.6h4.4l-2.2 3.2zM584.8 154h4.4l-2.2 3.2zM585 159.1h4.4l-2.2 3.2zM585.2 162.7h4.4l-2.2 3.2zM585.4 161.8h4.4l-2.2 3.2zM585.5 155.3h4.4l-2.2 3.2zM585.7 154.9h4.4l-2.2 3.2zM585.9 157.9h4.4l-2.2 3.2zM586.1 158.4h4.4l-2.2 3.2zM586.3 154.7h4.4l-2.2 3.2zM586.5 156h4.4l-2.2 3.2zM586.6 160.7h4.4l-2.2 3.2zM586.8 158.1h4.4l-2.2 3.2zM587 159.9h4.4l-2.2 3.2zM587.2 157.5h4.4l-2.2 3.2zM587.4 159.8h4.4l-2.2 3.2zM587.6 156.3h4.4l-2.2 3.2zM587.7 156.3h4.4l-2.2 3.2zM587.9 155.3h4.4l-2.2 3.2zM588.1 153.1h4.4l-2.2 3.2zM588.3 156.4h4.4l-2.2 3.2zM588.5 154.3h4.4l-2.2 3.2zM588.7 156.2h4.4l-2.2 3.2zM588.8 157.6h4.4l-2.2 3.2zM589 157.6h4.4l-2.2 3.2zM589.2 158.7h4.4l-2.2 3.2zM589.4 156.3h4.4l-2.2 3.2zM589.6 157h4.4l-2.2 3.2zM589.8 159.7h4.4l-2.2 3.2zM589.9 156.7h4.4l-2.2 3.2zM590.1 157.1h4.4l-2.2 3.2zM590.3 151.6h4.4l-2.2 3.2zM590.5 154.5h4.4l-2.2 3.2zM590.7 159.4h4.4l-2.2 3.2zM590.9 153.7h4.4l-2.2 3.2zM591 154.5h4.4l-2.2 3.2zM591.2 159.1h4.4l-2.2 3.2zM591.4 154.2h4.4l-2.2 3.2zM591.6 159.1h4.4l-2.2 3.2zM591.8 156.7h4.4l-2.2 3.2zM592 155.5h4.4l-2.2 3.2zM592.1 152.3h4.4l-2.2 3.2zM592.3 159.8h4.4l-2.2 3.2zM592.5 152.8h4.4l-2.2 3.2zM592.7 154.1h4.4l-2.2 3.2zM592.9 158.6h4.4l-2.2 3.2zM593.1 154.1h4.4l-2.2 3.2zM593.2 158h4.4l-2.2 3.2zM593.4 156.8h4.4l-2.2 3.2zM593.6 156.3h4.4l-2.2 3.2zM593.8 154.5h4.4l-2.2 3.2zM594 155.4h4.4l-2.2 3.2zM594.2 157.5h4.4l-2.2 3.2zM594.3 154.7h4.4l-2.2 3.2zM594.5 158.3h4.4l-2.2 3.2zM594.7 157.4h4.4l-2.2 3.2zM594.9 158.1h4.4l-2.2 3.2zM595.1 157.4h4.4l-2.2 3.2zM595.3 158.1h4.4l-2.2 3.2zM595.4 157.7h4.4l-2.2 3.2zM595.6 158.7h4.4l-2.2 3.2zM595.8 157.7h4.4l-2.2 3.2zM596 157.6h4.4l-2.2 3.2zM596.2 154.8h4.4l-2.2 3.2zM596.4 153h4.4l-2.2 3.2zM596.5 157h4.4l-2.2 3.2zM596.7 160.4h4.4l-2.2 3.2zM596.9 154.8h4.4l-2.2 3.2zM597.1 153.3h4.4l-2.2 3.2zM597.3 155.6h4.4l-2.2 3.2zM597.5 157.7h4.4l-2.2 3.2zM597.6 160h4.4l-2.2 3.2zM597.8 156.1h4.4l-2.2 3.2zM598 154.2h4.4l-2.2 3.2zM598.2 156.7h4.4l-2.2 3.2zM598.4 158.4h4.4l-2.2 3.2zM598.6 156.6h4.4l-2.2 3.2zM598.7 160.6h4.4l-2.2 3.2zM598.9 155.7h4.4l-2.2 3.2zM599.1 158.8h4.4l-2.2 3.2zM599.3 160.5h4.4l-2.2 3.2zM599.5 154.6h4.4l-2.2 3.2zM599.7 154.9h4.4l-2.2 3.2zM599.8 158.3h4.4l-2.2 3.2zM600 163.8h4.4l-2.2 3.2zM600.2 158h4.4l-2.2 3.2zM600.4 156.7h4.4l-2.2 3.2zM600.6 159.8h4.4l-2.2 3.2zM600.8 156.6h4.4l-2.2 3.2zM600.9 153.3h4.4l-2.2 3.2zM601.1 154.7h4.4l-2.2 3.2zM601.3 159.8h4.4l-2.2 3.2zM601.5 153.1h4.4l-2.2 3.2zM601.7 153.7h4.4l-2.2 3.2zM601.9 158.7h4.4l-2.2 3.2zM602 157.2h4.4l-2.2 3.2zM602.2 159.5h4.4l-2.2 3.2zM602.4 154.5h4.4l-2.2 3.2zM602.6 155.2h4.4l-2.2 3.2zM602.8 156.1h4.4l-2.2 3.2zM602.9 154.1h4.4l-2.2 3.2zM603.1 156.3h4.4l-2.2 3.2zM603.3 156.2h4.4l-2.2 3.2zM603.5 158.8h4.4l-2.2 3.2zM603.7 156.7h4.4l-2.2 3.2zM603.9 156h4.4l-2.2 3.2zM604 157.9h4.4l-2.2 3.2zM604.2 159.3h4.4l-2.2 3.2zM604.4 159.1h4.4l-2.2 3.2zM604.6 157.5h4.4l-2.2 3.2zM604.8 156h4.4l-2.2 3.2zM605 155.8h4.4l-2.2 3.2zM605.1 154h4.4l-2.2 3.2zM605.3 157h4.4l-2.2 3.2zM605.5 156.8h4.4l-2.2 3.2zM605.7 160.5h4.4l-2.2 3.2zM605.9 157.3h4.4l-2.2 3.2zM606.1 158.5h4.4l-2.2 3.2zM606.2 159.7h4.4l-2.2 3.2zM606.4 152.7h4.4l-2.2 3.2zM606.6 155.4h4.4l-2.2 3.2zM606.8 156.3h4.4l-2.2 3.2zM607 157.1h4.4l-2.2 3.2zM607.2 154.4h4.4l-2.2 3.2zM607.3 158.7h4.4l-2.2 3.2zM607.5 158.8h4.4l-2.2 3.2zM607.7 158h4.4l-2.2 3.2zM607.9 158.4h4.4l-2.2 3.2zM608.1 154.4h4.4l-2.2 3.2zM608.3 159.4h4.4l-2.2 3.2zM608.4 155.5h4.4l-2.2 3.2zM608.6 152.7h4.4l-2.2 3.2zM608.8 157.1h4.4l-2.2 3.2zM609 158.4h4.4l-2.2 3.2zM609.2 155.4h4.4l-2.2 3.2zM609.4 153.2h4.4l-2.2 3.2zM609.5 154.3h4.4l-2.2 3.2zM609.7 156.5h4.4l-2.2 3.2zM609.9 151.3h4.4l-2.2 3.2zM610.1 159.1h4.4l-2.2 3.2zM610.3 159.1h4.4l-2.2 3.2zM610.5 156.5h4.4l-2.2 3.2zM610.6 159.2h4.4l-2.2 3.2zM610.8 156.5h4.4l-2.2 3.2zM611 154.4h4.4l-2.2 3.2zM611.2 158.2h4.4l-2.2 3.2zM611.4 158.1h4.4l-2.2 3.2zM611.6 154.8h4.4l-2.2 3.2zM611.7 153.8h4.4l-2.2 3.2zM611.9 154.7h4.4l-2.2 3.2zM612.1 159.4h4.4l-2.2 3.2zM612.3 156.2h4.4l-2.2 3.2zM612.5 163h4.4l-2.2 3.2zM612.7 155.4h4.4l-2.2 3.2zM612.8 158.2h4.4l-2.2 3.2zM613 157.6h4.4l-2.2 3.2zM613.2 156.4h4.4l-2.2 3.2zM613.4 158.7h4.4l-2.2 3.2zM613.6 155h4.4l-2.2 3.2zM613.8 156.7h4.4l-2.2 3.2zM613.9 154.3h4.4l-2.2 3.2zM614.1 152.1h4.4l-2.2 3.2zM614.3 157h4.4l-2.2 3.2zM614.5 154.3h4.4l-2.2 3.2zM614.7 154h4.4l-2.2 3.2zM614.9 158.1h4.4l-2.2 3.2zM615 156.5h4.4l-2.2 3.2zM615.2 157.7h4.4l-2.2 3.2zM615.4 160.6h4.4l-2.2 3.2zM615.6 157.2h4.4l-2.2 3.2zM615.8 157.8h4.4l-2.2 3.2zM616 154.2h4.4l-2.2 3.2zM616.1 158.7h4.4l-2.2 3.2zM616.3 158.7h4.4l-2.2 3.2zM616.5 154.6h4.4l-2.2 3.2zM616.7 158.3h4.4l-2.2 3.2zM616.9 157.6h4.4l-2.2 3.2zM617.1 156.4h4.4l-2.2 3.2zM617.2 157h4.4l-2.2 3.2zM617.4 162.1h4.4l-2.2 3.2zM617.6 155.4h4.4l-2.2 3.2zM617.8 156.1h4.4l-2.2 3.2zM618 157.1h4.4l-2.2 3.2zM618.2 156.2h4.4l-2.2 3.2zM618.3 152.9h4.4l-2.2 3.2zM618.5 158.3h4.4l-2.2 3.2zM618.7 158.9h4.4l-2.2 3.2zM618.9 160.6h4.4l-2.2 3.2zM619.1 155.6h4.4l-2.2 3.2zM619.3 154.1h4.4l-2.2 3.2zM619.4 158.3h4.4l-2.2 3.2zM619.6 154.6h4.4l-2.2 3.2zM619.8 156.9h4.4l-2.2 3.2zM620 156h4.4l-2.2 3.2zM620.2 157.3h4.4l-2.2 3.2zM620.4 155.9h4.4l-2.2 3.2zM620.5 158.4h4.4l-2.2 3.2zM620.7 154.9h4.4l-2.2 3.2zM620.9 165.7h4.4l-2.2 3.2zM621.1 158.6h4.4l-2.2 3.2zM621.3 155.5h4.4l-2.2 3.2zM621.5 154.8h4.4l-2.2 3.2zM621.6 156.5h4.4l-2.2 3.2zM621.8 155.9h4.4l-2.2 3.2zM622 155.1h4.4l-2.2 3.2zM622.2 159.9h4.4l-2.2 3.2zM622.4 159h4.4l-2.2 3.2zM622.6 154.5h4.4l-2.2 3.2zM622.7 158.1h4.4l-2.2 3.2zM622.9 156.9h4.4l-2.2 3.2zM623.1 159.7h4.4l-2.2 3.2zM623.3 155.5h4.4l-2.2 3.2zM623.5 161.5h4.4l-2.2 3.2zM623.7 157.2h4.4l-2.2 3.2zM623.8 161.2h4.4l-2.2 3.2zM624 155.9h4.4l-2.2 3.2zM624.2 159.8h4.4l-2.2 3.2zM624.4 156.7h4.4l-2.2 3.2zM624.6 160.5h4.4l-2.2 3.2zM624.8 156.5h4.4l-2.2 3.2zM624.9 154.6h4.4l-2.2 3.2zM625.1 154.6h4.4l-2.2 3.2zM625.3 155.6h4.4l-2.2 3.2zM625.5 158.3h4.4l-2.2 3.2zM625.7 157.8h4.4l-2.2 3.2zM625.9 157.2h4.4l-2.2 3.2zM626 159.3h4.4l-2.2 3.2zM626.2 160.5h4.4l-2.2 3.2zM626.4 154.8h4.4l-2.2 3.2zM626.6 159.2h4.4l-2.2 3.2zM626.8 162h4.4l-2.2 3.2zM626.9 155.7h4.4l-2.2 3.2zM627.1 155.8h4.4l-2.2 3.2zM627.3 157.9h4.4l-2.2 3.2zM627.5 157.5h4.4l-2.2 3.2zM627.7 155.9h4.4l-2.2 3.2zM627.9 156.9h4.4l-2.2 3.2zM628 160.5h4.4l-2.2 3.2zM628.2 159h4.4l-2.2 3.2zM628.4 154.1h4.4l-2.2 3.2zM628.6 153.4h4.4l-2.2 3.2zM628.8 154.7h4.4l-2.2 3.2zM629 157.4h4.4l-2.2 3.2zM629.1 155.4h4.4l-2.2 3.2zM629.3 155.2h4.4l-2.2 3.2zM629.5 158.6h4.4l-2.2 3.2zM629.7 156.5h4.4l-2.2 3.2zM629.9 156.3h4.4l-2.2 3.2zM630.1 157.6h4.4l-2.2 3.2zM630.2 160.2h4.4l-2.2 3.2zM630.4 157.8h4.4l-2.2 3.2zM630.6 158.6h4.4l-2.2 3.2zM630.8 157.3h4.4l-2.2 3.2zM631 160.5h4.4l-2.2 3.2zM631.2 154.5h4.4l-2.2 3.2zM631.3 154.7h4.4l-2.2 3.2zM631.5 156h4.4l-2.2 3.2zM631.7 161.5h4.4l-2.2 3.2zM631.9 160.5h4.4l-2.2 3.2zM632.1 154.8h4.4l-2.2 3.2zM632.3 156.2h4.4l-2.2 3.2zM632.4 158.4h4.4l-2.2 3.2zM632.6 157.3h4.4l-2.2 3.2zM632.8 159.1h4.4l-2.2 3.2zM633 156.1h4.4l-2.2 3.2zM633.2 153.6h4.4l-2.2 3.2zM633.4 158.5h4.4l-2.2 3.2zM633.5 159.9h4.4l-2.2 3.2zM633.7 153.9h4.4l-2.2 3.2zM633.9 153.2h4.4l-2.2 3.2zM634.1 155.6h4.4l-2.2 3.2zM634.3 153.2h4.4l-2.2 3.2zM634.5 158.2h4.4l-2.2 3.2zM634.6 154.8h4.4l-2.2 3.2zM634.8 158.9h4.4l-2.2 3.2zM635 156.5h4.4l-2.2 3.2zM635.2 157.6h4.4l-2.2 3.2zM635.4 158.7h4.4l-2.2 3.2zM635.6 156.9h4.4l-2.2 3.2zM635.7 155.1h4.4l-2.2 3.2zM635.9 159.3h4.4l-2.2 3.2zM636.1 154.2h4.4l-2.2 3.2zM636.3 160.3h4.4l-2.2 3.2zM636.5 156h4.4l-2.2 3.2zM636.7 156.2h4.4l-2.2 3.2zM636.8 158.2h4.4l-2.2 3.2zM637 158.3h4.4l-2.2 3.2zM637.2 158.5h4.4l-2.2 3.2zM637.4 154.2h4.4l-2.2 3.2zM637.6 155.5h4.4l-2.2 3.2zM637.8 158.1h4.4l-2.2 3.2zM637.9 158.2h4.4l-2.2 3.2zM638.1 157.2h4.4l-2.2 3.2zM638.3 160.2h4.4l-2.2 3.2zM638.5 157.1h4.4l-2.2 3.2zM638.7 159.5h4.4l-2.2 3.2zM638.9 159.8h4.4l-2.2 3.2zM639 158.2h4.4l-2.2 3.2zM639.2 157.1h4.4l-2.2 3.2zM639.4 159.1h4.4l-2.2 3.2zM639.6 158.4h4.4l-2.2 3.2zM639.8 158.8h4.4l-2.2 3.2zM640 155.7h4.4l-2.2 3.2zM640.1 158.5h4.4l-2.2 3.2zM640.3 160.9h4.4l-2.2 3.2zM640.5 157h4.4l-2.2 3.2zM640.7 157.9h4.4l-2.2 3.2zM640.9 157.1h4.4l-2.2 3.2zM641.1 159.5h4.4l-2.2 3.2zM641.2 153.2h4.4l-2.2 3.2zM641.4 161h4.4l-2.2 3.2zM641.6 158.7h4.4l-2.2 3.2zM641.8 157.2h4.4l-2.2 3.2zM642 158.2h4.4l-2.2 3.2zM642.2 160.1h4.4l-2.2 3.2zM642.3 158.5h4.4l-2.2 3.2zM642.5 159.1h4.4l-2.2 3.2zM642.7 160.3h4.4l-2.2 3.2zM642.9 158.1h4.4l-2.2 3.2zM643.1 159.3h4.4l-2.2 3.2zM643.3 160.9h4.4l-2.2 3.2zM643.4 159h4.4l-2.2 3.2zM643.6 156.5h4.4l-2.2 3.2zM643.8 159.5h4.4l-2.2 3.2zM644 162.2h4.4l-2.2 3.2zM644.2 157.2h4.4l-2.2 3.2zM644.4 158.8h4.4l-2.2 3.2zM644.5 158.8h4.4l-2.2 3.2zM644.7 159.8h4.4l-2.2 3.2zM644.9 157.1h4.4l-2.2 3.2zM645.1 157.9h4.4l-2.2 3.2zM645.3 162.1h4.4l-2.2 3.2zM645.5 159.5h4.4l-2.2 3.2zM645.6 156.7h4.4l-2.2 3.2zM645.8 159.7h4.4l-2.2 3.2zM646 158.2h4.4l-2.2 3.2zM646.2 161.3h4.4l-2.2 3.2zM646.4 154.7h4.4l-2.2 3.2zM646.6 158.3h4.4l-2.2 3.2zM646.7 160.2h4.4l-2.2 3.2zM646.9 153.6h4.4l-2.2 3.2zM647.1 156.6h4.4l-2.2 3.2zM647.3 159.2h4.4l-2.2 3.2zM647.5 158.3h4.4l-2.2 3.2zM647.7 157.6h4.4l-2.2 3.2zM647.8 158.9h4.4l-2.2 3.2zM648 155.3h4.4l-2.2 3.2zM648.2 156.5h4.4l-2.2 3.2zM648.4 161.9h4.4l-2.2 3.2zM648.6 157h4.4l-2.2 3.2zM648.8 159.2h4.4l-2.2 3.2zM648.9 158.2h4.4l-2.2 3.2zM649.1 160.2h4.4l-2.2 3.2zM649.3 159.1h4.4l-2.2 3.2zM649.5 159.2h4.4l-2.2 3.2zM649.7 160.9h4.4l-2.2 3.2zM649.9 159.1h4.4l-2.2 3.2zM650 154.9h4.4l-2.2 3.2zM650.2 157.1h4.4l-2.2 3.2zM650.4 161.5h4.4l-2.2 3.2zM650.6 160.7h4.4l-2.2 3.2zM650.8 158.1h4.4l-2.2 3.2zM650.9 155.2h4.4l-2.2 3.2zM651.1 157.1h4.4l-2.2 3.2zM651.3 162.9h4.4l-2.2 3.2zM651.5 161.1h4.4l-2.2 3.2zM651.7 161.2h4.4l-2.2 3.2zM651.9 155.3h4.4l-2.2 3.2zM652 155.8h4.4l-2.2 3.2zM652.2 157.5h4.4l-2.2 3.2zM652.4 155.9h4.4l-2.2 3.2zM652.6 159h4.4l-2.2 3.2zM652.8 156.5h4.4l-2.2 3.2zM653 159.7h4.4l-2.2 3.2zM653.1 158.3h4.4l-2.2 3.2zM653.3 156.8h4.4l-2.2 3.2zM653.5 160.2h4.4l-2.2 3.2zM653.7 160.4h4.4l-2.2 3.2zM653.9 159.1h4.4l-2.2 3.2zM654.1 158.1h4.4l-2.2 3.2zM654.2 158.8h4.4l-2.2 3.2zM654.4 154.9h4.4l-2.2 3.2zM654.6 154.9h4.4l-2.2 3.2zM654.8 157.6h4.4l-2.2 3.2zM655 159.3h4.4l-2.2 3.2zM655.2 162.6h4.4l-2.2 3.2zM655.3 159.8h4.4l-2.2 3.2zM655.5 157h4.4l-2.2 3.2zM655.7 158.1h4.4l-2.2 3.2zM655.9 156.5h4.4l-2.2 3.2zM656.1 159h4.4l-2.2 3.2zM656.3 158.9h4.4l-2.2 3.2zM656.4 159.1h4.4l-2.2 3.2zM656.6 159.7h4.4l-2.2 3.2zM656.8 161.3h4.4l-2.2 3.2zM657 160.6h4.4l-2.2 3.2zM657.2 156.8h4.4l-2.2 3.2zM657.4 161h4.4l-2.2 3.2zM657.5 157.2h4.4l-2.2 3.2zM657.7 160.1h4.4l-2.2 3.2zM657.9 159.5h4.4l-2.2 3.2zM658.1 162.8h4.4l-2.2 3.2zM658.3 159.2h4.4l-2.2 3.2zM658.5 159.2h4.4l-2.2 3.2zM658.6 158.8h4.4l-2.2 3.2zM658.8 161.2h4.4l-2.2 3.2zM659 160.1h4.4l-2.2 3.2zM659.2 158.9h4.4l-2.2 3.2zM659.4 161.2h4.4l-2.2 3.2zM659.6 163.9h4.4l-2.2 3.2zM659.7 162.9h4.4l-2.2 3.2zM659.9 162.7h4.4l-2.2 3.2zM660.1 158.5h4.4l-2.2 3.2zM660.3 159.4h4.4l-2.2 3.2zM660.5 160h4.4l-2.2 3.2zM660.7 156.2h4.4l-2.2 3.2zM660.8 165.7h4.4l-2.2 3.2zM661 156.8h4.4l-2.2 3.2zM661.2 160.6h4.4l-2.2 3.2zM661.4 157.2h4.4l-2.2 3.2zM661.6 160h4.4l-2.2 3.2zM661.8 161.5h4.4l-2.2 3.2zM661.9 160.9h4.4l-2.2 3.2zM662.1 158.1h4.4l-2.2 3.2zM662.3 158.6h4.4l-2.2 3.2zM662.5 161.8h4.4l-2.2 3.2zM662.7 159.8h4.4l-2.2 3.2zM662.9 160.2h4.4l-2.2 3.2zM663 161.9h4.4l-2.2 3.2zM663.2 154.9h4.4l-2.2 3.2zM663.4 160.5h4.4l-2.2 3.2zM663.6 162.6h4.4l-2.2 3.2zM663.8 163.7h4.4l-2.2 3.2zM664 161.5h4.4l-2.2 3.2zM664.1 158.6h4.4l-2.2 3.2zM664.3 162.1h4.4l-2.2 3.2zM664.5 164h4.4l-2.2 3.2zM664.7 158.9h4.4l-2.2 3.2zM664.9 158.7h4.4l-2.2 3.2zM665.1 159.9h4.4l-2.2 3.2zM665.2 159.4h4.4l-2.2 3.2zM665.4 156.1h4.4l-2.2 3.2zM665.6 155.5h4.4l-2.2 3.2zM665.8 157.7h4.4l-2.2 3.2zM666 159.1h4.4l-2.2 3.2zM666.2 161.3h4.4l-2.2 3.2zM666.3 159.3h4.4l-2.2 3.2zM666.5 160.8h4.4l-2.2 3.2zM666.7 163.2h4.4l-2.2 3.2zM666.9 170.8h4.4l-2.2 3.2zM667.1 162.3h4.4l-2.2 3.2zM667.3 158.5h4.4l-2.2 3.2zM667.4 162.6h4.4l-2.2 3.2zM667.6 160.6h4.4l-2.2 3.2zM667.8 161.3h4.4l-2.2 3.2zM668 162.6h4.4l-2.2 3.2zM668.2 162.2h4.4l-2.2 3.2zM668.4 158h4.4l-2.2 3.2zM668.5 158.4h4.4l-2.2 3.2zM668.7 161.2h4.4l-2.2 3.2zM668.9 162.1h4.4l-2.2 3.2zM669.1 168h4.4l-2.2 3.2zM669.3 162h4.4l-2.2 3.2zM669.5 160.1h4.4l-2.2 3.2zM669.6 159.8h4.4l-2.2 3.2zM669.8 159.4h4.4l-2.2 3.2zM670 158.2h4.4l-2.2 3.2zM670.2 158.2h4.4l-2.2 3.2zM670.4 159.8h4.4l-2.2 3.2zM670.6 161.1h4.4l-2.2 3.2zM670.7 159.4h4.4l-2.2 3.2zM670.9 161h4.4l-2.2 3.2zM671.1 160.4h4.4l-2.2 3.2zM671.3 160.6h4.4l-2.2 3.2zM671.5 160.2h4.4l-2.2 3.2zM671.7 161.7h4.4l-2.2 3.2zM671.8 161.1h4.4l-2.2 3.2zM672 155.8h4.4l-2.2 3.2zM672.2 162.1h4.4l-2.2 3.2zM672.4 161.4h4.4l-2.2 3.2zM672.6 160h4.4l-2.2 3.2zM672.8 161.6h4.4l-2.2 3.2zM672.9 159.8h4.4l-2.2 3.2zM673.1 161.5h4.4l-2.2 3.2zM673.3 159.5h4.4l-2.2 3.2zM673.5 163.7h4.4l-2.2 3.2zM673.7 162h4.4l-2.2 3.2zM673.9 158.4h4.4l-2.2 3.2zM674 160h4.4l-2.2 3.2zM674.2 162.8h4.4l-2.2 3.2zM674.4 162.2h4.4l-2.2 3.2z" fill="#00f" stroke="#00f" stroke-width="0.6"/>
</g>
<g stroke="#000" fill="none">
<rect x="72.25" y="5.3" width="604.4" height="362.9" stroke-width="2.7"/>
<path d="M65 340.3H72M65 284.5H72M65 228.6H72M65 172.8H72M65 117H72M65 61.1H72M65 5.3H72M118.7 368V374M211.7 368V374M304.7 368V374M397.6 368V374M490.6 368V374M583.6 368V374M676.6 368V374" stroke-width="1.3"/>
</g>
<g font-family="'Liberation Sans', sans-serif" font-weight="bold" fill="#000">
<text transform="translate(57.8 345.3) scale(1.23 1)" font-size="13.8" text-anchor="end">0</text>
<text transform="translate(57.8 289.5) scale(1.23 1)" font-size="13.8" text-anchor="end">100</text>
<text transform="translate(57.8 233.6) scale(1.23 1)" font-size="13.8" text-anchor="end">200</text>
<text transform="translate(57.8 177.8) scale(1.23 1)" font-size="13.8" text-anchor="end">300</text>
<text transform="translate(57.8 122) scale(1.23 1)" font-size="13.8" text-anchor="end">400</text>
<text transform="translate(57.8 66.1) scale(1.23 1)" font-size="13.8" text-anchor="end">500</text>
<text transform="translate(57.8 10.3) scale(1.23 1)" font-size="13.8" text-anchor="end">600</text>
<text transform="translate(118.7 394.2) scale(1.23 1)" font-size="13.8" text-anchor="middle">20</text>
<text transform="translate(211.7 394.2) scale(1.23 1)" font-size="13.8" text-anchor="middle">30</text>
<text transform="translate(304.7 394.2) scale(1.23 1)" font-size="13.8" text-anchor="middle">40</text>
<text transform="translate(397.6 394.2) scale(1.23 1)" font-size="13.8" text-anchor="middle">50</text>
<text transform="translate(490.6 394.2) scale(1.23 1)" font-size="13.8" text-anchor="middle">60</text>
<text transform="translate(583.6 394.2) scale(1.23 1)" font-size="13.8" text-anchor="middle">70</text>
<text transform="translate(676.6 394.2) scale(1.23 1)" font-size="13.8" text-anchor="middle">80</text>
<text transform="translate(288.8 422.2) scale(1.2 1)" font-size="16.8">2θ</text>
<text transform="translate(321.5 422.2) scale(1.2 1)" font-size="16.8">(dgree)</text>
<text transform="translate(14.8 240.8) scale(1.25 1) rotate(-90)" font-size="17.2">Intinsity (a.u)</text>
<rect x="431.9" y="17.9" width="242.6" height="93.2" fill="#fff" stroke="#333" stroke-width="1.3"/>
<text transform="translate(491.6 41.6) scale(1.226 1)" font-size="13.8" xml:space="preserve">Blank</text>
<text transform="translate(491.6 60.5) scale(1.226 1)" font-size="13.8" xml:space="preserve">Treatment for 15min</text>
<text transform="translate(491.6 79.3) scale(1.226 1)" font-size="13.8" xml:space="preserve">Treatment  for 30min</text>
<text transform="translate(491.6 98.2) scale(1.226 1)" font-size="13.8" xml:space="preserve">Treatment for 45min</text>
</g>
<ellipse cx="446.6" cy="36.1" rx="5.6" ry="4.5" fill="#000"/>
<ellipse cx="446.6" cy="54.8" rx="5.6" ry="4.5" fill="#f00"/>
<path d="M441 70.4h13.2l-6.6 10.4z" fill="#0f0"/>
<path d="M440.5 89h14.2l-7.1 11z" fill="#00f"/>
</svg>
</body></html>
